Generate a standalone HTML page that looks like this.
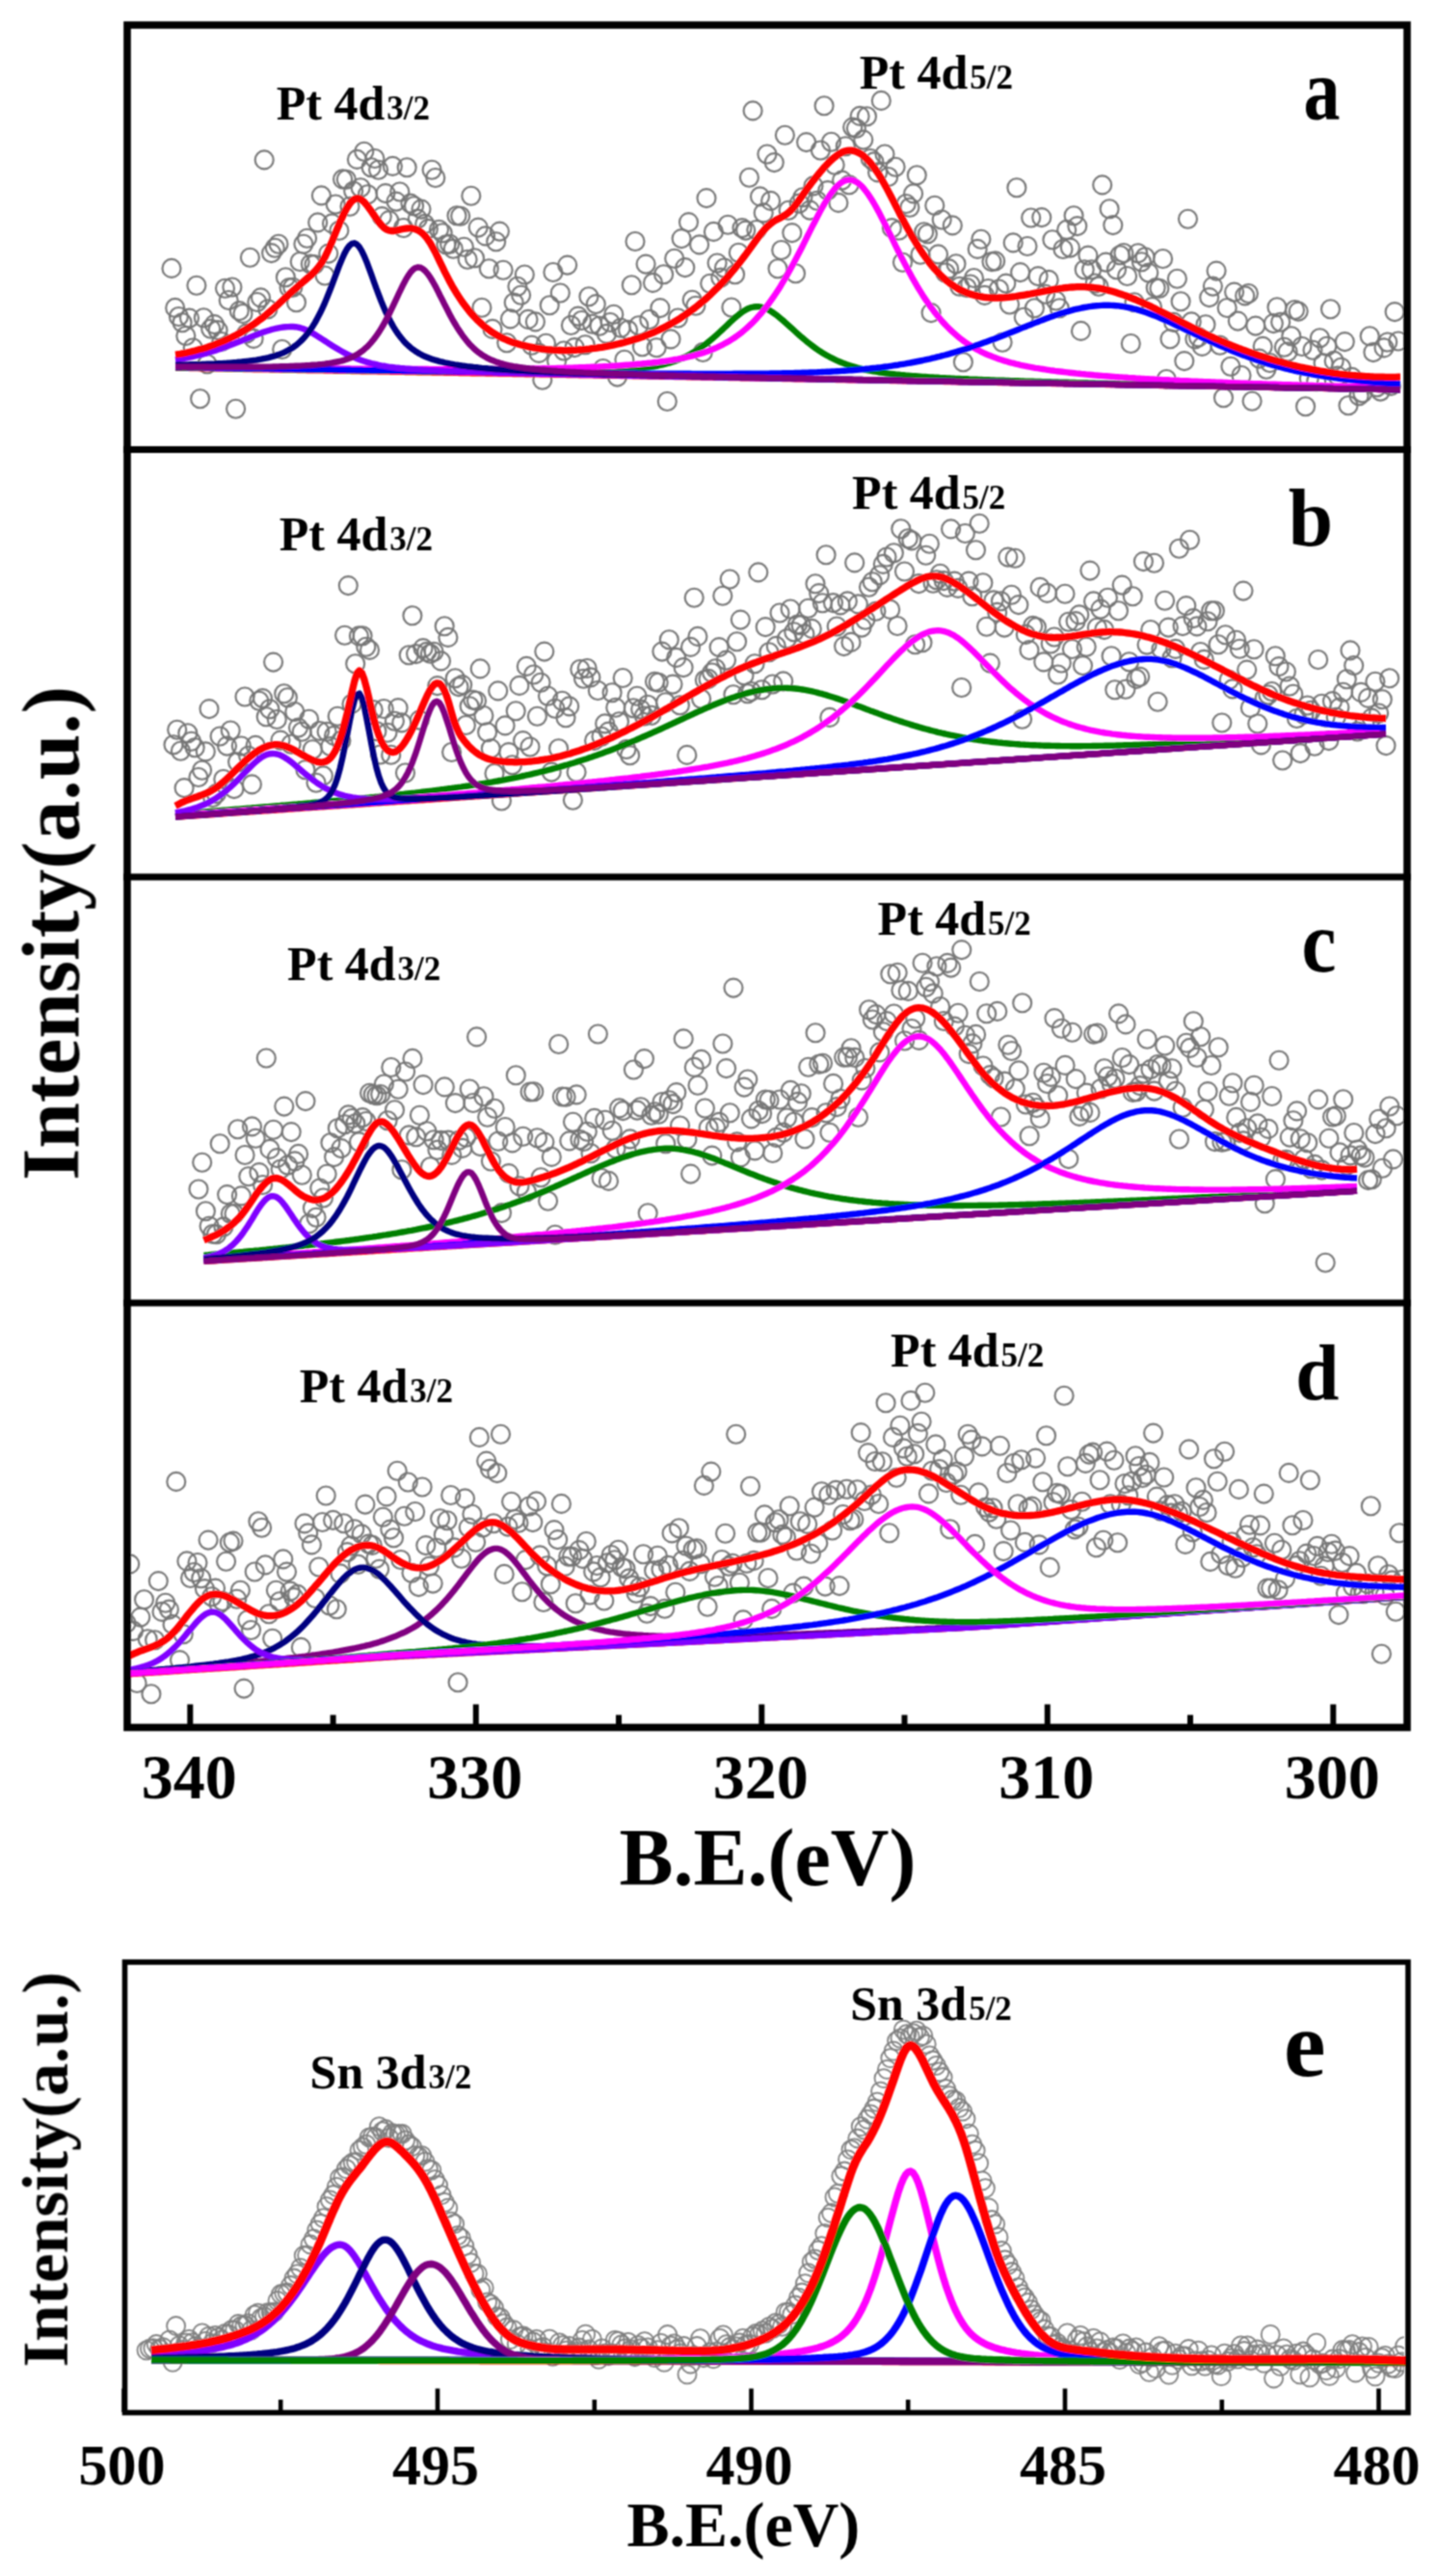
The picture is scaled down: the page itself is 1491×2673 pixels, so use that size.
<!DOCTYPE html>
<html><head><meta charset="utf-8"><style>html,body{margin:0;padding:0;background:#fff;}svg{display:block;}</style></head>
<body><svg width="1491" height="2673" viewBox="0 0 1491 2673">
<defs><filter id="soft" x="0" y="0" width="100%" height="100%" filterUnits="userSpaceOnUse" primitiveUnits="userSpaceOnUse"><feConvolveMatrix order="3" kernelMatrix="1 2 1 2 4 2 1 2 1" divisor="16" edgeMode="duplicate" preserveAlpha="false"/></filter></defs>
<rect width="1491" height="2673" fill="#fff"/>
<g filter="url(#soft)">
<clipPath id="cpa"><rect x="135" y="29" width="1322" height="434"/></clipPath><g fill="none" stroke="#767676" stroke-width="2.1" clip-path="url(#cpa)"><circle cx="178.0" cy="278.4" r="9.5"/><circle cx="181.7" cy="319.4" r="9.5"/><circle cx="185.4" cy="328.5" r="9.5"/><circle cx="189.1" cy="334.8" r="9.5"/><circle cx="192.8" cy="348.5" r="9.5"/><circle cx="196.5" cy="330.1" r="9.5"/><circle cx="200.2" cy="361.0" r="9.5"/><circle cx="203.9" cy="296.2" r="9.5"/><circle cx="207.6" cy="413.7" r="9.5"/><circle cx="211.3" cy="329.7" r="9.5"/><circle cx="215.0" cy="377.8" r="9.5"/><circle cx="218.7" cy="341.2" r="9.5"/><circle cx="222.4" cy="336.6" r="9.5"/><circle cx="226.1" cy="342.6" r="9.5"/><circle cx="229.8" cy="354.5" r="9.5"/><circle cx="233.5" cy="299.3" r="9.5"/><circle cx="237.2" cy="311.5" r="9.5"/><circle cx="240.9" cy="298.0" r="9.5"/><circle cx="244.6" cy="424.3" r="9.5"/><circle cx="248.3" cy="322.6" r="9.5"/><circle cx="252.0" cy="325.5" r="9.5"/><circle cx="255.7" cy="346.1" r="9.5"/><circle cx="259.4" cy="267.3" r="9.5"/><circle cx="263.1" cy="351.4" r="9.5"/><circle cx="266.8" cy="313.5" r="9.5"/><circle cx="270.5" cy="308.9" r="9.5"/><circle cx="274.2" cy="165.9" r="9.5"/><circle cx="277.9" cy="320.8" r="9.5"/><circle cx="281.6" cy="262.6" r="9.5"/><circle cx="285.3" cy="257.2" r="9.5"/><circle cx="289.0" cy="253.3" r="9.5"/><circle cx="292.7" cy="362.5" r="9.5"/><circle cx="296.4" cy="287.7" r="9.5"/><circle cx="300.1" cy="298.6" r="9.5"/><circle cx="303.8" cy="298.3" r="9.5"/><circle cx="307.5" cy="313.7" r="9.5"/><circle cx="311.2" cy="271.5" r="9.5"/><circle cx="314.9" cy="253.2" r="9.5"/><circle cx="318.6" cy="247.2" r="9.5"/><circle cx="322.3" cy="274.0" r="9.5"/><circle cx="326.0" cy="274.6" r="9.5"/><circle cx="329.7" cy="230.9" r="9.5"/><circle cx="333.4" cy="202.9" r="9.5"/><circle cx="337.1" cy="286.0" r="9.5"/><circle cx="340.8" cy="263.1" r="9.5"/><circle cx="344.5" cy="231.9" r="9.5"/><circle cx="348.2" cy="212.0" r="9.5"/><circle cx="351.9" cy="239.3" r="9.5"/><circle cx="355.6" cy="185.9" r="9.5"/><circle cx="359.3" cy="186.3" r="9.5"/><circle cx="363.0" cy="214.2" r="9.5"/><circle cx="366.7" cy="198.3" r="9.5"/><circle cx="370.4" cy="165.4" r="9.5"/><circle cx="374.1" cy="194.7" r="9.5"/><circle cx="377.8" cy="157.3" r="9.5"/><circle cx="381.5" cy="201.7" r="9.5"/><circle cx="385.2" cy="173.8" r="9.5"/><circle cx="388.9" cy="164.5" r="9.5"/><circle cx="392.6" cy="176.2" r="9.5"/><circle cx="396.3" cy="224.6" r="9.5"/><circle cx="400.0" cy="200.6" r="9.5"/><circle cx="403.7" cy="228.6" r="9.5"/><circle cx="407.4" cy="172.4" r="9.5"/><circle cx="411.1" cy="209.1" r="9.5"/><circle cx="414.8" cy="199.0" r="9.5"/><circle cx="418.5" cy="236.5" r="9.5"/><circle cx="422.2" cy="173.7" r="9.5"/><circle cx="425.9" cy="211.1" r="9.5"/><circle cx="429.6" cy="213.8" r="9.5"/><circle cx="433.3" cy="227.1" r="9.5"/><circle cx="437.0" cy="217.1" r="9.5"/><circle cx="440.7" cy="232.4" r="9.5"/><circle cx="444.4" cy="237.4" r="9.5"/><circle cx="448.1" cy="176.3" r="9.5"/><circle cx="451.8" cy="184.5" r="9.5"/><circle cx="455.5" cy="238.2" r="9.5"/><circle cx="459.2" cy="241.8" r="9.5"/><circle cx="462.9" cy="253.7" r="9.5"/><circle cx="466.6" cy="253.2" r="9.5"/><circle cx="470.3" cy="258.3" r="9.5"/><circle cx="474.0" cy="223.7" r="9.5"/><circle cx="477.7" cy="224.2" r="9.5"/><circle cx="481.4" cy="256.2" r="9.5"/><circle cx="485.1" cy="269.2" r="9.5"/><circle cx="488.8" cy="203.3" r="9.5"/><circle cx="492.5" cy="267.8" r="9.5"/><circle cx="496.2" cy="236.1" r="9.5"/><circle cx="499.9" cy="319.2" r="9.5"/><circle cx="503.6" cy="244.9" r="9.5"/><circle cx="507.3" cy="278.7" r="9.5"/><circle cx="511.0" cy="341.4" r="9.5"/><circle cx="514.7" cy="250.7" r="9.5"/><circle cx="518.4" cy="240.1" r="9.5"/><circle cx="522.1" cy="280.2" r="9.5"/><circle cx="525.8" cy="355.7" r="9.5"/><circle cx="529.5" cy="330.9" r="9.5"/><circle cx="533.2" cy="314.0" r="9.5"/><circle cx="536.9" cy="297.3" r="9.5"/><circle cx="540.6" cy="306.3" r="9.5"/><circle cx="544.3" cy="285.0" r="9.5"/><circle cx="548.0" cy="331.4" r="9.5"/><circle cx="551.7" cy="358.2" r="9.5"/><circle cx="555.4" cy="333.9" r="9.5"/><circle cx="559.1" cy="366.4" r="9.5"/><circle cx="562.8" cy="394.3" r="9.5"/><circle cx="566.5" cy="356.2" r="9.5"/><circle cx="570.2" cy="316.7" r="9.5"/><circle cx="573.9" cy="282.5" r="9.5"/><circle cx="577.6" cy="374.4" r="9.5"/><circle cx="581.3" cy="304.0" r="9.5"/><circle cx="585.0" cy="364.0" r="9.5"/><circle cx="588.7" cy="275.1" r="9.5"/><circle cx="592.4" cy="337.5" r="9.5"/><circle cx="596.1" cy="360.6" r="9.5"/><circle cx="599.8" cy="328.1" r="9.5"/><circle cx="603.5" cy="332.5" r="9.5"/><circle cx="607.2" cy="357.7" r="9.5"/><circle cx="610.9" cy="307.7" r="9.5"/><circle cx="614.6" cy="336.3" r="9.5"/><circle cx="618.3" cy="315.6" r="9.5"/><circle cx="622.0" cy="338.2" r="9.5"/><circle cx="625.7" cy="382.5" r="9.5"/><circle cx="629.4" cy="346.4" r="9.5"/><circle cx="633.1" cy="334.5" r="9.5"/><circle cx="636.8" cy="326.2" r="9.5"/><circle cx="640.5" cy="391.1" r="9.5"/><circle cx="644.2" cy="340.2" r="9.5"/><circle cx="647.9" cy="373.3" r="9.5"/><circle cx="651.6" cy="342.4" r="9.5"/><circle cx="655.3" cy="295.7" r="9.5"/><circle cx="659.0" cy="250.5" r="9.5"/><circle cx="662.7" cy="337.7" r="9.5"/><circle cx="666.4" cy="359.7" r="9.5"/><circle cx="670.1" cy="274.1" r="9.5"/><circle cx="673.8" cy="331.5" r="9.5"/><circle cx="677.5" cy="293.4" r="9.5"/><circle cx="681.2" cy="360.7" r="9.5"/><circle cx="684.9" cy="319.6" r="9.5"/><circle cx="688.6" cy="284.7" r="9.5"/><circle cx="692.3" cy="416.5" r="9.5"/><circle cx="696.0" cy="351.9" r="9.5"/><circle cx="699.7" cy="268.3" r="9.5"/><circle cx="703.4" cy="330.0" r="9.5"/><circle cx="707.1" cy="247.6" r="9.5"/><circle cx="710.8" cy="277.6" r="9.5"/><circle cx="714.5" cy="230.6" r="9.5"/><circle cx="718.2" cy="311.2" r="9.5"/><circle cx="721.9" cy="317.3" r="9.5"/><circle cx="725.6" cy="253.9" r="9.5"/><circle cx="729.3" cy="365.5" r="9.5"/><circle cx="733.0" cy="205.6" r="9.5"/><circle cx="736.7" cy="294.2" r="9.5"/><circle cx="740.4" cy="240.4" r="9.5"/><circle cx="744.1" cy="273.0" r="9.5"/><circle cx="747.8" cy="288.1" r="9.5"/><circle cx="751.5" cy="278.0" r="9.5"/><circle cx="755.2" cy="233.3" r="9.5"/><circle cx="758.9" cy="319.0" r="9.5"/><circle cx="762.6" cy="284.7" r="9.5"/><circle cx="766.3" cy="262.2" r="9.5"/><circle cx="770.0" cy="236.6" r="9.5"/><circle cx="773.7" cy="239.1" r="9.5"/><circle cx="777.4" cy="184.2" r="9.5"/><circle cx="781.1" cy="114.9" r="9.5"/><circle cx="784.8" cy="238.5" r="9.5"/><circle cx="788.5" cy="203.9" r="9.5"/><circle cx="792.2" cy="220.9" r="9.5"/><circle cx="795.9" cy="160.0" r="9.5"/><circle cx="799.6" cy="208.4" r="9.5"/><circle cx="803.3" cy="168.6" r="9.5"/><circle cx="807.0" cy="278.7" r="9.5"/><circle cx="810.7" cy="259.5" r="9.5"/><circle cx="814.4" cy="140.2" r="9.5"/><circle cx="818.1" cy="218.2" r="9.5"/><circle cx="821.8" cy="241.6" r="9.5"/><circle cx="825.5" cy="283.8" r="9.5"/><circle cx="829.2" cy="211.1" r="9.5"/><circle cx="832.9" cy="204.7" r="9.5"/><circle cx="836.6" cy="147.6" r="9.5"/><circle cx="840.3" cy="218.1" r="9.5"/><circle cx="844.0" cy="192.9" r="9.5"/><circle cx="847.7" cy="208.2" r="9.5"/><circle cx="851.4" cy="156.0" r="9.5"/><circle cx="855.1" cy="109.7" r="9.5"/><circle cx="858.8" cy="197.6" r="9.5"/><circle cx="862.5" cy="147.2" r="9.5"/><circle cx="866.2" cy="171.3" r="9.5"/><circle cx="869.9" cy="210.4" r="9.5"/><circle cx="873.6" cy="187.1" r="9.5"/><circle cx="877.3" cy="151.7" r="9.5"/><circle cx="881.0" cy="191.8" r="9.5"/><circle cx="884.7" cy="132.1" r="9.5"/><circle cx="888.4" cy="133.2" r="9.5"/><circle cx="892.1" cy="120.4" r="9.5"/><circle cx="895.8" cy="145.1" r="9.5"/><circle cx="899.5" cy="120.8" r="9.5"/><circle cx="903.2" cy="164.5" r="9.5"/><circle cx="906.9" cy="167.9" r="9.5"/><circle cx="910.6" cy="178.9" r="9.5"/><circle cx="914.3" cy="104.4" r="9.5"/><circle cx="918.0" cy="160.0" r="9.5"/><circle cx="921.7" cy="183.5" r="9.5"/><circle cx="925.4" cy="236.6" r="9.5"/><circle cx="929.1" cy="173.3" r="9.5"/><circle cx="932.8" cy="239.0" r="9.5"/><circle cx="936.5" cy="272.2" r="9.5"/><circle cx="940.2" cy="211.5" r="9.5"/><circle cx="943.9" cy="215.3" r="9.5"/><circle cx="947.6" cy="200.9" r="9.5"/><circle cx="951.3" cy="181.8" r="9.5"/><circle cx="955.0" cy="264.2" r="9.5"/><circle cx="958.7" cy="240.7" r="9.5"/><circle cx="962.4" cy="242.7" r="9.5"/><circle cx="966.1" cy="324.6" r="9.5"/><circle cx="969.8" cy="213.3" r="9.5"/><circle cx="973.5" cy="263.9" r="9.5"/><circle cx="977.2" cy="228.0" r="9.5"/><circle cx="980.9" cy="283.0" r="9.5"/><circle cx="984.6" cy="278.9" r="9.5"/><circle cx="988.3" cy="233.9" r="9.5"/><circle cx="992.0" cy="273.8" r="9.5"/><circle cx="995.7" cy="297.3" r="9.5"/><circle cx="999.4" cy="375.7" r="9.5"/><circle cx="1003.1" cy="298.5" r="9.5"/><circle cx="1006.8" cy="295.0" r="9.5"/><circle cx="1010.5" cy="288.5" r="9.5"/><circle cx="1014.2" cy="258.4" r="9.5"/><circle cx="1017.9" cy="248.2" r="9.5"/><circle cx="1021.6" cy="306.4" r="9.5"/><circle cx="1025.3" cy="299.5" r="9.5"/><circle cx="1029.0" cy="271.6" r="9.5"/><circle cx="1032.7" cy="270.9" r="9.5"/><circle cx="1036.4" cy="300.0" r="9.5"/><circle cx="1040.1" cy="355.3" r="9.5"/><circle cx="1043.8" cy="294.1" r="9.5"/><circle cx="1047.5" cy="316.0" r="9.5"/><circle cx="1051.2" cy="251.9" r="9.5"/><circle cx="1054.9" cy="194.7" r="9.5"/><circle cx="1058.6" cy="282.6" r="9.5"/><circle cx="1062.3" cy="329.2" r="9.5"/><circle cx="1066.0" cy="255.5" r="9.5"/><circle cx="1069.7" cy="226.0" r="9.5"/><circle cx="1073.4" cy="319.7" r="9.5"/><circle cx="1077.1" cy="286.6" r="9.5"/><circle cx="1080.8" cy="225.6" r="9.5"/><circle cx="1084.5" cy="305.2" r="9.5"/><circle cx="1088.2" cy="290.4" r="9.5"/><circle cx="1091.9" cy="248.8" r="9.5"/><circle cx="1095.6" cy="312.0" r="9.5"/><circle cx="1099.3" cy="319.7" r="9.5"/><circle cx="1103.0" cy="258.5" r="9.5"/><circle cx="1106.7" cy="238.4" r="9.5"/><circle cx="1110.4" cy="257.1" r="9.5"/><circle cx="1114.1" cy="223.7" r="9.5"/><circle cx="1117.8" cy="234.6" r="9.5"/><circle cx="1121.5" cy="343.4" r="9.5"/><circle cx="1125.2" cy="279.7" r="9.5"/><circle cx="1128.9" cy="265.1" r="9.5"/><circle cx="1132.6" cy="279.7" r="9.5"/><circle cx="1136.3" cy="294.0" r="9.5"/><circle cx="1140.0" cy="297.3" r="9.5"/><circle cx="1143.7" cy="191.9" r="9.5"/><circle cx="1147.4" cy="272.1" r="9.5"/><circle cx="1151.1" cy="216.7" r="9.5"/><circle cx="1154.8" cy="233.6" r="9.5"/><circle cx="1158.5" cy="279.7" r="9.5"/><circle cx="1162.2" cy="264.8" r="9.5"/><circle cx="1165.9" cy="262.5" r="9.5"/><circle cx="1169.6" cy="286.5" r="9.5"/><circle cx="1173.3" cy="356.5" r="9.5"/><circle cx="1177.0" cy="313.8" r="9.5"/><circle cx="1180.7" cy="262.7" r="9.5"/><circle cx="1184.4" cy="271.7" r="9.5"/><circle cx="1188.1" cy="266.8" r="9.5"/><circle cx="1191.8" cy="283.1" r="9.5"/><circle cx="1195.5" cy="318.5" r="9.5"/><circle cx="1199.2" cy="298.6" r="9.5"/><circle cx="1202.9" cy="299.3" r="9.5"/><circle cx="1206.6" cy="268.5" r="9.5"/><circle cx="1210.3" cy="393.5" r="9.5"/><circle cx="1214.0" cy="351.8" r="9.5"/><circle cx="1217.7" cy="334.4" r="9.5"/><circle cx="1221.4" cy="289.3" r="9.5"/><circle cx="1225.1" cy="312.8" r="9.5"/><circle cx="1228.8" cy="374.6" r="9.5"/><circle cx="1232.5" cy="227.3" r="9.5"/><circle cx="1236.2" cy="333.9" r="9.5"/><circle cx="1239.9" cy="351.9" r="9.5"/><circle cx="1243.6" cy="349.9" r="9.5"/><circle cx="1247.3" cy="359.4" r="9.5"/><circle cx="1251.0" cy="336.7" r="9.5"/><circle cx="1254.7" cy="308.6" r="9.5"/><circle cx="1258.4" cy="297.1" r="9.5"/><circle cx="1262.1" cy="281.1" r="9.5"/><circle cx="1265.8" cy="358.3" r="9.5"/><circle cx="1269.5" cy="412.8" r="9.5"/><circle cx="1273.2" cy="319.5" r="9.5"/><circle cx="1276.9" cy="380.3" r="9.5"/><circle cx="1280.6" cy="303.1" r="9.5"/><circle cx="1284.3" cy="333.1" r="9.5"/><circle cx="1288.0" cy="389.5" r="9.5"/><circle cx="1291.7" cy="306.9" r="9.5"/><circle cx="1295.4" cy="304.5" r="9.5"/><circle cx="1299.1" cy="416.3" r="9.5"/><circle cx="1302.8" cy="338.1" r="9.5"/><circle cx="1306.5" cy="372.1" r="9.5"/><circle cx="1310.2" cy="359.4" r="9.5"/><circle cx="1313.9" cy="383.2" r="9.5"/><circle cx="1317.6" cy="376.5" r="9.5"/><circle cx="1321.3" cy="335.6" r="9.5"/><circle cx="1325.0" cy="318.7" r="9.5"/><circle cx="1328.7" cy="334.3" r="9.5"/><circle cx="1332.4" cy="360.2" r="9.5"/><circle cx="1336.1" cy="365.0" r="9.5"/><circle cx="1339.8" cy="348.8" r="9.5"/><circle cx="1343.5" cy="321.5" r="9.5"/><circle cx="1347.2" cy="323.1" r="9.5"/><circle cx="1350.9" cy="359.5" r="9.5"/><circle cx="1354.6" cy="421.7" r="9.5"/><circle cx="1358.3" cy="392.7" r="9.5"/><circle cx="1362.0" cy="363.3" r="9.5"/><circle cx="1365.7" cy="395.8" r="9.5"/><circle cx="1369.4" cy="350.8" r="9.5"/><circle cx="1373.1" cy="376.8" r="9.5"/><circle cx="1376.8" cy="359.3" r="9.5"/><circle cx="1380.5" cy="320.7" r="9.5"/><circle cx="1384.2" cy="374.4" r="9.5"/><circle cx="1387.9" cy="390.1" r="9.5"/><circle cx="1391.6" cy="381.2" r="9.5"/><circle cx="1395.3" cy="354.6" r="9.5"/><circle cx="1399.0" cy="420.7" r="9.5"/><circle cx="1402.7" cy="391.4" r="9.5"/><circle cx="1406.4" cy="396.7" r="9.5"/><circle cx="1410.1" cy="410.8" r="9.5"/><circle cx="1413.8" cy="407.8" r="9.5"/><circle cx="1417.5" cy="479.7" r="9.5"/><circle cx="1421.2" cy="348.7" r="9.5"/><circle cx="1424.9" cy="365.6" r="9.5"/><circle cx="1428.6" cy="401.7" r="9.5"/><circle cx="1432.3" cy="406.1" r="9.5"/><circle cx="1436.0" cy="360.9" r="9.5"/><circle cx="1439.7" cy="355.0" r="9.5"/><circle cx="1443.4" cy="400.4" r="9.5"/><circle cx="1447.1" cy="323.6" r="9.5"/><circle cx="1450.8" cy="354.0" r="9.5"/></g><path d="M182.0,381.7L184.5,381.7L187.1,381.8L189.6,381.8L192.2,381.9L194.7,381.9L197.3,382.0L199.8,382.0L202.3,382.1L204.9,382.1L207.4,382.2L210.0,382.2L212.5,382.2L215.0,382.3L217.6,382.3L220.1,382.4L222.7,382.4L225.2,382.5L227.8,382.5L230.3,382.6L232.8,382.6L235.4,382.7L237.9,382.7L240.5,382.7L243.0,382.8L245.6,382.8L248.1,382.9L250.6,382.9L253.2,383.0L255.7,383.0L258.3,383.1L260.8,383.1L263.3,383.2L265.9,383.2L268.4,383.2L271.0,383.3L273.5,383.3L276.1,383.4L278.6,383.4L281.1,383.5L283.7,383.5L286.2,383.6L288.8,383.6L291.3,383.7L293.8,383.7L296.4,383.7L298.9,383.8L301.5,383.8L304.0,383.9L306.6,383.9L309.1,384.0L311.6,384.0L314.2,384.1L316.7,384.1L319.3,384.2L321.8,384.2L324.4,384.2L326.9,384.3L329.4,384.3L332.0,384.4L334.5,384.4L337.1,384.5L339.6,384.5L342.1,384.6L344.7,384.6L347.2,384.7L349.8,384.7L352.3,384.7L354.9,384.8L357.4,384.8L359.9,384.9L362.5,384.9L365.0,385.0L367.6,385.0L370.1,385.1L372.6,385.1L375.2,385.2L377.7,385.2L380.3,385.2L382.8,385.3L385.4,385.3L387.9,385.4L390.4,385.4L393.0,385.5L395.5,385.5L398.1,385.6L400.6,385.6L403.2,385.6L405.7,385.7L408.2,385.7L410.8,385.8L413.3,385.8L415.9,385.9L418.4,385.9L420.9,386.0L423.5,386.0L426.0,386.1L428.6,386.1L431.1,386.1L433.7,386.2L436.2,386.2L438.7,386.3L441.3,386.3L443.8,386.4L446.4,386.4L448.9,386.5L451.5,386.5L454.0,386.6L456.5,386.6L459.1,386.6L461.6,386.7L464.2,386.7L466.7,386.8L469.2,386.8L471.8,386.9L474.3,386.9L476.9,387.0L479.4,387.0L482.0,387.1L484.5,387.1L487.0,387.1L489.6,387.2L492.1,387.2L494.7,387.3L497.2,387.3L499.8,387.4L502.3,387.4L504.8,387.5L507.4,387.5L509.9,387.6L512.5,387.6L515.0,387.6L517.5,387.7L520.1,387.7L522.6,387.8L525.2,387.8L527.7,387.9L530.3,387.9L532.8,388.0L535.3,388.0L537.9,388.1L540.4,388.1L543.0,388.1L545.5,388.2L548.0,388.2L550.6,388.3L553.1,388.3L555.7,388.4L558.2,388.4L560.8,388.5L563.3,388.5L565.8,388.6L568.4,388.6L570.9,388.6L573.5,388.7L576.0,388.7L578.6,388.8L581.1,388.8L583.6,388.9L586.2,388.9L588.7,389.0L591.3,389.0L593.8,389.1L596.3,389.1L598.9,389.1L601.4,389.2L604.0,389.2L606.5,389.3L609.1,389.3L611.6,389.4L614.1,389.4L616.7,389.5L619.2,389.5L621.8,389.6L624.3,389.6L626.9,389.6L629.4,389.7L631.9,389.7L634.5,389.8L637.0,389.8L639.6,389.9L642.1,389.9L644.6,390.0L647.2,390.0L649.7,390.1L652.3,390.1L654.8,390.1L657.4,390.2L659.9,390.2L662.4,390.3L665.0,390.3L667.5,390.4L670.1,390.4L672.6,390.5L675.1,390.5L677.7,390.6L680.2,390.6L682.8,390.6L685.3,390.7L687.9,390.7L690.4,390.8L692.9,390.8L695.5,390.9L698.0,390.9L700.6,391.0L703.1,391.0L705.7,391.1L708.2,391.1L710.7,391.1L713.3,391.2L715.8,391.2L718.4,391.3L720.9,391.3L723.4,391.4L726.0,391.4L728.5,391.5L731.1,391.5L733.6,391.6L736.2,391.6L738.7,391.6L741.2,391.7L743.8,391.7L746.3,391.8L748.9,391.8L751.4,391.9L754.0,391.9L756.5,392.0L759.0,392.0L761.6,392.1L764.1,392.1L766.7,392.1L769.2,392.2L771.7,392.2L774.3,392.3L776.8,392.3L779.4,392.4L781.9,392.4L784.5,392.5L787.0,392.5L789.5,392.6L792.1,392.6L794.6,392.6L797.2,392.7L799.7,392.7L802.2,392.8L804.8,392.8L807.3,392.9L809.9,392.9L812.4,393.0L815.0,393.0L817.5,393.0L820.0,393.1L822.6,393.1L825.1,393.2L827.7,393.2L830.2,393.3L832.8,393.3L835.3,393.4L837.8,393.4L840.4,393.5L842.9,393.5L845.5,393.5L848.0,393.6L850.5,393.6L853.1,393.7L855.6,393.7L858.2,393.8L860.7,393.8L863.3,393.9L865.8,393.9L868.3,394.0L870.9,394.0L873.4,394.0L876.0,394.1L878.5,394.1L881.0,394.2L883.6,394.2L886.1,394.3L888.7,394.3L891.2,394.4L893.8,394.4L896.3,394.5L898.8,394.5L901.4,394.5L903.9,394.6L906.5,394.6L909.0,394.7L911.6,394.7L914.1,394.8L916.6,394.8L919.2,394.9L921.7,394.9L924.3,395.0L926.8,395.0L929.3,395.0L931.9,395.1L934.4,395.1L937.0,395.2L939.5,395.2L942.1,395.3L944.6,395.3L947.1,395.4L949.7,395.4L952.2,395.5L954.8,395.5L957.3,395.5L959.9,395.6L962.4,395.6L964.9,395.7L967.5,395.7L970.0,395.8L972.6,395.8L975.1,395.9L977.6,395.9L980.2,396.0L982.7,396.0L985.3,396.0L987.8,396.1L990.4,396.1L992.9,396.2L995.4,396.2L998.0,396.3L1000.5,396.3L1003.1,396.4L1005.6,396.4L1008.1,396.5L1010.7,396.5L1013.2,396.5L1015.8,396.6L1018.3,396.6L1020.9,396.7L1023.4,396.7L1025.9,396.8L1028.5,396.8L1031.0,396.9L1033.6,396.9L1036.1,397.0L1038.7,397.0L1041.2,397.0L1043.7,397.1L1046.3,397.1L1048.8,397.2L1051.4,397.2L1053.9,397.3L1056.4,397.3L1059.0,397.4L1061.5,397.4L1064.1,397.5L1066.6,397.5L1069.2,397.5L1071.7,397.6L1074.2,397.6L1076.8,397.7L1079.3,397.7L1081.9,397.8L1084.4,397.8L1087.0,397.9L1089.5,397.9L1092.0,398.0L1094.6,398.0L1097.1,398.0L1099.7,398.1L1102.2,398.1L1104.7,398.2L1107.3,398.2L1109.8,398.3L1112.4,398.3L1114.9,398.4L1117.5,398.4L1120.0,398.5L1122.5,398.5L1125.1,398.5L1127.6,398.6L1130.2,398.6L1132.7,398.7L1135.2,398.7L1137.8,398.8L1140.3,398.8L1142.9,398.9L1145.4,398.9L1148.0,399.0L1150.5,399.0L1153.0,399.0L1155.6,399.1L1158.1,399.1L1160.7,399.2L1163.2,399.2L1165.8,399.3L1168.3,399.3L1170.8,399.4L1173.4,399.4L1175.9,399.5L1178.5,399.5L1181.0,399.5L1183.5,399.6L1186.1,399.6L1188.6,399.7L1191.2,399.7L1193.7,399.8L1196.3,399.8L1198.8,399.9L1201.3,399.9L1203.9,400.0L1206.4,400.0L1209.0,400.0L1211.5,400.1L1214.1,400.1L1216.6,400.2L1219.1,400.2L1221.7,400.3L1224.2,400.3L1226.8,400.4L1229.3,400.4L1231.8,400.5L1234.4,400.5L1236.9,400.5L1239.5,400.6L1242.0,400.6L1244.6,400.7L1247.1,400.7L1249.6,400.8L1252.2,400.8L1254.7,400.9L1257.3,400.9L1259.8,400.9L1262.3,401.0L1264.9,401.0L1267.4,401.1L1270.0,401.1L1272.5,401.2L1275.1,401.2L1277.6,401.3L1280.1,401.3L1282.7,401.4L1285.2,401.4L1287.8,401.4L1290.3,401.5L1292.9,401.5L1295.4,401.6L1297.9,401.6L1300.5,401.7L1303.0,401.7L1305.6,401.8L1308.1,401.8L1310.6,401.9L1313.2,401.9L1315.7,401.9L1318.3,402.0L1320.8,402.0L1323.4,402.1L1325.9,402.1L1328.4,402.2L1331.0,402.2L1333.5,402.3L1336.1,402.3L1338.6,402.4L1341.2,402.4L1343.7,402.4L1346.2,402.5L1348.8,402.5L1351.3,402.6L1353.9,402.6L1356.4,402.7L1358.9,402.7L1361.5,402.8L1364.0,402.8L1366.6,402.9L1369.1,402.9L1371.7,402.9L1374.2,403.0L1376.7,403.0L1379.3,403.1L1381.8,403.1L1384.4,403.2L1386.9,403.2L1389.5,403.3L1392.0,403.3L1394.5,403.4L1397.1,403.4L1399.6,403.4L1402.2,403.5L1404.7,403.5L1407.2,403.6L1409.8,403.6L1412.3,403.7L1414.9,403.7L1417.4,403.8L1420.0,403.8L1422.5,403.9L1425.0,403.9L1427.6,403.9L1430.1,404.0L1432.7,404.0L1435.2,404.1L1437.7,404.1L1440.3,404.2L1442.8,404.2L1445.4,404.3L1447.9,404.3L1450.5,404.4L1453.0,404.4" stroke="#ff0000" stroke-width="6.4" fill="none"/><path d="M182.0,381.3L184.5,381.4L187.1,381.4L189.6,381.5L192.2,381.5L194.7,381.6L197.3,381.6L199.8,381.6L202.3,381.7L204.9,381.7L207.4,381.8L210.0,381.8L212.5,381.9L215.0,381.9L217.6,381.9L220.1,382.0L222.7,382.0L225.2,382.1L227.8,382.1L230.3,382.1L232.8,382.2L235.4,382.2L237.9,382.3L240.5,382.3L243.0,382.4L245.6,382.4L248.1,382.4L250.6,382.5L253.2,382.5L255.7,382.6L258.3,382.6L260.8,382.6L263.3,382.7L265.9,382.7L268.4,382.8L271.0,382.8L273.5,382.8L276.1,382.9L278.6,382.9L281.1,383.0L283.7,383.0L286.2,383.0L288.8,383.1L291.3,383.1L293.8,383.2L296.4,383.2L298.9,383.2L301.5,383.3L304.0,383.3L306.6,383.4L309.1,383.4L311.6,383.4L314.2,383.5L316.7,383.5L319.3,383.6L321.8,383.6L324.4,383.6L326.9,383.7L329.4,383.7L332.0,383.8L334.5,383.8L337.1,383.8L339.6,383.9L342.1,383.9L344.7,383.9L347.2,384.0L349.8,384.0L352.3,384.1L354.9,384.1L357.4,384.1L359.9,384.2L362.5,384.2L365.0,384.2L367.6,384.3L370.1,384.3L372.6,384.4L375.2,384.4L377.7,384.4L380.3,384.5L382.8,384.5L385.4,384.5L387.9,384.6L390.4,384.6L393.0,384.6L395.5,384.7L398.1,384.7L400.6,384.7L403.2,384.8L405.7,384.8L408.2,384.8L410.8,384.9L413.3,384.9L415.9,384.9L418.4,385.0L420.9,385.0L423.5,385.0L426.0,385.1L428.6,385.1L431.1,385.1L433.7,385.2L436.2,385.2L438.7,385.2L441.3,385.3L443.8,385.3L446.4,385.3L448.9,385.3L451.5,385.4L454.0,385.4L456.5,385.4L459.1,385.5L461.6,385.5L464.2,385.5L466.7,385.5L469.2,385.6L471.8,385.6L474.3,385.6L476.9,385.6L479.4,385.7L482.0,385.7L484.5,385.7L487.0,385.7L489.6,385.7L492.1,385.8L494.7,385.8L497.2,385.8L499.8,385.8L502.3,385.8L504.8,385.9L507.4,385.9L509.9,385.9L512.5,385.9L515.0,385.9L517.5,385.9L520.1,386.0L522.6,386.0L525.2,386.0L527.7,386.0L530.3,386.0L532.8,386.0L535.3,386.0L537.9,386.0L540.4,386.0L543.0,386.0L545.5,386.0L548.0,386.0L550.6,386.0L553.1,386.0L555.7,386.0L558.2,386.0L560.8,386.0L563.3,386.0L565.8,386.0L568.4,386.0L570.9,386.0L573.5,386.0L576.0,385.9L578.6,385.9L581.1,385.9L583.6,385.9L586.2,385.8L588.7,385.8L591.3,385.8L593.8,385.7L596.3,385.7L598.9,385.7L601.4,385.6L604.0,385.6L606.5,385.5L609.1,385.5L611.6,385.4L614.1,385.3L616.7,385.3L619.2,385.2L621.8,385.1L624.3,385.0L626.9,384.9L629.4,384.8L631.9,384.7L634.5,384.6L637.0,384.5L639.6,384.3L642.1,384.2L644.6,384.1L647.2,383.9L649.7,383.7L652.3,383.5L654.8,383.3L657.4,383.1L659.9,382.8L662.4,382.6L665.0,382.3L667.5,382.0L670.1,381.6L672.6,381.3L675.1,380.9L677.7,380.5L680.2,380.0L682.8,379.5L685.3,378.9L687.9,378.3L690.4,377.7L692.9,377.0L695.5,376.3L698.0,375.4L700.6,374.6L703.1,373.6L705.7,372.6L708.2,371.5L710.7,370.3L713.3,369.1L715.8,367.8L718.4,366.3L720.9,364.8L723.4,363.2L726.0,361.5L728.5,359.8L731.1,357.9L733.6,355.9L736.2,353.9L738.7,351.8L741.2,349.6L743.8,347.3L746.3,345.0L748.9,342.6L751.4,340.2L754.0,337.8L756.5,335.4L759.0,333.0L761.6,330.7L764.1,328.5L766.7,326.4L769.2,324.5L771.7,322.7L774.3,321.2L776.8,320.0L779.4,319.1L781.9,318.5L784.5,318.2L787.0,318.3L789.5,318.6L792.1,319.3L794.6,320.2L797.2,321.4L799.7,322.8L802.2,324.5L804.8,326.3L807.3,328.3L809.9,330.4L812.4,332.5L815.0,334.8L817.5,337.1L820.0,339.4L822.6,341.7L825.1,344.0L827.7,346.3L830.2,348.6L832.8,350.8L835.3,352.9L837.8,355.0L840.4,357.0L842.9,358.9L845.5,360.8L848.0,362.6L850.5,364.3L853.1,365.9L855.6,367.4L858.2,368.9L860.7,370.3L863.3,371.6L865.8,372.9L868.3,374.1L870.9,375.2L873.4,376.3L876.0,377.2L878.5,378.2L881.0,379.1L883.6,379.9L886.1,380.6L888.7,381.4L891.2,382.0L893.8,382.7L896.3,383.3L898.8,383.8L901.4,384.4L903.9,384.8L906.5,385.3L909.0,385.7L911.6,386.2L914.1,386.5L916.6,386.9L919.2,387.3L921.7,387.6L924.3,387.9L926.8,388.2L929.3,388.5L931.9,388.7L934.4,389.0L937.0,389.2L939.5,389.5L942.1,389.7L944.6,389.9L947.1,390.1L949.7,390.3L952.2,390.5L954.8,390.7L957.3,390.9L959.9,391.0L962.4,391.2L964.9,391.4L967.5,391.5L970.0,391.7L972.6,391.8L975.1,392.0L977.6,392.1L980.2,392.2L982.7,392.4L985.3,392.5L987.8,392.6L990.4,392.8L992.9,392.9L995.4,393.0L998.0,393.1L1000.5,393.2L1003.1,393.3L1005.6,393.5L1008.1,393.6L1010.7,393.7L1013.2,393.8L1015.8,393.9L1018.3,394.0L1020.9,394.1L1023.4,394.2L1025.9,394.3L1028.5,394.4L1031.0,394.5L1033.6,394.6L1036.1,394.6L1038.7,394.7L1041.2,394.8L1043.7,394.9L1046.3,395.0L1048.8,395.1L1051.4,395.2L1053.9,395.2L1056.4,395.3L1059.0,395.4L1061.5,395.5L1064.1,395.6L1066.6,395.6L1069.2,395.7L1071.7,395.8L1074.2,395.9L1076.8,396.0L1079.3,396.0L1081.9,396.1L1084.4,396.2L1087.0,396.2L1089.5,396.3L1092.0,396.4L1094.6,396.5L1097.1,396.5L1099.7,396.6L1102.2,396.7L1104.7,396.7L1107.3,396.8L1109.8,396.9L1112.4,396.9L1114.9,397.0L1117.5,397.1L1120.0,397.1L1122.5,397.2L1125.1,397.3L1127.6,397.3L1130.2,397.4L1132.7,397.5L1135.2,397.5L1137.8,397.6L1140.3,397.6L1142.9,397.7L1145.4,397.8L1148.0,397.8L1150.5,397.9L1153.0,397.9L1155.6,398.0L1158.1,398.1L1160.7,398.1L1163.2,398.2L1165.8,398.2L1168.3,398.3L1170.8,398.4L1173.4,398.4L1175.9,398.5L1178.5,398.5L1181.0,398.6L1183.5,398.6L1186.1,398.7L1188.6,398.8L1191.2,398.8L1193.7,398.9L1196.3,398.9L1198.8,399.0L1201.3,399.0L1203.9,399.1L1206.4,399.2L1209.0,399.2L1211.5,399.3L1214.1,399.3L1216.6,399.4L1219.1,399.4L1221.7,399.5L1224.2,399.5L1226.8,399.6L1229.3,399.6L1231.8,399.7L1234.4,399.8L1236.9,399.8L1239.5,399.9L1242.0,399.9L1244.6,400.0L1247.1,400.0L1249.6,400.1L1252.2,400.1L1254.7,400.2L1257.3,400.2L1259.8,400.3L1262.3,400.3L1264.9,400.4L1267.4,400.4L1270.0,400.5L1272.5,400.5L1275.1,400.6L1277.6,400.6L1280.1,400.7L1282.7,400.8L1285.2,400.8L1287.8,400.9L1290.3,400.9L1292.9,401.0L1295.4,401.0L1297.9,401.1L1300.5,401.1L1303.0,401.2L1305.6,401.2L1308.1,401.3L1310.6,401.3L1313.2,401.4L1315.7,401.4L1318.3,401.5L1320.8,401.5L1323.4,401.6L1325.9,401.6L1328.4,401.7L1331.0,401.7L1333.5,401.8L1336.1,401.8L1338.6,401.9L1341.2,401.9L1343.7,402.0L1346.2,402.0L1348.8,402.1L1351.3,402.1L1353.9,402.2L1356.4,402.2L1358.9,402.3L1361.5,402.3L1364.0,402.4L1366.6,402.4L1369.1,402.5L1371.7,402.5L1374.2,402.6L1376.7,402.6L1379.3,402.7L1381.8,402.7L1384.4,402.8L1386.9,402.8L1389.5,402.9L1392.0,402.9L1394.5,403.0L1397.1,403.0L1399.6,403.0L1402.2,403.1L1404.7,403.1L1407.2,403.2L1409.8,403.2L1412.3,403.3L1414.9,403.3L1417.4,403.4L1420.0,403.4L1422.5,403.5L1425.0,403.5L1427.6,403.6L1430.1,403.6L1432.7,403.7L1435.2,403.7L1437.7,403.8L1440.3,403.8L1442.8,403.9L1445.4,403.9L1447.9,404.0L1450.5,404.0L1453.0,404.1" stroke="#008000" stroke-width="6.4" fill="none" stroke-linejoin="round"/><path d="M182.0,380.4L184.5,380.4L187.1,380.5L189.6,380.5L192.2,380.5L194.7,380.6L197.3,380.6L199.8,380.6L202.3,380.7L204.9,380.7L207.4,380.7L210.0,380.8L212.5,380.8L215.0,380.8L217.6,380.9L220.1,380.9L222.7,380.9L225.2,381.0L227.8,381.0L230.3,381.0L232.8,381.1L235.4,381.1L237.9,381.1L240.5,381.2L243.0,381.2L245.6,381.2L248.1,381.3L250.6,381.3L253.2,381.3L255.7,381.4L258.3,381.4L260.8,381.4L263.3,381.5L265.9,381.5L268.4,381.5L271.0,381.6L273.5,381.6L276.1,381.6L278.6,381.7L281.1,381.7L283.7,381.7L286.2,381.7L288.8,381.8L291.3,381.8L293.8,381.8L296.4,381.9L298.9,381.9L301.5,381.9L304.0,381.9L306.6,382.0L309.1,382.0L311.6,382.0L314.2,382.1L316.7,382.1L319.3,382.1L321.8,382.1L324.4,382.2L326.9,382.2L329.4,382.2L332.0,382.2L334.5,382.3L337.1,382.3L339.6,382.3L342.1,382.4L344.7,382.4L347.2,382.4L349.8,382.4L352.3,382.4L354.9,382.5L357.4,382.5L359.9,382.5L362.5,382.5L365.0,382.6L367.6,382.6L370.1,382.6L372.6,382.6L375.2,382.6L377.7,382.7L380.3,382.7L382.8,382.7L385.4,382.7L387.9,382.7L390.4,382.8L393.0,382.8L395.5,382.8L398.1,382.8L400.6,382.8L403.2,382.9L405.7,382.9L408.2,382.9L410.8,382.9L413.3,382.9L415.9,382.9L418.4,382.9L420.9,383.0L423.5,383.0L426.0,383.0L428.6,383.0L431.1,383.0L433.7,383.0L436.2,383.0L438.7,383.0L441.3,383.0L443.8,383.0L446.4,383.1L448.9,383.1L451.5,383.1L454.0,383.1L456.5,383.1L459.1,383.1L461.6,383.1L464.2,383.1L466.7,383.1L469.2,383.1L471.8,383.1L474.3,383.1L476.9,383.1L479.4,383.1L482.0,383.1L484.5,383.1L487.0,383.1L489.6,383.1L492.1,383.1L494.7,383.1L497.2,383.0L499.8,383.0L502.3,383.0L504.8,383.0L507.4,383.0L509.9,383.0L512.5,383.0L515.0,382.9L517.5,382.9L520.1,382.9L522.6,382.9L525.2,382.9L527.7,382.8L530.3,382.8L532.8,382.8L535.3,382.8L537.9,382.7L540.4,382.7L543.0,382.7L545.5,382.6L548.0,382.6L550.6,382.6L553.1,382.5L555.7,382.5L558.2,382.4L560.8,382.4L563.3,382.3L565.8,382.3L568.4,382.2L570.9,382.2L573.5,382.1L576.0,382.1L578.6,382.0L581.1,381.9L583.6,381.9L586.2,381.8L588.7,381.7L591.3,381.7L593.8,381.6L596.3,381.5L598.9,381.4L601.4,381.3L604.0,381.2L606.5,381.1L609.1,381.0L611.6,380.9L614.1,380.8L616.7,380.7L619.2,380.6L621.8,380.5L624.3,380.4L626.9,380.2L629.4,380.1L631.9,380.0L634.5,379.8L637.0,379.7L639.6,379.5L642.1,379.4L644.6,379.2L647.2,379.0L649.7,378.8L652.3,378.6L654.8,378.4L657.4,378.2L659.9,378.0L662.4,377.8L665.0,377.6L667.5,377.3L670.1,377.1L672.6,376.8L675.1,376.6L677.7,376.3L680.2,376.0L682.8,375.7L685.3,375.3L687.9,375.0L690.4,374.7L692.9,374.3L695.5,373.9L698.0,373.5L700.6,373.0L703.1,372.6L705.7,372.1L708.2,371.6L710.7,371.1L713.3,370.5L715.8,369.9L718.4,369.3L720.9,368.6L723.4,367.9L726.0,367.2L728.5,366.4L731.1,365.6L733.6,364.7L736.2,363.7L738.7,362.8L741.2,361.7L743.8,360.6L746.3,359.4L748.9,358.2L751.4,356.8L754.0,355.4L756.5,354.0L759.0,352.4L761.6,350.7L764.1,349.0L766.7,347.1L769.2,345.2L771.7,343.1L774.3,340.9L776.8,338.6L779.4,336.2L781.9,333.7L784.5,331.0L787.0,328.2L789.5,325.3L792.1,322.2L794.6,319.0L797.2,315.7L799.7,312.2L802.2,308.6L804.8,304.8L807.3,300.9L809.9,296.9L812.4,292.7L815.0,288.4L817.5,284.0L820.0,279.4L822.6,274.7L825.1,270.0L827.7,265.1L830.2,260.2L832.8,255.2L835.3,250.1L837.8,245.0L840.4,239.9L842.9,234.9L845.5,229.9L848.0,225.0L850.5,220.2L853.1,215.5L855.6,211.1L858.2,206.9L860.7,203.0L863.3,199.4L865.8,196.2L868.3,193.4L870.9,191.0L873.4,189.2L876.0,187.8L878.5,186.9L881.0,186.6L883.6,186.8L886.1,187.6L888.7,188.9L891.2,190.7L893.8,192.9L896.3,195.7L898.8,198.9L901.4,202.4L903.9,206.3L906.5,210.5L909.0,214.9L911.6,219.6L914.1,224.4L916.6,229.4L919.2,234.4L921.7,239.6L924.3,244.7L926.8,249.9L929.3,255.1L931.9,260.2L934.4,265.3L937.0,270.2L939.5,275.1L942.1,279.9L944.6,284.6L947.1,289.2L949.7,293.6L952.2,298.0L954.8,302.1L957.3,306.2L959.9,310.1L962.4,313.8L964.9,317.5L967.5,320.9L970.0,324.3L972.6,327.5L975.1,330.5L977.6,333.5L980.2,336.3L982.7,338.9L985.3,341.5L987.8,343.9L990.4,346.2L992.9,348.4L995.4,350.5L998.0,352.5L1000.5,354.4L1003.1,356.1L1005.6,357.8L1008.1,359.4L1010.7,361.0L1013.2,362.4L1015.8,363.8L1018.3,365.1L1020.9,366.3L1023.4,367.5L1025.9,368.6L1028.5,369.6L1031.0,370.6L1033.6,371.5L1036.1,372.4L1038.7,373.3L1041.2,374.1L1043.7,374.8L1046.3,375.6L1048.8,376.3L1051.4,376.9L1053.9,377.6L1056.4,378.2L1059.0,378.8L1061.5,379.3L1064.1,379.8L1066.6,380.4L1069.2,380.8L1071.7,381.3L1074.2,381.8L1076.8,382.2L1079.3,382.6L1081.9,383.0L1084.4,383.4L1087.0,383.8L1089.5,384.2L1092.0,384.5L1094.6,384.9L1097.1,385.2L1099.7,385.5L1102.2,385.8L1104.7,386.1L1107.3,386.4L1109.8,386.7L1112.4,387.0L1114.9,387.3L1117.5,387.6L1120.0,387.8L1122.5,388.1L1125.1,388.3L1127.6,388.6L1130.2,388.8L1132.7,389.0L1135.2,389.3L1137.8,389.5L1140.3,389.7L1142.9,389.9L1145.4,390.1L1148.0,390.3L1150.5,390.5L1153.0,390.7L1155.6,390.9L1158.1,391.1L1160.7,391.3L1163.2,391.4L1165.8,391.6L1168.3,391.8L1170.8,392.0L1173.4,392.1L1175.9,392.3L1178.5,392.5L1181.0,392.6L1183.5,392.8L1186.1,392.9L1188.6,393.1L1191.2,393.2L1193.7,393.4L1196.3,393.5L1198.8,393.7L1201.3,393.8L1203.9,393.9L1206.4,394.1L1209.0,394.2L1211.5,394.3L1214.1,394.5L1216.6,394.6L1219.1,394.7L1221.7,394.8L1224.2,395.0L1226.8,395.1L1229.3,395.2L1231.8,395.3L1234.4,395.4L1236.9,395.6L1239.5,395.7L1242.0,395.8L1244.6,395.9L1247.1,396.0L1249.6,396.1L1252.2,396.2L1254.7,396.3L1257.3,396.4L1259.8,396.5L1262.3,396.6L1264.9,396.7L1267.4,396.8L1270.0,396.9L1272.5,397.0L1275.1,397.1L1277.6,397.2L1280.1,397.3L1282.7,397.4L1285.2,397.5L1287.8,397.6L1290.3,397.7L1292.9,397.8L1295.4,397.9L1297.9,398.0L1300.5,398.1L1303.0,398.1L1305.6,398.2L1308.1,398.3L1310.6,398.4L1313.2,398.5L1315.7,398.6L1318.3,398.7L1320.8,398.7L1323.4,398.8L1325.9,398.9L1328.4,399.0L1331.0,399.1L1333.5,399.1L1336.1,399.2L1338.6,399.3L1341.2,399.4L1343.7,399.5L1346.2,399.5L1348.8,399.6L1351.3,399.7L1353.9,399.8L1356.4,399.8L1358.9,399.9L1361.5,400.0L1364.0,400.1L1366.6,400.1L1369.1,400.2L1371.7,400.3L1374.2,400.4L1376.7,400.4L1379.3,400.5L1381.8,400.6L1384.4,400.6L1386.9,400.7L1389.5,400.8L1392.0,400.8L1394.5,400.9L1397.1,401.0L1399.6,401.1L1402.2,401.1L1404.7,401.2L1407.2,401.3L1409.8,401.3L1412.3,401.4L1414.9,401.5L1417.4,401.5L1420.0,401.6L1422.5,401.7L1425.0,401.7L1427.6,401.8L1430.1,401.9L1432.7,401.9L1435.2,402.0L1437.7,402.0L1440.3,402.1L1442.8,402.2L1445.4,402.2L1447.9,402.3L1450.5,402.4L1453.0,402.4" stroke="#ff00ff" stroke-width="6.4" fill="none" stroke-linejoin="round"/><path d="M182.0,381.0L184.5,381.0L187.1,381.1L189.6,381.1L192.2,381.1L194.7,381.2L197.3,381.2L199.8,381.3L202.3,381.3L204.9,381.3L207.4,381.4L210.0,381.4L212.5,381.5L215.0,381.5L217.6,381.6L220.1,381.6L222.7,381.6L225.2,381.7L227.8,381.7L230.3,381.8L232.8,381.8L235.4,381.8L237.9,381.9L240.5,381.9L243.0,382.0L245.6,382.0L248.1,382.0L250.6,382.1L253.2,382.1L255.7,382.2L258.3,382.2L260.8,382.2L263.3,382.3L265.9,382.3L268.4,382.4L271.0,382.4L273.5,382.5L276.1,382.5L278.6,382.5L281.1,382.6L283.7,382.6L286.2,382.7L288.8,382.7L291.3,382.7L293.8,382.8L296.4,382.8L298.9,382.9L301.5,382.9L304.0,382.9L306.6,383.0L309.1,383.0L311.6,383.1L314.2,383.1L316.7,383.1L319.3,383.2L321.8,383.2L324.4,383.3L326.9,383.3L329.4,383.3L332.0,383.4L334.5,383.4L337.1,383.4L339.6,383.5L342.1,383.5L344.7,383.6L347.2,383.6L349.8,383.6L352.3,383.7L354.9,383.7L357.4,383.8L359.9,383.8L362.5,383.8L365.0,383.9L367.6,383.9L370.1,384.0L372.6,384.0L375.2,384.0L377.7,384.1L380.3,384.1L382.8,384.1L385.4,384.2L387.9,384.2L390.4,384.3L393.0,384.3L395.5,384.3L398.1,384.4L400.6,384.4L403.2,384.4L405.7,384.5L408.2,384.5L410.8,384.6L413.3,384.6L415.9,384.6L418.4,384.7L420.9,384.7L423.5,384.7L426.0,384.8L428.6,384.8L431.1,384.9L433.7,384.9L436.2,384.9L438.7,385.0L441.3,385.0L443.8,385.0L446.4,385.1L448.9,385.1L451.5,385.1L454.0,385.2L456.5,385.2L459.1,385.2L461.6,385.3L464.2,385.3L466.7,385.4L469.2,385.4L471.8,385.4L474.3,385.5L476.9,385.5L479.4,385.5L482.0,385.6L484.5,385.6L487.0,385.6L489.6,385.7L492.1,385.7L494.7,385.7L497.2,385.8L499.8,385.8L502.3,385.8L504.8,385.9L507.4,385.9L509.9,385.9L512.5,386.0L515.0,386.0L517.5,386.0L520.1,386.1L522.6,386.1L525.2,386.1L527.7,386.2L530.3,386.2L532.8,386.2L535.3,386.3L537.9,386.3L540.4,386.3L543.0,386.4L545.5,386.4L548.0,386.4L550.6,386.4L553.1,386.5L555.7,386.5L558.2,386.5L560.8,386.6L563.3,386.6L565.8,386.6L568.4,386.7L570.9,386.7L573.5,386.7L576.0,386.7L578.6,386.8L581.1,386.8L583.6,386.8L586.2,386.9L588.7,386.9L591.3,386.9L593.8,386.9L596.3,387.0L598.9,387.0L601.4,387.0L604.0,387.0L606.5,387.1L609.1,387.1L611.6,387.1L614.1,387.1L616.7,387.2L619.2,387.2L621.8,387.2L624.3,387.2L626.9,387.3L629.4,387.3L631.9,387.3L634.5,387.3L637.0,387.4L639.6,387.4L642.1,387.4L644.6,387.4L647.2,387.4L649.7,387.5L652.3,387.5L654.8,387.5L657.4,387.5L659.9,387.5L662.4,387.6L665.0,387.6L667.5,387.6L670.1,387.6L672.6,387.6L675.1,387.6L677.7,387.7L680.2,387.7L682.8,387.7L685.3,387.7L687.9,387.7L690.4,387.7L692.9,387.8L695.5,387.8L698.0,387.8L700.6,387.8L703.1,387.8L705.7,387.8L708.2,387.8L710.7,387.8L713.3,387.8L715.8,387.8L718.4,387.9L720.9,387.9L723.4,387.9L726.0,387.9L728.5,387.9L731.1,387.9L733.6,387.9L736.2,387.9L738.7,387.9L741.2,387.9L743.8,387.9L746.3,387.9L748.9,387.9L751.4,387.9L754.0,387.9L756.5,387.9L759.0,387.9L761.6,387.8L764.1,387.8L766.7,387.8L769.2,387.8L771.7,387.8L774.3,387.8L776.8,387.8L779.4,387.7L781.9,387.7L784.5,387.7L787.0,387.7L789.5,387.6L792.1,387.6L794.6,387.6L797.2,387.6L799.7,387.5L802.2,387.5L804.8,387.4L807.3,387.4L809.9,387.4L812.4,387.3L815.0,387.3L817.5,387.2L820.0,387.1L822.6,387.1L825.1,387.0L827.7,386.9L830.2,386.9L832.8,386.8L835.3,386.7L837.8,386.6L840.4,386.5L842.9,386.5L845.5,386.4L848.0,386.3L850.5,386.1L853.1,386.0L855.6,385.9L858.2,385.8L860.7,385.7L863.3,385.5L865.8,385.4L868.3,385.2L870.9,385.1L873.4,384.9L876.0,384.7L878.5,384.6L881.0,384.4L883.6,384.2L886.1,384.0L888.7,383.8L891.2,383.6L893.8,383.3L896.3,383.1L898.8,382.8L901.4,382.6L903.9,382.3L906.5,382.0L909.0,381.8L911.6,381.5L914.1,381.2L916.6,380.8L919.2,380.5L921.7,380.2L924.3,379.8L926.8,379.4L929.3,379.0L931.9,378.7L934.4,378.2L937.0,377.8L939.5,377.4L942.1,376.9L944.6,376.5L947.1,376.0L949.7,375.5L952.2,375.0L954.8,374.5L957.3,374.0L959.9,373.4L962.4,372.8L964.9,372.3L967.5,371.7L970.0,371.1L972.6,370.4L975.1,369.8L977.6,369.1L980.2,368.5L982.7,367.8L985.3,367.1L987.8,366.3L990.4,365.6L992.9,364.9L995.4,364.1L998.0,363.3L1000.5,362.5L1003.1,361.7L1005.6,360.9L1008.1,360.0L1010.7,359.2L1013.2,358.3L1015.8,357.4L1018.3,356.5L1020.9,355.6L1023.4,354.7L1025.9,353.8L1028.5,352.8L1031.0,351.9L1033.6,350.9L1036.1,350.0L1038.7,349.0L1041.2,348.0L1043.7,347.0L1046.3,346.0L1048.8,345.0L1051.4,344.0L1053.9,343.0L1056.4,342.0L1059.0,340.9L1061.5,339.9L1064.1,338.9L1066.6,337.9L1069.2,336.9L1071.7,335.9L1074.2,334.9L1076.8,333.9L1079.3,332.9L1081.9,331.9L1084.4,331.0L1087.0,330.1L1089.5,329.1L1092.0,328.2L1094.6,327.3L1097.1,326.5L1099.7,325.6L1102.2,324.8L1104.7,324.1L1107.3,323.3L1109.8,322.6L1112.4,321.9L1114.9,321.2L1117.5,320.6L1120.0,320.1L1122.5,319.5L1125.1,319.0L1127.6,318.6L1130.2,318.2L1132.7,317.8L1135.2,317.5L1137.8,317.3L1140.3,317.1L1142.9,316.9L1145.4,316.8L1148.0,316.8L1150.5,316.8L1153.0,316.9L1155.6,317.0L1158.1,317.2L1160.7,317.4L1163.2,317.8L1165.8,318.1L1168.3,318.6L1170.8,319.1L1173.4,319.6L1175.9,320.3L1178.5,320.9L1181.0,321.6L1183.5,322.4L1186.1,323.2L1188.6,324.1L1191.2,325.0L1193.7,325.9L1196.3,326.9L1198.8,327.9L1201.3,328.9L1203.9,330.0L1206.4,331.1L1209.0,332.2L1211.5,333.3L1214.1,334.4L1216.6,335.6L1219.1,336.8L1221.7,338.0L1224.2,339.2L1226.8,340.4L1229.3,341.6L1231.8,342.8L1234.4,344.0L1236.9,345.2L1239.5,346.4L1242.0,347.7L1244.6,348.9L1247.1,350.1L1249.6,351.3L1252.2,352.4L1254.7,353.6L1257.3,354.8L1259.8,355.9L1262.3,357.1L1264.9,358.2L1267.4,359.3L1270.0,360.4L1272.5,361.5L1275.1,362.6L1277.6,363.7L1280.1,364.7L1282.7,365.7L1285.2,366.7L1287.8,367.7L1290.3,368.7L1292.9,369.6L1295.4,370.6L1297.9,371.5L1300.5,372.4L1303.0,373.3L1305.6,374.1L1308.1,375.0L1310.6,375.8L1313.2,376.6L1315.7,377.4L1318.3,378.1L1320.8,378.9L1323.4,379.6L1325.9,380.3L1328.4,381.0L1331.0,381.7L1333.5,382.3L1336.1,383.0L1338.6,383.6L1341.2,384.2L1343.7,384.8L1346.2,385.3L1348.8,385.9L1351.3,386.4L1353.9,386.9L1356.4,387.4L1358.9,387.9L1361.5,388.4L1364.0,388.9L1366.6,389.3L1369.1,389.7L1371.7,390.2L1374.2,390.6L1376.7,391.0L1379.3,391.3L1381.8,391.7L1384.4,392.1L1386.9,392.4L1389.5,392.8L1392.0,393.1L1394.5,393.4L1397.1,393.7L1399.6,394.0L1402.2,394.3L1404.7,394.6L1407.2,394.8L1409.8,395.1L1412.3,395.3L1414.9,395.6L1417.4,395.8L1420.0,396.1L1422.5,396.3L1425.0,396.5L1427.6,396.7L1430.1,396.9L1432.7,397.1L1435.2,397.3L1437.7,397.5L1440.3,397.7L1442.8,397.9L1445.4,398.0L1447.9,398.2L1450.5,398.4L1453.0,398.5" stroke="#0000ff" stroke-width="6.4" fill="none" stroke-linejoin="round"/><path d="M182.0,373.3L184.5,373.0L187.1,372.5L189.6,372.1L192.2,371.7L194.7,371.2L197.3,370.7L199.8,370.1L202.3,369.5L204.9,368.9L207.4,368.3L210.0,367.7L212.5,367.0L215.0,366.3L217.6,365.5L220.1,364.7L222.7,363.9L225.2,363.1L227.8,362.2L230.3,361.4L232.8,360.4L235.4,359.5L237.9,358.6L240.5,357.6L243.0,356.6L245.6,355.6L248.1,354.6L250.6,353.6L253.2,352.5L255.7,351.5L258.3,350.5L260.8,349.4L263.3,348.4L265.9,347.4L268.4,346.5L271.0,345.5L273.5,344.6L276.1,343.8L278.6,343.0L281.1,342.2L283.7,341.5L286.2,340.9L288.8,340.4L291.3,339.9L293.8,339.5L296.4,339.2L298.9,339.1L301.5,339.0L304.0,339.0L306.6,339.2L309.1,339.6L311.6,340.2L314.2,341.0L316.7,342.0L319.3,343.2L321.8,344.4L324.4,345.8L326.9,347.3L329.4,348.9L332.0,350.5L334.5,352.1L337.1,353.8L339.6,355.4L342.1,357.1L344.7,358.7L347.2,360.2L349.8,361.8L352.3,363.3L354.9,364.7L357.4,366.1L359.9,367.4L362.5,368.6L365.0,369.8L367.6,370.9L370.1,372.0L372.6,373.0L375.2,373.9L377.7,374.8L380.3,375.6L382.8,376.3L385.4,377.0L387.9,377.6L390.4,378.2L393.0,378.8L395.5,379.3L398.1,379.7L400.6,380.2L403.2,380.6L405.7,380.9L408.2,381.2L410.8,381.6L413.3,381.8L415.9,382.1L418.4,382.3L420.9,382.6L423.5,382.8L426.0,383.0L428.6,383.2L431.1,383.3L433.7,383.5L436.2,383.6L438.7,383.8L441.3,383.9L443.8,384.1L446.4,384.2L448.9,384.3L451.5,384.4L454.0,384.5L456.5,384.7L459.1,384.8L461.6,384.9L464.2,385.0L466.7,385.1L469.2,385.2L471.8,385.2L474.3,385.3L476.9,385.4L479.4,385.5L482.0,385.6L484.5,385.7L487.0,385.8L489.6,385.8L492.1,385.9L494.7,386.0L497.2,386.1L499.8,386.2L502.3,386.2L504.8,386.3L507.4,386.4L509.9,386.4L512.5,386.5L515.0,386.6L517.5,386.7L520.1,386.7L522.6,386.8L525.2,386.9L527.7,386.9L530.3,387.0L532.8,387.1L535.3,387.1L537.9,387.2L540.4,387.3L543.0,387.3L545.5,387.4L548.0,387.4L550.6,387.5L553.1,387.6L555.7,387.6L558.2,387.7L560.8,387.7L563.3,387.8L565.8,387.9L568.4,387.9L570.9,388.0L573.5,388.0L576.0,388.1L578.6,388.1L581.1,388.2L583.6,388.3L586.2,388.3L588.7,388.4L591.3,388.4L593.8,388.5L596.3,388.5L598.9,388.6L601.4,388.6L604.0,388.7L606.5,388.8L609.1,388.8L611.6,388.9L614.1,388.9L616.7,389.0L619.2,389.0L621.8,389.1L624.3,389.1L626.9,389.2L629.4,389.2L631.9,389.3L634.5,389.3L637.0,389.4L639.6,389.4L642.1,389.5L644.6,389.5L647.2,389.6L649.7,389.6L652.3,389.7L654.8,389.7L657.4,389.8L659.9,389.9L662.4,389.9L665.0,390.0L667.5,390.0L670.1,390.1L672.6,390.1L675.1,390.2L677.7,390.2L680.2,390.3L682.8,390.3L685.3,390.4L687.9,390.4L690.4,390.5L692.9,390.5L695.5,390.6L698.0,390.6L700.6,390.7L703.1,390.7L705.7,390.7L708.2,390.8L710.7,390.8L713.3,390.9L715.8,390.9L718.4,391.0L720.9,391.0L723.4,391.1L726.0,391.1L728.5,391.2L731.1,391.2L733.6,391.3L736.2,391.3L738.7,391.4L741.2,391.4L743.8,391.5L746.3,391.5L748.9,391.6L751.4,391.6L754.0,391.7L756.5,391.7L759.0,391.8L761.6,391.8L764.1,391.9L766.7,391.9L769.2,392.0L771.7,392.0L774.3,392.1L776.8,392.1L779.4,392.2L781.9,392.2L784.5,392.2L787.0,392.3L789.5,392.3L792.1,392.4L794.6,392.4L797.2,392.5L799.7,392.5L802.2,392.6L804.8,392.6L807.3,392.7L809.9,392.7L812.4,392.8L815.0,392.8L817.5,392.9L820.0,392.9L822.6,393.0L825.1,393.0L827.7,393.1L830.2,393.1L832.8,393.1L835.3,393.2L837.8,393.2L840.4,393.3L842.9,393.3L845.5,393.4L848.0,393.4L850.5,393.5L853.1,393.5L855.6,393.6L858.2,393.6L860.7,393.7L863.3,393.7L865.8,393.8L868.3,393.8L870.9,393.9L873.4,393.9L876.0,393.9L878.5,394.0L881.0,394.0L883.6,394.1L886.1,394.1L888.7,394.2L891.2,394.2L893.8,394.3L896.3,394.3L898.8,394.4L901.4,394.4L903.9,394.5L906.5,394.5L909.0,394.5L911.6,394.6L914.1,394.6L916.6,394.7L919.2,394.7L921.7,394.8L924.3,394.8L926.8,394.9L929.3,394.9L931.9,395.0L934.4,395.0L937.0,395.1L939.5,395.1L942.1,395.2L944.6,395.2L947.1,395.2L949.7,395.3L952.2,395.3L954.8,395.4L957.3,395.4L959.9,395.5L962.4,395.5L964.9,395.6L967.5,395.6L970.0,395.7L972.6,395.7L975.1,395.8L977.6,395.8L980.2,395.8L982.7,395.9L985.3,395.9L987.8,396.0L990.4,396.0L992.9,396.1L995.4,396.1L998.0,396.2L1000.5,396.2L1003.1,396.3L1005.6,396.3L1008.1,396.4L1010.7,396.4L1013.2,396.4L1015.8,396.5L1018.3,396.5L1020.9,396.6L1023.4,396.6L1025.9,396.7L1028.5,396.7L1031.0,396.8L1033.6,396.8L1036.1,396.9L1038.7,396.9L1041.2,397.0L1043.7,397.0L1046.3,397.0L1048.8,397.1L1051.4,397.1L1053.9,397.2L1056.4,397.2L1059.0,397.3L1061.5,397.3L1064.1,397.4L1066.6,397.4L1069.2,397.5L1071.7,397.5L1074.2,397.6L1076.8,397.6L1079.3,397.6L1081.9,397.7L1084.4,397.7L1087.0,397.8L1089.5,397.8L1092.0,397.9L1094.6,397.9L1097.1,398.0L1099.7,398.0L1102.2,398.1L1104.7,398.1L1107.3,398.1L1109.8,398.2L1112.4,398.2L1114.9,398.3L1117.5,398.3L1120.0,398.4L1122.5,398.4L1125.1,398.5L1127.6,398.5L1130.2,398.6L1132.7,398.6L1135.2,398.7L1137.8,398.7L1140.3,398.7L1142.9,398.8L1145.4,398.8L1148.0,398.9L1150.5,398.9L1153.0,399.0L1155.6,399.0L1158.1,399.1L1160.7,399.1L1163.2,399.2L1165.8,399.2L1168.3,399.2L1170.8,399.3L1173.4,399.3L1175.9,399.4L1178.5,399.4L1181.0,399.5L1183.5,399.5L1186.1,399.6L1188.6,399.6L1191.2,399.7L1193.7,399.7L1196.3,399.8L1198.8,399.8L1201.3,399.8L1203.9,399.9L1206.4,399.9L1209.0,400.0L1211.5,400.0L1214.1,400.1L1216.6,400.1L1219.1,400.2L1221.7,400.2L1224.2,400.3L1226.8,400.3L1229.3,400.3L1231.8,400.4L1234.4,400.4L1236.9,400.5L1239.5,400.5L1242.0,400.6L1244.6,400.6L1247.1,400.7L1249.6,400.7L1252.2,400.8L1254.7,400.8L1257.3,400.8L1259.8,400.9L1262.3,400.9L1264.9,401.0L1267.4,401.0L1270.0,401.1L1272.5,401.1L1275.1,401.2L1277.6,401.2L1280.1,401.3L1282.7,401.3L1285.2,401.4L1287.8,401.4L1290.3,401.4L1292.9,401.5L1295.4,401.5L1297.9,401.6L1300.5,401.6L1303.0,401.7L1305.6,401.7L1308.1,401.8L1310.6,401.8L1313.2,401.9L1315.7,401.9L1318.3,401.9L1320.8,402.0L1323.4,402.0L1325.9,402.1L1328.4,402.1L1331.0,402.2L1333.5,402.2L1336.1,402.3L1338.6,402.3L1341.2,402.4L1343.7,402.4L1346.2,402.4L1348.8,402.5L1351.3,402.5L1353.9,402.6L1356.4,402.6L1358.9,402.7L1361.5,402.7L1364.0,402.8L1366.6,402.8L1369.1,402.9L1371.7,402.9L1374.2,402.9L1376.7,403.0L1379.3,403.0L1381.8,403.1L1384.4,403.1L1386.9,403.2L1389.5,403.2L1392.0,403.3L1394.5,403.3L1397.1,403.4L1399.6,403.4L1402.2,403.5L1404.7,403.5L1407.2,403.5L1409.8,403.6L1412.3,403.6L1414.9,403.7L1417.4,403.7L1420.0,403.8L1422.5,403.8L1425.0,403.9L1427.6,403.9L1430.1,404.0L1432.7,404.0L1435.2,404.0L1437.7,404.1L1440.3,404.1L1442.8,404.2L1445.4,404.2L1447.9,404.3L1450.5,404.3L1453.0,404.4" stroke="#8000ff" stroke-width="6.4" fill="none" stroke-linejoin="round"/><path d="M182.0,378.6L184.5,378.6L187.1,378.5L189.6,378.5L192.2,378.5L194.7,378.4L197.3,378.3L199.8,378.3L202.3,378.2L204.9,378.1L207.4,378.1L210.0,378.0L212.5,377.9L215.0,377.8L217.6,377.7L220.1,377.6L222.7,377.5L225.2,377.3L227.8,377.2L230.3,377.1L232.8,376.9L235.4,376.8L237.9,376.6L240.5,376.4L243.0,376.2L245.6,376.0L248.1,375.7L250.6,375.5L253.2,375.2L255.7,374.9L258.3,374.6L260.8,374.3L263.3,373.9L265.9,373.6L268.4,373.1L271.0,372.7L273.5,372.2L276.1,371.7L278.6,371.1L281.1,370.4L283.7,369.7L286.2,368.9L288.8,368.1L291.3,367.1L293.8,366.1L296.4,364.9L298.9,363.6L301.5,362.1L304.0,360.5L306.6,358.7L309.1,356.6L311.6,354.4L314.2,351.9L316.7,349.1L319.3,345.9L321.8,342.5L324.4,338.7L326.9,334.6L329.4,330.0L332.0,325.1L334.5,319.8L337.1,314.1L339.6,308.0L342.1,301.7L344.7,295.0L347.2,288.3L349.8,281.5L352.3,274.9L354.9,268.7L357.4,263.1L359.9,258.5L362.5,255.0L365.0,252.9L367.6,252.3L370.1,253.4L372.6,256.0L375.2,260.1L377.7,265.3L380.3,271.4L382.8,278.1L385.4,285.1L387.9,292.2L390.4,299.2L393.0,306.0L395.5,312.5L398.1,318.7L400.6,324.4L403.2,329.7L405.7,334.6L408.2,339.1L410.8,343.2L413.3,346.9L415.9,350.3L418.4,353.3L420.9,356.1L423.5,358.5L426.0,360.7L428.6,362.7L431.1,364.5L433.7,366.1L436.2,367.5L438.7,368.8L441.3,370.0L443.8,371.0L446.4,372.0L448.9,372.9L451.5,373.7L454.0,374.4L456.5,375.1L459.1,375.7L461.6,376.3L464.2,376.8L466.7,377.4L469.2,377.8L471.8,378.3L474.3,378.7L476.9,379.1L479.4,379.5L482.0,379.8L484.5,380.2L487.0,380.5L489.6,380.8L492.1,381.1L494.7,381.3L497.2,381.6L499.8,381.9L502.3,382.1L504.8,382.3L507.4,382.6L509.9,382.8L512.5,383.0L515.0,383.2L517.5,383.4L520.1,383.5L522.6,383.7L525.2,383.9L527.7,384.1L530.3,384.2L532.8,384.4L535.3,384.5L537.9,384.7L540.4,384.8L543.0,384.9L545.5,385.1L548.0,385.2L550.6,385.3L553.1,385.5L555.7,385.6L558.2,385.7L560.8,385.8L563.3,385.9L565.8,386.0L568.4,386.1L570.9,386.2L573.5,386.3L576.0,386.4L578.6,386.5L581.1,386.6L583.6,386.7L586.2,386.8L588.7,386.9L591.3,387.0L593.8,387.1L596.3,387.2L598.9,387.3L601.4,387.4L604.0,387.4L606.5,387.5L609.1,387.6L611.6,387.7L614.1,387.8L616.7,387.8L619.2,387.9L621.8,388.0L624.3,388.1L626.9,388.2L629.4,388.2L631.9,388.3L634.5,388.4L637.0,388.4L639.6,388.5L642.1,388.6L644.6,388.7L647.2,388.7L649.7,388.8L652.3,388.9L654.8,388.9L657.4,389.0L659.9,389.1L662.4,389.1L665.0,389.2L667.5,389.3L670.1,389.3L672.6,389.4L675.1,389.4L677.7,389.5L680.2,389.6L682.8,389.6L685.3,389.7L687.9,389.8L690.4,389.8L692.9,389.9L695.5,389.9L698.0,390.0L700.6,390.1L703.1,390.1L705.7,390.2L708.2,390.2L710.7,390.3L713.3,390.3L715.8,390.4L718.4,390.5L720.9,390.5L723.4,390.6L726.0,390.6L728.5,390.7L731.1,390.7L733.6,390.8L736.2,390.9L738.7,390.9L741.2,391.0L743.8,391.0L746.3,391.1L748.9,391.1L751.4,391.2L754.0,391.2L756.5,391.3L759.0,391.3L761.6,391.4L764.1,391.5L766.7,391.5L769.2,391.6L771.7,391.6L774.3,391.7L776.8,391.7L779.4,391.8L781.9,391.8L784.5,391.9L787.0,391.9L789.5,392.0L792.1,392.0L794.6,392.1L797.2,392.1L799.7,392.2L802.2,392.2L804.8,392.3L807.3,392.3L809.9,392.4L812.4,392.4L815.0,392.5L817.5,392.5L820.0,392.6L822.6,392.7L825.1,392.7L827.7,392.8L830.2,392.8L832.8,392.9L835.3,392.9L837.8,393.0L840.4,393.0L842.9,393.1L845.5,393.1L848.0,393.2L850.5,393.2L853.1,393.3L855.6,393.3L858.2,393.4L860.7,393.4L863.3,393.5L865.8,393.5L868.3,393.6L870.9,393.6L873.4,393.7L876.0,393.7L878.5,393.8L881.0,393.8L883.6,393.8L886.1,393.9L888.7,393.9L891.2,394.0L893.8,394.0L896.3,394.1L898.8,394.1L901.4,394.2L903.9,394.2L906.5,394.3L909.0,394.3L911.6,394.4L914.1,394.4L916.6,394.5L919.2,394.5L921.7,394.6L924.3,394.6L926.8,394.7L929.3,394.7L931.9,394.8L934.4,394.8L937.0,394.9L939.5,394.9L942.1,395.0L944.6,395.0L947.1,395.1L949.7,395.1L952.2,395.2L954.8,395.2L957.3,395.3L959.9,395.3L962.4,395.4L964.9,395.4L967.5,395.4L970.0,395.5L972.6,395.5L975.1,395.6L977.6,395.6L980.2,395.7L982.7,395.7L985.3,395.8L987.8,395.8L990.4,395.9L992.9,395.9L995.4,396.0L998.0,396.0L1000.5,396.1L1003.1,396.1L1005.6,396.2L1008.1,396.2L1010.7,396.3L1013.2,396.3L1015.8,396.3L1018.3,396.4L1020.9,396.4L1023.4,396.5L1025.9,396.5L1028.5,396.6L1031.0,396.6L1033.6,396.7L1036.1,396.7L1038.7,396.8L1041.2,396.8L1043.7,396.9L1046.3,396.9L1048.8,397.0L1051.4,397.0L1053.9,397.1L1056.4,397.1L1059.0,397.2L1061.5,397.2L1064.1,397.2L1066.6,397.3L1069.2,397.3L1071.7,397.4L1074.2,397.4L1076.8,397.5L1079.3,397.5L1081.9,397.6L1084.4,397.6L1087.0,397.7L1089.5,397.7L1092.0,397.8L1094.6,397.8L1097.1,397.9L1099.7,397.9L1102.2,397.9L1104.7,398.0L1107.3,398.0L1109.8,398.1L1112.4,398.1L1114.9,398.2L1117.5,398.2L1120.0,398.3L1122.5,398.3L1125.1,398.4L1127.6,398.4L1130.2,398.5L1132.7,398.5L1135.2,398.6L1137.8,398.6L1140.3,398.6L1142.9,398.7L1145.4,398.7L1148.0,398.8L1150.5,398.8L1153.0,398.9L1155.6,398.9L1158.1,399.0L1160.7,399.0L1163.2,399.1L1165.8,399.1L1168.3,399.2L1170.8,399.2L1173.4,399.2L1175.9,399.3L1178.5,399.3L1181.0,399.4L1183.5,399.4L1186.1,399.5L1188.6,399.5L1191.2,399.6L1193.7,399.6L1196.3,399.7L1198.8,399.7L1201.3,399.8L1203.9,399.8L1206.4,399.9L1209.0,399.9L1211.5,399.9L1214.1,400.0L1216.6,400.0L1219.1,400.1L1221.7,400.1L1224.2,400.2L1226.8,400.2L1229.3,400.3L1231.8,400.3L1234.4,400.4L1236.9,400.4L1239.5,400.5L1242.0,400.5L1244.6,400.5L1247.1,400.6L1249.6,400.6L1252.2,400.7L1254.7,400.7L1257.3,400.8L1259.8,400.8L1262.3,400.9L1264.9,400.9L1267.4,401.0L1270.0,401.0L1272.5,401.1L1275.1,401.1L1277.6,401.1L1280.1,401.2L1282.7,401.2L1285.2,401.3L1287.8,401.3L1290.3,401.4L1292.9,401.4L1295.4,401.5L1297.9,401.5L1300.5,401.6L1303.0,401.6L1305.6,401.7L1308.1,401.7L1310.6,401.7L1313.2,401.8L1315.7,401.8L1318.3,401.9L1320.8,401.9L1323.4,402.0L1325.9,402.0L1328.4,402.1L1331.0,402.1L1333.5,402.2L1336.1,402.2L1338.6,402.2L1341.2,402.3L1343.7,402.3L1346.2,402.4L1348.8,402.4L1351.3,402.5L1353.9,402.5L1356.4,402.6L1358.9,402.6L1361.5,402.7L1364.0,402.7L1366.6,402.8L1369.1,402.8L1371.7,402.8L1374.2,402.9L1376.7,402.9L1379.3,403.0L1381.8,403.0L1384.4,403.1L1386.9,403.1L1389.5,403.2L1392.0,403.2L1394.5,403.3L1397.1,403.3L1399.6,403.4L1402.2,403.4L1404.7,403.4L1407.2,403.5L1409.8,403.5L1412.3,403.6L1414.9,403.6L1417.4,403.7L1420.0,403.7L1422.5,403.8L1425.0,403.8L1427.6,403.9L1430.1,403.9L1432.7,403.9L1435.2,404.0L1437.7,404.0L1440.3,404.1L1442.8,404.1L1445.4,404.2L1447.9,404.2L1450.5,404.3L1453.0,404.3" stroke="#000080" stroke-width="6.4" fill="none" stroke-linejoin="round"/><path d="M182.0,380.6L184.5,380.6L187.1,380.6L189.6,380.7L192.2,380.7L194.7,380.7L197.3,380.7L199.8,380.7L202.3,380.8L204.9,380.8L207.4,380.8L210.0,380.8L212.5,380.8L215.0,380.8L217.6,380.9L220.1,380.9L222.7,380.9L225.2,380.9L227.8,380.9L230.3,380.9L232.8,380.9L235.4,380.9L237.9,380.9L240.5,380.9L243.0,380.9L245.6,380.9L248.1,380.9L250.6,380.9L253.2,380.9L255.7,380.9L258.3,380.8L260.8,380.8L263.3,380.8L265.9,380.8L268.4,380.7L271.0,380.7L273.5,380.7L276.1,380.6L278.6,380.6L281.1,380.6L283.7,380.5L286.2,380.5L288.8,380.4L291.3,380.3L293.8,380.3L296.4,380.2L298.9,380.1L301.5,380.0L304.0,379.9L306.6,379.8L309.1,379.7L311.6,379.6L314.2,379.4L316.7,379.3L319.3,379.1L321.8,379.0L324.4,378.8L326.9,378.6L329.4,378.4L332.0,378.1L334.5,377.9L337.1,377.6L339.6,377.2L342.1,376.9L344.7,376.5L347.2,376.0L349.8,375.5L352.3,375.0L354.9,374.3L357.4,373.6L359.9,372.7L362.5,371.8L365.0,370.7L367.6,369.5L370.1,368.1L372.6,366.5L375.2,364.7L377.7,362.7L380.3,360.4L382.8,357.9L385.4,355.1L387.9,352.0L390.4,348.6L393.0,344.9L395.5,340.8L398.1,336.5L400.6,331.9L403.2,327.0L405.7,321.9L408.2,316.6L410.8,311.2L413.3,305.7L415.9,300.4L418.4,295.2L420.9,290.4L423.5,286.1L426.0,282.5L428.6,279.7L431.1,278.0L433.7,277.3L436.2,277.7L438.7,279.0L441.3,281.2L443.8,284.2L446.4,287.8L448.9,292.0L451.5,296.6L454.0,301.4L456.5,306.5L459.1,311.5L461.6,316.6L464.2,321.6L466.7,326.4L469.2,331.1L471.8,335.5L474.3,339.7L476.9,343.6L479.4,347.3L482.0,350.8L484.5,353.9L487.0,356.9L489.6,359.5L492.1,362.0L494.7,364.2L497.2,366.2L499.8,368.0L502.3,369.6L504.8,371.1L507.4,372.4L509.9,373.6L512.5,374.6L515.0,375.6L517.5,376.4L520.1,377.2L522.6,377.9L525.2,378.5L527.7,379.1L530.3,379.6L532.8,380.1L535.3,380.5L537.9,380.9L540.4,381.3L543.0,381.6L545.5,382.0L548.0,382.3L550.6,382.6L553.1,382.8L555.7,383.1L558.2,383.3L560.8,383.6L563.3,383.8L565.8,384.0L568.4,384.2L570.9,384.4L573.5,384.6L576.0,384.8L578.6,385.0L581.1,385.1L583.6,385.3L586.2,385.5L588.7,385.6L591.3,385.8L593.8,385.9L596.3,386.0L598.9,386.2L601.4,386.3L604.0,386.4L606.5,386.6L609.1,386.7L611.6,386.8L614.1,386.9L616.7,387.0L619.2,387.1L621.8,387.2L624.3,387.3L626.9,387.4L629.4,387.5L631.9,387.6L634.5,387.7L637.0,387.8L639.6,387.9L642.1,388.0L644.6,388.1L647.2,388.2L649.7,388.3L652.3,388.4L654.8,388.5L657.4,388.5L659.9,388.6L662.4,388.7L665.0,388.8L667.5,388.9L670.1,388.9L672.6,389.0L675.1,389.1L677.7,389.2L680.2,389.2L682.8,389.3L685.3,389.4L687.9,389.4L690.4,389.5L692.9,389.6L695.5,389.7L698.0,389.7L700.6,389.8L703.1,389.9L705.7,389.9L708.2,390.0L710.7,390.1L713.3,390.1L715.8,390.2L718.4,390.2L720.9,390.3L723.4,390.4L726.0,390.4L728.5,390.5L731.1,390.6L733.6,390.6L736.2,390.7L738.7,390.7L741.2,390.8L743.8,390.9L746.3,390.9L748.9,391.0L751.4,391.0L754.0,391.1L756.5,391.2L759.0,391.2L761.6,391.3L764.1,391.3L766.7,391.4L769.2,391.4L771.7,391.5L774.3,391.6L776.8,391.6L779.4,391.7L781.9,391.7L784.5,391.8L787.0,391.8L789.5,391.9L792.1,391.9L794.6,392.0L797.2,392.1L799.7,392.1L802.2,392.2L804.8,392.2L807.3,392.3L809.9,392.3L812.4,392.4L815.0,392.4L817.5,392.5L820.0,392.5L822.6,392.6L825.1,392.6L827.7,392.7L830.2,392.7L832.8,392.8L835.3,392.8L837.8,392.9L840.4,392.9L842.9,393.0L845.5,393.1L848.0,393.1L850.5,393.2L853.1,393.2L855.6,393.3L858.2,393.3L860.7,393.4L863.3,393.4L865.8,393.5L868.3,393.5L870.9,393.6L873.4,393.6L876.0,393.7L878.5,393.7L881.0,393.8L883.6,393.8L886.1,393.9L888.7,393.9L891.2,394.0L893.8,394.0L896.3,394.1L898.8,394.1L901.4,394.2L903.9,394.2L906.5,394.3L909.0,394.3L911.6,394.4L914.1,394.4L916.6,394.5L919.2,394.5L921.7,394.6L924.3,394.6L926.8,394.7L929.3,394.7L931.9,394.8L934.4,394.8L937.0,394.9L939.5,394.9L942.1,394.9L944.6,395.0L947.1,395.0L949.7,395.1L952.2,395.1L954.8,395.2L957.3,395.2L959.9,395.3L962.4,395.3L964.9,395.4L967.5,395.4L970.0,395.5L972.6,395.5L975.1,395.6L977.6,395.6L980.2,395.7L982.7,395.7L985.3,395.8L987.8,395.8L990.4,395.9L992.9,395.9L995.4,396.0L998.0,396.0L1000.5,396.1L1003.1,396.1L1005.6,396.2L1008.1,396.2L1010.7,396.2L1013.2,396.3L1015.8,396.3L1018.3,396.4L1020.9,396.4L1023.4,396.5L1025.9,396.5L1028.5,396.6L1031.0,396.6L1033.6,396.7L1036.1,396.7L1038.7,396.8L1041.2,396.8L1043.7,396.9L1046.3,396.9L1048.8,397.0L1051.4,397.0L1053.9,397.1L1056.4,397.1L1059.0,397.1L1061.5,397.2L1064.1,397.2L1066.6,397.3L1069.2,397.3L1071.7,397.4L1074.2,397.4L1076.8,397.5L1079.3,397.5L1081.9,397.6L1084.4,397.6L1087.0,397.7L1089.5,397.7L1092.0,397.8L1094.6,397.8L1097.1,397.9L1099.7,397.9L1102.2,397.9L1104.7,398.0L1107.3,398.0L1109.8,398.1L1112.4,398.1L1114.9,398.2L1117.5,398.2L1120.0,398.3L1122.5,398.3L1125.1,398.4L1127.6,398.4L1130.2,398.5L1132.7,398.5L1135.2,398.6L1137.8,398.6L1140.3,398.6L1142.9,398.7L1145.4,398.7L1148.0,398.8L1150.5,398.8L1153.0,398.9L1155.6,398.9L1158.1,399.0L1160.7,399.0L1163.2,399.1L1165.8,399.1L1168.3,399.2L1170.8,399.2L1173.4,399.3L1175.9,399.3L1178.5,399.3L1181.0,399.4L1183.5,399.4L1186.1,399.5L1188.6,399.5L1191.2,399.6L1193.7,399.6L1196.3,399.7L1198.8,399.7L1201.3,399.8L1203.9,399.8L1206.4,399.9L1209.0,399.9L1211.5,399.9L1214.1,400.0L1216.6,400.0L1219.1,400.1L1221.7,400.1L1224.2,400.2L1226.8,400.2L1229.3,400.3L1231.8,400.3L1234.4,400.4L1236.9,400.4L1239.5,400.5L1242.0,400.5L1244.6,400.5L1247.1,400.6L1249.6,400.6L1252.2,400.7L1254.7,400.7L1257.3,400.8L1259.8,400.8L1262.3,400.9L1264.9,400.9L1267.4,401.0L1270.0,401.0L1272.5,401.1L1275.1,401.1L1277.6,401.1L1280.1,401.2L1282.7,401.2L1285.2,401.3L1287.8,401.3L1290.3,401.4L1292.9,401.4L1295.4,401.5L1297.9,401.5L1300.5,401.6L1303.0,401.6L1305.6,401.7L1308.1,401.7L1310.6,401.7L1313.2,401.8L1315.7,401.8L1318.3,401.9L1320.8,401.9L1323.4,402.0L1325.9,402.0L1328.4,402.1L1331.0,402.1L1333.5,402.2L1336.1,402.2L1338.6,402.3L1341.2,402.3L1343.7,402.3L1346.2,402.4L1348.8,402.4L1351.3,402.5L1353.9,402.5L1356.4,402.6L1358.9,402.6L1361.5,402.7L1364.0,402.7L1366.6,402.8L1369.1,402.8L1371.7,402.9L1374.2,402.9L1376.7,402.9L1379.3,403.0L1381.8,403.0L1384.4,403.1L1386.9,403.1L1389.5,403.2L1392.0,403.2L1394.5,403.3L1397.1,403.3L1399.6,403.4L1402.2,403.4L1404.7,403.4L1407.2,403.5L1409.8,403.5L1412.3,403.6L1414.9,403.6L1417.4,403.7L1420.0,403.7L1422.5,403.8L1425.0,403.8L1427.6,403.9L1430.1,403.9L1432.7,404.0L1435.2,404.0L1437.7,404.0L1440.3,404.1L1442.8,404.1L1445.4,404.2L1447.9,404.2L1450.5,404.3L1453.0,404.3" stroke="#800080" stroke-width="6.4" fill="none" stroke-linejoin="round"/><path d="M182.0,368.0L184.5,367.7L187.1,367.3L189.6,366.8L192.2,366.3L194.7,365.8L197.3,365.2L199.8,364.6L202.3,364.0L204.9,363.3L207.4,362.6L210.0,361.9L212.5,361.2L215.0,360.4L217.6,359.5L220.1,358.6L222.7,357.7L225.2,356.7L227.8,355.7L230.3,354.7L232.8,353.6L235.4,352.4L237.9,351.2L240.5,350.0L243.0,348.7L245.6,347.4L248.1,346.0L250.6,344.5L253.2,343.0L255.7,341.4L258.3,339.8L260.8,338.1L263.3,336.4L265.9,334.6L268.4,332.7L271.0,330.8L273.5,328.8L276.1,326.8L278.6,324.6L281.1,322.5L283.7,320.3L286.2,318.0L288.8,315.7L291.3,313.4L293.8,311.1L296.4,308.7L298.9,306.4L301.5,304.1L304.0,301.7L306.6,299.4L309.1,297.2L311.6,294.9L314.2,292.7L316.7,290.6L319.3,288.4L321.8,286.2L324.4,283.9L326.9,281.3L329.4,278.4L332.0,275.1L334.5,271.2L337.1,266.8L339.6,261.7L342.1,256.0L344.7,250.1L347.2,243.9L349.8,237.7L352.3,231.6L354.9,225.9L357.4,220.6L359.9,215.9L362.5,211.9L365.0,208.8L367.6,206.8L370.1,205.9L372.6,206.1L375.2,207.4L377.7,209.6L380.3,212.4L382.8,215.8L385.4,219.4L387.9,223.1L390.4,226.8L393.0,230.3L395.5,233.4L398.1,236.0L400.6,237.9L403.2,239.0L405.7,239.5L408.2,239.5L410.8,239.2L413.3,238.6L415.9,238.0L418.4,237.5L420.9,237.1L423.5,236.8L426.0,236.9L428.6,237.2L431.1,237.8L433.7,238.9L436.2,240.5L438.7,242.5L441.3,245.1L443.8,248.4L446.4,252.3L448.9,256.7L451.5,261.5L454.0,266.6L456.5,271.9L459.1,277.2L461.6,282.4L464.2,287.4L466.7,292.2L469.2,296.8L471.8,301.2L474.3,305.3L476.9,309.2L479.4,313.0L482.0,316.5L484.5,319.8L487.0,323.0L489.6,326.0L492.1,328.8L494.7,331.5L497.2,333.9L499.8,336.3L502.3,338.5L504.8,340.5L507.4,342.4L509.9,344.2L512.5,345.9L515.0,347.4L517.5,348.8L520.1,350.2L522.6,351.4L525.2,352.5L527.7,353.6L530.3,354.6L532.8,355.5L535.3,356.3L537.9,357.1L540.4,357.8L543.0,358.4L545.5,359.0L548.0,359.6L550.6,360.1L553.1,360.6L555.7,361.1L558.2,361.5L560.8,361.9L563.3,362.2L565.8,362.5L568.4,362.8L570.9,363.0L573.5,363.2L576.0,363.3L578.6,363.4L581.1,363.5L583.6,363.6L586.2,363.6L588.7,363.6L591.3,363.5L593.8,363.4L596.3,363.3L598.9,363.2L601.4,363.0L604.0,362.8L606.5,362.6L609.1,362.3L611.6,362.1L614.1,361.7L616.7,361.4L619.2,361.1L621.8,360.7L624.3,360.3L626.9,359.8L629.4,359.4L631.9,358.9L634.5,358.4L637.0,357.9L639.6,357.3L642.1,356.7L644.6,356.1L647.2,355.5L649.7,354.8L652.3,354.1L654.8,353.4L657.4,352.6L659.9,351.8L662.4,351.0L665.0,350.1L667.5,349.2L670.1,348.2L672.6,347.2L675.1,346.2L677.7,345.1L680.2,344.0L682.8,342.8L685.3,341.6L687.9,340.4L690.4,339.1L692.9,337.7L695.5,336.3L698.0,334.9L700.6,333.4L703.1,331.9L705.7,330.3L708.2,328.6L710.7,326.9L713.3,325.1L715.8,323.3L718.4,321.4L720.9,319.5L723.4,317.5L726.0,315.4L728.5,313.3L731.1,311.1L733.6,308.9L736.2,306.6L738.7,304.2L741.2,301.7L743.8,299.2L746.3,296.6L748.9,294.0L751.4,291.3L754.0,288.5L756.5,285.6L759.0,282.6L761.6,279.6L764.1,276.5L766.7,273.4L769.2,270.1L771.7,266.8L774.3,263.4L776.8,259.9L779.4,256.3L781.9,252.8L784.5,249.3L787.0,245.9L789.5,242.6L792.1,239.6L794.6,236.7L797.2,234.2L799.7,232.0L802.2,230.1L804.8,228.5L807.3,227.2L809.9,225.9L812.4,224.5L815.0,223.0L817.5,221.1L820.0,218.9L822.6,216.2L825.1,213.1L827.7,209.8L830.2,206.2L832.8,202.6L835.3,199.0L837.8,195.4L840.4,192.0L842.9,188.6L845.5,185.4L848.0,182.2L850.5,179.1L853.1,176.1L855.6,173.2L858.2,170.5L860.7,167.9L863.3,165.5L865.8,163.3L868.3,161.3L870.9,159.6L873.4,158.2L876.0,157.1L878.5,156.4L881.0,156.1L883.6,156.1L886.1,156.6L888.7,157.4L891.2,158.6L893.8,160.2L896.3,162.1L898.8,164.4L901.4,167.0L903.9,169.9L906.5,173.2L909.0,176.8L911.6,180.7L914.1,184.9L916.6,189.3L919.2,193.9L921.7,198.6L924.3,203.5L926.8,208.4L929.3,213.4L931.9,218.4L934.4,223.4L937.0,228.3L939.5,233.1L942.1,237.7L944.6,242.3L947.1,246.7L949.7,250.9L952.2,255.0L954.8,259.0L957.3,262.8L959.9,266.4L962.4,269.9L964.9,273.2L967.5,276.4L970.0,279.3L972.6,282.1L975.1,284.8L977.6,287.2L980.2,289.5L982.7,291.7L985.3,293.7L987.8,295.5L990.4,297.2L992.9,298.8L995.4,300.2L998.0,301.5L1000.5,302.7L1003.1,303.8L1005.6,304.7L1008.1,305.5L1010.7,306.3L1013.2,306.9L1015.8,307.5L1018.3,307.9L1020.9,308.3L1023.4,308.6L1025.9,308.8L1028.5,309.0L1031.0,309.0L1033.6,309.1L1036.1,309.0L1038.7,309.0L1041.2,308.8L1043.7,308.6L1046.3,308.4L1048.8,308.1L1051.4,307.8L1053.9,307.5L1056.4,307.1L1059.0,306.7L1061.5,306.3L1064.1,305.9L1066.6,305.4L1069.2,305.0L1071.7,304.5L1074.2,304.0L1076.8,303.5L1079.3,303.0L1081.9,302.5L1084.4,302.0L1087.0,301.6L1089.5,301.1L1092.0,300.6L1094.6,300.2L1097.1,299.8L1099.7,299.4L1102.2,299.1L1104.7,298.7L1107.3,298.5L1109.8,298.2L1112.4,298.0L1114.9,297.8L1117.5,297.7L1120.0,297.6L1122.5,297.6L1125.1,297.7L1127.6,297.8L1130.2,298.0L1132.7,298.2L1135.2,298.5L1137.8,298.8L1140.3,299.2L1142.9,299.7L1145.4,300.2L1148.0,300.8L1150.5,301.4L1153.0,302.1L1155.6,302.8L1158.1,303.6L1160.7,304.4L1163.2,305.2L1165.8,306.1L1168.3,307.0L1170.8,308.0L1173.4,309.0L1175.9,310.0L1178.5,311.0L1181.0,312.1L1183.5,313.2L1186.1,314.4L1188.6,315.6L1191.2,316.7L1193.7,317.9L1196.3,319.2L1198.8,320.4L1201.3,321.7L1203.9,322.9L1206.4,324.2L1209.0,325.5L1211.5,326.8L1214.1,328.1L1216.6,329.4L1219.1,330.7L1221.7,332.0L1224.2,333.4L1226.8,334.7L1229.3,336.0L1231.8,337.3L1234.4,338.6L1236.9,339.9L1239.5,341.1L1242.0,342.4L1244.6,343.6L1247.1,344.9L1249.6,346.1L1252.2,347.3L1254.7,348.5L1257.3,349.6L1259.8,350.8L1262.3,351.9L1264.9,353.0L1267.4,354.1L1270.0,355.2L1272.5,356.3L1275.1,357.3L1277.6,358.4L1280.1,359.4L1282.7,360.4L1285.2,361.4L1287.8,362.3L1290.3,363.3L1292.9,364.2L1295.4,365.1L1297.9,366.0L1300.5,366.9L1303.0,367.8L1305.6,368.7L1308.1,369.5L1310.6,370.3L1313.2,371.1L1315.7,371.9L1318.3,372.7L1320.8,373.5L1323.4,374.2L1325.9,374.9L1328.4,375.6L1331.0,376.3L1333.5,377.0L1336.1,377.7L1338.6,378.3L1341.2,379.0L1343.7,379.6L1346.2,380.2L1348.8,380.8L1351.3,381.3L1353.9,381.9L1356.4,382.4L1358.9,382.9L1361.5,383.4L1364.0,383.9L1366.6,384.4L1369.1,384.9L1371.7,385.3L1374.2,385.7L1376.7,386.1L1379.3,386.5L1381.8,386.9L1384.4,387.3L1386.9,387.6L1389.5,388.0L1392.0,388.3L1394.5,388.6L1397.1,388.9L1399.6,389.1L1402.2,389.4L1404.7,389.6L1407.2,389.8L1409.8,390.0L1412.3,390.2L1414.9,390.4L1417.4,390.6L1420.0,390.7L1422.5,390.8L1425.0,391.0L1427.6,391.1L1430.1,391.1L1432.7,391.2L1435.2,391.2L1437.7,391.3L1440.3,391.3L1442.8,391.3L1445.4,391.3L1447.9,391.3L1450.5,391.2L1453.0,391.2" stroke="#ff0000" stroke-width="7.3" fill="none" stroke-linejoin="round"/><clipPath id="cpb"><rect x="135" y="470" width="1322" height="436"/></clipPath><g fill="none" stroke="#767676" stroke-width="2.1" clip-path="url(#cpb)"><circle cx="180.0" cy="772.7" r="9.5"/><circle cx="183.7" cy="757.3" r="9.5"/><circle cx="187.4" cy="779.3" r="9.5"/><circle cx="191.1" cy="817.6" r="9.5"/><circle cx="194.8" cy="760.8" r="9.5"/><circle cx="198.5" cy="769.2" r="9.5"/><circle cx="202.2" cy="775.7" r="9.5"/><circle cx="205.9" cy="806.5" r="9.5"/><circle cx="209.6" cy="799.2" r="9.5"/><circle cx="213.3" cy="779.9" r="9.5"/><circle cx="217.0" cy="735.6" r="9.5"/><circle cx="220.7" cy="827.5" r="9.5"/><circle cx="224.4" cy="823.6" r="9.5"/><circle cx="228.1" cy="764.0" r="9.5"/><circle cx="231.8" cy="808.5" r="9.5"/><circle cx="235.5" cy="774.1" r="9.5"/><circle cx="239.2" cy="758.0" r="9.5"/><circle cx="242.9" cy="818.6" r="9.5"/><circle cx="246.6" cy="790.7" r="9.5"/><circle cx="250.3" cy="774.0" r="9.5"/><circle cx="254.0" cy="723.0" r="9.5"/><circle cx="257.7" cy="784.2" r="9.5"/><circle cx="261.4" cy="813.9" r="9.5"/><circle cx="265.1" cy="773.4" r="9.5"/><circle cx="268.8" cy="727.2" r="9.5"/><circle cx="272.5" cy="724.6" r="9.5"/><circle cx="276.2" cy="743.7" r="9.5"/><circle cx="279.9" cy="735.7" r="9.5"/><circle cx="283.6" cy="687.1" r="9.5"/><circle cx="287.3" cy="746.5" r="9.5"/><circle cx="291.0" cy="768.1" r="9.5"/><circle cx="294.7" cy="719.8" r="9.5"/><circle cx="298.4" cy="723.7" r="9.5"/><circle cx="302.1" cy="772.3" r="9.5"/><circle cx="305.8" cy="738.5" r="9.5"/><circle cx="309.5" cy="755.1" r="9.5"/><circle cx="313.2" cy="759.2" r="9.5"/><circle cx="316.9" cy="798.8" r="9.5"/><circle cx="320.6" cy="746.3" r="9.5"/><circle cx="324.3" cy="777.8" r="9.5"/><circle cx="328.0" cy="812.3" r="9.5"/><circle cx="331.7" cy="758.5" r="9.5"/><circle cx="335.4" cy="804.9" r="9.5"/><circle cx="339.1" cy="759.2" r="9.5"/><circle cx="342.8" cy="774.6" r="9.5"/><circle cx="346.5" cy="763.4" r="9.5"/><circle cx="350.2" cy="743.3" r="9.5"/><circle cx="353.9" cy="768.5" r="9.5"/><circle cx="357.6" cy="659.3" r="9.5"/><circle cx="361.3" cy="607.6" r="9.5"/><circle cx="365.0" cy="730.4" r="9.5"/><circle cx="368.7" cy="688.8" r="9.5"/><circle cx="372.4" cy="659.9" r="9.5"/><circle cx="376.1" cy="659.8" r="9.5"/><circle cx="379.8" cy="671.3" r="9.5"/><circle cx="383.5" cy="674.4" r="9.5"/><circle cx="387.2" cy="736.5" r="9.5"/><circle cx="390.9" cy="758.7" r="9.5"/><circle cx="394.6" cy="783.0" r="9.5"/><circle cx="398.3" cy="735.5" r="9.5"/><circle cx="402.0" cy="760.3" r="9.5"/><circle cx="405.7" cy="783.3" r="9.5"/><circle cx="409.4" cy="748.2" r="9.5"/><circle cx="413.1" cy="734.6" r="9.5"/><circle cx="416.8" cy="749.9" r="9.5"/><circle cx="420.5" cy="802.0" r="9.5"/><circle cx="424.2" cy="679.7" r="9.5"/><circle cx="427.9" cy="638.8" r="9.5"/><circle cx="431.6" cy="678.6" r="9.5"/><circle cx="435.3" cy="747.1" r="9.5"/><circle cx="439.0" cy="672.6" r="9.5"/><circle cx="442.7" cy="676.4" r="9.5"/><circle cx="446.4" cy="678.3" r="9.5"/><circle cx="450.1" cy="676.3" r="9.5"/><circle cx="453.8" cy="711.6" r="9.5"/><circle cx="457.5" cy="685.9" r="9.5"/><circle cx="461.2" cy="649.7" r="9.5"/><circle cx="464.9" cy="661.4" r="9.5"/><circle cx="468.6" cy="780.5" r="9.5"/><circle cx="472.3" cy="703.7" r="9.5"/><circle cx="476.0" cy="712.6" r="9.5"/><circle cx="479.7" cy="710.6" r="9.5"/><circle cx="483.4" cy="752.5" r="9.5"/><circle cx="487.1" cy="732.8" r="9.5"/><circle cx="490.8" cy="726.3" r="9.5"/><circle cx="494.5" cy="727.3" r="9.5"/><circle cx="498.2" cy="693.9" r="9.5"/><circle cx="501.9" cy="742.5" r="9.5"/><circle cx="505.6" cy="759.7" r="9.5"/><circle cx="509.3" cy="776.8" r="9.5"/><circle cx="513.0" cy="802.4" r="9.5"/><circle cx="516.7" cy="716.9" r="9.5"/><circle cx="520.4" cy="831.0" r="9.5"/><circle cx="524.1" cy="752.9" r="9.5"/><circle cx="527.8" cy="780.6" r="9.5"/><circle cx="531.5" cy="793.8" r="9.5"/><circle cx="535.2" cy="737.8" r="9.5"/><circle cx="538.9" cy="711.4" r="9.5"/><circle cx="542.6" cy="768.6" r="9.5"/><circle cx="546.3" cy="691.4" r="9.5"/><circle cx="550.0" cy="775.0" r="9.5"/><circle cx="553.7" cy="700.0" r="9.5"/><circle cx="557.4" cy="743.2" r="9.5"/><circle cx="561.1" cy="708.2" r="9.5"/><circle cx="564.8" cy="676.1" r="9.5"/><circle cx="568.5" cy="722.3" r="9.5"/><circle cx="572.2" cy="801.1" r="9.5"/><circle cx="575.9" cy="735.3" r="9.5"/><circle cx="579.6" cy="776.8" r="9.5"/><circle cx="583.3" cy="727.3" r="9.5"/><circle cx="587.0" cy="744.7" r="9.5"/><circle cx="590.7" cy="732.9" r="9.5"/><circle cx="594.4" cy="830.2" r="9.5"/><circle cx="598.1" cy="801.2" r="9.5"/><circle cx="601.8" cy="694.5" r="9.5"/><circle cx="605.5" cy="704.2" r="9.5"/><circle cx="609.2" cy="693.5" r="9.5"/><circle cx="612.9" cy="702.9" r="9.5"/><circle cx="616.6" cy="768.4" r="9.5"/><circle cx="620.3" cy="716.5" r="9.5"/><circle cx="624.0" cy="764.2" r="9.5"/><circle cx="627.7" cy="750.9" r="9.5"/><circle cx="631.4" cy="759.1" r="9.5"/><circle cx="635.1" cy="718.8" r="9.5"/><circle cx="638.8" cy="734.2" r="9.5"/><circle cx="642.5" cy="748.8" r="9.5"/><circle cx="646.2" cy="703.5" r="9.5"/><circle cx="649.9" cy="777.5" r="9.5"/><circle cx="653.6" cy="783.7" r="9.5"/><circle cx="657.3" cy="734.8" r="9.5"/><circle cx="661.0" cy="722.3" r="9.5"/><circle cx="664.7" cy="736.1" r="9.5"/><circle cx="668.4" cy="743.0" r="9.5"/><circle cx="672.1" cy="731.3" r="9.5"/><circle cx="675.8" cy="742.3" r="9.5"/><circle cx="679.5" cy="707.2" r="9.5"/><circle cx="683.2" cy="708.2" r="9.5"/><circle cx="686.9" cy="676.1" r="9.5"/><circle cx="690.6" cy="728.7" r="9.5"/><circle cx="694.3" cy="663.7" r="9.5"/><circle cx="698.0" cy="710.1" r="9.5"/><circle cx="701.7" cy="682.4" r="9.5"/><circle cx="705.4" cy="731.8" r="9.5"/><circle cx="709.1" cy="692.6" r="9.5"/><circle cx="712.8" cy="783.4" r="9.5"/><circle cx="716.5" cy="671.4" r="9.5"/><circle cx="720.2" cy="620.2" r="9.5"/><circle cx="723.9" cy="660.4" r="9.5"/><circle cx="727.6" cy="725.2" r="9.5"/><circle cx="731.3" cy="705.5" r="9.5"/><circle cx="735.0" cy="704.4" r="9.5"/><circle cx="738.7" cy="698.0" r="9.5"/><circle cx="742.4" cy="693.8" r="9.5"/><circle cx="746.1" cy="671.6" r="9.5"/><circle cx="749.8" cy="618.2" r="9.5"/><circle cx="753.5" cy="685.1" r="9.5"/><circle cx="757.2" cy="601.0" r="9.5"/><circle cx="760.9" cy="720.7" r="9.5"/><circle cx="764.6" cy="665.7" r="9.5"/><circle cx="768.3" cy="643.1" r="9.5"/><circle cx="772.0" cy="700.7" r="9.5"/><circle cx="775.7" cy="719.8" r="9.5"/><circle cx="779.4" cy="717.5" r="9.5"/><circle cx="783.1" cy="688.8" r="9.5"/><circle cx="786.8" cy="593.9" r="9.5"/><circle cx="790.5" cy="715.8" r="9.5"/><circle cx="794.2" cy="650.6" r="9.5"/><circle cx="797.9" cy="676.7" r="9.5"/><circle cx="801.6" cy="710.0" r="9.5"/><circle cx="805.3" cy="670.4" r="9.5"/><circle cx="809.0" cy="636.0" r="9.5"/><circle cx="812.7" cy="706.9" r="9.5"/><circle cx="816.4" cy="662.8" r="9.5"/><circle cx="820.1" cy="632.0" r="9.5"/><circle cx="823.8" cy="655.7" r="9.5"/><circle cx="827.5" cy="648.0" r="9.5"/><circle cx="831.2" cy="648.7" r="9.5"/><circle cx="834.9" cy="657.9" r="9.5"/><circle cx="838.6" cy="631.2" r="9.5"/><circle cx="842.3" cy="652.4" r="9.5"/><circle cx="846.0" cy="605.7" r="9.5"/><circle cx="849.7" cy="615.6" r="9.5"/><circle cx="853.4" cy="625.8" r="9.5"/><circle cx="857.1" cy="575.8" r="9.5"/><circle cx="860.8" cy="744.4" r="9.5"/><circle cx="864.5" cy="625.6" r="9.5"/><circle cx="868.2" cy="650.0" r="9.5"/><circle cx="871.9" cy="627.9" r="9.5"/><circle cx="875.6" cy="670.6" r="9.5"/><circle cx="879.3" cy="623.9" r="9.5"/><circle cx="883.0" cy="666.4" r="9.5"/><circle cx="886.7" cy="583.9" r="9.5"/><circle cx="890.4" cy="626.9" r="9.5"/><circle cx="894.1" cy="651.1" r="9.5"/><circle cx="897.8" cy="643.2" r="9.5"/><circle cx="901.5" cy="609.3" r="9.5"/><circle cx="905.2" cy="603.8" r="9.5"/><circle cx="908.9" cy="634.3" r="9.5"/><circle cx="912.6" cy="596.7" r="9.5"/><circle cx="916.3" cy="585.4" r="9.5"/><circle cx="920.0" cy="578.0" r="9.5"/><circle cx="923.7" cy="632.4" r="9.5"/><circle cx="927.4" cy="573.7" r="9.5"/><circle cx="931.1" cy="649.5" r="9.5"/><circle cx="934.8" cy="548.7" r="9.5"/><circle cx="938.5" cy="593.0" r="9.5"/><circle cx="942.2" cy="558.7" r="9.5"/><circle cx="945.9" cy="560.9" r="9.5"/><circle cx="949.6" cy="668.7" r="9.5"/><circle cx="953.3" cy="605.6" r="9.5"/><circle cx="957.0" cy="666.8" r="9.5"/><circle cx="960.7" cy="576.3" r="9.5"/><circle cx="964.4" cy="564.3" r="9.5"/><circle cx="968.1" cy="605.3" r="9.5"/><circle cx="971.8" cy="601.7" r="9.5"/><circle cx="975.5" cy="595.3" r="9.5"/><circle cx="979.2" cy="602.6" r="9.5"/><circle cx="982.9" cy="609.4" r="9.5"/><circle cx="986.6" cy="548.9" r="9.5"/><circle cx="990.3" cy="603.1" r="9.5"/><circle cx="994.0" cy="610.4" r="9.5"/><circle cx="997.7" cy="713.5" r="9.5"/><circle cx="1001.4" cy="553.5" r="9.5"/><circle cx="1005.1" cy="603.1" r="9.5"/><circle cx="1008.8" cy="618.7" r="9.5"/><circle cx="1012.5" cy="570.7" r="9.5"/><circle cx="1016.2" cy="543.3" r="9.5"/><circle cx="1019.9" cy="604.8" r="9.5"/><circle cx="1023.6" cy="650.2" r="9.5"/><circle cx="1027.3" cy="688.1" r="9.5"/><circle cx="1031.0" cy="622.9" r="9.5"/><circle cx="1034.7" cy="635.4" r="9.5"/><circle cx="1038.4" cy="623.8" r="9.5"/><circle cx="1042.1" cy="651.1" r="9.5"/><circle cx="1045.8" cy="578.1" r="9.5"/><circle cx="1049.5" cy="617.3" r="9.5"/><circle cx="1053.2" cy="579.3" r="9.5"/><circle cx="1056.9" cy="627.6" r="9.5"/><circle cx="1060.6" cy="746.3" r="9.5"/><circle cx="1064.3" cy="658.4" r="9.5"/><circle cx="1068.0" cy="674.6" r="9.5"/><circle cx="1071.7" cy="649.4" r="9.5"/><circle cx="1075.4" cy="650.7" r="9.5"/><circle cx="1079.1" cy="609.4" r="9.5"/><circle cx="1082.8" cy="686.9" r="9.5"/><circle cx="1086.5" cy="615.4" r="9.5"/><circle cx="1090.2" cy="668.0" r="9.5"/><circle cx="1093.9" cy="661.0" r="9.5"/><circle cx="1097.6" cy="700.0" r="9.5"/><circle cx="1101.3" cy="688.0" r="9.5"/><circle cx="1105.0" cy="616.3" r="9.5"/><circle cx="1108.7" cy="645.3" r="9.5"/><circle cx="1112.4" cy="673.5" r="9.5"/><circle cx="1116.1" cy="644.6" r="9.5"/><circle cx="1119.8" cy="637.9" r="9.5"/><circle cx="1123.5" cy="690.6" r="9.5"/><circle cx="1127.2" cy="671.3" r="9.5"/><circle cx="1130.9" cy="592.1" r="9.5"/><circle cx="1134.6" cy="623.9" r="9.5"/><circle cx="1138.3" cy="651.2" r="9.5"/><circle cx="1142.0" cy="632.1" r="9.5"/><circle cx="1145.7" cy="653.4" r="9.5"/><circle cx="1149.4" cy="620.2" r="9.5"/><circle cx="1153.1" cy="680.7" r="9.5"/><circle cx="1156.8" cy="715.7" r="9.5"/><circle cx="1160.5" cy="633.8" r="9.5"/><circle cx="1164.2" cy="607.1" r="9.5"/><circle cx="1167.9" cy="715.3" r="9.5"/><circle cx="1171.6" cy="686.8" r="9.5"/><circle cx="1175.3" cy="618.8" r="9.5"/><circle cx="1179.0" cy="704.4" r="9.5"/><circle cx="1182.7" cy="702.2" r="9.5"/><circle cx="1186.4" cy="582.6" r="9.5"/><circle cx="1190.1" cy="669.1" r="9.5"/><circle cx="1193.8" cy="653.5" r="9.5"/><circle cx="1197.5" cy="584.2" r="9.5"/><circle cx="1201.2" cy="728.2" r="9.5"/><circle cx="1204.9" cy="673.6" r="9.5"/><circle cx="1208.6" cy="623.3" r="9.5"/><circle cx="1212.3" cy="651.1" r="9.5"/><circle cx="1216.0" cy="682.8" r="9.5"/><circle cx="1219.7" cy="673.4" r="9.5"/><circle cx="1223.4" cy="569.3" r="9.5"/><circle cx="1227.1" cy="649.6" r="9.5"/><circle cx="1230.8" cy="628.6" r="9.5"/><circle cx="1234.5" cy="560.2" r="9.5"/><circle cx="1238.2" cy="641.6" r="9.5"/><circle cx="1241.9" cy="649.9" r="9.5"/><circle cx="1245.6" cy="676.5" r="9.5"/><circle cx="1249.3" cy="684.4" r="9.5"/><circle cx="1253.0" cy="644.8" r="9.5"/><circle cx="1256.7" cy="633.7" r="9.5"/><circle cx="1260.4" cy="633.7" r="9.5"/><circle cx="1264.1" cy="668.8" r="9.5"/><circle cx="1267.8" cy="750.0" r="9.5"/><circle cx="1271.5" cy="658.7" r="9.5"/><circle cx="1275.2" cy="705.5" r="9.5"/><circle cx="1278.9" cy="714.9" r="9.5"/><circle cx="1282.6" cy="664.2" r="9.5"/><circle cx="1286.3" cy="673.2" r="9.5"/><circle cx="1290.0" cy="613.1" r="9.5"/><circle cx="1293.7" cy="695.1" r="9.5"/><circle cx="1297.4" cy="734.4" r="9.5"/><circle cx="1301.1" cy="673.7" r="9.5"/><circle cx="1304.8" cy="751.0" r="9.5"/><circle cx="1308.5" cy="772.9" r="9.5"/><circle cx="1312.2" cy="724.2" r="9.5"/><circle cx="1315.9" cy="721.0" r="9.5"/><circle cx="1319.6" cy="717.5" r="9.5"/><circle cx="1323.3" cy="680.8" r="9.5"/><circle cx="1327.0" cy="691.6" r="9.5"/><circle cx="1330.7" cy="789.0" r="9.5"/><circle cx="1334.4" cy="697.0" r="9.5"/><circle cx="1338.1" cy="712.0" r="9.5"/><circle cx="1341.8" cy="720.2" r="9.5"/><circle cx="1345.5" cy="745.5" r="9.5"/><circle cx="1349.2" cy="781.6" r="9.5"/><circle cx="1352.9" cy="741.4" r="9.5"/><circle cx="1356.6" cy="732.0" r="9.5"/><circle cx="1360.3" cy="737.2" r="9.5"/><circle cx="1364.0" cy="774.3" r="9.5"/><circle cx="1367.7" cy="684.5" r="9.5"/><circle cx="1371.4" cy="730.3" r="9.5"/><circle cx="1375.1" cy="744.1" r="9.5"/><circle cx="1378.8" cy="768.6" r="9.5"/><circle cx="1382.5" cy="727.6" r="9.5"/><circle cx="1386.2" cy="744.3" r="9.5"/><circle cx="1389.9" cy="734.1" r="9.5"/><circle cx="1393.6" cy="718.3" r="9.5"/><circle cx="1397.3" cy="704.7" r="9.5"/><circle cx="1401.0" cy="674.9" r="9.5"/><circle cx="1404.7" cy="690.6" r="9.5"/><circle cx="1408.4" cy="759.0" r="9.5"/><circle cx="1412.1" cy="718.4" r="9.5"/><circle cx="1415.8" cy="750.7" r="9.5"/><circle cx="1419.5" cy="724.4" r="9.5"/><circle cx="1423.2" cy="745.1" r="9.5"/><circle cx="1426.9" cy="707.2" r="9.5"/><circle cx="1430.6" cy="740.0" r="9.5"/><circle cx="1434.3" cy="725.7" r="9.5"/><circle cx="1438.0" cy="773.6" r="9.5"/><circle cx="1441.7" cy="703.8" r="9.5"/></g><path d="M182.0,847.7L184.5,847.6L187.0,847.4L189.5,847.2L192.0,847.0L194.6,846.9L197.1,846.7L199.6,846.5L202.1,846.4L204.6,846.2L207.1,846.0L209.6,845.8L212.1,845.7L214.7,845.5L217.2,845.3L219.7,845.2L222.2,845.0L224.7,844.8L227.2,844.6L229.7,844.5L232.2,844.3L234.8,844.1L237.3,843.9L239.8,843.8L242.3,843.6L244.8,843.4L247.3,843.3L249.8,843.1L252.3,842.9L254.8,842.7L257.4,842.6L259.9,842.4L262.4,842.2L264.9,842.1L267.4,841.9L269.9,841.7L272.4,841.5L274.9,841.4L277.5,841.2L280.0,841.0L282.5,840.8L285.0,840.7L287.5,840.5L290.0,840.3L292.5,840.2L295.0,840.0L297.6,839.8L300.1,839.6L302.6,839.5L305.1,839.3L307.6,839.1L310.1,839.0L312.6,838.8L315.1,838.6L317.6,838.4L320.2,838.3L322.7,838.1L325.2,837.9L327.7,837.8L330.2,837.6L332.7,837.4L335.2,837.2L337.7,837.1L340.3,836.9L342.8,836.7L345.3,836.5L347.8,836.4L350.3,836.2L352.8,836.0L355.3,835.9L357.8,835.7L360.4,835.5L362.9,835.3L365.4,835.2L367.9,835.0L370.4,834.8L372.9,834.7L375.4,834.5L377.9,834.3L380.4,834.1L383.0,834.0L385.5,833.8L388.0,833.6L390.5,833.4L393.0,833.3L395.5,833.1L398.0,832.9L400.5,832.8L403.1,832.6L405.6,832.4L408.1,832.2L410.6,832.1L413.1,831.9L415.6,831.7L418.1,831.6L420.6,831.4L423.2,831.2L425.7,831.0L428.2,830.9L430.7,830.7L433.2,830.5L435.7,830.3L438.2,830.2L440.7,830.0L443.2,829.8L445.8,829.7L448.3,829.5L450.8,829.3L453.3,829.1L455.8,829.0L458.3,828.8L460.8,828.6L463.3,828.5L465.9,828.3L468.4,828.1L470.9,827.9L473.4,827.8L475.9,827.6L478.4,827.4L480.9,827.2L483.4,827.1L486.0,826.9L488.5,826.7L491.0,826.6L493.5,826.4L496.0,826.2L498.5,826.0L501.0,825.9L503.5,825.7L506.0,825.5L508.6,825.4L511.1,825.2L513.6,825.0L516.1,824.8L518.6,824.7L521.1,824.5L523.6,824.3L526.1,824.2L528.7,824.0L531.2,823.8L533.7,823.6L536.2,823.5L538.7,823.3L541.2,823.1L543.7,822.9L546.2,822.8L548.8,822.6L551.3,822.4L553.8,822.3L556.3,822.1L558.8,821.9L561.3,821.7L563.8,821.6L566.3,821.4L568.8,821.2L571.4,821.1L573.9,820.9L576.4,820.7L578.9,820.5L581.4,820.4L583.9,820.2L586.4,820.0L588.9,819.8L591.5,819.7L594.0,819.5L596.5,819.3L599.0,819.2L601.5,819.0L604.0,818.8L606.5,818.6L609.0,818.5L611.6,818.3L614.1,818.1L616.6,818.0L619.1,817.8L621.6,817.6L624.1,817.4L626.6,817.3L629.1,817.1L631.6,816.9L634.2,816.7L636.7,816.6L639.2,816.4L641.7,816.2L644.2,816.1L646.7,815.9L649.2,815.7L651.7,815.5L654.3,815.4L656.8,815.2L659.3,815.0L661.8,814.9L664.3,814.7L666.8,814.5L669.3,814.3L671.8,814.2L674.4,814.0L676.9,813.8L679.4,813.7L681.9,813.5L684.4,813.3L686.9,813.1L689.4,813.0L691.9,812.8L694.4,812.6L697.0,812.4L699.5,812.3L702.0,812.1L704.5,811.9L707.0,811.8L709.5,811.6L712.0,811.4L714.5,811.2L717.1,811.1L719.6,810.9L722.1,810.7L724.6,810.6L727.1,810.4L729.6,810.2L732.1,810.0L734.6,809.9L737.2,809.7L739.7,809.5L742.2,809.3L744.7,809.2L747.2,809.0L749.7,808.8L752.2,808.7L754.7,808.5L757.2,808.3L759.8,808.1L762.3,808.0L764.8,807.8L767.3,807.6L769.8,807.5L772.3,807.3L774.8,807.1L777.3,806.9L779.9,806.8L782.4,806.6L784.9,806.4L787.4,806.2L789.9,806.1L792.4,805.9L794.9,805.7L797.4,805.6L800.0,805.4L802.5,805.2L805.0,805.0L807.5,804.9L810.0,804.7L812.5,804.5L815.0,804.4L817.5,804.2L820.0,804.0L822.6,803.8L825.1,803.7L827.6,803.5L830.1,803.3L832.6,803.2L835.1,803.0L837.6,802.8L840.1,802.6L842.7,802.5L845.2,802.3L847.7,802.1L850.2,801.9L852.7,801.8L855.2,801.6L857.7,801.4L860.2,801.3L862.8,801.1L865.3,800.9L867.8,800.7L870.3,800.6L872.8,800.4L875.3,800.2L877.8,800.1L880.3,799.9L882.8,799.7L885.4,799.5L887.9,799.4L890.4,799.2L892.9,799.0L895.4,798.8L897.9,798.7L900.4,798.5L902.9,798.3L905.5,798.2L908.0,798.0L910.5,797.8L913.0,797.6L915.5,797.5L918.0,797.3L920.5,797.1L923.0,797.0L925.6,796.8L928.1,796.6L930.6,796.4L933.1,796.3L935.6,796.1L938.1,795.9L940.6,795.7L943.1,795.6L945.6,795.4L948.2,795.2L950.7,795.1L953.2,794.9L955.7,794.7L958.2,794.5L960.7,794.4L963.2,794.2L965.7,794.0L968.3,793.9L970.8,793.7L973.3,793.5L975.8,793.3L978.3,793.2L980.8,793.0L983.3,792.8L985.8,792.7L988.4,792.5L990.9,792.3L993.4,792.1L995.9,792.0L998.4,791.8L1000.9,791.6L1003.4,791.4L1005.9,791.3L1008.4,791.1L1011.0,790.9L1013.5,790.8L1016.0,790.6L1018.5,790.4L1021.0,790.2L1023.5,790.1L1026.0,789.9L1028.5,789.7L1031.1,789.6L1033.6,789.4L1036.1,789.2L1038.6,789.0L1041.1,788.9L1043.6,788.7L1046.1,788.5L1048.6,788.3L1051.2,788.2L1053.7,788.0L1056.2,787.8L1058.7,787.7L1061.2,787.5L1063.7,787.3L1066.2,787.1L1068.7,787.0L1071.2,786.8L1073.8,786.6L1076.3,786.5L1078.8,786.3L1081.3,786.1L1083.8,785.9L1086.3,785.8L1088.8,785.6L1091.3,785.4L1093.9,785.2L1096.4,785.1L1098.9,784.9L1101.4,784.7L1103.9,784.6L1106.4,784.4L1108.9,784.2L1111.4,784.0L1114.0,783.9L1116.5,783.7L1119.0,783.5L1121.5,783.4L1124.0,783.2L1126.5,783.0L1129.0,782.8L1131.5,782.7L1134.0,782.5L1136.6,782.3L1139.1,782.2L1141.6,782.0L1144.1,781.8L1146.6,781.6L1149.1,781.5L1151.6,781.3L1154.1,781.1L1156.7,780.9L1159.2,780.8L1161.7,780.6L1164.2,780.4L1166.7,780.3L1169.2,780.1L1171.7,779.9L1174.2,779.7L1176.8,779.6L1179.3,779.4L1181.8,779.2L1184.3,779.1L1186.8,778.9L1189.3,778.7L1191.8,778.5L1194.3,778.4L1196.8,778.2L1199.4,778.0L1201.9,777.8L1204.4,777.7L1206.9,777.5L1209.4,777.3L1211.9,777.2L1214.4,777.0L1216.9,776.8L1219.5,776.6L1222.0,776.5L1224.5,776.3L1227.0,776.1L1229.5,776.0L1232.0,775.8L1234.5,775.6L1237.0,775.4L1239.6,775.3L1242.1,775.1L1244.6,774.9L1247.1,774.7L1249.6,774.6L1252.1,774.4L1254.6,774.2L1257.1,774.1L1259.6,773.9L1262.2,773.7L1264.7,773.5L1267.2,773.4L1269.7,773.2L1272.2,773.0L1274.7,772.9L1277.2,772.7L1279.7,772.5L1282.3,772.3L1284.8,772.2L1287.3,772.0L1289.8,771.8L1292.3,771.6L1294.8,771.5L1297.3,771.3L1299.8,771.1L1302.4,771.0L1304.9,770.8L1307.4,770.6L1309.9,770.4L1312.4,770.3L1314.9,770.1L1317.4,769.9L1319.9,769.8L1322.4,769.6L1325.0,769.4L1327.5,769.2L1330.0,769.1L1332.5,768.9L1335.0,768.7L1337.5,768.6L1340.0,768.4L1342.5,768.2L1345.1,768.0L1347.6,767.9L1350.1,767.7L1352.6,767.5L1355.1,767.3L1357.6,767.2L1360.1,767.0L1362.6,766.8L1365.2,766.7L1367.7,766.5L1370.2,766.3L1372.7,766.1L1375.2,766.0L1377.7,765.8L1380.2,765.6L1382.7,765.5L1385.2,765.3L1387.8,765.1L1390.3,764.9L1392.8,764.8L1395.3,764.6L1397.8,764.4L1400.3,764.2L1402.8,764.1L1405.3,763.9L1407.9,763.7L1410.4,763.6L1412.9,763.4L1415.4,763.2L1417.9,763.0L1420.4,762.9L1422.9,762.7L1425.4,762.5L1428.0,762.4L1430.5,762.2L1433.0,762.0L1435.5,761.8L1438.0,761.7" stroke="#ff0000" stroke-width="6.4" fill="none"/><path d="M182.0,844.7L184.5,844.6L187.0,844.4L189.5,844.2L192.0,844.0L194.6,843.8L197.1,843.6L199.6,843.4L202.1,843.2L204.6,843.0L207.1,842.8L209.6,842.6L212.1,842.4L214.7,842.2L217.2,842.0L219.7,841.8L222.2,841.6L224.7,841.4L227.2,841.2L229.7,841.0L232.2,840.8L234.8,840.6L237.3,840.4L239.8,840.2L242.3,840.0L244.8,839.8L247.3,839.6L249.8,839.4L252.3,839.2L254.8,839.0L257.4,838.8L259.9,838.6L262.4,838.3L264.9,838.1L267.4,837.9L269.9,837.7L272.4,837.5L274.9,837.3L277.5,837.1L280.0,836.9L282.5,836.7L285.0,836.5L287.5,836.3L290.0,836.1L292.5,835.8L295.0,835.6L297.6,835.4L300.1,835.2L302.6,835.0L305.1,834.8L307.6,834.6L310.1,834.3L312.6,834.1L315.1,833.9L317.6,833.7L320.2,833.5L322.7,833.3L325.2,833.0L327.7,832.8L330.2,832.6L332.7,832.4L335.2,832.1L337.7,831.9L340.3,831.7L342.8,831.5L345.3,831.2L347.8,831.0L350.3,830.8L352.8,830.6L355.3,830.3L357.8,830.1L360.4,829.9L362.9,829.6L365.4,829.4L367.9,829.1L370.4,828.9L372.9,828.7L375.4,828.4L377.9,828.2L380.4,827.9L383.0,827.7L385.5,827.4L388.0,827.2L390.5,826.9L393.0,826.7L395.5,826.4L398.0,826.2L400.5,825.9L403.1,825.7L405.6,825.4L408.1,825.1L410.6,824.9L413.1,824.6L415.6,824.3L418.1,824.1L420.6,823.8L423.2,823.5L425.7,823.2L428.2,822.9L430.7,822.7L433.2,822.4L435.7,822.1L438.2,821.8L440.7,821.5L443.2,821.2L445.8,820.9L448.3,820.6L450.8,820.3L453.3,819.9L455.8,819.6L458.3,819.3L460.8,819.0L463.3,818.6L465.9,818.3L468.4,818.0L470.9,817.6L473.4,817.3L475.9,816.9L478.4,816.6L480.9,816.2L483.4,815.8L486.0,815.5L488.5,815.1L491.0,814.7L493.5,814.3L496.0,813.9L498.5,813.5L501.0,813.1L503.5,812.7L506.0,812.2L508.6,811.8L511.1,811.4L513.6,810.9L516.1,810.5L518.6,810.0L521.1,809.6L523.6,809.1L526.1,808.6L528.7,808.1L531.2,807.6L533.7,807.1L536.2,806.6L538.7,806.1L541.2,805.5L543.7,805.0L546.2,804.4L548.8,803.9L551.3,803.3L553.8,802.7L556.3,802.1L558.8,801.5L561.3,800.9L563.8,800.3L566.3,799.7L568.8,799.0L571.4,798.4L573.9,797.7L576.4,797.0L578.9,796.3L581.4,795.6L583.9,794.9L586.4,794.2L588.9,793.5L591.5,792.7L594.0,792.0L596.5,791.2L599.0,790.4L601.5,789.6L604.0,788.8L606.5,788.0L609.0,787.2L611.6,786.3L614.1,785.5L616.6,784.6L619.1,783.7L621.6,782.8L624.1,781.9L626.6,781.0L629.1,780.1L631.6,779.2L634.2,778.2L636.7,777.2L639.2,776.3L641.7,775.3L644.2,774.3L646.7,773.3L649.2,772.3L651.7,771.2L654.3,770.2L656.8,769.1L659.3,768.1L661.8,767.0L664.3,765.9L666.8,764.8L669.3,763.7L671.8,762.6L674.4,761.5L676.9,760.4L679.4,759.2L681.9,758.1L684.4,757.0L686.9,755.8L689.4,754.6L691.9,753.5L694.4,752.3L697.0,751.2L699.5,750.0L702.0,748.8L704.5,747.7L707.0,746.5L709.5,745.3L712.0,744.1L714.5,743.0L717.1,741.8L719.6,740.7L722.1,739.5L724.6,738.4L727.1,737.3L729.6,736.1L732.1,735.0L734.6,733.9L737.2,732.9L739.7,731.8L742.2,730.7L744.7,729.7L747.2,728.7L749.7,727.7L752.2,726.8L754.7,725.8L757.2,724.9L759.8,724.0L762.3,723.2L764.8,722.3L767.3,721.5L769.8,720.8L772.3,720.0L774.8,719.3L777.3,718.7L779.9,718.1L782.4,717.5L784.9,716.9L787.4,716.4L789.9,716.0L792.4,715.6L794.9,715.2L797.4,714.9L800.0,714.6L802.5,714.3L805.0,714.1L807.5,714.0L810.0,713.9L812.5,713.9L815.0,713.9L817.5,714.0L820.0,714.1L822.6,714.3L825.1,714.5L827.6,714.8L830.1,715.1L832.6,715.5L835.1,715.9L837.6,716.4L840.1,716.9L842.7,717.4L845.2,718.0L847.7,718.6L850.2,719.3L852.7,719.9L855.2,720.7L857.7,721.4L860.2,722.2L862.8,723.0L865.3,723.8L867.8,724.6L870.3,725.4L872.8,726.3L875.3,727.2L877.8,728.1L880.3,729.0L882.8,729.9L885.4,730.8L887.9,731.7L890.4,732.7L892.9,733.6L895.4,734.5L897.9,735.5L900.4,736.4L902.9,737.4L905.5,738.3L908.0,739.2L910.5,740.1L913.0,741.1L915.5,742.0L918.0,742.9L920.5,743.8L923.0,744.6L925.6,745.5L928.1,746.4L930.6,747.2L933.1,748.1L935.6,748.9L938.1,749.7L940.6,750.5L943.1,751.3L945.6,752.1L948.2,752.9L950.7,753.6L953.2,754.4L955.7,755.1L958.2,755.8L960.7,756.5L963.2,757.2L965.7,757.9L968.3,758.5L970.8,759.1L973.3,759.8L975.8,760.4L978.3,761.0L980.8,761.5L983.3,762.1L985.8,762.7L988.4,763.2L990.9,763.7L993.4,764.2L995.9,764.7L998.4,765.2L1000.9,765.6L1003.4,766.1L1005.9,766.5L1008.4,766.9L1011.0,767.3L1013.5,767.7L1016.0,768.1L1018.5,768.4L1021.0,768.8L1023.5,769.1L1026.0,769.4L1028.5,769.7L1031.1,770.0L1033.6,770.3L1036.1,770.6L1038.6,770.8L1041.1,771.1L1043.6,771.3L1046.1,771.5L1048.6,771.7L1051.2,771.9L1053.7,772.1L1056.2,772.3L1058.7,772.5L1061.2,772.6L1063.7,772.8L1066.2,772.9L1068.7,773.1L1071.2,773.2L1073.8,773.3L1076.3,773.4L1078.8,773.5L1081.3,773.6L1083.8,773.7L1086.3,773.8L1088.8,773.8L1091.3,773.9L1093.9,773.9L1096.4,774.0L1098.9,774.0L1101.4,774.1L1103.9,774.1L1106.4,774.1L1108.9,774.1L1111.4,774.2L1114.0,774.2L1116.5,774.2L1119.0,774.2L1121.5,774.2L1124.0,774.1L1126.5,774.1L1129.0,774.1L1131.5,774.1L1134.0,774.0L1136.6,774.0L1139.1,774.0L1141.6,773.9L1144.1,773.9L1146.6,773.8L1149.1,773.8L1151.6,773.7L1154.1,773.7L1156.7,773.6L1159.2,773.5L1161.7,773.5L1164.2,773.4L1166.7,773.3L1169.2,773.3L1171.7,773.2L1174.2,773.1L1176.8,773.0L1179.3,772.9L1181.8,772.9L1184.3,772.8L1186.8,772.7L1189.3,772.6L1191.8,772.5L1194.3,772.4L1196.8,772.3L1199.4,772.2L1201.9,772.1L1204.4,772.0L1206.9,771.9L1209.4,771.8L1211.9,771.7L1214.4,771.6L1216.9,771.5L1219.5,771.4L1222.0,771.2L1224.5,771.1L1227.0,771.0L1229.5,770.9L1232.0,770.8L1234.5,770.7L1237.0,770.6L1239.6,770.4L1242.1,770.3L1244.6,770.2L1247.1,770.1L1249.6,770.0L1252.1,769.8L1254.6,769.7L1257.1,769.6L1259.6,769.5L1262.2,769.3L1264.7,769.2L1267.2,769.1L1269.7,768.9L1272.2,768.8L1274.7,768.7L1277.2,768.6L1279.7,768.4L1282.3,768.3L1284.8,768.2L1287.3,768.0L1289.8,767.9L1292.3,767.8L1294.8,767.6L1297.3,767.5L1299.8,767.4L1302.4,767.2L1304.9,767.1L1307.4,766.9L1309.9,766.8L1312.4,766.7L1314.9,766.5L1317.4,766.4L1319.9,766.2L1322.4,766.1L1325.0,766.0L1327.5,765.8L1330.0,765.7L1332.5,765.5L1335.0,765.4L1337.5,765.3L1340.0,765.1L1342.5,765.0L1345.1,764.8L1347.6,764.7L1350.1,764.5L1352.6,764.4L1355.1,764.2L1357.6,764.1L1360.1,764.0L1362.6,763.8L1365.2,763.7L1367.7,763.5L1370.2,763.4L1372.7,763.2L1375.2,763.1L1377.7,762.9L1380.2,762.8L1382.7,762.6L1385.2,762.5L1387.8,762.3L1390.3,762.2L1392.8,762.0L1395.3,761.9L1397.8,761.7L1400.3,761.6L1402.8,761.4L1405.3,761.3L1407.9,761.1L1410.4,761.0L1412.9,760.8L1415.4,760.7L1417.9,760.5L1420.4,760.4L1422.9,760.2L1425.4,760.1L1428.0,759.9L1430.5,759.8L1433.0,759.6L1435.5,759.4L1438.0,759.3" stroke="#008000" stroke-width="6.4" fill="none" stroke-linejoin="round"/><path d="M182.0,846.3L184.5,846.1L187.0,845.9L189.5,845.8L192.0,845.6L194.6,845.4L197.1,845.2L199.6,845.0L202.1,844.9L204.6,844.7L207.1,844.5L209.6,844.3L212.1,844.1L214.7,843.9L217.2,843.8L219.7,843.6L222.2,843.4L224.7,843.2L227.2,843.0L229.7,842.8L232.2,842.7L234.8,842.5L237.3,842.3L239.8,842.1L242.3,841.9L244.8,841.7L247.3,841.6L249.8,841.4L252.3,841.2L254.8,841.0L257.4,840.8L259.9,840.6L262.4,840.5L264.9,840.3L267.4,840.1L269.9,839.9L272.4,839.7L274.9,839.5L277.5,839.3L280.0,839.2L282.5,839.0L285.0,838.8L287.5,838.6L290.0,838.4L292.5,838.2L295.0,838.0L297.6,837.9L300.1,837.7L302.6,837.5L305.1,837.3L307.6,837.1L310.1,836.9L312.6,836.7L315.1,836.6L317.6,836.4L320.2,836.2L322.7,836.0L325.2,835.8L327.7,835.6L330.2,835.4L332.7,835.2L335.2,835.0L337.7,834.9L340.3,834.7L342.8,834.5L345.3,834.3L347.8,834.1L350.3,833.9L352.8,833.7L355.3,833.5L357.8,833.3L360.4,833.1L362.9,833.0L365.4,832.8L367.9,832.6L370.4,832.4L372.9,832.2L375.4,832.0L377.9,831.8L380.4,831.6L383.0,831.4L385.5,831.2L388.0,831.0L390.5,830.8L393.0,830.6L395.5,830.4L398.0,830.2L400.5,830.1L403.1,829.9L405.6,829.7L408.1,829.5L410.6,829.3L413.1,829.1L415.6,828.9L418.1,828.7L420.6,828.5L423.2,828.3L425.7,828.1L428.2,827.9L430.7,827.7L433.2,827.5L435.7,827.3L438.2,827.1L440.7,826.9L443.2,826.7L445.8,826.5L448.3,826.3L450.8,826.1L453.3,825.9L455.8,825.7L458.3,825.5L460.8,825.3L463.3,825.1L465.9,824.9L468.4,824.7L470.9,824.4L473.4,824.2L475.9,824.0L478.4,823.8L480.9,823.6L483.4,823.4L486.0,823.2L488.5,823.0L491.0,822.8L493.5,822.6L496.0,822.4L498.5,822.1L501.0,821.9L503.5,821.7L506.0,821.5L508.6,821.3L511.1,821.1L513.6,820.9L516.1,820.6L518.6,820.4L521.1,820.2L523.6,820.0L526.1,819.8L528.7,819.6L531.2,819.3L533.7,819.1L536.2,818.9L538.7,818.7L541.2,818.4L543.7,818.2L546.2,818.0L548.8,817.8L551.3,817.5L553.8,817.3L556.3,817.1L558.8,816.8L561.3,816.6L563.8,816.4L566.3,816.2L568.8,815.9L571.4,815.7L573.9,815.4L576.4,815.2L578.9,815.0L581.4,814.7L583.9,814.5L586.4,814.2L588.9,814.0L591.5,813.8L594.0,813.5L596.5,813.3L599.0,813.0L601.5,812.8L604.0,812.5L606.5,812.2L609.0,812.0L611.6,811.7L614.1,811.5L616.6,811.2L619.1,811.0L621.6,810.7L624.1,810.4L626.6,810.2L629.1,809.9L631.6,809.6L634.2,809.3L636.7,809.1L639.2,808.8L641.7,808.5L644.2,808.2L646.7,807.9L649.2,807.6L651.7,807.4L654.3,807.1L656.8,806.8L659.3,806.5L661.8,806.2L664.3,805.9L666.8,805.5L669.3,805.2L671.8,804.9L674.4,804.6L676.9,804.3L679.4,804.0L681.9,803.6L684.4,803.3L686.9,803.0L689.4,802.6L691.9,802.3L694.4,801.9L697.0,801.6L699.5,801.2L702.0,800.9L704.5,800.5L707.0,800.1L709.5,799.7L712.0,799.3L714.5,798.9L717.1,798.5L719.6,798.1L722.1,797.7L724.6,797.3L727.1,796.9L729.6,796.4L732.1,796.0L734.6,795.6L737.2,795.1L739.7,794.6L742.2,794.1L744.7,793.6L747.2,793.1L749.7,792.6L752.2,792.1L754.7,791.6L757.2,791.0L759.8,790.5L762.3,789.9L764.8,789.3L767.3,788.7L769.8,788.1L772.3,787.4L774.8,786.8L777.3,786.1L779.9,785.4L782.4,784.7L784.9,783.9L787.4,783.2L789.9,782.4L792.4,781.6L794.9,780.8L797.4,779.9L800.0,779.0L802.5,778.1L805.0,777.2L807.5,776.2L810.0,775.2L812.5,774.2L815.0,773.2L817.5,772.1L820.0,770.9L822.6,769.8L825.1,768.6L827.6,767.3L830.1,766.1L832.6,764.8L835.1,763.4L837.6,762.0L840.1,760.6L842.7,759.1L845.2,757.6L847.7,756.0L850.2,754.4L852.7,752.7L855.2,751.0L857.7,749.2L860.2,747.4L862.8,745.5L865.3,743.6L867.8,741.6L870.3,739.6L872.8,737.5L875.3,735.4L877.8,733.3L880.3,731.0L882.8,728.8L885.4,726.4L887.9,724.1L890.4,721.7L892.9,719.2L895.4,716.7L897.9,714.2L900.4,711.6L902.9,709.0L905.5,706.3L908.0,703.7L910.5,701.0L913.0,698.3L915.5,695.6L918.0,692.9L920.5,690.2L923.0,687.6L925.6,684.9L928.1,682.3L930.6,679.8L933.1,677.3L935.6,674.8L938.1,672.5L940.6,670.2L943.1,668.0L945.6,666.0L948.2,664.1L950.7,662.3L953.2,660.7L955.7,659.2L958.2,658.0L960.7,656.9L963.2,655.9L965.7,655.2L968.3,654.7L970.8,654.4L973.3,654.3L975.8,654.4L978.3,654.8L980.8,655.4L983.3,656.3L985.8,657.3L988.4,658.6L990.9,660.1L993.4,661.7L995.9,663.5L998.4,665.5L1000.9,667.6L1003.4,669.8L1005.9,672.1L1008.4,674.5L1011.0,676.9L1013.5,679.4L1016.0,682.0L1018.5,684.6L1021.0,687.2L1023.5,689.7L1026.0,692.3L1028.5,694.9L1031.1,697.5L1033.6,700.0L1036.1,702.5L1038.6,705.0L1041.1,707.4L1043.6,709.8L1046.1,712.1L1048.6,714.3L1051.2,716.5L1053.7,718.7L1056.2,720.8L1058.7,722.8L1061.2,724.8L1063.7,726.7L1066.2,728.5L1068.7,730.3L1071.2,732.0L1073.8,733.7L1076.3,735.3L1078.8,736.8L1081.3,738.3L1083.8,739.7L1086.3,741.1L1088.8,742.4L1091.3,743.7L1093.9,744.9L1096.4,746.0L1098.9,747.1L1101.4,748.2L1103.9,749.2L1106.4,750.1L1108.9,751.1L1111.4,751.9L1114.0,752.8L1116.5,753.6L1119.0,754.3L1121.5,755.0L1124.0,755.7L1126.5,756.4L1129.0,757.0L1131.5,757.6L1134.0,758.1L1136.6,758.6L1139.1,759.1L1141.6,759.6L1144.1,760.0L1146.6,760.5L1149.1,760.8L1151.6,761.2L1154.1,761.6L1156.7,761.9L1159.2,762.2L1161.7,762.5L1164.2,762.8L1166.7,763.0L1169.2,763.3L1171.7,763.5L1174.2,763.7L1176.8,763.9L1179.3,764.1L1181.8,764.2L1184.3,764.4L1186.8,764.6L1189.3,764.7L1191.8,764.8L1194.3,764.9L1196.8,765.0L1199.4,765.1L1201.9,765.2L1204.4,765.3L1206.9,765.4L1209.4,765.4L1211.9,765.5L1214.4,765.5L1216.9,765.6L1219.5,765.6L1222.0,765.7L1224.5,765.7L1227.0,765.7L1229.5,765.7L1232.0,765.7L1234.5,765.7L1237.0,765.7L1239.6,765.7L1242.1,765.7L1244.6,765.7L1247.1,765.7L1249.6,765.7L1252.1,765.6L1254.6,765.6L1257.1,765.6L1259.6,765.5L1262.2,765.5L1264.7,765.5L1267.2,765.4L1269.7,765.4L1272.2,765.3L1274.7,765.3L1277.2,765.2L1279.7,765.2L1282.3,765.1L1284.8,765.0L1287.3,765.0L1289.8,764.9L1292.3,764.8L1294.8,764.7L1297.3,764.7L1299.8,764.6L1302.4,764.5L1304.9,764.4L1307.4,764.4L1309.9,764.3L1312.4,764.2L1314.9,764.1L1317.4,764.0L1319.9,763.9L1322.4,763.8L1325.0,763.7L1327.5,763.6L1330.0,763.5L1332.5,763.4L1335.0,763.3L1337.5,763.2L1340.0,763.1L1342.5,763.0L1345.1,762.9L1347.6,762.8L1350.1,762.7L1352.6,762.6L1355.1,762.5L1357.6,762.4L1360.1,762.3L1362.6,762.1L1365.2,762.0L1367.7,761.9L1370.2,761.8L1372.7,761.7L1375.2,761.6L1377.7,761.4L1380.2,761.3L1382.7,761.2L1385.2,761.1L1387.8,760.9L1390.3,760.8L1392.8,760.7L1395.3,760.6L1397.8,760.4L1400.3,760.3L1402.8,760.2L1405.3,760.1L1407.9,759.9L1410.4,759.8L1412.9,759.7L1415.4,759.5L1417.9,759.4L1420.4,759.3L1422.9,759.1L1425.4,759.0L1428.0,758.9L1430.5,758.7L1433.0,758.6L1435.5,758.5L1438.0,758.3" stroke="#ff00ff" stroke-width="6.4" fill="none" stroke-linejoin="round"/><path d="M182.0,847.2L184.5,847.0L187.0,846.8L189.5,846.6L192.0,846.5L194.6,846.3L197.1,846.1L199.6,845.9L202.1,845.8L204.6,845.6L207.1,845.4L209.6,845.2L212.1,845.1L214.7,844.9L217.2,844.7L219.7,844.5L222.2,844.4L224.7,844.2L227.2,844.0L229.7,843.8L232.2,843.7L234.8,843.5L237.3,843.3L239.8,843.1L242.3,842.9L244.8,842.8L247.3,842.6L249.8,842.4L252.3,842.2L254.8,842.1L257.4,841.9L259.9,841.7L262.4,841.5L264.9,841.4L267.4,841.2L269.9,841.0L272.4,840.8L274.9,840.7L277.5,840.5L280.0,840.3L282.5,840.1L285.0,840.0L287.5,839.8L290.0,839.6L292.5,839.4L295.0,839.3L297.6,839.1L300.1,838.9L302.6,838.7L305.1,838.6L307.6,838.4L310.1,838.2L312.6,838.0L315.1,837.8L317.6,837.7L320.2,837.5L322.7,837.3L325.2,837.1L327.7,837.0L330.2,836.8L332.7,836.6L335.2,836.4L337.7,836.3L340.3,836.1L342.8,835.9L345.3,835.7L347.8,835.5L350.3,835.4L352.8,835.2L355.3,835.0L357.8,834.8L360.4,834.7L362.9,834.5L365.4,834.3L367.9,834.1L370.4,834.0L372.9,833.8L375.4,833.6L377.9,833.4L380.4,833.2L383.0,833.1L385.5,832.9L388.0,832.7L390.5,832.5L393.0,832.4L395.5,832.2L398.0,832.0L400.5,831.8L403.1,831.6L405.6,831.5L408.1,831.3L410.6,831.1L413.1,830.9L415.6,830.8L418.1,830.6L420.6,830.4L423.2,830.2L425.7,830.0L428.2,829.9L430.7,829.7L433.2,829.5L435.7,829.3L438.2,829.1L440.7,829.0L443.2,828.8L445.8,828.6L448.3,828.4L450.8,828.2L453.3,828.1L455.8,827.9L458.3,827.7L460.8,827.5L463.3,827.4L465.9,827.2L468.4,827.0L470.9,826.8L473.4,826.6L475.9,826.5L478.4,826.3L480.9,826.1L483.4,825.9L486.0,825.7L488.5,825.6L491.0,825.4L493.5,825.2L496.0,825.0L498.5,824.8L501.0,824.7L503.5,824.5L506.0,824.3L508.6,824.1L511.1,823.9L513.6,823.7L516.1,823.6L518.6,823.4L521.1,823.2L523.6,823.0L526.1,822.8L528.7,822.7L531.2,822.5L533.7,822.3L536.2,822.1L538.7,821.9L541.2,821.7L543.7,821.6L546.2,821.4L548.8,821.2L551.3,821.0L553.8,820.8L556.3,820.6L558.8,820.5L561.3,820.3L563.8,820.1L566.3,819.9L568.8,819.7L571.4,819.5L573.9,819.4L576.4,819.2L578.9,819.0L581.4,818.8L583.9,818.6L586.4,818.4L588.9,818.3L591.5,818.1L594.0,817.9L596.5,817.7L599.0,817.5L601.5,817.3L604.0,817.1L606.5,817.0L609.0,816.8L611.6,816.6L614.1,816.4L616.6,816.2L619.1,816.0L621.6,815.8L624.1,815.6L626.6,815.5L629.1,815.3L631.6,815.1L634.2,814.9L636.7,814.7L639.2,814.5L641.7,814.3L644.2,814.1L646.7,814.0L649.2,813.8L651.7,813.6L654.3,813.4L656.8,813.2L659.3,813.0L661.8,812.8L664.3,812.6L666.8,812.4L669.3,812.2L671.8,812.1L674.4,811.9L676.9,811.7L679.4,811.5L681.9,811.3L684.4,811.1L686.9,810.9L689.4,810.7L691.9,810.5L694.4,810.3L697.0,810.1L699.5,809.9L702.0,809.7L704.5,809.5L707.0,809.3L709.5,809.1L712.0,808.9L714.5,808.7L717.1,808.5L719.6,808.4L722.1,808.2L724.6,808.0L727.1,807.8L729.6,807.6L732.1,807.4L734.6,807.2L737.2,807.0L739.7,806.8L742.2,806.6L744.7,806.3L747.2,806.1L749.7,805.9L752.2,805.7L754.7,805.5L757.2,805.3L759.8,805.1L762.3,804.9L764.8,804.7L767.3,804.5L769.8,804.3L772.3,804.1L774.8,803.9L777.3,803.7L779.9,803.4L782.4,803.2L784.9,803.0L787.4,802.8L789.9,802.6L792.4,802.4L794.9,802.2L797.4,801.9L800.0,801.7L802.5,801.5L805.0,801.3L807.5,801.0L810.0,800.8L812.5,800.6L815.0,800.4L817.5,800.1L820.0,799.9L822.6,799.7L825.1,799.4L827.6,799.2L830.1,799.0L832.6,798.7L835.1,798.5L837.6,798.2L840.1,798.0L842.7,797.7L845.2,797.5L847.7,797.2L850.2,797.0L852.7,796.7L855.2,796.4L857.7,796.2L860.2,795.9L862.8,795.6L865.3,795.3L867.8,795.0L870.3,794.7L872.8,794.5L875.3,794.2L877.8,793.9L880.3,793.6L882.8,793.2L885.4,792.9L887.9,792.6L890.4,792.3L892.9,791.9L895.4,791.6L897.9,791.2L900.4,790.9L902.9,790.5L905.5,790.2L908.0,789.8L910.5,789.4L913.0,789.0L915.5,788.6L918.0,788.2L920.5,787.8L923.0,787.3L925.6,786.9L928.1,786.4L930.6,786.0L933.1,785.5L935.6,785.0L938.1,784.5L940.6,784.0L943.1,783.5L945.6,783.0L948.2,782.4L950.7,781.9L953.2,781.3L955.7,780.7L958.2,780.1L960.7,779.5L963.2,778.8L965.7,778.2L968.3,777.5L970.8,776.9L973.3,776.2L975.8,775.4L978.3,774.7L980.8,774.0L983.3,773.2L985.8,772.4L988.4,771.6L990.9,770.8L993.4,770.0L995.9,769.1L998.4,768.2L1000.9,767.3L1003.4,766.4L1005.9,765.5L1008.4,764.5L1011.0,763.5L1013.5,762.6L1016.0,761.5L1018.5,760.5L1021.0,759.4L1023.5,758.4L1026.0,757.3L1028.5,756.2L1031.1,755.0L1033.6,753.9L1036.1,752.7L1038.6,751.5L1041.1,750.3L1043.6,749.1L1046.1,747.8L1048.6,746.6L1051.2,745.3L1053.7,744.0L1056.2,742.7L1058.7,741.4L1061.2,740.0L1063.7,738.7L1066.2,737.3L1068.7,735.9L1071.2,734.5L1073.8,733.1L1076.3,731.7L1078.8,730.3L1081.3,728.9L1083.8,727.5L1086.3,726.0L1088.8,724.6L1091.3,723.1L1093.9,721.7L1096.4,720.2L1098.9,718.8L1101.4,717.4L1103.9,715.9L1106.4,714.5L1108.9,713.1L1111.4,711.6L1114.0,710.2L1116.5,708.9L1119.0,707.5L1121.5,706.1L1124.0,704.8L1126.5,703.5L1129.0,702.2L1131.5,700.9L1134.0,699.7L1136.6,698.5L1139.1,697.3L1141.6,696.2L1144.1,695.1L1146.6,694.0L1149.1,693.0L1151.6,692.0L1154.1,691.1L1156.7,690.2L1159.2,689.4L1161.7,688.6L1164.2,687.9L1166.7,687.2L1169.2,686.6L1171.7,686.0L1174.2,685.5L1176.8,685.1L1179.3,684.7L1181.8,684.4L1184.3,684.2L1186.8,684.0L1189.3,683.9L1191.8,683.9L1194.3,683.9L1196.8,684.1L1199.4,684.3L1201.9,684.6L1204.4,685.1L1206.9,685.5L1209.4,686.1L1211.9,686.7L1214.4,687.4L1216.9,688.2L1219.5,689.0L1222.0,689.9L1224.5,690.9L1227.0,691.9L1229.5,692.9L1232.0,694.0L1234.5,695.1L1237.0,696.3L1239.6,697.5L1242.1,698.7L1244.6,700.0L1247.1,701.2L1249.6,702.5L1252.1,703.8L1254.6,705.2L1257.1,706.5L1259.6,707.8L1262.2,709.2L1264.7,710.5L1267.2,711.9L1269.7,713.2L1272.2,714.5L1274.7,715.9L1277.2,717.2L1279.7,718.5L1282.3,719.8L1284.8,721.1L1287.3,722.3L1289.8,723.6L1292.3,724.8L1294.8,726.0L1297.3,727.2L1299.8,728.4L1302.4,729.5L1304.9,730.6L1307.4,731.7L1309.9,732.8L1312.4,733.8L1314.9,734.8L1317.4,735.8L1319.9,736.8L1322.4,737.7L1325.0,738.6L1327.5,739.5L1330.0,740.3L1332.5,741.2L1335.0,742.0L1337.5,742.7L1340.0,743.5L1342.5,744.2L1345.1,744.8L1347.6,745.5L1350.1,746.1L1352.6,746.7L1355.1,747.3L1357.6,747.8L1360.1,748.4L1362.6,748.9L1365.2,749.3L1367.7,749.8L1370.2,750.2L1372.7,750.6L1375.2,751.0L1377.7,751.3L1380.2,751.7L1382.7,752.0L1385.2,752.3L1387.8,752.6L1390.3,752.8L1392.8,753.1L1395.3,753.3L1397.8,753.5L1400.3,753.7L1402.8,753.9L1405.3,754.0L1407.9,754.2L1410.4,754.3L1412.9,754.4L1415.4,754.5L1417.9,754.6L1420.4,754.7L1422.9,754.8L1425.4,754.8L1428.0,754.9L1430.5,754.9L1433.0,755.0L1435.5,755.0L1438.0,755.0" stroke="#0000ff" stroke-width="6.4" fill="none" stroke-linejoin="round"/><path d="M182.0,843.3L184.5,842.8L187.0,842.3L189.5,841.8L192.0,841.3L194.6,840.7L197.1,840.0L199.6,839.3L202.1,838.5L204.6,837.7L207.1,836.8L209.6,835.8L212.1,834.7L214.7,833.6L217.2,832.3L219.7,830.9L222.2,829.5L224.7,827.9L227.2,826.2L229.7,824.4L232.2,822.4L234.8,820.4L237.3,818.2L239.8,816.0L242.3,813.6L244.8,811.2L247.3,808.7L249.8,806.1L252.3,803.5L254.8,800.9L257.4,798.3L259.9,795.7L262.4,793.3L264.9,791.0L267.4,788.8L269.9,786.9L272.4,785.2L274.9,783.9L277.5,782.8L280.0,782.2L282.5,782.0L285.0,782.1L287.5,782.5L290.0,783.3L292.5,784.4L295.0,785.8L297.6,787.4L300.1,789.1L302.6,791.0L305.1,793.1L307.6,795.2L310.1,797.3L312.6,799.5L315.1,801.6L317.6,803.7L320.2,805.8L322.7,807.8L325.2,809.7L327.7,811.5L330.2,813.3L332.7,814.9L335.2,816.5L337.7,817.9L340.3,819.2L342.8,820.5L345.3,821.6L347.8,822.6L350.3,823.5L352.8,824.4L355.3,825.1L357.8,825.8L360.4,826.4L362.9,826.9L365.4,827.4L367.9,827.8L370.4,828.1L372.9,828.4L375.4,828.6L377.9,828.8L380.4,829.0L383.0,829.1L385.5,829.2L388.0,829.3L390.5,829.3L393.0,829.4L395.5,829.4L398.0,829.4L400.5,829.4L403.1,829.3L405.6,829.3L408.1,829.3L410.6,829.2L413.1,829.1L415.6,829.1L418.1,829.0L420.6,828.9L423.2,828.8L425.7,828.7L428.2,828.6L430.7,828.5L433.2,828.4L435.7,828.3L438.2,828.2L440.7,828.1L443.2,828.0L445.8,827.8L448.3,827.7L450.8,827.6L453.3,827.5L455.8,827.4L458.3,827.2L460.8,827.1L463.3,827.0L465.9,826.8L468.4,826.7L470.9,826.6L473.4,826.4L475.9,826.3L478.4,826.1L480.9,826.0L483.4,825.9L486.0,825.7L488.5,825.6L491.0,825.4L493.5,825.3L496.0,825.1L498.5,825.0L501.0,824.8L503.5,824.7L506.0,824.5L508.6,824.4L511.1,824.2L513.6,824.1L516.1,823.9L518.6,823.8L521.1,823.6L523.6,823.5L526.1,823.3L528.7,823.2L531.2,823.0L533.7,822.8L536.2,822.7L538.7,822.5L541.2,822.4L543.7,822.2L546.2,822.1L548.8,821.9L551.3,821.7L553.8,821.6L556.3,821.4L558.8,821.3L561.3,821.1L563.8,820.9L566.3,820.8L568.8,820.6L571.4,820.4L573.9,820.3L576.4,820.1L578.9,820.0L581.4,819.8L583.9,819.6L586.4,819.5L588.9,819.3L591.5,819.1L594.0,819.0L596.5,818.8L599.0,818.7L601.5,818.5L604.0,818.3L606.5,818.2L609.0,818.0L611.6,817.8L614.1,817.7L616.6,817.5L619.1,817.3L621.6,817.2L624.1,817.0L626.6,816.8L629.1,816.7L631.6,816.5L634.2,816.3L636.7,816.2L639.2,816.0L641.7,815.8L644.2,815.7L646.7,815.5L649.2,815.3L651.7,815.2L654.3,815.0L656.8,814.8L659.3,814.7L661.8,814.5L664.3,814.3L666.8,814.2L669.3,814.0L671.8,813.8L674.4,813.7L676.9,813.5L679.4,813.3L681.9,813.2L684.4,813.0L686.9,812.8L689.4,812.7L691.9,812.5L694.4,812.3L697.0,812.1L699.5,812.0L702.0,811.8L704.5,811.6L707.0,811.5L709.5,811.3L712.0,811.1L714.5,811.0L717.1,810.8L719.6,810.6L722.1,810.5L724.6,810.3L727.1,810.1L729.6,810.0L732.1,809.8L734.6,809.6L737.2,809.4L739.7,809.3L742.2,809.1L744.7,808.9L747.2,808.8L749.7,808.6L752.2,808.4L754.7,808.3L757.2,808.1L759.8,807.9L762.3,807.7L764.8,807.6L767.3,807.4L769.8,807.2L772.3,807.1L774.8,806.9L777.3,806.7L779.9,806.6L782.4,806.4L784.9,806.2L787.4,806.0L789.9,805.9L792.4,805.7L794.9,805.5L797.4,805.4L800.0,805.2L802.5,805.0L805.0,804.9L807.5,804.7L810.0,804.5L812.5,804.3L815.0,804.2L817.5,804.0L820.0,803.8L822.6,803.7L825.1,803.5L827.6,803.3L830.1,803.2L832.6,803.0L835.1,802.8L837.6,802.6L840.1,802.5L842.7,802.3L845.2,802.1L847.7,802.0L850.2,801.8L852.7,801.6L855.2,801.4L857.7,801.3L860.2,801.1L862.8,800.9L865.3,800.8L867.8,800.6L870.3,800.4L872.8,800.2L875.3,800.1L877.8,799.9L880.3,799.7L882.8,799.6L885.4,799.4L887.9,799.2L890.4,799.1L892.9,798.9L895.4,798.7L897.9,798.5L900.4,798.4L902.9,798.2L905.5,798.0L908.0,797.9L910.5,797.7L913.0,797.5L915.5,797.3L918.0,797.2L920.5,797.0L923.0,796.8L925.6,796.7L928.1,796.5L930.6,796.3L933.1,796.1L935.6,796.0L938.1,795.8L940.6,795.6L943.1,795.5L945.6,795.3L948.2,795.1L950.7,794.9L953.2,794.8L955.7,794.6L958.2,794.4L960.7,794.3L963.2,794.1L965.7,793.9L968.3,793.7L970.8,793.6L973.3,793.4L975.8,793.2L978.3,793.1L980.8,792.9L983.3,792.7L985.8,792.5L988.4,792.4L990.9,792.2L993.4,792.0L995.9,791.9L998.4,791.7L1000.9,791.5L1003.4,791.3L1005.9,791.2L1008.4,791.0L1011.0,790.8L1013.5,790.7L1016.0,790.5L1018.5,790.3L1021.0,790.1L1023.5,790.0L1026.0,789.8L1028.5,789.6L1031.1,789.5L1033.6,789.3L1036.1,789.1L1038.6,788.9L1041.1,788.8L1043.6,788.6L1046.1,788.4L1048.6,788.3L1051.2,788.1L1053.7,787.9L1056.2,787.7L1058.7,787.6L1061.2,787.4L1063.7,787.2L1066.2,787.1L1068.7,786.9L1071.2,786.7L1073.8,786.5L1076.3,786.4L1078.8,786.2L1081.3,786.0L1083.8,785.9L1086.3,785.7L1088.8,785.5L1091.3,785.3L1093.9,785.2L1096.4,785.0L1098.9,784.8L1101.4,784.7L1103.9,784.5L1106.4,784.3L1108.9,784.1L1111.4,784.0L1114.0,783.8L1116.5,783.6L1119.0,783.5L1121.5,783.3L1124.0,783.1L1126.5,782.9L1129.0,782.8L1131.5,782.6L1134.0,782.4L1136.6,782.3L1139.1,782.1L1141.6,781.9L1144.1,781.7L1146.6,781.6L1149.1,781.4L1151.6,781.2L1154.1,781.0L1156.7,780.9L1159.2,780.7L1161.7,780.5L1164.2,780.4L1166.7,780.2L1169.2,780.0L1171.7,779.8L1174.2,779.7L1176.8,779.5L1179.3,779.3L1181.8,779.2L1184.3,779.0L1186.8,778.8L1189.3,778.6L1191.8,778.5L1194.3,778.3L1196.8,778.1L1199.4,778.0L1201.9,777.8L1204.4,777.6L1206.9,777.4L1209.4,777.3L1211.9,777.1L1214.4,776.9L1216.9,776.8L1219.5,776.6L1222.0,776.4L1224.5,776.2L1227.0,776.1L1229.5,775.9L1232.0,775.7L1234.5,775.6L1237.0,775.4L1239.6,775.2L1242.1,775.0L1244.6,774.9L1247.1,774.7L1249.6,774.5L1252.1,774.3L1254.6,774.2L1257.1,774.0L1259.6,773.8L1262.2,773.7L1264.7,773.5L1267.2,773.3L1269.7,773.1L1272.2,773.0L1274.7,772.8L1277.2,772.6L1279.7,772.5L1282.3,772.3L1284.8,772.1L1287.3,771.9L1289.8,771.8L1292.3,771.6L1294.8,771.4L1297.3,771.3L1299.8,771.1L1302.4,770.9L1304.9,770.7L1307.4,770.6L1309.9,770.4L1312.4,770.2L1314.9,770.1L1317.4,769.9L1319.9,769.7L1322.4,769.5L1325.0,769.4L1327.5,769.2L1330.0,769.0L1332.5,768.8L1335.0,768.7L1337.5,768.5L1340.0,768.3L1342.5,768.2L1345.1,768.0L1347.6,767.8L1350.1,767.6L1352.6,767.5L1355.1,767.3L1357.6,767.1L1360.1,767.0L1362.6,766.8L1365.2,766.6L1367.7,766.4L1370.2,766.3L1372.7,766.1L1375.2,765.9L1377.7,765.8L1380.2,765.6L1382.7,765.4L1385.2,765.2L1387.8,765.1L1390.3,764.9L1392.8,764.7L1395.3,764.6L1397.8,764.4L1400.3,764.2L1402.8,764.0L1405.3,763.9L1407.9,763.7L1410.4,763.5L1412.9,763.3L1415.4,763.2L1417.9,763.0L1420.4,762.8L1422.9,762.7L1425.4,762.5L1428.0,762.3L1430.5,762.1L1433.0,762.0L1435.5,761.8L1438.0,761.6" stroke="#8000ff" stroke-width="6.4" fill="none" stroke-linejoin="round"/><path d="M182.0,847.5L184.5,847.3L187.0,847.2L189.5,847.0L192.0,846.8L194.6,846.6L197.1,846.4L199.6,846.3L202.1,846.1L204.6,845.9L207.1,845.7L209.6,845.5L212.1,845.4L214.7,845.2L217.2,845.0L219.7,844.8L222.2,844.6L224.7,844.5L227.2,844.3L229.7,844.1L232.2,843.9L234.8,843.7L237.3,843.5L239.8,843.3L242.3,843.1L244.8,843.0L247.3,842.8L249.8,842.6L252.3,842.4L254.8,842.2L257.4,842.0L259.9,841.8L262.4,841.6L264.9,841.4L267.4,841.2L269.9,841.0L272.4,840.8L274.9,840.6L277.5,840.3L280.0,840.1L282.5,839.9L285.0,839.7L287.5,839.4L290.0,839.2L292.5,839.0L295.0,838.7L297.6,838.5L300.1,838.2L302.6,837.9L305.1,837.6L307.6,837.4L310.1,837.0L312.6,836.7L315.1,836.4L317.6,836.0L320.2,835.6L322.7,835.1L325.2,834.6L327.7,834.0L330.2,833.3L332.7,832.3L335.2,831.1L337.7,829.4L340.3,827.0L342.8,823.8L345.3,819.5L347.8,813.7L350.3,806.4L352.8,797.3L355.3,786.5L357.8,774.3L360.4,761.3L362.9,748.1L365.4,736.1L367.9,726.4L370.4,720.6L372.9,719.6L375.4,724.0L377.9,733.2L380.4,745.5L383.0,759.1L385.5,772.8L388.0,785.4L390.5,796.3L393.0,805.3L395.5,812.4L398.0,817.6L400.5,821.4L403.1,824.0L405.6,825.7L408.1,826.9L410.6,827.6L413.1,828.1L415.6,828.4L418.1,828.6L420.6,828.7L423.2,828.8L425.7,828.8L428.2,828.8L430.7,828.8L433.2,828.8L435.7,828.7L438.2,828.7L440.7,828.6L443.2,828.5L445.8,828.5L448.3,828.4L450.8,828.3L453.3,828.1L455.8,828.0L458.3,827.9L460.8,827.8L463.3,827.7L465.9,827.5L468.4,827.4L470.9,827.3L473.4,827.1L475.9,827.0L478.4,826.8L480.9,826.7L483.4,826.5L486.0,826.4L488.5,826.2L491.0,826.1L493.5,825.9L496.0,825.8L498.5,825.6L501.0,825.5L503.5,825.3L506.0,825.2L508.6,825.0L511.1,824.8L513.6,824.7L516.1,824.5L518.6,824.4L521.1,824.2L523.6,824.0L526.1,823.9L528.7,823.7L531.2,823.5L533.7,823.4L536.2,823.2L538.7,823.0L541.2,822.9L543.7,822.7L546.2,822.6L548.8,822.4L551.3,822.2L553.8,822.1L556.3,821.9L558.8,821.7L561.3,821.6L563.8,821.4L566.3,821.2L568.8,821.1L571.4,820.9L573.9,820.7L576.4,820.5L578.9,820.4L581.4,820.2L583.9,820.0L586.4,819.9L588.9,819.7L591.5,819.5L594.0,819.4L596.5,819.2L599.0,819.0L601.5,818.9L604.0,818.7L606.5,818.5L609.0,818.4L611.6,818.2L614.1,818.0L616.6,817.8L619.1,817.7L621.6,817.5L624.1,817.3L626.6,817.2L629.1,817.0L631.6,816.8L634.2,816.7L636.7,816.5L639.2,816.3L641.7,816.1L644.2,816.0L646.7,815.8L649.2,815.6L651.7,815.5L654.3,815.3L656.8,815.1L659.3,814.9L661.8,814.8L664.3,814.6L666.8,814.4L669.3,814.3L671.8,814.1L674.4,813.9L676.9,813.8L679.4,813.6L681.9,813.4L684.4,813.2L686.9,813.1L689.4,812.9L691.9,812.7L694.4,812.6L697.0,812.4L699.5,812.2L702.0,812.0L704.5,811.9L707.0,811.7L709.5,811.5L712.0,811.4L714.5,811.2L717.1,811.0L719.6,810.8L722.1,810.7L724.6,810.5L727.1,810.3L729.6,810.2L732.1,810.0L734.6,809.8L737.2,809.6L739.7,809.5L742.2,809.3L744.7,809.1L747.2,809.0L749.7,808.8L752.2,808.6L754.7,808.4L757.2,808.3L759.8,808.1L762.3,807.9L764.8,807.8L767.3,807.6L769.8,807.4L772.3,807.2L774.8,807.1L777.3,806.9L779.9,806.7L782.4,806.6L784.9,806.4L787.4,806.2L789.9,806.0L792.4,805.9L794.9,805.7L797.4,805.5L800.0,805.4L802.5,805.2L805.0,805.0L807.5,804.8L810.0,804.7L812.5,804.5L815.0,804.3L817.5,804.1L820.0,804.0L822.6,803.8L825.1,803.6L827.6,803.5L830.1,803.3L832.6,803.1L835.1,802.9L837.6,802.8L840.1,802.6L842.7,802.4L845.2,802.3L847.7,802.1L850.2,801.9L852.7,801.7L855.2,801.6L857.7,801.4L860.2,801.2L862.8,801.1L865.3,800.9L867.8,800.7L870.3,800.5L872.8,800.4L875.3,800.2L877.8,800.0L880.3,799.9L882.8,799.7L885.4,799.5L887.9,799.3L890.4,799.2L892.9,799.0L895.4,798.8L897.9,798.7L900.4,798.5L902.9,798.3L905.5,798.1L908.0,798.0L910.5,797.8L913.0,797.6L915.5,797.4L918.0,797.3L920.5,797.1L923.0,796.9L925.6,796.8L928.1,796.6L930.6,796.4L933.1,796.2L935.6,796.1L938.1,795.9L940.6,795.7L943.1,795.6L945.6,795.4L948.2,795.2L950.7,795.0L953.2,794.9L955.7,794.7L958.2,794.5L960.7,794.4L963.2,794.2L965.7,794.0L968.3,793.8L970.8,793.7L973.3,793.5L975.8,793.3L978.3,793.1L980.8,793.0L983.3,792.8L985.8,792.6L988.4,792.5L990.9,792.3L993.4,792.1L995.9,791.9L998.4,791.8L1000.9,791.6L1003.4,791.4L1005.9,791.3L1008.4,791.1L1011.0,790.9L1013.5,790.7L1016.0,790.6L1018.5,790.4L1021.0,790.2L1023.5,790.1L1026.0,789.9L1028.5,789.7L1031.1,789.5L1033.6,789.4L1036.1,789.2L1038.6,789.0L1041.1,788.8L1043.6,788.7L1046.1,788.5L1048.6,788.3L1051.2,788.2L1053.7,788.0L1056.2,787.8L1058.7,787.6L1061.2,787.5L1063.7,787.3L1066.2,787.1L1068.7,787.0L1071.2,786.8L1073.8,786.6L1076.3,786.4L1078.8,786.3L1081.3,786.1L1083.8,785.9L1086.3,785.8L1088.8,785.6L1091.3,785.4L1093.9,785.2L1096.4,785.1L1098.9,784.9L1101.4,784.7L1103.9,784.5L1106.4,784.4L1108.9,784.2L1111.4,784.0L1114.0,783.9L1116.5,783.7L1119.0,783.5L1121.5,783.3L1124.0,783.2L1126.5,783.0L1129.0,782.8L1131.5,782.7L1134.0,782.5L1136.6,782.3L1139.1,782.1L1141.6,782.0L1144.1,781.8L1146.6,781.6L1149.1,781.5L1151.6,781.3L1154.1,781.1L1156.7,780.9L1159.2,780.8L1161.7,780.6L1164.2,780.4L1166.7,780.2L1169.2,780.1L1171.7,779.9L1174.2,779.7L1176.8,779.6L1179.3,779.4L1181.8,779.2L1184.3,779.0L1186.8,778.9L1189.3,778.7L1191.8,778.5L1194.3,778.4L1196.8,778.2L1199.4,778.0L1201.9,777.8L1204.4,777.7L1206.9,777.5L1209.4,777.3L1211.9,777.1L1214.4,777.0L1216.9,776.8L1219.5,776.6L1222.0,776.5L1224.5,776.3L1227.0,776.1L1229.5,775.9L1232.0,775.8L1234.5,775.6L1237.0,775.4L1239.6,775.3L1242.1,775.1L1244.6,774.9L1247.1,774.7L1249.6,774.6L1252.1,774.4L1254.6,774.2L1257.1,774.1L1259.6,773.9L1262.2,773.7L1264.7,773.5L1267.2,773.4L1269.7,773.2L1272.2,773.0L1274.7,772.8L1277.2,772.7L1279.7,772.5L1282.3,772.3L1284.8,772.2L1287.3,772.0L1289.8,771.8L1292.3,771.6L1294.8,771.5L1297.3,771.3L1299.8,771.1L1302.4,771.0L1304.9,770.8L1307.4,770.6L1309.9,770.4L1312.4,770.3L1314.9,770.1L1317.4,769.9L1319.9,769.7L1322.4,769.6L1325.0,769.4L1327.5,769.2L1330.0,769.1L1332.5,768.9L1335.0,768.7L1337.5,768.5L1340.0,768.4L1342.5,768.2L1345.1,768.0L1347.6,767.9L1350.1,767.7L1352.6,767.5L1355.1,767.3L1357.6,767.2L1360.1,767.0L1362.6,766.8L1365.2,766.7L1367.7,766.5L1370.2,766.3L1372.7,766.1L1375.2,766.0L1377.7,765.8L1380.2,765.6L1382.7,765.4L1385.2,765.3L1387.8,765.1L1390.3,764.9L1392.8,764.8L1395.3,764.6L1397.8,764.4L1400.3,764.2L1402.8,764.1L1405.3,763.9L1407.9,763.7L1410.4,763.6L1412.9,763.4L1415.4,763.2L1417.9,763.0L1420.4,762.9L1422.9,762.7L1425.4,762.5L1428.0,762.3L1430.5,762.2L1433.0,762.0L1435.5,761.8L1438.0,761.7" stroke="#000080" stroke-width="6.4" fill="none" stroke-linejoin="round"/><path d="M182.0,847.4L184.5,847.3L187.0,847.1L189.5,846.9L192.0,846.7L194.6,846.5L197.1,846.4L199.6,846.2L202.1,846.0L204.6,845.8L207.1,845.6L209.6,845.5L212.1,845.3L214.7,845.1L217.2,844.9L219.7,844.7L222.2,844.6L224.7,844.4L227.2,844.2L229.7,844.0L232.2,843.8L234.8,843.7L237.3,843.5L239.8,843.3L242.3,843.1L244.8,842.9L247.3,842.7L249.8,842.5L252.3,842.4L254.8,842.2L257.4,842.0L259.9,841.8L262.4,841.6L264.9,841.4L267.4,841.2L269.9,841.0L272.4,840.9L274.9,840.7L277.5,840.5L280.0,840.3L282.5,840.1L285.0,839.9L287.5,839.7L290.0,839.5L292.5,839.3L295.0,839.1L297.6,838.9L300.1,838.7L302.6,838.5L305.1,838.3L307.6,838.1L310.1,837.9L312.6,837.7L315.1,837.5L317.6,837.2L320.2,837.0L322.7,836.8L325.2,836.6L327.7,836.4L330.2,836.1L332.7,835.9L335.2,835.7L337.7,835.4L340.3,835.2L342.8,834.9L345.3,834.7L347.8,834.4L350.3,834.2L352.8,833.9L355.3,833.6L357.8,833.3L360.4,833.0L362.9,832.7L365.4,832.4L367.9,832.1L370.4,831.7L372.9,831.4L375.4,831.0L377.9,830.6L380.4,830.2L383.0,829.7L385.5,829.3L388.0,828.7L390.5,828.2L393.0,827.5L395.5,826.8L398.0,826.0L400.5,825.0L403.1,823.9L405.6,822.6L408.1,820.9L410.6,819.0L413.1,816.6L415.6,813.8L418.1,810.4L420.6,806.4L423.2,801.7L425.7,796.3L428.2,790.2L430.7,783.4L433.2,776.0L435.7,768.1L438.2,759.9L440.7,751.8L443.2,744.1L445.8,737.3L448.3,732.0L450.8,728.7L453.3,727.7L455.8,729.3L458.3,733.3L460.8,739.3L463.3,746.6L465.9,754.6L468.4,762.8L470.9,770.9L473.4,778.5L475.9,785.5L478.4,791.7L480.9,797.1L483.4,801.8L486.0,805.7L488.5,808.9L491.0,811.5L493.5,813.6L496.0,815.2L498.5,816.5L501.0,817.5L503.5,818.3L506.0,818.9L508.6,819.3L511.1,819.7L513.6,820.0L516.1,820.2L518.6,820.3L521.1,820.5L523.6,820.6L526.1,820.6L528.7,820.7L531.2,820.7L533.7,820.7L536.2,820.7L538.7,820.7L541.2,820.6L543.7,820.6L546.2,820.5L548.8,820.5L551.3,820.4L553.8,820.3L556.3,820.3L558.8,820.2L561.3,820.1L563.8,820.0L566.3,819.9L568.8,819.8L571.4,819.6L573.9,819.5L576.4,819.4L578.9,819.3L581.4,819.2L583.9,819.0L586.4,818.9L588.9,818.8L591.5,818.6L594.0,818.5L596.5,818.4L599.0,818.2L601.5,818.1L604.0,817.9L606.5,817.8L609.0,817.7L611.6,817.5L614.1,817.4L616.6,817.2L619.1,817.1L621.6,816.9L624.1,816.8L626.6,816.6L629.1,816.4L631.6,816.3L634.2,816.1L636.7,816.0L639.2,815.8L641.7,815.7L644.2,815.5L646.7,815.4L649.2,815.2L651.7,815.0L654.3,814.9L656.8,814.7L659.3,814.6L661.8,814.4L664.3,814.2L666.8,814.1L669.3,813.9L671.8,813.7L674.4,813.6L676.9,813.4L679.4,813.3L681.9,813.1L684.4,812.9L686.9,812.8L689.4,812.6L691.9,812.4L694.4,812.3L697.0,812.1L699.5,811.9L702.0,811.8L704.5,811.6L707.0,811.4L709.5,811.3L712.0,811.1L714.5,810.9L717.1,810.8L719.6,810.6L722.1,810.4L724.6,810.3L727.1,810.1L729.6,809.9L732.1,809.8L734.6,809.6L737.2,809.4L739.7,809.3L742.2,809.1L744.7,808.9L747.2,808.8L749.7,808.6L752.2,808.4L754.7,808.3L757.2,808.1L759.8,807.9L762.3,807.8L764.8,807.6L767.3,807.4L769.8,807.3L772.3,807.1L774.8,806.9L777.3,806.7L779.9,806.6L782.4,806.4L784.9,806.2L787.4,806.1L789.9,805.9L792.4,805.7L794.9,805.6L797.4,805.4L800.0,805.2L802.5,805.1L805.0,804.9L807.5,804.7L810.0,804.5L812.5,804.4L815.0,804.2L817.5,804.0L820.0,803.9L822.6,803.7L825.1,803.5L827.6,803.4L830.1,803.2L832.6,803.0L835.1,802.8L837.6,802.7L840.1,802.5L842.7,802.3L845.2,802.2L847.7,802.0L850.2,801.8L852.7,801.6L855.2,801.5L857.7,801.3L860.2,801.1L862.8,801.0L865.3,800.8L867.8,800.6L870.3,800.5L872.8,800.3L875.3,800.1L877.8,799.9L880.3,799.8L882.8,799.6L885.4,799.4L887.9,799.3L890.4,799.1L892.9,798.9L895.4,798.7L897.9,798.6L900.4,798.4L902.9,798.2L905.5,798.1L908.0,797.9L910.5,797.7L913.0,797.5L915.5,797.4L918.0,797.2L920.5,797.0L923.0,796.9L925.6,796.7L928.1,796.5L930.6,796.3L933.1,796.2L935.6,796.0L938.1,795.8L940.6,795.7L943.1,795.5L945.6,795.3L948.2,795.1L950.7,795.0L953.2,794.8L955.7,794.6L958.2,794.5L960.7,794.3L963.2,794.1L965.7,794.0L968.3,793.8L970.8,793.6L973.3,793.4L975.8,793.3L978.3,793.1L980.8,792.9L983.3,792.8L985.8,792.6L988.4,792.4L990.9,792.2L993.4,792.1L995.9,791.9L998.4,791.7L1000.9,791.6L1003.4,791.4L1005.9,791.2L1008.4,791.0L1011.0,790.9L1013.5,790.7L1016.0,790.5L1018.5,790.3L1021.0,790.2L1023.5,790.0L1026.0,789.8L1028.5,789.7L1031.1,789.5L1033.6,789.3L1036.1,789.1L1038.6,789.0L1041.1,788.8L1043.6,788.6L1046.1,788.5L1048.6,788.3L1051.2,788.1L1053.7,787.9L1056.2,787.8L1058.7,787.6L1061.2,787.4L1063.7,787.3L1066.2,787.1L1068.7,786.9L1071.2,786.7L1073.8,786.6L1076.3,786.4L1078.8,786.2L1081.3,786.1L1083.8,785.9L1086.3,785.7L1088.8,785.5L1091.3,785.4L1093.9,785.2L1096.4,785.0L1098.9,784.9L1101.4,784.7L1103.9,784.5L1106.4,784.3L1108.9,784.2L1111.4,784.0L1114.0,783.8L1116.5,783.7L1119.0,783.5L1121.5,783.3L1124.0,783.1L1126.5,783.0L1129.0,782.8L1131.5,782.6L1134.0,782.5L1136.6,782.3L1139.1,782.1L1141.6,781.9L1144.1,781.8L1146.6,781.6L1149.1,781.4L1151.6,781.2L1154.1,781.1L1156.7,780.9L1159.2,780.7L1161.7,780.6L1164.2,780.4L1166.7,780.2L1169.2,780.0L1171.7,779.9L1174.2,779.7L1176.8,779.5L1179.3,779.4L1181.8,779.2L1184.3,779.0L1186.8,778.8L1189.3,778.7L1191.8,778.5L1194.3,778.3L1196.8,778.2L1199.4,778.0L1201.9,777.8L1204.4,777.6L1206.9,777.5L1209.4,777.3L1211.9,777.1L1214.4,777.0L1216.9,776.8L1219.5,776.6L1222.0,776.4L1224.5,776.3L1227.0,776.1L1229.5,775.9L1232.0,775.7L1234.5,775.6L1237.0,775.4L1239.6,775.2L1242.1,775.1L1244.6,774.9L1247.1,774.7L1249.6,774.5L1252.1,774.4L1254.6,774.2L1257.1,774.0L1259.6,773.9L1262.2,773.7L1264.7,773.5L1267.2,773.3L1269.7,773.2L1272.2,773.0L1274.7,772.8L1277.2,772.7L1279.7,772.5L1282.3,772.3L1284.8,772.1L1287.3,772.0L1289.8,771.8L1292.3,771.6L1294.8,771.4L1297.3,771.3L1299.8,771.1L1302.4,770.9L1304.9,770.8L1307.4,770.6L1309.9,770.4L1312.4,770.2L1314.9,770.1L1317.4,769.9L1319.9,769.7L1322.4,769.6L1325.0,769.4L1327.5,769.2L1330.0,769.0L1332.5,768.9L1335.0,768.7L1337.5,768.5L1340.0,768.4L1342.5,768.2L1345.1,768.0L1347.6,767.8L1350.1,767.7L1352.6,767.5L1355.1,767.3L1357.6,767.1L1360.1,767.0L1362.6,766.8L1365.2,766.6L1367.7,766.5L1370.2,766.3L1372.7,766.1L1375.2,765.9L1377.7,765.8L1380.2,765.6L1382.7,765.4L1385.2,765.3L1387.8,765.1L1390.3,764.9L1392.8,764.7L1395.3,764.6L1397.8,764.4L1400.3,764.2L1402.8,764.1L1405.3,763.9L1407.9,763.7L1410.4,763.5L1412.9,763.4L1415.4,763.2L1417.9,763.0L1420.4,762.8L1422.9,762.7L1425.4,762.5L1428.0,762.3L1430.5,762.2L1433.0,762.0L1435.5,761.8L1438.0,761.6" stroke="#800080" stroke-width="6.4" fill="none" stroke-linejoin="round"/><path d="M182.0,836.2L184.5,835.0L187.0,833.6L189.5,832.3L192.0,831.2L194.6,830.2L197.1,829.3L199.6,828.4L202.1,827.5L204.6,826.7L207.1,825.8L209.6,824.9L212.1,823.9L214.7,822.8L217.2,821.6L219.7,820.3L222.2,818.7L224.7,817.0L227.2,815.2L229.7,813.1L232.2,811.0L234.8,808.7L237.3,806.3L239.8,803.9L242.3,801.4L244.8,798.9L247.3,796.5L249.8,794.0L252.3,791.6L254.8,789.2L257.4,787.0L259.9,784.8L262.4,782.8L264.9,780.9L267.4,779.2L269.9,777.7L272.4,776.4L274.9,775.2L277.5,774.3L280.0,773.5L282.5,773.0L285.0,772.7L287.5,772.7L290.0,772.9L292.5,773.3L295.0,774.0L297.6,774.8L300.1,775.9L302.6,777.0L305.1,778.3L307.6,779.7L310.1,781.1L312.6,782.6L315.1,784.0L317.6,785.4L320.2,786.7L322.7,788.0L325.2,789.1L327.7,790.0L330.2,790.7L332.7,791.1L335.2,790.9L337.7,790.3L340.3,788.9L342.8,786.6L345.3,783.5L347.8,779.3L350.3,773.9L352.8,767.2L355.3,759.1L357.8,749.7L360.4,739.4L362.9,728.4L365.4,717.0L367.9,706.5L370.4,698.8L372.9,696.0L375.4,698.4L377.9,704.9L380.4,714.1L383.0,725.0L385.5,736.2L388.0,746.7L390.5,755.6L393.0,762.9L395.5,768.9L398.0,773.6L400.5,777.0L403.1,779.2L405.6,780.4L408.1,780.6L410.6,779.9L413.1,778.3L415.6,776.0L418.1,773.0L420.6,769.4L423.2,765.2L425.7,760.6L428.2,755.6L430.7,750.3L433.2,744.7L435.7,738.9L438.2,733.0L440.7,727.2L443.2,721.7L445.8,716.8L448.3,712.9L450.8,710.1L453.3,708.9L455.8,709.3L458.3,711.6L460.8,715.8L463.3,721.9L465.9,729.9L468.4,739.0L470.9,747.5L473.4,754.4L475.9,759.8L478.4,764.1L480.9,767.7L483.4,770.8L486.0,773.7L488.5,776.3L491.0,778.5L493.5,780.5L496.0,782.3L498.5,783.8L501.0,785.1L503.5,786.3L506.0,787.2L508.6,788.0L511.1,788.6L513.6,789.2L516.1,789.6L518.6,789.9L521.1,790.2L523.6,790.4L526.1,790.5L528.7,790.7L531.2,790.7L533.7,790.8L536.2,790.8L538.7,790.7L541.2,790.7L543.7,790.6L546.2,790.4L548.8,790.2L551.3,790.0L553.8,789.7L556.3,789.4L558.8,789.1L561.3,788.7L563.8,788.3L566.3,787.9L568.8,787.5L571.4,787.0L573.9,786.4L576.4,785.9L578.9,785.3L581.4,784.7L583.9,784.0L586.4,783.3L588.9,782.6L591.5,781.9L594.0,781.1L596.5,780.3L599.0,779.5L601.5,778.7L604.0,777.8L606.5,776.9L609.0,776.0L611.6,775.1L614.1,774.1L616.6,773.1L619.1,772.1L621.6,771.1L624.1,770.0L626.6,768.9L629.1,767.8L631.6,766.7L634.2,765.6L636.7,764.4L639.2,763.2L641.7,762.1L644.2,760.8L646.7,759.6L649.2,758.4L651.7,757.1L654.3,755.8L656.8,754.6L659.3,753.3L661.8,751.9L664.3,750.6L666.8,749.3L669.3,747.9L671.8,746.6L674.4,745.2L676.9,743.8L679.4,742.4L681.9,741.0L684.4,739.6L686.9,738.1L689.4,736.7L691.9,735.3L694.4,733.8L697.0,732.4L699.5,730.9L702.0,729.4L704.5,728.0L707.0,726.5L709.5,725.0L712.0,723.6L714.5,722.1L717.1,720.7L719.6,719.2L722.1,717.8L724.6,716.3L727.1,714.9L729.6,713.5L732.1,712.1L734.6,710.7L737.2,709.3L739.7,708.0L742.2,706.6L744.7,705.3L747.2,703.9L749.7,702.7L752.2,701.4L754.7,700.1L757.2,698.9L759.8,697.7L762.3,696.5L764.8,695.3L767.3,694.2L769.8,693.1L772.3,692.0L774.8,691.0L777.3,690.0L779.9,689.0L782.4,688.0L784.9,687.1L787.4,686.1L789.9,685.2L792.4,684.3L794.9,683.4L797.4,682.6L800.0,681.7L802.5,680.9L805.0,680.0L807.5,679.1L810.0,678.3L812.5,677.4L815.0,676.6L817.5,675.7L820.0,674.9L822.6,674.0L825.1,673.1L827.6,672.2L830.1,671.3L832.6,670.3L835.1,669.4L837.6,668.4L840.1,667.4L842.7,666.3L845.2,665.3L847.7,664.2L850.2,663.1L852.7,661.9L855.2,660.7L857.7,659.5L860.2,658.2L862.8,656.9L865.3,655.6L867.8,654.2L870.3,652.8L872.8,651.4L875.3,649.9L877.8,648.5L880.3,647.0L882.8,645.5L885.4,643.9L887.9,642.4L890.4,640.8L892.9,639.2L895.4,637.6L897.9,636.0L900.4,634.4L902.9,632.8L905.5,631.1L908.0,629.5L910.5,627.9L913.0,626.2L915.5,624.6L918.0,622.9L920.5,621.3L923.0,619.7L925.6,618.0L928.1,616.4L930.6,614.8L933.1,613.2L935.6,611.6L938.1,610.1L940.6,608.5L943.1,607.0L945.6,605.5L948.2,604.2L950.7,602.9L953.2,601.7L955.7,600.6L958.2,599.7L960.7,598.9L963.2,598.3L965.7,597.9L968.3,597.8L970.8,597.8L973.3,598.1L975.8,598.6L978.3,599.3L980.8,600.2L983.3,601.3L985.8,602.5L988.4,603.8L990.9,605.3L993.4,606.8L995.9,608.5L998.4,610.2L1000.9,612.0L1003.4,613.8L1005.9,615.7L1008.4,617.6L1011.0,619.6L1013.5,621.5L1016.0,623.5L1018.5,625.4L1021.0,627.4L1023.5,629.4L1026.0,631.3L1028.5,633.3L1031.1,635.2L1033.6,637.0L1036.1,638.9L1038.6,640.7L1041.1,642.4L1043.6,644.1L1046.1,645.7L1048.6,647.2L1051.2,648.7L1053.7,650.1L1056.2,651.5L1058.7,652.7L1061.2,653.9L1063.7,655.0L1066.2,656.1L1068.7,657.0L1071.2,657.9L1073.8,658.6L1076.3,659.3L1078.8,659.9L1081.3,660.4L1083.8,660.8L1086.3,661.1L1088.8,661.4L1091.3,661.5L1093.9,661.6L1096.4,661.5L1098.9,661.5L1101.4,661.3L1103.9,661.1L1106.4,660.9L1108.9,660.6L1111.4,660.3L1114.0,659.9L1116.5,659.6L1119.0,659.2L1121.5,658.8L1124.0,658.4L1126.5,658.0L1129.0,657.6L1131.5,657.3L1134.0,656.9L1136.6,656.6L1139.1,656.3L1141.6,656.1L1144.1,655.9L1146.6,655.8L1149.1,655.7L1151.6,655.7L1154.1,655.7L1156.7,655.8L1159.2,655.9L1161.7,656.0L1164.2,656.2L1166.7,656.5L1169.2,656.8L1171.7,657.1L1174.2,657.5L1176.8,657.9L1179.3,658.4L1181.8,658.9L1184.3,659.4L1186.8,660.0L1189.3,660.7L1191.8,661.3L1194.3,662.0L1196.8,662.8L1199.4,663.6L1201.9,664.4L1204.4,665.2L1206.9,666.1L1209.4,667.0L1211.9,668.0L1214.4,669.0L1216.9,670.0L1219.5,671.0L1222.0,672.1L1224.5,673.2L1227.0,674.3L1229.5,675.4L1232.0,676.6L1234.5,677.8L1237.0,679.0L1239.6,680.2L1242.1,681.4L1244.6,682.7L1247.1,683.9L1249.6,685.2L1252.1,686.5L1254.6,687.8L1257.1,689.1L1259.6,690.4L1262.2,691.7L1264.7,693.0L1267.2,694.3L1269.7,695.7L1272.2,697.0L1274.7,698.3L1277.2,699.6L1279.7,700.9L1282.3,702.3L1284.8,703.6L1287.3,704.8L1289.8,706.1L1292.3,707.4L1294.8,708.7L1297.3,709.9L1299.8,711.2L1302.4,712.4L1304.9,713.6L1307.4,714.8L1309.9,715.9L1312.4,717.1L1314.9,718.2L1317.4,719.3L1319.9,720.4L1322.4,721.4L1325.0,722.5L1327.5,723.5L1330.0,724.4L1332.5,725.4L1335.0,726.3L1337.5,727.2L1340.0,728.1L1342.5,729.0L1345.1,729.8L1347.6,730.6L1350.1,731.4L1352.6,732.1L1355.1,732.9L1357.6,733.6L1360.1,734.3L1362.6,735.0L1365.2,735.6L1367.7,736.2L1370.2,736.9L1372.7,737.4L1375.2,738.0L1377.7,738.5L1380.2,739.1L1382.7,739.6L1385.2,740.0L1387.8,740.5L1390.3,740.9L1392.8,741.3L1395.3,741.7L1397.8,742.1L1400.3,742.5L1402.8,742.8L1405.3,743.1L1407.9,743.4L1410.4,743.7L1412.9,743.9L1415.4,744.2L1417.9,744.4L1420.4,744.6L1422.9,744.8L1425.4,744.9L1428.0,745.1L1430.5,745.2L1433.0,745.3L1435.5,745.4L1438.0,745.5" stroke="#ff0000" stroke-width="7.3" fill="none" stroke-linejoin="round"/><clipPath id="cpc"><rect x="135" y="913" width="1322" height="436"/></clipPath><g fill="none" stroke="#767676" stroke-width="2.1" clip-path="url(#cpc)"><circle cx="206.0" cy="1234.0" r="9.5"/><circle cx="209.7" cy="1206.2" r="9.5"/><circle cx="213.4" cy="1256.7" r="9.5"/><circle cx="217.1" cy="1272.3" r="9.5"/><circle cx="220.8" cy="1280.5" r="9.5"/><circle cx="224.5" cy="1280.8" r="9.5"/><circle cx="228.2" cy="1186.7" r="9.5"/><circle cx="231.9" cy="1273.1" r="9.5"/><circle cx="235.6" cy="1239.6" r="9.5"/><circle cx="239.3" cy="1259.5" r="9.5"/><circle cx="243.0" cy="1259.5" r="9.5"/><circle cx="246.7" cy="1171.8" r="9.5"/><circle cx="250.4" cy="1240.9" r="9.5"/><circle cx="254.1" cy="1198.5" r="9.5"/><circle cx="257.8" cy="1220.7" r="9.5"/><circle cx="261.5" cy="1168.9" r="9.5"/><circle cx="265.2" cy="1181.2" r="9.5"/><circle cx="268.9" cy="1216.6" r="9.5"/><circle cx="272.6" cy="1229.5" r="9.5"/><circle cx="276.3" cy="1098.0" r="9.5"/><circle cx="280.0" cy="1192.4" r="9.5"/><circle cx="283.7" cy="1172.3" r="9.5"/><circle cx="287.4" cy="1201.6" r="9.5"/><circle cx="291.1" cy="1213.3" r="9.5"/><circle cx="294.8" cy="1148.1" r="9.5"/><circle cx="298.5" cy="1209.1" r="9.5"/><circle cx="302.2" cy="1174.6" r="9.5"/><circle cx="305.9" cy="1204.9" r="9.5"/><circle cx="309.6" cy="1197.4" r="9.5"/><circle cx="313.3" cy="1219.3" r="9.5"/><circle cx="317.0" cy="1142.6" r="9.5"/><circle cx="320.7" cy="1269.8" r="9.5"/><circle cx="324.4" cy="1253.6" r="9.5"/><circle cx="328.1" cy="1263.3" r="9.5"/><circle cx="331.8" cy="1233.0" r="9.5"/><circle cx="335.5" cy="1243.0" r="9.5"/><circle cx="339.2" cy="1218.3" r="9.5"/><circle cx="342.9" cy="1185.7" r="9.5"/><circle cx="346.6" cy="1200.6" r="9.5"/><circle cx="350.3" cy="1170.8" r="9.5"/><circle cx="354.0" cy="1191.6" r="9.5"/><circle cx="357.7" cy="1166.7" r="9.5"/><circle cx="361.4" cy="1156.9" r="9.5"/><circle cx="365.1" cy="1160.5" r="9.5"/><circle cx="368.8" cy="1165.8" r="9.5"/><circle cx="372.5" cy="1184.9" r="9.5"/><circle cx="376.2" cy="1159.6" r="9.5"/><circle cx="379.9" cy="1163.5" r="9.5"/><circle cx="383.6" cy="1134.3" r="9.5"/><circle cx="387.3" cy="1135.7" r="9.5"/><circle cx="391.0" cy="1136.8" r="9.5"/><circle cx="394.7" cy="1135.5" r="9.5"/><circle cx="398.4" cy="1125.0" r="9.5"/><circle cx="402.1" cy="1162.7" r="9.5"/><circle cx="405.8" cy="1107.5" r="9.5"/><circle cx="409.5" cy="1151.7" r="9.5"/><circle cx="413.2" cy="1130.3" r="9.5"/><circle cx="416.9" cy="1213.7" r="9.5"/><circle cx="420.6" cy="1112.0" r="9.5"/><circle cx="424.3" cy="1177.9" r="9.5"/><circle cx="428.0" cy="1098.4" r="9.5"/><circle cx="431.7" cy="1179.8" r="9.5"/><circle cx="435.4" cy="1157.3" r="9.5"/><circle cx="439.1" cy="1125.6" r="9.5"/><circle cx="442.8" cy="1173.7" r="9.5"/><circle cx="446.5" cy="1210.7" r="9.5"/><circle cx="450.2" cy="1182.8" r="9.5"/><circle cx="453.9" cy="1193.3" r="9.5"/><circle cx="457.6" cy="1183.4" r="9.5"/><circle cx="461.3" cy="1127.9" r="9.5"/><circle cx="465.0" cy="1183.1" r="9.5"/><circle cx="468.7" cy="1198.4" r="9.5"/><circle cx="472.4" cy="1144.6" r="9.5"/><circle cx="476.1" cy="1183.3" r="9.5"/><circle cx="479.8" cy="1191.4" r="9.5"/><circle cx="483.5" cy="1180.2" r="9.5"/><circle cx="487.2" cy="1130.0" r="9.5"/><circle cx="490.9" cy="1144.5" r="9.5"/><circle cx="494.6" cy="1075.9" r="9.5"/><circle cx="498.3" cy="1189.6" r="9.5"/><circle cx="502.0" cy="1137.7" r="9.5"/><circle cx="505.7" cy="1159.2" r="9.5"/><circle cx="509.4" cy="1205.0" r="9.5"/><circle cx="513.1" cy="1150.2" r="9.5"/><circle cx="516.8" cy="1184.3" r="9.5"/><circle cx="520.5" cy="1258.6" r="9.5"/><circle cx="524.2" cy="1169.5" r="9.5"/><circle cx="527.9" cy="1217.6" r="9.5"/><circle cx="531.6" cy="1185.9" r="9.5"/><circle cx="535.3" cy="1115.8" r="9.5"/><circle cx="539.0" cy="1230.7" r="9.5"/><circle cx="542.7" cy="1179.3" r="9.5"/><circle cx="546.4" cy="1236.8" r="9.5"/><circle cx="550.1" cy="1133.0" r="9.5"/><circle cx="553.8" cy="1132.7" r="9.5"/><circle cx="557.5" cy="1180.7" r="9.5"/><circle cx="561.2" cy="1221.8" r="9.5"/><circle cx="564.9" cy="1185.1" r="9.5"/><circle cx="568.6" cy="1246.3" r="9.5"/><circle cx="572.3" cy="1200.4" r="9.5"/><circle cx="576.0" cy="1281.3" r="9.5"/><circle cx="579.7" cy="1083.5" r="9.5"/><circle cx="583.4" cy="1138.0" r="9.5"/><circle cx="587.1" cy="1138.2" r="9.5"/><circle cx="590.8" cy="1183.9" r="9.5"/><circle cx="594.5" cy="1164.2" r="9.5"/><circle cx="598.2" cy="1135.9" r="9.5"/><circle cx="601.9" cy="1182.6" r="9.5"/><circle cx="605.6" cy="1184.5" r="9.5"/><circle cx="609.3" cy="1174.3" r="9.5"/><circle cx="613.0" cy="1196.7" r="9.5"/><circle cx="616.7" cy="1160.4" r="9.5"/><circle cx="620.4" cy="1073.0" r="9.5"/><circle cx="624.1" cy="1222.5" r="9.5"/><circle cx="627.8" cy="1162.3" r="9.5"/><circle cx="631.5" cy="1225.4" r="9.5"/><circle cx="635.2" cy="1173.3" r="9.5"/><circle cx="638.9" cy="1191.7" r="9.5"/><circle cx="642.6" cy="1149.9" r="9.5"/><circle cx="646.3" cy="1152.6" r="9.5"/><circle cx="650.0" cy="1192.4" r="9.5"/><circle cx="653.7" cy="1181.9" r="9.5"/><circle cx="657.4" cy="1110.0" r="9.5"/><circle cx="661.1" cy="1152.1" r="9.5"/><circle cx="664.8" cy="1148.7" r="9.5"/><circle cx="668.5" cy="1098.6" r="9.5"/><circle cx="672.2" cy="1258.8" r="9.5"/><circle cx="675.9" cy="1157.3" r="9.5"/><circle cx="679.6" cy="1153.7" r="9.5"/><circle cx="683.3" cy="1156.3" r="9.5"/><circle cx="687.0" cy="1143.5" r="9.5"/><circle cx="690.7" cy="1186.8" r="9.5"/><circle cx="694.4" cy="1141.7" r="9.5"/><circle cx="698.1" cy="1145.6" r="9.5"/><circle cx="701.8" cy="1133.6" r="9.5"/><circle cx="705.5" cy="1168.0" r="9.5"/><circle cx="709.2" cy="1077.9" r="9.5"/><circle cx="712.9" cy="1182.2" r="9.5"/><circle cx="716.6" cy="1218.1" r="9.5"/><circle cx="720.3" cy="1107.4" r="9.5"/><circle cx="724.0" cy="1126.2" r="9.5"/><circle cx="727.7" cy="1099.4" r="9.5"/><circle cx="731.4" cy="1150.0" r="9.5"/><circle cx="735.1" cy="1170.2" r="9.5"/><circle cx="738.8" cy="1199.1" r="9.5"/><circle cx="742.5" cy="1170.1" r="9.5"/><circle cx="746.2" cy="1164.4" r="9.5"/><circle cx="749.9" cy="1083.0" r="9.5"/><circle cx="753.6" cy="1108.6" r="9.5"/><circle cx="757.3" cy="1154.8" r="9.5"/><circle cx="761.0" cy="1025.1" r="9.5"/><circle cx="764.7" cy="1184.9" r="9.5"/><circle cx="768.4" cy="1200.9" r="9.5"/><circle cx="772.1" cy="1128.1" r="9.5"/><circle cx="775.8" cy="1120.0" r="9.5"/><circle cx="779.5" cy="1160.9" r="9.5"/><circle cx="783.2" cy="1193.9" r="9.5"/><circle cx="786.9" cy="1152.5" r="9.5"/><circle cx="790.6" cy="1155.6" r="9.5"/><circle cx="794.3" cy="1141.0" r="9.5"/><circle cx="798.0" cy="1141.5" r="9.5"/><circle cx="801.7" cy="1196.5" r="9.5"/><circle cx="805.4" cy="1180.4" r="9.5"/><circle cx="809.1" cy="1141.0" r="9.5"/><circle cx="812.8" cy="1175.1" r="9.5"/><circle cx="816.5" cy="1160.0" r="9.5"/><circle cx="820.2" cy="1131.4" r="9.5"/><circle cx="823.9" cy="1164.2" r="9.5"/><circle cx="827.6" cy="1143.4" r="9.5"/><circle cx="831.3" cy="1134.8" r="9.5"/><circle cx="835.0" cy="1181.8" r="9.5"/><circle cx="838.7" cy="1107.3" r="9.5"/><circle cx="842.4" cy="1159.6" r="9.5"/><circle cx="846.1" cy="1071.8" r="9.5"/><circle cx="849.8" cy="1104.2" r="9.5"/><circle cx="853.5" cy="1103.2" r="9.5"/><circle cx="857.2" cy="1154.7" r="9.5"/><circle cx="860.9" cy="1175.3" r="9.5"/><circle cx="864.6" cy="1124.4" r="9.5"/><circle cx="868.3" cy="1148.6" r="9.5"/><circle cx="872.0" cy="1140.2" r="9.5"/><circle cx="875.7" cy="1097.1" r="9.5"/><circle cx="879.4" cy="1096.9" r="9.5"/><circle cx="883.1" cy="1087.7" r="9.5"/><circle cx="886.8" cy="1097.4" r="9.5"/><circle cx="890.5" cy="1159.2" r="9.5"/><circle cx="894.2" cy="1120.9" r="9.5"/><circle cx="897.9" cy="1108.5" r="9.5"/><circle cx="901.6" cy="1047.8" r="9.5"/><circle cx="905.3" cy="1058.0" r="9.5"/><circle cx="909.0" cy="1052.6" r="9.5"/><circle cx="912.7" cy="1091.9" r="9.5"/><circle cx="916.4" cy="1070.7" r="9.5"/><circle cx="920.1" cy="1059.6" r="9.5"/><circle cx="923.8" cy="1010.8" r="9.5"/><circle cx="927.5" cy="1052.0" r="9.5"/><circle cx="931.2" cy="1009.3" r="9.5"/><circle cx="934.9" cy="1027.5" r="9.5"/><circle cx="938.6" cy="1080.0" r="9.5"/><circle cx="942.3" cy="1028.4" r="9.5"/><circle cx="946.0" cy="1067.5" r="9.5"/><circle cx="949.7" cy="1057.0" r="9.5"/><circle cx="953.4" cy="1079.4" r="9.5"/><circle cx="957.1" cy="999.2" r="9.5"/><circle cx="960.8" cy="1024.3" r="9.5"/><circle cx="964.5" cy="1018.6" r="9.5"/><circle cx="968.2" cy="1030.9" r="9.5"/><circle cx="971.9" cy="1002.7" r="9.5"/><circle cx="975.6" cy="1044.5" r="9.5"/><circle cx="979.3" cy="1059.5" r="9.5"/><circle cx="983.0" cy="999.4" r="9.5"/><circle cx="986.7" cy="1004.1" r="9.5"/><circle cx="990.4" cy="1065.1" r="9.5"/><circle cx="994.1" cy="1051.3" r="9.5"/><circle cx="997.8" cy="985.6" r="9.5"/><circle cx="1001.5" cy="1074.2" r="9.5"/><circle cx="1005.2" cy="1093.6" r="9.5"/><circle cx="1008.9" cy="1082.9" r="9.5"/><circle cx="1012.6" cy="1073.4" r="9.5"/><circle cx="1016.3" cy="1018.5" r="9.5"/><circle cx="1020.0" cy="1106.0" r="9.5"/><circle cx="1023.7" cy="1051.7" r="9.5"/><circle cx="1027.4" cy="1115.6" r="9.5"/><circle cx="1031.1" cy="1118.8" r="9.5"/><circle cx="1034.8" cy="1049.4" r="9.5"/><circle cx="1038.5" cy="1159.0" r="9.5"/><circle cx="1042.2" cy="1122.1" r="9.5"/><circle cx="1045.9" cy="1084.3" r="9.5"/><circle cx="1049.6" cy="1090.5" r="9.5"/><circle cx="1053.3" cy="1129.7" r="9.5"/><circle cx="1057.0" cy="1110.9" r="9.5"/><circle cx="1060.7" cy="1040.7" r="9.5"/><circle cx="1064.4" cy="1146.0" r="9.5"/><circle cx="1068.1" cy="1178.7" r="9.5"/><circle cx="1071.8" cy="1144.3" r="9.5"/><circle cx="1075.5" cy="1149.5" r="9.5"/><circle cx="1079.2" cy="1160.5" r="9.5"/><circle cx="1082.9" cy="1113.2" r="9.5"/><circle cx="1086.6" cy="1124.5" r="9.5"/><circle cx="1090.3" cy="1117.4" r="9.5"/><circle cx="1094.0" cy="1056.6" r="9.5"/><circle cx="1097.7" cy="1136.7" r="9.5"/><circle cx="1101.4" cy="1067.3" r="9.5"/><circle cx="1105.1" cy="1105.4" r="9.5"/><circle cx="1108.8" cy="1202.6" r="9.5"/><circle cx="1112.5" cy="1071.2" r="9.5"/><circle cx="1116.2" cy="1119.6" r="9.5"/><circle cx="1119.9" cy="1158.4" r="9.5"/><circle cx="1123.6" cy="1153.2" r="9.5"/><circle cx="1127.3" cy="1134.1" r="9.5"/><circle cx="1131.0" cy="1154.4" r="9.5"/><circle cx="1134.7" cy="1073.1" r="9.5"/><circle cx="1138.4" cy="1072.0" r="9.5"/><circle cx="1142.1" cy="1129.8" r="9.5"/><circle cx="1145.8" cy="1108.8" r="9.5"/><circle cx="1149.5" cy="1117.0" r="9.5"/><circle cx="1153.2" cy="1124.5" r="9.5"/><circle cx="1156.9" cy="1119.2" r="9.5"/><circle cx="1160.6" cy="1051.9" r="9.5"/><circle cx="1164.3" cy="1097.5" r="9.5"/><circle cx="1168.0" cy="1062.9" r="9.5"/><circle cx="1171.7" cy="1104.6" r="9.5"/><circle cx="1175.4" cy="1133.4" r="9.5"/><circle cx="1179.1" cy="1132.7" r="9.5"/><circle cx="1182.8" cy="1126.6" r="9.5"/><circle cx="1186.5" cy="1114.1" r="9.5"/><circle cx="1190.2" cy="1078.3" r="9.5"/><circle cx="1193.9" cy="1109.6" r="9.5"/><circle cx="1197.6" cy="1132.1" r="9.5"/><circle cx="1201.3" cy="1104.5" r="9.5"/><circle cx="1205.0" cy="1105.9" r="9.5"/><circle cx="1208.7" cy="1085.0" r="9.5"/><circle cx="1212.4" cy="1121.7" r="9.5"/><circle cx="1216.1" cy="1108.8" r="9.5"/><circle cx="1219.8" cy="1132.3" r="9.5"/><circle cx="1223.5" cy="1182.0" r="9.5"/><circle cx="1227.2" cy="1149.3" r="9.5"/><circle cx="1230.9" cy="1082.2" r="9.5"/><circle cx="1234.6" cy="1087.4" r="9.5"/><circle cx="1238.3" cy="1059.8" r="9.5"/><circle cx="1242.0" cy="1097.2" r="9.5"/><circle cx="1245.7" cy="1075.8" r="9.5"/><circle cx="1249.4" cy="1151.2" r="9.5"/><circle cx="1253.1" cy="1132.6" r="9.5"/><circle cx="1256.8" cy="1105.5" r="9.5"/><circle cx="1260.5" cy="1184.6" r="9.5"/><circle cx="1264.2" cy="1086.7" r="9.5"/><circle cx="1267.9" cy="1185.2" r="9.5"/><circle cx="1271.6" cy="1184.2" r="9.5"/><circle cx="1275.3" cy="1137.2" r="9.5"/><circle cx="1279.0" cy="1123.7" r="9.5"/><circle cx="1282.7" cy="1159.4" r="9.5"/><circle cx="1286.4" cy="1175.4" r="9.5"/><circle cx="1290.1" cy="1183.9" r="9.5"/><circle cx="1293.8" cy="1170.8" r="9.5"/><circle cx="1297.5" cy="1143.4" r="9.5"/><circle cx="1301.2" cy="1126.3" r="9.5"/><circle cx="1304.9" cy="1165.9" r="9.5"/><circle cx="1308.6" cy="1180.2" r="9.5"/><circle cx="1312.3" cy="1248.8" r="9.5"/><circle cx="1316.0" cy="1171.4" r="9.5"/><circle cx="1319.7" cy="1137.5" r="9.5"/><circle cx="1323.4" cy="1223.6" r="9.5"/><circle cx="1327.1" cy="1100.2" r="9.5"/><circle cx="1330.8" cy="1204.2" r="9.5"/><circle cx="1334.5" cy="1203.3" r="9.5"/><circle cx="1338.2" cy="1180.1" r="9.5"/><circle cx="1341.9" cy="1162.8" r="9.5"/><circle cx="1345.6" cy="1152.9" r="9.5"/><circle cx="1349.3" cy="1181.7" r="9.5"/><circle cx="1353.0" cy="1202.8" r="9.5"/><circle cx="1356.7" cy="1185.8" r="9.5"/><circle cx="1360.4" cy="1212.8" r="9.5"/><circle cx="1364.1" cy="1208.4" r="9.5"/><circle cx="1367.8" cy="1140.9" r="9.5"/><circle cx="1371.5" cy="1214.1" r="9.5"/><circle cx="1375.2" cy="1310.2" r="9.5"/><circle cx="1378.9" cy="1181.3" r="9.5"/><circle cx="1382.6" cy="1159.0" r="9.5"/><circle cx="1386.3" cy="1157.9" r="9.5"/><circle cx="1390.0" cy="1195.9" r="9.5"/><circle cx="1393.7" cy="1140.8" r="9.5"/><circle cx="1397.4" cy="1209.3" r="9.5"/><circle cx="1401.1" cy="1198.9" r="9.5"/><circle cx="1404.8" cy="1175.5" r="9.5"/><circle cx="1408.5" cy="1193.0" r="9.5"/><circle cx="1412.2" cy="1198.9" r="9.5"/><circle cx="1415.9" cy="1201.1" r="9.5"/><circle cx="1419.6" cy="1224.6" r="9.5"/><circle cx="1423.3" cy="1223.7" r="9.5"/><circle cx="1427.0" cy="1176.6" r="9.5"/><circle cx="1430.7" cy="1161.2" r="9.5"/><circle cx="1434.4" cy="1212.2" r="9.5"/><circle cx="1438.1" cy="1170.7" r="9.5"/><circle cx="1441.8" cy="1148.0" r="9.5"/><circle cx="1445.5" cy="1202.9" r="9.5"/><circle cx="1449.2" cy="1157.7" r="9.5"/></g><path d="M211.5,1308.9L213.9,1308.8L216.3,1308.6L218.7,1308.5L221.1,1308.3L223.5,1308.2L225.9,1308.0L228.3,1307.9L230.6,1307.7L233.0,1307.6L235.4,1307.4L237.8,1307.3L240.2,1307.1L242.6,1307.0L245.0,1306.9L247.4,1306.7L249.8,1306.6L252.2,1306.4L254.6,1306.3L257.0,1306.1L259.4,1306.0L261.8,1305.8L264.1,1305.7L266.5,1305.5L268.9,1305.4L271.3,1305.2L273.7,1305.1L276.1,1305.0L278.5,1304.8L280.9,1304.7L283.3,1304.5L285.7,1304.4L288.1,1304.2L290.5,1304.1L292.9,1303.9L295.3,1303.8L297.6,1303.6L300.0,1303.5L302.4,1303.3L304.8,1303.2L307.2,1303.1L309.6,1302.9L312.0,1302.8L314.4,1302.6L316.8,1302.5L319.2,1302.3L321.6,1302.2L324.0,1302.0L326.4,1301.9L328.8,1301.7L331.1,1301.6L333.5,1301.4L335.9,1301.3L338.3,1301.2L340.7,1301.0L343.1,1300.9L345.5,1300.7L347.9,1300.6L350.3,1300.4L352.7,1300.3L355.1,1300.1L357.5,1300.0L359.9,1299.8L362.3,1299.7L364.7,1299.5L367.0,1299.4L369.4,1299.2L371.8,1299.1L374.2,1299.0L376.6,1298.8L379.0,1298.7L381.4,1298.5L383.8,1298.4L386.2,1298.2L388.6,1298.1L391.0,1297.9L393.4,1297.8L395.8,1297.6L398.2,1297.5L400.5,1297.3L402.9,1297.2L405.3,1297.1L407.7,1296.9L410.1,1296.8L412.5,1296.6L414.9,1296.5L417.3,1296.3L419.7,1296.2L422.1,1296.0L424.5,1295.9L426.9,1295.7L429.3,1295.6L431.7,1295.4L434.0,1295.3L436.4,1295.2L438.8,1295.0L441.2,1294.9L443.6,1294.7L446.0,1294.6L448.4,1294.4L450.8,1294.3L453.2,1294.1L455.6,1294.0L458.0,1293.8L460.4,1293.7L462.8,1293.5L465.2,1293.4L467.6,1293.3L469.9,1293.1L472.3,1293.0L474.7,1292.8L477.1,1292.7L479.5,1292.5L481.9,1292.4L484.3,1292.2L486.7,1292.1L489.1,1291.9L491.5,1291.8L493.9,1291.6L496.3,1291.5L498.7,1291.4L501.1,1291.2L503.4,1291.1L505.8,1290.9L508.2,1290.8L510.6,1290.6L513.0,1290.5L515.4,1290.3L517.8,1290.2L520.2,1290.0L522.6,1289.9L525.0,1289.7L527.4,1289.6L529.8,1289.5L532.2,1289.3L534.6,1289.2L536.9,1289.0L539.3,1288.9L541.7,1288.7L544.1,1288.6L546.5,1288.4L548.9,1288.3L551.3,1288.1L553.7,1288.0L556.1,1287.8L558.5,1287.7L560.9,1287.6L563.3,1287.4L565.7,1287.3L568.1,1287.1L570.5,1287.0L572.8,1286.8L575.2,1286.7L577.6,1286.5L580.0,1286.4L582.4,1286.2L584.8,1286.1L587.2,1285.9L589.6,1285.8L592.0,1285.7L594.4,1285.5L596.8,1285.4L599.2,1285.2L601.6,1285.1L604.0,1284.9L606.3,1284.8L608.7,1284.6L611.1,1284.5L613.5,1284.3L615.9,1284.2L618.3,1284.0L620.7,1283.9L623.1,1283.7L625.5,1283.6L627.9,1283.5L630.3,1283.3L632.7,1283.2L635.1,1283.0L637.5,1282.9L639.8,1282.7L642.2,1282.6L644.6,1282.4L647.0,1282.3L649.4,1282.1L651.8,1282.0L654.2,1281.8L656.6,1281.7L659.0,1281.6L661.4,1281.4L663.8,1281.3L666.2,1281.1L668.6,1281.0L671.0,1280.8L673.3,1280.7L675.7,1280.5L678.1,1280.4L680.5,1280.2L682.9,1280.1L685.3,1279.9L687.7,1279.8L690.1,1279.7L692.5,1279.5L694.9,1279.4L697.3,1279.2L699.7,1279.1L702.1,1278.9L704.5,1278.8L706.9,1278.6L709.2,1278.5L711.6,1278.3L714.0,1278.2L716.4,1278.0L718.8,1277.9L721.2,1277.8L723.6,1277.6L726.0,1277.5L728.4,1277.3L730.8,1277.2L733.2,1277.0L735.6,1276.9L738.0,1276.7L740.4,1276.6L742.7,1276.4L745.1,1276.3L747.5,1276.1L749.9,1276.0L752.3,1275.9L754.7,1275.7L757.1,1275.6L759.5,1275.4L761.9,1275.3L764.3,1275.1L766.7,1275.0L769.1,1274.8L771.5,1274.7L773.9,1274.5L776.2,1274.4L778.6,1274.2L781.0,1274.1L783.4,1274.0L785.8,1273.8L788.2,1273.7L790.6,1273.5L793.0,1273.4L795.4,1273.2L797.8,1273.1L800.2,1272.9L802.6,1272.8L805.0,1272.6L807.4,1272.5L809.8,1272.3L812.1,1272.2L814.5,1272.1L816.9,1271.9L819.3,1271.8L821.7,1271.6L824.1,1271.5L826.5,1271.3L828.9,1271.2L831.3,1271.0L833.7,1270.9L836.1,1270.7L838.5,1270.6L840.9,1270.4L843.3,1270.3L845.6,1270.2L848.0,1270.0L850.4,1269.9L852.8,1269.7L855.2,1269.6L857.6,1269.4L860.0,1269.3L862.4,1269.1L864.8,1269.0L867.2,1268.8L869.6,1268.7L872.0,1268.5L874.4,1268.4L876.8,1268.2L879.1,1268.1L881.5,1268.0L883.9,1267.8L886.3,1267.7L888.7,1267.5L891.1,1267.4L893.5,1267.2L895.9,1267.1L898.3,1266.9L900.7,1266.8L903.1,1266.6L905.5,1266.5L907.9,1266.3L910.3,1266.2L912.6,1266.1L915.0,1265.9L917.4,1265.8L919.8,1265.6L922.2,1265.5L924.6,1265.3L927.0,1265.2L929.4,1265.0L931.8,1264.9L934.2,1264.7L936.6,1264.6L939.0,1264.4L941.4,1264.3L943.8,1264.2L946.2,1264.0L948.5,1263.9L950.9,1263.7L953.3,1263.6L955.7,1263.4L958.1,1263.3L960.5,1263.1L962.9,1263.0L965.3,1262.8L967.7,1262.7L970.1,1262.5L972.5,1262.4L974.9,1262.3L977.3,1262.1L979.7,1262.0L982.0,1261.8L984.4,1261.7L986.8,1261.5L989.2,1261.4L991.6,1261.2L994.0,1261.1L996.4,1260.9L998.8,1260.8L1001.2,1260.6L1003.6,1260.5L1006.0,1260.4L1008.4,1260.2L1010.8,1260.1L1013.2,1259.9L1015.5,1259.8L1017.9,1259.6L1020.3,1259.5L1022.7,1259.3L1025.1,1259.2L1027.5,1259.0L1029.9,1258.9L1032.3,1258.7L1034.7,1258.6L1037.1,1258.5L1039.5,1258.3L1041.9,1258.2L1044.3,1258.0L1046.7,1257.9L1049.0,1257.7L1051.4,1257.6L1053.8,1257.4L1056.2,1257.3L1058.6,1257.1L1061.0,1257.0L1063.4,1256.8L1065.8,1256.7L1068.2,1256.6L1070.6,1256.4L1073.0,1256.3L1075.4,1256.1L1077.8,1256.0L1080.2,1255.8L1082.6,1255.7L1084.9,1255.5L1087.3,1255.4L1089.7,1255.2L1092.1,1255.1L1094.5,1254.9L1096.9,1254.8L1099.3,1254.7L1101.7,1254.5L1104.1,1254.4L1106.5,1254.2L1108.9,1254.1L1111.3,1253.9L1113.7,1253.8L1116.1,1253.6L1118.4,1253.5L1120.8,1253.3L1123.2,1253.2L1125.6,1253.0L1128.0,1252.9L1130.4,1252.7L1132.8,1252.6L1135.2,1252.5L1137.6,1252.3L1140.0,1252.2L1142.4,1252.0L1144.8,1251.9L1147.2,1251.7L1149.6,1251.6L1151.9,1251.4L1154.3,1251.3L1156.7,1251.1L1159.1,1251.0L1161.5,1250.8L1163.9,1250.7L1166.3,1250.6L1168.7,1250.4L1171.1,1250.3L1173.5,1250.1L1175.9,1250.0L1178.3,1249.8L1180.7,1249.7L1183.1,1249.5L1185.5,1249.4L1187.8,1249.2L1190.2,1249.1L1192.6,1248.9L1195.0,1248.8L1197.4,1248.7L1199.8,1248.5L1202.2,1248.4L1204.6,1248.2L1207.0,1248.1L1209.4,1247.9L1211.8,1247.8L1214.2,1247.6L1216.6,1247.5L1219.0,1247.3L1221.3,1247.2L1223.7,1247.0L1226.1,1246.9L1228.5,1246.8L1230.9,1246.6L1233.3,1246.5L1235.7,1246.3L1238.1,1246.2L1240.5,1246.0L1242.9,1245.9L1245.3,1245.7L1247.7,1245.6L1250.1,1245.4L1252.5,1245.3L1254.8,1245.1L1257.2,1245.0L1259.6,1244.9L1262.0,1244.7L1264.4,1244.6L1266.8,1244.4L1269.2,1244.3L1271.6,1244.1L1274.0,1244.0L1276.4,1243.8L1278.8,1243.7L1281.2,1243.5L1283.6,1243.4L1286.0,1243.2L1288.3,1243.1L1290.7,1243.0L1293.1,1242.8L1295.5,1242.7L1297.9,1242.5L1300.3,1242.4L1302.7,1242.2L1305.1,1242.1L1307.5,1241.9L1309.9,1241.8L1312.3,1241.6L1314.7,1241.5L1317.1,1241.3L1319.5,1241.2L1321.9,1241.1L1324.2,1240.9L1326.6,1240.8L1329.0,1240.6L1331.4,1240.5L1333.8,1240.3L1336.2,1240.2L1338.6,1240.0L1341.0,1239.9L1343.4,1239.7L1345.8,1239.6L1348.2,1239.4L1350.6,1239.3L1353.0,1239.2L1355.4,1239.0L1357.7,1238.9L1360.1,1238.7L1362.5,1238.6L1364.9,1238.4L1367.3,1238.3L1369.7,1238.1L1372.1,1238.0L1374.5,1237.8L1376.9,1237.7L1379.3,1237.5L1381.7,1237.4L1384.1,1237.3L1386.5,1237.1L1388.9,1237.0L1391.2,1236.8L1393.6,1236.7L1396.0,1236.5L1398.4,1236.4L1400.8,1236.2L1403.2,1236.1L1405.6,1235.9L1408.0,1235.8" stroke="#ff0000" stroke-width="6.4" fill="none"/><path d="M211.5,1302.6L213.9,1302.4L216.3,1302.2L218.7,1301.9L221.1,1301.7L223.5,1301.5L225.9,1301.3L228.3,1301.1L230.6,1300.9L233.0,1300.7L235.4,1300.5L237.8,1300.3L240.2,1300.0L242.6,1299.8L245.0,1299.6L247.4,1299.4L249.8,1299.2L252.2,1299.0L254.6,1298.7L257.0,1298.5L259.4,1298.3L261.8,1298.1L264.1,1297.8L266.5,1297.6L268.9,1297.4L271.3,1297.1L273.7,1296.9L276.1,1296.7L278.5,1296.4L280.9,1296.2L283.3,1296.0L285.7,1295.7L288.1,1295.5L290.5,1295.2L292.9,1295.0L295.3,1294.8L297.6,1294.5L300.0,1294.3L302.4,1294.0L304.8,1293.7L307.2,1293.5L309.6,1293.2L312.0,1293.0L314.4,1292.7L316.8,1292.4L319.2,1292.2L321.6,1291.9L324.0,1291.6L326.4,1291.4L328.8,1291.1L331.1,1290.8L333.5,1290.5L335.9,1290.3L338.3,1290.0L340.7,1289.7L343.1,1289.4L345.5,1289.1L347.9,1288.8L350.3,1288.5L352.7,1288.2L355.1,1287.9L357.5,1287.6L359.9,1287.3L362.3,1287.0L364.7,1286.6L367.0,1286.3L369.4,1286.0L371.8,1285.7L374.2,1285.3L376.6,1285.0L379.0,1284.6L381.4,1284.3L383.8,1283.9L386.2,1283.6L388.6,1283.2L391.0,1282.9L393.4,1282.5L395.8,1282.1L398.2,1281.7L400.5,1281.4L402.9,1281.0L405.3,1280.6L407.7,1280.2L410.1,1279.8L412.5,1279.4L414.9,1278.9L417.3,1278.5L419.7,1278.1L422.1,1277.7L424.5,1277.2L426.9,1276.8L429.3,1276.3L431.7,1275.9L434.0,1275.4L436.4,1274.9L438.8,1274.4L441.2,1274.0L443.6,1273.5L446.0,1273.0L448.4,1272.5L450.8,1271.9L453.2,1271.4L455.6,1270.9L458.0,1270.3L460.4,1269.8L462.8,1269.2L465.2,1268.7L467.6,1268.1L469.9,1267.5L472.3,1266.9L474.7,1266.3L477.1,1265.7L479.5,1265.1L481.9,1264.4L484.3,1263.8L486.7,1263.2L489.1,1262.5L491.5,1261.8L493.9,1261.2L496.3,1260.5L498.7,1259.8L501.1,1259.0L503.4,1258.3L505.8,1257.6L508.2,1256.9L510.6,1256.1L513.0,1255.3L515.4,1254.6L517.8,1253.8L520.2,1253.0L522.6,1252.2L525.0,1251.3L527.4,1250.5L529.8,1249.7L532.2,1248.8L534.6,1247.9L536.9,1247.1L539.3,1246.2L541.7,1245.3L544.1,1244.4L546.5,1243.4L548.9,1242.5L551.3,1241.6L553.7,1240.6L556.1,1239.6L558.5,1238.7L560.9,1237.7L563.3,1236.7L565.7,1235.7L568.1,1234.7L570.5,1233.6L572.8,1232.6L575.2,1231.6L577.6,1230.5L580.0,1229.5L582.4,1228.4L584.8,1227.3L587.2,1226.3L589.6,1225.2L592.0,1224.1L594.4,1223.0L596.8,1221.9L599.2,1220.8L601.6,1219.8L604.0,1218.7L606.3,1217.6L608.7,1216.5L611.1,1215.4L613.5,1214.3L615.9,1213.3L618.3,1212.2L620.7,1211.2L623.1,1210.1L625.5,1209.1L627.9,1208.1L630.3,1207.1L632.7,1206.1L635.1,1205.2L637.5,1204.2L639.8,1203.3L642.2,1202.4L644.6,1201.5L647.0,1200.7L649.4,1199.9L651.8,1199.1L654.2,1198.4L656.6,1197.6L659.0,1197.0L661.4,1196.3L663.8,1195.7L666.2,1195.1L668.6,1194.6L671.0,1194.1L673.3,1193.7L675.7,1193.3L678.1,1192.9L680.5,1192.6L682.9,1192.3L685.3,1192.1L687.7,1191.9L690.1,1191.8L692.5,1191.7L694.9,1191.7L697.3,1191.8L699.7,1191.9L702.1,1192.1L704.5,1192.4L706.9,1192.7L709.2,1193.1L711.6,1193.5L714.0,1194.0L716.4,1194.5L718.8,1195.1L721.2,1195.8L723.6,1196.4L726.0,1197.1L728.4,1197.9L730.8,1198.7L733.2,1199.5L735.6,1200.4L738.0,1201.2L740.4,1202.1L742.7,1203.0L745.1,1204.0L747.5,1204.9L749.9,1205.9L752.3,1206.9L754.7,1207.8L757.1,1208.8L759.5,1209.8L761.9,1210.8L764.3,1211.8L766.7,1212.8L769.1,1213.8L771.5,1214.8L773.9,1215.7L776.2,1216.7L778.6,1217.7L781.0,1218.6L783.4,1219.5L785.8,1220.5L788.2,1221.4L790.6,1222.3L793.0,1223.2L795.4,1224.0L797.8,1224.9L800.2,1225.7L802.6,1226.6L805.0,1227.4L807.4,1228.2L809.8,1229.0L812.1,1229.7L814.5,1230.5L816.9,1231.2L819.3,1231.9L821.7,1232.6L824.1,1233.3L826.5,1233.9L828.9,1234.6L831.3,1235.2L833.7,1235.8L836.1,1236.4L838.5,1237.0L840.9,1237.6L843.3,1238.1L845.6,1238.7L848.0,1239.2L850.4,1239.7L852.8,1240.2L855.2,1240.7L857.6,1241.1L860.0,1241.6L862.4,1242.0L864.8,1242.4L867.2,1242.8L869.6,1243.2L872.0,1243.6L874.4,1244.0L876.8,1244.3L879.1,1244.6L881.5,1245.0L883.9,1245.3L886.3,1245.6L888.7,1245.9L891.1,1246.2L893.5,1246.4L895.9,1246.7L898.3,1247.0L900.7,1247.2L903.1,1247.4L905.5,1247.7L907.9,1247.9L910.3,1248.1L912.6,1248.3L915.0,1248.5L917.4,1248.6L919.8,1248.8L922.2,1249.0L924.6,1249.1L927.0,1249.3L929.4,1249.4L931.8,1249.5L934.2,1249.7L936.6,1249.8L939.0,1249.9L941.4,1250.0L943.8,1250.1L946.2,1250.2L948.5,1250.3L950.9,1250.3L953.3,1250.4L955.7,1250.5L958.1,1250.5L960.5,1250.6L962.9,1250.7L965.3,1250.7L967.7,1250.7L970.1,1250.8L972.5,1250.8L974.9,1250.9L977.3,1250.9L979.7,1250.9L982.0,1250.9L984.4,1250.9L986.8,1250.9L989.2,1251.0L991.6,1251.0L994.0,1251.0L996.4,1251.0L998.8,1251.0L1001.2,1250.9L1003.6,1250.9L1006.0,1250.9L1008.4,1250.9L1010.8,1250.9L1013.2,1250.9L1015.5,1250.8L1017.9,1250.8L1020.3,1250.8L1022.7,1250.7L1025.1,1250.7L1027.5,1250.7L1029.9,1250.6L1032.3,1250.6L1034.7,1250.6L1037.1,1250.5L1039.5,1250.5L1041.9,1250.4L1044.3,1250.4L1046.7,1250.3L1049.0,1250.3L1051.4,1250.2L1053.8,1250.1L1056.2,1250.1L1058.6,1250.0L1061.0,1250.0L1063.4,1249.9L1065.8,1249.8L1068.2,1249.8L1070.6,1249.7L1073.0,1249.6L1075.4,1249.6L1077.8,1249.5L1080.2,1249.4L1082.6,1249.3L1084.9,1249.3L1087.3,1249.2L1089.7,1249.1L1092.1,1249.0L1094.5,1248.9L1096.9,1248.9L1099.3,1248.8L1101.7,1248.7L1104.1,1248.6L1106.5,1248.5L1108.9,1248.4L1111.3,1248.4L1113.7,1248.3L1116.1,1248.2L1118.4,1248.1L1120.8,1248.0L1123.2,1247.9L1125.6,1247.8L1128.0,1247.7L1130.4,1247.6L1132.8,1247.5L1135.2,1247.4L1137.6,1247.3L1140.0,1247.2L1142.4,1247.1L1144.8,1247.0L1147.2,1246.9L1149.6,1246.8L1151.9,1246.7L1154.3,1246.6L1156.7,1246.5L1159.1,1246.4L1161.5,1246.3L1163.9,1246.2L1166.3,1246.1L1168.7,1246.0L1171.1,1245.9L1173.5,1245.8L1175.9,1245.7L1178.3,1245.6L1180.7,1245.5L1183.1,1245.4L1185.5,1245.3L1187.8,1245.2L1190.2,1245.1L1192.6,1244.9L1195.0,1244.8L1197.4,1244.7L1199.8,1244.6L1202.2,1244.5L1204.6,1244.4L1207.0,1244.3L1209.4,1244.2L1211.8,1244.0L1214.2,1243.9L1216.6,1243.8L1219.0,1243.7L1221.3,1243.6L1223.7,1243.5L1226.1,1243.4L1228.5,1243.2L1230.9,1243.1L1233.3,1243.0L1235.7,1242.9L1238.1,1242.8L1240.5,1242.7L1242.9,1242.5L1245.3,1242.4L1247.7,1242.3L1250.1,1242.2L1252.5,1242.1L1254.8,1241.9L1257.2,1241.8L1259.6,1241.7L1262.0,1241.6L1264.4,1241.5L1266.8,1241.3L1269.2,1241.2L1271.6,1241.1L1274.0,1241.0L1276.4,1240.8L1278.8,1240.7L1281.2,1240.6L1283.6,1240.5L1286.0,1240.3L1288.3,1240.2L1290.7,1240.1L1293.1,1240.0L1295.5,1239.9L1297.9,1239.7L1300.3,1239.6L1302.7,1239.5L1305.1,1239.4L1307.5,1239.2L1309.9,1239.1L1312.3,1239.0L1314.7,1238.8L1317.1,1238.7L1319.5,1238.6L1321.9,1238.5L1324.2,1238.3L1326.6,1238.2L1329.0,1238.1L1331.4,1238.0L1333.8,1237.8L1336.2,1237.7L1338.6,1237.6L1341.0,1237.4L1343.4,1237.3L1345.8,1237.2L1348.2,1237.1L1350.6,1236.9L1353.0,1236.8L1355.4,1236.7L1357.7,1236.5L1360.1,1236.4L1362.5,1236.3L1364.9,1236.1L1367.3,1236.0L1369.7,1235.9L1372.1,1235.7L1374.5,1235.6L1376.9,1235.5L1379.3,1235.4L1381.7,1235.2L1384.1,1235.1L1386.5,1235.0L1388.9,1234.8L1391.2,1234.7L1393.6,1234.6L1396.0,1234.4L1398.4,1234.3L1400.8,1234.2L1403.2,1234.0L1405.6,1233.9L1408.0,1233.8" stroke="#008000" stroke-width="6.4" fill="none" stroke-linejoin="round"/><path d="M211.5,1307.0L213.9,1306.9L216.3,1306.7L218.7,1306.6L221.1,1306.4L223.5,1306.2L225.9,1306.1L228.3,1305.9L230.6,1305.8L233.0,1305.6L235.4,1305.5L237.8,1305.3L240.2,1305.1L242.6,1305.0L245.0,1304.8L247.4,1304.7L249.8,1304.5L252.2,1304.3L254.6,1304.2L257.0,1304.0L259.4,1303.9L261.8,1303.7L264.1,1303.5L266.5,1303.4L268.9,1303.2L271.3,1303.0L273.7,1302.9L276.1,1302.7L278.5,1302.6L280.9,1302.4L283.3,1302.2L285.7,1302.1L288.1,1301.9L290.5,1301.8L292.9,1301.6L295.3,1301.4L297.6,1301.3L300.0,1301.1L302.4,1300.9L304.8,1300.8L307.2,1300.6L309.6,1300.4L312.0,1300.3L314.4,1300.1L316.8,1300.0L319.2,1299.8L321.6,1299.6L324.0,1299.5L326.4,1299.3L328.8,1299.1L331.1,1299.0L333.5,1298.8L335.9,1298.6L338.3,1298.5L340.7,1298.3L343.1,1298.1L345.5,1298.0L347.9,1297.8L350.3,1297.6L352.7,1297.5L355.1,1297.3L357.5,1297.1L359.9,1296.9L362.3,1296.8L364.7,1296.6L367.0,1296.4L369.4,1296.3L371.8,1296.1L374.2,1295.9L376.6,1295.8L379.0,1295.6L381.4,1295.4L383.8,1295.2L386.2,1295.1L388.6,1294.9L391.0,1294.7L393.4,1294.5L395.8,1294.4L398.2,1294.2L400.5,1294.0L402.9,1293.9L405.3,1293.7L407.7,1293.5L410.1,1293.3L412.5,1293.1L414.9,1293.0L417.3,1292.8L419.7,1292.6L422.1,1292.4L424.5,1292.3L426.9,1292.1L429.3,1291.9L431.7,1291.7L434.0,1291.5L436.4,1291.4L438.8,1291.2L441.2,1291.0L443.6,1290.8L446.0,1290.6L448.4,1290.5L450.8,1290.3L453.2,1290.1L455.6,1289.9L458.0,1289.7L460.4,1289.5L462.8,1289.3L465.2,1289.2L467.6,1289.0L469.9,1288.8L472.3,1288.6L474.7,1288.4L477.1,1288.2L479.5,1288.0L481.9,1287.8L484.3,1287.6L486.7,1287.5L489.1,1287.3L491.5,1287.1L493.9,1286.9L496.3,1286.7L498.7,1286.5L501.1,1286.3L503.4,1286.1L505.8,1285.9L508.2,1285.7L510.6,1285.5L513.0,1285.3L515.4,1285.1L517.8,1284.9L520.2,1284.7L522.6,1284.5L525.0,1284.3L527.4,1284.1L529.8,1283.9L532.2,1283.7L534.6,1283.4L536.9,1283.2L539.3,1283.0L541.7,1282.8L544.1,1282.6L546.5,1282.4L548.9,1282.2L551.3,1282.0L553.7,1281.7L556.1,1281.5L558.5,1281.3L560.9,1281.1L563.3,1280.9L565.7,1280.6L568.1,1280.4L570.5,1280.2L572.8,1279.9L575.2,1279.7L577.6,1279.5L580.0,1279.3L582.4,1279.0L584.8,1278.8L587.2,1278.5L589.6,1278.3L592.0,1278.1L594.4,1277.8L596.8,1277.6L599.2,1277.3L601.6,1277.1L604.0,1276.8L606.3,1276.6L608.7,1276.3L611.1,1276.1L613.5,1275.8L615.9,1275.5L618.3,1275.3L620.7,1275.0L623.1,1274.7L625.5,1274.5L627.9,1274.2L630.3,1273.9L632.7,1273.6L635.1,1273.4L637.5,1273.1L639.8,1272.8L642.2,1272.5L644.6,1272.2L647.0,1271.9L649.4,1271.6L651.8,1271.3L654.2,1271.0L656.6,1270.7L659.0,1270.4L661.4,1270.0L663.8,1269.7L666.2,1269.4L668.6,1269.1L671.0,1268.7L673.3,1268.4L675.7,1268.0L678.1,1267.7L680.5,1267.3L682.9,1267.0L685.3,1266.6L687.7,1266.2L690.1,1265.9L692.5,1265.5L694.9,1265.1L697.3,1264.7L699.7,1264.3L702.1,1263.9L704.5,1263.5L706.9,1263.1L709.2,1262.6L711.6,1262.2L714.0,1261.7L716.4,1261.3L718.8,1260.8L721.2,1260.4L723.6,1259.9L726.0,1259.4L728.4,1258.9L730.8,1258.4L733.2,1257.9L735.6,1257.3L738.0,1256.8L740.4,1256.2L742.7,1255.7L745.1,1255.1L747.5,1254.5L749.9,1253.9L752.3,1253.3L754.7,1252.6L757.1,1252.0L759.5,1251.3L761.9,1250.6L764.3,1249.9L766.7,1249.1L769.1,1248.4L771.5,1247.6L773.9,1246.8L776.2,1246.0L778.6,1245.2L781.0,1244.3L783.4,1243.4L785.8,1242.5L788.2,1241.5L790.6,1240.5L793.0,1239.5L795.4,1238.5L797.8,1237.4L800.2,1236.3L802.6,1235.1L805.0,1233.9L807.4,1232.7L809.8,1231.4L812.1,1230.1L814.5,1228.7L816.9,1227.3L819.3,1225.8L821.7,1224.3L824.1,1222.7L826.5,1221.1L828.9,1219.4L831.3,1217.7L833.7,1215.9L836.1,1214.0L838.5,1212.1L840.9,1210.1L843.3,1208.0L845.6,1205.9L848.0,1203.6L850.4,1201.4L852.8,1199.0L855.2,1196.6L857.6,1194.0L860.0,1191.4L862.4,1188.7L864.8,1186.0L867.2,1183.1L869.6,1180.2L872.0,1177.2L874.4,1174.0L876.8,1170.8L879.1,1167.6L881.5,1164.2L883.9,1160.8L886.3,1157.3L888.7,1153.7L891.1,1150.0L893.5,1146.3L895.9,1142.5L898.3,1138.7L900.7,1134.9L903.1,1131.0L905.5,1127.1L907.9,1123.2L910.3,1119.3L912.6,1115.5L915.0,1111.7L917.4,1108.0L919.8,1104.3L922.2,1100.8L924.6,1097.4L927.0,1094.2L929.4,1091.2L931.8,1088.3L934.2,1085.7L936.6,1083.3L939.0,1081.3L941.4,1079.5L943.8,1078.0L946.2,1076.8L948.5,1076.0L950.9,1075.5L953.3,1075.3L955.7,1075.5L958.1,1076.0L960.5,1076.9L962.9,1078.1L965.3,1079.5L967.7,1081.3L970.1,1083.4L972.5,1085.7L974.9,1088.2L977.3,1091.0L979.7,1093.9L982.0,1097.0L984.4,1100.2L986.8,1103.5L989.2,1107.0L991.6,1110.5L994.0,1114.0L996.4,1117.6L998.8,1121.2L1001.2,1124.8L1003.6,1128.4L1006.0,1131.9L1008.4,1135.5L1010.8,1138.9L1013.2,1142.4L1015.5,1145.7L1017.9,1149.0L1020.3,1152.3L1022.7,1155.4L1025.1,1158.5L1027.5,1161.5L1029.9,1164.4L1032.3,1167.2L1034.7,1169.9L1037.1,1172.6L1039.5,1175.1L1041.9,1177.6L1044.3,1180.0L1046.7,1182.3L1049.0,1184.6L1051.4,1186.7L1053.8,1188.8L1056.2,1190.8L1058.6,1192.7L1061.0,1194.6L1063.4,1196.4L1065.8,1198.1L1068.2,1199.7L1070.6,1201.3L1073.0,1202.8L1075.4,1204.3L1077.8,1205.7L1080.2,1207.0L1082.6,1208.3L1084.9,1209.5L1087.3,1210.7L1089.7,1211.8L1092.1,1212.9L1094.5,1213.9L1096.9,1214.9L1099.3,1215.9L1101.7,1216.8L1104.1,1217.6L1106.5,1218.5L1108.9,1219.3L1111.3,1220.0L1113.7,1220.7L1116.1,1221.4L1118.4,1222.1L1120.8,1222.7L1123.2,1223.3L1125.6,1223.9L1128.0,1224.5L1130.4,1225.0L1132.8,1225.5L1135.2,1226.0L1137.6,1226.4L1140.0,1226.9L1142.4,1227.3L1144.8,1227.7L1147.2,1228.1L1149.6,1228.5L1151.9,1228.8L1154.3,1229.1L1156.7,1229.5L1159.1,1229.8L1161.5,1230.1L1163.9,1230.3L1166.3,1230.6L1168.7,1230.8L1171.1,1231.1L1173.5,1231.3L1175.9,1231.5L1178.3,1231.7L1180.7,1231.9L1183.1,1232.1L1185.5,1232.3L1187.8,1232.5L1190.2,1232.6L1192.6,1232.8L1195.0,1232.9L1197.4,1233.1L1199.8,1233.2L1202.2,1233.3L1204.6,1233.4L1207.0,1233.5L1209.4,1233.6L1211.8,1233.7L1214.2,1233.8L1216.6,1233.9L1219.0,1234.0L1221.3,1234.1L1223.7,1234.1L1226.1,1234.2L1228.5,1234.2L1230.9,1234.3L1233.3,1234.3L1235.7,1234.4L1238.1,1234.4L1240.5,1234.5L1242.9,1234.5L1245.3,1234.5L1247.7,1234.5L1250.1,1234.6L1252.5,1234.6L1254.8,1234.6L1257.2,1234.6L1259.6,1234.6L1262.0,1234.6L1264.4,1234.6L1266.8,1234.6L1269.2,1234.6L1271.6,1234.6L1274.0,1234.6L1276.4,1234.6L1278.8,1234.5L1281.2,1234.5L1283.6,1234.5L1286.0,1234.5L1288.3,1234.4L1290.7,1234.4L1293.1,1234.4L1295.5,1234.3L1297.9,1234.3L1300.3,1234.3L1302.7,1234.2L1305.1,1234.2L1307.5,1234.1L1309.9,1234.1L1312.3,1234.0L1314.7,1234.0L1317.1,1233.9L1319.5,1233.9L1321.9,1233.8L1324.2,1233.8L1326.6,1233.7L1329.0,1233.7L1331.4,1233.6L1333.8,1233.5L1336.2,1233.5L1338.6,1233.4L1341.0,1233.3L1343.4,1233.3L1345.8,1233.2L1348.2,1233.1L1350.6,1233.0L1353.0,1233.0L1355.4,1232.9L1357.7,1232.8L1360.1,1232.7L1362.5,1232.7L1364.9,1232.6L1367.3,1232.5L1369.7,1232.4L1372.1,1232.3L1374.5,1232.2L1376.9,1232.2L1379.3,1232.1L1381.7,1232.0L1384.1,1231.9L1386.5,1231.8L1388.9,1231.7L1391.2,1231.6L1393.6,1231.5L1396.0,1231.4L1398.4,1231.3L1400.8,1231.3L1403.2,1231.2L1405.6,1231.1L1408.0,1231.0" stroke="#ff00ff" stroke-width="6.4" fill="none" stroke-linejoin="round"/><path d="M211.5,1308.1L213.9,1307.9L216.3,1307.8L218.7,1307.6L221.1,1307.5L223.5,1307.3L225.9,1307.2L228.3,1307.0L230.6,1306.9L233.0,1306.7L235.4,1306.6L237.8,1306.4L240.2,1306.3L242.6,1306.1L245.0,1306.0L247.4,1305.8L249.8,1305.7L252.2,1305.5L254.6,1305.4L257.0,1305.2L259.4,1305.1L261.8,1304.9L264.1,1304.8L266.5,1304.6L268.9,1304.5L271.3,1304.3L273.7,1304.2L276.1,1304.0L278.5,1303.8L280.9,1303.7L283.3,1303.5L285.7,1303.4L288.1,1303.2L290.5,1303.1L292.9,1302.9L295.3,1302.8L297.6,1302.6L300.0,1302.5L302.4,1302.3L304.8,1302.2L307.2,1302.0L309.6,1301.9L312.0,1301.7L314.4,1301.6L316.8,1301.4L319.2,1301.3L321.6,1301.1L324.0,1301.0L326.4,1300.8L328.8,1300.7L331.1,1300.5L333.5,1300.4L335.9,1300.2L338.3,1300.1L340.7,1299.9L343.1,1299.8L345.5,1299.6L347.9,1299.4L350.3,1299.3L352.7,1299.1L355.1,1299.0L357.5,1298.8L359.9,1298.7L362.3,1298.5L364.7,1298.4L367.0,1298.2L369.4,1298.1L371.8,1297.9L374.2,1297.8L376.6,1297.6L379.0,1297.5L381.4,1297.3L383.8,1297.2L386.2,1297.0L388.6,1296.8L391.0,1296.7L393.4,1296.5L395.8,1296.4L398.2,1296.2L400.5,1296.1L402.9,1295.9L405.3,1295.8L407.7,1295.6L410.1,1295.5L412.5,1295.3L414.9,1295.2L417.3,1295.0L419.7,1294.8L422.1,1294.7L424.5,1294.5L426.9,1294.4L429.3,1294.2L431.7,1294.1L434.0,1293.9L436.4,1293.8L438.8,1293.6L441.2,1293.5L443.6,1293.3L446.0,1293.1L448.4,1293.0L450.8,1292.8L453.2,1292.7L455.6,1292.5L458.0,1292.4L460.4,1292.2L462.8,1292.1L465.2,1291.9L467.6,1291.7L469.9,1291.6L472.3,1291.4L474.7,1291.3L477.1,1291.1L479.5,1291.0L481.9,1290.8L484.3,1290.6L486.7,1290.5L489.1,1290.3L491.5,1290.2L493.9,1290.0L496.3,1289.9L498.7,1289.7L501.1,1289.5L503.4,1289.4L505.8,1289.2L508.2,1289.1L510.6,1288.9L513.0,1288.8L515.4,1288.6L517.8,1288.4L520.2,1288.3L522.6,1288.1L525.0,1288.0L527.4,1287.8L529.8,1287.6L532.2,1287.5L534.6,1287.3L536.9,1287.2L539.3,1287.0L541.7,1286.9L544.1,1286.7L546.5,1286.5L548.9,1286.4L551.3,1286.2L553.7,1286.1L556.1,1285.9L558.5,1285.7L560.9,1285.6L563.3,1285.4L565.7,1285.2L568.1,1285.1L570.5,1284.9L572.8,1284.8L575.2,1284.6L577.6,1284.4L580.0,1284.3L582.4,1284.1L584.8,1284.0L587.2,1283.8L589.6,1283.6L592.0,1283.5L594.4,1283.3L596.8,1283.1L599.2,1283.0L601.6,1282.8L604.0,1282.6L606.3,1282.5L608.7,1282.3L611.1,1282.1L613.5,1282.0L615.9,1281.8L618.3,1281.7L620.7,1281.5L623.1,1281.3L625.5,1281.2L627.9,1281.0L630.3,1280.8L632.7,1280.7L635.1,1280.5L637.5,1280.3L639.8,1280.2L642.2,1280.0L644.6,1279.8L647.0,1279.6L649.4,1279.5L651.8,1279.3L654.2,1279.1L656.6,1279.0L659.0,1278.8L661.4,1278.6L663.8,1278.5L666.2,1278.3L668.6,1278.1L671.0,1277.9L673.3,1277.8L675.7,1277.6L678.1,1277.4L680.5,1277.3L682.9,1277.1L685.3,1276.9L687.7,1276.7L690.1,1276.6L692.5,1276.4L694.9,1276.2L697.3,1276.0L699.7,1275.9L702.1,1275.7L704.5,1275.5L706.9,1275.3L709.2,1275.2L711.6,1275.0L714.0,1274.8L716.4,1274.6L718.8,1274.4L721.2,1274.3L723.6,1274.1L726.0,1273.9L728.4,1273.7L730.8,1273.5L733.2,1273.3L735.6,1273.2L738.0,1273.0L740.4,1272.8L742.7,1272.6L745.1,1272.4L747.5,1272.2L749.9,1272.1L752.3,1271.9L754.7,1271.7L757.1,1271.5L759.5,1271.3L761.9,1271.1L764.3,1270.9L766.7,1270.7L769.1,1270.5L771.5,1270.3L773.9,1270.1L776.2,1270.0L778.6,1269.8L781.0,1269.6L783.4,1269.4L785.8,1269.2L788.2,1269.0L790.6,1268.8L793.0,1268.6L795.4,1268.4L797.8,1268.2L800.2,1268.0L802.6,1267.8L805.0,1267.6L807.4,1267.3L809.8,1267.1L812.1,1266.9L814.5,1266.7L816.9,1266.5L819.3,1266.3L821.7,1266.1L824.1,1265.9L826.5,1265.7L828.9,1265.4L831.3,1265.2L833.7,1265.0L836.1,1264.8L838.5,1264.6L840.9,1264.3L843.3,1264.1L845.6,1263.9L848.0,1263.7L850.4,1263.4L852.8,1263.2L855.2,1263.0L857.6,1262.7L860.0,1262.5L862.4,1262.3L864.8,1262.0L867.2,1261.8L869.6,1261.5L872.0,1261.3L874.4,1261.0L876.8,1260.8L879.1,1260.5L881.5,1260.3L883.9,1260.0L886.3,1259.7L888.7,1259.5L891.1,1259.2L893.5,1258.9L895.9,1258.7L898.3,1258.4L900.7,1258.1L903.1,1257.8L905.5,1257.5L907.9,1257.2L910.3,1256.9L912.6,1256.6L915.0,1256.3L917.4,1256.0L919.8,1255.7L922.2,1255.4L924.6,1255.0L927.0,1254.7L929.4,1254.4L931.8,1254.0L934.2,1253.7L936.6,1253.3L939.0,1253.0L941.4,1252.6L943.8,1252.2L946.2,1251.9L948.5,1251.5L950.9,1251.1L953.3,1250.7L955.7,1250.3L958.1,1249.9L960.5,1249.4L962.9,1249.0L965.3,1248.6L967.7,1248.1L970.1,1247.6L972.5,1247.2L974.9,1246.7L977.3,1246.2L979.7,1245.7L982.0,1245.1L984.4,1244.6L986.8,1244.1L989.2,1243.5L991.6,1242.9L994.0,1242.3L996.4,1241.7L998.8,1241.1L1001.2,1240.5L1003.6,1239.9L1006.0,1239.2L1008.4,1238.5L1010.8,1237.8L1013.2,1237.1L1015.5,1236.4L1017.9,1235.6L1020.3,1234.9L1022.7,1234.1L1025.1,1233.3L1027.5,1232.5L1029.9,1231.6L1032.3,1230.7L1034.7,1229.9L1037.1,1229.0L1039.5,1228.0L1041.9,1227.1L1044.3,1226.1L1046.7,1225.1L1049.0,1224.1L1051.4,1223.1L1053.8,1222.0L1056.2,1220.9L1058.6,1219.8L1061.0,1218.7L1063.4,1217.5L1065.8,1216.4L1068.2,1215.2L1070.6,1213.9L1073.0,1212.7L1075.4,1211.4L1077.8,1210.1L1080.2,1208.8L1082.6,1207.5L1084.9,1206.1L1087.3,1204.7L1089.7,1203.3L1092.1,1201.9L1094.5,1200.4L1096.9,1199.0L1099.3,1197.5L1101.7,1196.0L1104.1,1194.4L1106.5,1192.9L1108.9,1191.4L1111.3,1189.8L1113.7,1188.2L1116.1,1186.7L1118.4,1185.1L1120.8,1183.5L1123.2,1181.9L1125.6,1180.4L1128.0,1178.8L1130.4,1177.2L1132.8,1175.7L1135.2,1174.1L1137.6,1172.6L1140.0,1171.1L1142.4,1169.6L1144.8,1168.2L1147.2,1166.8L1149.6,1165.4L1151.9,1164.1L1154.3,1162.8L1156.7,1161.6L1159.1,1160.4L1161.5,1159.3L1163.9,1158.3L1166.3,1157.3L1168.7,1156.4L1171.1,1155.6L1173.5,1154.9L1175.9,1154.3L1178.3,1153.7L1180.7,1153.2L1183.1,1152.8L1185.5,1152.5L1187.8,1152.3L1190.2,1152.2L1192.6,1152.2L1195.0,1152.3L1197.4,1152.5L1199.8,1152.8L1202.2,1153.2L1204.6,1153.7L1207.0,1154.3L1209.4,1155.0L1211.8,1155.7L1214.2,1156.5L1216.6,1157.4L1219.0,1158.4L1221.3,1159.4L1223.7,1160.4L1226.1,1161.5L1228.5,1162.7L1230.9,1163.9L1233.3,1165.2L1235.7,1166.4L1238.1,1167.7L1240.5,1169.0L1242.9,1170.4L1245.3,1171.7L1247.7,1173.1L1250.1,1174.4L1252.5,1175.8L1254.8,1177.1L1257.2,1178.5L1259.6,1179.9L1262.0,1181.2L1264.4,1182.5L1266.8,1183.8L1269.2,1185.1L1271.6,1186.4L1274.0,1187.7L1276.4,1188.9L1278.8,1190.2L1281.2,1191.4L1283.6,1192.5L1286.0,1193.7L1288.3,1194.8L1290.7,1195.9L1293.1,1197.0L1295.5,1198.1L1297.9,1199.1L1300.3,1200.1L1302.7,1201.1L1305.1,1202.1L1307.5,1203.0L1309.9,1203.9L1312.3,1204.8L1314.7,1205.6L1317.1,1206.4L1319.5,1207.2L1321.9,1208.0L1324.2,1208.8L1326.6,1209.5L1329.0,1210.2L1331.4,1210.9L1333.8,1211.5L1336.2,1212.2L1338.6,1212.8L1341.0,1213.3L1343.4,1213.9L1345.8,1214.4L1348.2,1215.0L1350.6,1215.5L1353.0,1215.9L1355.4,1216.4L1357.7,1216.8L1360.1,1217.3L1362.5,1217.7L1364.9,1218.1L1367.3,1218.4L1369.7,1218.8L1372.1,1219.1L1374.5,1219.4L1376.9,1219.7L1379.3,1220.0L1381.7,1220.3L1384.1,1220.6L1386.5,1220.8L1388.9,1221.0L1391.2,1221.3L1393.6,1221.5L1396.0,1221.7L1398.4,1221.9L1400.8,1222.0L1403.2,1222.2L1405.6,1222.4L1408.0,1222.5" stroke="#0000ff" stroke-width="6.4" fill="none" stroke-linejoin="round"/><path d="M211.5,1305.4L213.9,1304.9L216.3,1304.4L218.7,1303.8L221.1,1303.1L223.5,1302.4L225.9,1301.5L228.3,1300.5L230.6,1299.4L233.0,1298.0L235.4,1296.5L237.8,1294.8L240.2,1292.8L242.6,1290.6L245.0,1288.2L247.4,1285.5L249.8,1282.5L252.2,1279.3L254.6,1275.8L257.0,1272.2L259.4,1268.4L261.8,1264.6L264.1,1260.7L266.5,1256.8L268.9,1253.1L271.3,1249.7L273.7,1246.7L276.1,1244.2L278.5,1242.4L280.9,1241.3L283.3,1241.1L285.7,1241.6L288.1,1242.9L290.5,1244.8L292.9,1247.4L295.3,1250.4L297.6,1253.7L300.0,1257.2L302.4,1260.8L304.8,1264.4L307.2,1267.9L309.6,1271.3L312.0,1274.5L314.4,1277.5L316.8,1280.3L319.2,1282.8L321.6,1285.0L324.0,1287.0L326.4,1288.8L328.8,1290.3L331.1,1291.6L333.5,1292.7L335.9,1293.6L338.3,1294.4L340.7,1295.0L343.1,1295.5L345.5,1295.9L347.9,1296.2L350.3,1296.5L352.7,1296.6L355.1,1296.8L357.5,1296.9L359.9,1296.9L362.3,1297.0L364.7,1297.0L367.0,1297.0L369.4,1297.0L371.8,1297.0L374.2,1296.9L376.6,1296.9L379.0,1296.8L381.4,1296.8L383.8,1296.7L386.2,1296.6L388.6,1296.5L391.0,1296.5L393.4,1296.4L395.8,1296.3L398.2,1296.2L400.5,1296.1L402.9,1296.0L405.3,1295.9L407.7,1295.8L410.1,1295.7L412.5,1295.6L414.9,1295.5L417.3,1295.3L419.7,1295.2L422.1,1295.1L424.5,1295.0L426.9,1294.9L429.3,1294.8L431.7,1294.6L434.0,1294.5L436.4,1294.4L438.8,1294.3L441.2,1294.1L443.6,1294.0L446.0,1293.9L448.4,1293.8L450.8,1293.6L453.2,1293.5L455.6,1293.4L458.0,1293.3L460.4,1293.1L462.8,1293.0L465.2,1292.9L467.6,1292.7L469.9,1292.6L472.3,1292.5L474.7,1292.3L477.1,1292.2L479.5,1292.1L481.9,1291.9L484.3,1291.8L486.7,1291.6L489.1,1291.5L491.5,1291.4L493.9,1291.2L496.3,1291.1L498.7,1291.0L501.1,1290.8L503.4,1290.7L505.8,1290.5L508.2,1290.4L510.6,1290.3L513.0,1290.1L515.4,1290.0L517.8,1289.9L520.2,1289.7L522.6,1289.6L525.0,1289.4L527.4,1289.3L529.8,1289.2L532.2,1289.0L534.6,1288.9L536.9,1288.7L539.3,1288.6L541.7,1288.4L544.1,1288.3L546.5,1288.2L548.9,1288.0L551.3,1287.9L553.7,1287.7L556.1,1287.6L558.5,1287.5L560.9,1287.3L563.3,1287.2L565.7,1287.0L568.1,1286.9L570.5,1286.7L572.8,1286.6L575.2,1286.5L577.6,1286.3L580.0,1286.2L582.4,1286.0L584.8,1285.9L587.2,1285.7L589.6,1285.6L592.0,1285.5L594.4,1285.3L596.8,1285.2L599.2,1285.0L601.6,1284.9L604.0,1284.7L606.3,1284.6L608.7,1284.5L611.1,1284.3L613.5,1284.2L615.9,1284.0L618.3,1283.9L620.7,1283.7L623.1,1283.6L625.5,1283.4L627.9,1283.3L630.3,1283.2L632.7,1283.0L635.1,1282.9L637.5,1282.7L639.8,1282.6L642.2,1282.4L644.6,1282.3L647.0,1282.1L649.4,1282.0L651.8,1281.9L654.2,1281.7L656.6,1281.6L659.0,1281.4L661.4,1281.3L663.8,1281.1L666.2,1281.0L668.6,1280.8L671.0,1280.7L673.3,1280.6L675.7,1280.4L678.1,1280.3L680.5,1280.1L682.9,1280.0L685.3,1279.8L687.7,1279.7L690.1,1279.5L692.5,1279.4L694.9,1279.3L697.3,1279.1L699.7,1279.0L702.1,1278.8L704.5,1278.7L706.9,1278.5L709.2,1278.4L711.6,1278.2L714.0,1278.1L716.4,1277.9L718.8,1277.8L721.2,1277.7L723.6,1277.5L726.0,1277.4L728.4,1277.2L730.8,1277.1L733.2,1276.9L735.6,1276.8L738.0,1276.6L740.4,1276.5L742.7,1276.4L745.1,1276.2L747.5,1276.1L749.9,1275.9L752.3,1275.8L754.7,1275.6L757.1,1275.5L759.5,1275.3L761.9,1275.2L764.3,1275.0L766.7,1274.9L769.1,1274.8L771.5,1274.6L773.9,1274.5L776.2,1274.3L778.6,1274.2L781.0,1274.0L783.4,1273.9L785.8,1273.7L788.2,1273.6L790.6,1273.4L793.0,1273.3L795.4,1273.2L797.8,1273.0L800.2,1272.9L802.6,1272.7L805.0,1272.6L807.4,1272.4L809.8,1272.3L812.1,1272.1L814.5,1272.0L816.9,1271.8L819.3,1271.7L821.7,1271.5L824.1,1271.4L826.5,1271.3L828.9,1271.1L831.3,1271.0L833.7,1270.8L836.1,1270.7L838.5,1270.5L840.9,1270.4L843.3,1270.2L845.6,1270.1L848.0,1269.9L850.4,1269.8L852.8,1269.7L855.2,1269.5L857.6,1269.4L860.0,1269.2L862.4,1269.1L864.8,1268.9L867.2,1268.8L869.6,1268.6L872.0,1268.5L874.4,1268.3L876.8,1268.2L879.1,1268.1L881.5,1267.9L883.9,1267.8L886.3,1267.6L888.7,1267.5L891.1,1267.3L893.5,1267.2L895.9,1267.0L898.3,1266.9L900.7,1266.7L903.1,1266.6L905.5,1266.4L907.9,1266.3L910.3,1266.2L912.6,1266.0L915.0,1265.9L917.4,1265.7L919.8,1265.6L922.2,1265.4L924.6,1265.3L927.0,1265.1L929.4,1265.0L931.8,1264.8L934.2,1264.7L936.6,1264.6L939.0,1264.4L941.4,1264.3L943.8,1264.1L946.2,1264.0L948.5,1263.8L950.9,1263.7L953.3,1263.5L955.7,1263.4L958.1,1263.2L960.5,1263.1L962.9,1262.9L965.3,1262.8L967.7,1262.7L970.1,1262.5L972.5,1262.4L974.9,1262.2L977.3,1262.1L979.7,1261.9L982.0,1261.8L984.4,1261.6L986.8,1261.5L989.2,1261.3L991.6,1261.2L994.0,1261.0L996.4,1260.9L998.8,1260.8L1001.2,1260.6L1003.6,1260.5L1006.0,1260.3L1008.4,1260.2L1010.8,1260.0L1013.2,1259.9L1015.5,1259.7L1017.9,1259.6L1020.3,1259.4L1022.7,1259.3L1025.1,1259.2L1027.5,1259.0L1029.9,1258.9L1032.3,1258.7L1034.7,1258.6L1037.1,1258.4L1039.5,1258.3L1041.9,1258.1L1044.3,1258.0L1046.7,1257.8L1049.0,1257.7L1051.4,1257.5L1053.8,1257.4L1056.2,1257.3L1058.6,1257.1L1061.0,1257.0L1063.4,1256.8L1065.8,1256.7L1068.2,1256.5L1070.6,1256.4L1073.0,1256.2L1075.4,1256.1L1077.8,1255.9L1080.2,1255.8L1082.6,1255.6L1084.9,1255.5L1087.3,1255.4L1089.7,1255.2L1092.1,1255.1L1094.5,1254.9L1096.9,1254.8L1099.3,1254.6L1101.7,1254.5L1104.1,1254.3L1106.5,1254.2L1108.9,1254.0L1111.3,1253.9L1113.7,1253.7L1116.1,1253.6L1118.4,1253.5L1120.8,1253.3L1123.2,1253.2L1125.6,1253.0L1128.0,1252.9L1130.4,1252.7L1132.8,1252.6L1135.2,1252.4L1137.6,1252.3L1140.0,1252.1L1142.4,1252.0L1144.8,1251.8L1147.2,1251.7L1149.6,1251.6L1151.9,1251.4L1154.3,1251.3L1156.7,1251.1L1159.1,1251.0L1161.5,1250.8L1163.9,1250.7L1166.3,1250.5L1168.7,1250.4L1171.1,1250.2L1173.5,1250.1L1175.9,1249.9L1178.3,1249.8L1180.7,1249.7L1183.1,1249.5L1185.5,1249.4L1187.8,1249.2L1190.2,1249.1L1192.6,1248.9L1195.0,1248.8L1197.4,1248.6L1199.8,1248.5L1202.2,1248.3L1204.6,1248.2L1207.0,1248.0L1209.4,1247.9L1211.8,1247.8L1214.2,1247.6L1216.6,1247.5L1219.0,1247.3L1221.3,1247.2L1223.7,1247.0L1226.1,1246.9L1228.5,1246.7L1230.9,1246.6L1233.3,1246.4L1235.7,1246.3L1238.1,1246.1L1240.5,1246.0L1242.9,1245.9L1245.3,1245.7L1247.7,1245.6L1250.1,1245.4L1252.5,1245.3L1254.8,1245.1L1257.2,1245.0L1259.6,1244.8L1262.0,1244.7L1264.4,1244.5L1266.8,1244.4L1269.2,1244.2L1271.6,1244.1L1274.0,1244.0L1276.4,1243.8L1278.8,1243.7L1281.2,1243.5L1283.6,1243.4L1286.0,1243.2L1288.3,1243.1L1290.7,1242.9L1293.1,1242.8L1295.5,1242.6L1297.9,1242.5L1300.3,1242.4L1302.7,1242.2L1305.1,1242.1L1307.5,1241.9L1309.9,1241.8L1312.3,1241.6L1314.7,1241.5L1317.1,1241.3L1319.5,1241.2L1321.9,1241.0L1324.2,1240.9L1326.6,1240.7L1329.0,1240.6L1331.4,1240.5L1333.8,1240.3L1336.2,1240.2L1338.6,1240.0L1341.0,1239.9L1343.4,1239.7L1345.8,1239.6L1348.2,1239.4L1350.6,1239.3L1353.0,1239.1L1355.4,1239.0L1357.7,1238.8L1360.1,1238.7L1362.5,1238.6L1364.9,1238.4L1367.3,1238.3L1369.7,1238.1L1372.1,1238.0L1374.5,1237.8L1376.9,1237.7L1379.3,1237.5L1381.7,1237.4L1384.1,1237.2L1386.5,1237.1L1388.9,1236.9L1391.2,1236.8L1393.6,1236.7L1396.0,1236.5L1398.4,1236.4L1400.8,1236.2L1403.2,1236.1L1405.6,1235.9L1408.0,1235.8" stroke="#8000ff" stroke-width="6.4" fill="none" stroke-linejoin="round"/><path d="M211.5,1306.6L213.9,1306.4L216.3,1306.1L218.7,1305.9L221.1,1305.7L223.5,1305.5L225.9,1305.3L228.3,1305.1L230.6,1304.8L233.0,1304.6L235.4,1304.4L237.8,1304.1L240.2,1303.9L242.6,1303.6L245.0,1303.4L247.4,1303.1L249.8,1302.9L252.2,1302.6L254.6,1302.3L257.0,1302.1L259.4,1301.8L261.8,1301.5L264.1,1301.2L266.5,1300.9L268.9,1300.6L271.3,1300.2L273.7,1299.9L276.1,1299.6L278.5,1299.2L280.9,1298.8L283.3,1298.4L285.7,1298.0L288.1,1297.6L290.5,1297.2L292.9,1296.7L295.3,1296.2L297.6,1295.6L300.0,1295.1L302.4,1294.5L304.8,1293.8L307.2,1293.1L309.6,1292.3L312.0,1291.4L314.4,1290.5L316.8,1289.5L319.2,1288.4L321.6,1287.1L324.0,1285.8L326.4,1284.3L328.8,1282.6L331.1,1280.8L333.5,1278.8L335.9,1276.6L338.3,1274.2L340.7,1271.6L343.1,1268.8L345.5,1265.7L347.9,1262.4L350.3,1258.8L352.7,1255.0L355.1,1250.9L357.5,1246.6L359.9,1242.2L362.3,1237.5L364.7,1232.6L367.0,1227.7L369.4,1222.7L371.8,1217.7L374.2,1212.7L376.6,1208.0L379.0,1203.5L381.4,1199.4L383.8,1195.9L386.2,1192.9L388.6,1190.8L391.0,1189.4L393.4,1188.9L395.8,1189.3L398.2,1190.4L400.5,1192.4L402.9,1195.0L405.3,1198.3L407.7,1202.0L410.1,1206.1L412.5,1210.4L414.9,1214.9L417.3,1219.5L419.7,1224.1L422.1,1228.6L424.5,1233.0L426.9,1237.3L429.3,1241.4L431.7,1245.3L434.0,1249.0L436.4,1252.5L438.8,1255.8L441.2,1258.8L443.6,1261.6L446.0,1264.2L448.4,1266.5L450.8,1268.6L453.2,1270.6L455.6,1272.3L458.0,1273.9L460.4,1275.3L462.8,1276.5L465.2,1277.6L467.6,1278.6L469.9,1279.5L472.3,1280.3L474.7,1280.9L477.1,1281.5L479.5,1282.1L481.9,1282.5L484.3,1282.9L486.7,1283.3L489.1,1283.6L491.5,1283.8L493.9,1284.1L496.3,1284.3L498.7,1284.4L501.1,1284.6L503.4,1284.7L505.8,1284.8L508.2,1284.9L510.6,1285.0L513.0,1285.1L515.4,1285.1L517.8,1285.1L520.2,1285.2L522.6,1285.2L525.0,1285.2L527.4,1285.2L529.8,1285.2L532.2,1285.2L534.6,1285.2L536.9,1285.2L539.3,1285.1L541.7,1285.1L544.1,1285.1L546.5,1285.0L548.9,1285.0L551.3,1284.9L553.7,1284.9L556.1,1284.8L558.5,1284.7L560.9,1284.7L563.3,1284.6L565.7,1284.5L568.1,1284.5L570.5,1284.4L572.8,1284.3L575.2,1284.2L577.6,1284.1L580.0,1284.0L582.4,1284.0L584.8,1283.9L587.2,1283.8L589.6,1283.7L592.0,1283.6L594.4,1283.5L596.8,1283.4L599.2,1283.3L601.6,1283.2L604.0,1283.1L606.3,1283.0L608.7,1282.9L611.1,1282.7L613.5,1282.6L615.9,1282.5L618.3,1282.4L620.7,1282.3L623.1,1282.2L625.5,1282.1L627.9,1282.0L630.3,1281.8L632.7,1281.7L635.1,1281.6L637.5,1281.5L639.8,1281.4L642.2,1281.2L644.6,1281.1L647.0,1281.0L649.4,1280.9L651.8,1280.8L654.2,1280.6L656.6,1280.5L659.0,1280.4L661.4,1280.3L663.8,1280.1L666.2,1280.0L668.6,1279.9L671.0,1279.7L673.3,1279.6L675.7,1279.5L678.1,1279.4L680.5,1279.2L682.9,1279.1L685.3,1279.0L687.7,1278.8L690.1,1278.7L692.5,1278.6L694.9,1278.4L697.3,1278.3L699.7,1278.2L702.1,1278.0L704.5,1277.9L706.9,1277.8L709.2,1277.6L711.6,1277.5L714.0,1277.4L716.4,1277.2L718.8,1277.1L721.2,1277.0L723.6,1276.8L726.0,1276.7L728.4,1276.6L730.8,1276.4L733.2,1276.3L735.6,1276.2L738.0,1276.0L740.4,1275.9L742.7,1275.8L745.1,1275.6L747.5,1275.5L749.9,1275.3L752.3,1275.2L754.7,1275.1L757.1,1274.9L759.5,1274.8L761.9,1274.7L764.3,1274.5L766.7,1274.4L769.1,1274.2L771.5,1274.1L773.9,1274.0L776.2,1273.8L778.6,1273.7L781.0,1273.5L783.4,1273.4L785.8,1273.3L788.2,1273.1L790.6,1273.0L793.0,1272.8L795.4,1272.7L797.8,1272.6L800.2,1272.4L802.6,1272.3L805.0,1272.1L807.4,1272.0L809.8,1271.9L812.1,1271.7L814.5,1271.6L816.9,1271.4L819.3,1271.3L821.7,1271.2L824.1,1271.0L826.5,1270.9L828.9,1270.7L831.3,1270.6L833.7,1270.4L836.1,1270.3L838.5,1270.2L840.9,1270.0L843.3,1269.9L845.6,1269.7L848.0,1269.6L850.4,1269.5L852.8,1269.3L855.2,1269.2L857.6,1269.0L860.0,1268.9L862.4,1268.7L864.8,1268.6L867.2,1268.5L869.6,1268.3L872.0,1268.2L874.4,1268.0L876.8,1267.9L879.1,1267.7L881.5,1267.6L883.9,1267.5L886.3,1267.3L888.7,1267.2L891.1,1267.0L893.5,1266.9L895.9,1266.7L898.3,1266.6L900.7,1266.5L903.1,1266.3L905.5,1266.2L907.9,1266.0L910.3,1265.9L912.6,1265.7L915.0,1265.6L917.4,1265.5L919.8,1265.3L922.2,1265.2L924.6,1265.0L927.0,1264.9L929.4,1264.7L931.8,1264.6L934.2,1264.5L936.6,1264.3L939.0,1264.2L941.4,1264.0L943.8,1263.9L946.2,1263.7L948.5,1263.6L950.9,1263.4L953.3,1263.3L955.7,1263.2L958.1,1263.0L960.5,1262.9L962.9,1262.7L965.3,1262.6L967.7,1262.4L970.1,1262.3L972.5,1262.1L974.9,1262.0L977.3,1261.9L979.7,1261.7L982.0,1261.6L984.4,1261.4L986.8,1261.3L989.2,1261.1L991.6,1261.0L994.0,1260.9L996.4,1260.7L998.8,1260.6L1001.2,1260.4L1003.6,1260.3L1006.0,1260.1L1008.4,1260.0L1010.8,1259.8L1013.2,1259.7L1015.5,1259.6L1017.9,1259.4L1020.3,1259.3L1022.7,1259.1L1025.1,1259.0L1027.5,1258.8L1029.9,1258.7L1032.3,1258.5L1034.7,1258.4L1037.1,1258.2L1039.5,1258.1L1041.9,1258.0L1044.3,1257.8L1046.7,1257.7L1049.0,1257.5L1051.4,1257.4L1053.8,1257.2L1056.2,1257.1L1058.6,1256.9L1061.0,1256.8L1063.4,1256.7L1065.8,1256.5L1068.2,1256.4L1070.6,1256.2L1073.0,1256.1L1075.4,1255.9L1077.8,1255.8L1080.2,1255.6L1082.6,1255.5L1084.9,1255.4L1087.3,1255.2L1089.7,1255.1L1092.1,1254.9L1094.5,1254.8L1096.9,1254.6L1099.3,1254.5L1101.7,1254.3L1104.1,1254.2L1106.5,1254.0L1108.9,1253.9L1111.3,1253.8L1113.7,1253.6L1116.1,1253.5L1118.4,1253.3L1120.8,1253.2L1123.2,1253.0L1125.6,1252.9L1128.0,1252.7L1130.4,1252.6L1132.8,1252.4L1135.2,1252.3L1137.6,1252.2L1140.0,1252.0L1142.4,1251.9L1144.8,1251.7L1147.2,1251.6L1149.6,1251.4L1151.9,1251.3L1154.3,1251.1L1156.7,1251.0L1159.1,1250.9L1161.5,1250.7L1163.9,1250.6L1166.3,1250.4L1168.7,1250.3L1171.1,1250.1L1173.5,1250.0L1175.9,1249.8L1178.3,1249.7L1180.7,1249.5L1183.1,1249.4L1185.5,1249.3L1187.8,1249.1L1190.2,1249.0L1192.6,1248.8L1195.0,1248.7L1197.4,1248.5L1199.8,1248.4L1202.2,1248.2L1204.6,1248.1L1207.0,1247.9L1209.4,1247.8L1211.8,1247.7L1214.2,1247.5L1216.6,1247.4L1219.0,1247.2L1221.3,1247.1L1223.7,1246.9L1226.1,1246.8L1228.5,1246.6L1230.9,1246.5L1233.3,1246.3L1235.7,1246.2L1238.1,1246.1L1240.5,1245.9L1242.9,1245.8L1245.3,1245.6L1247.7,1245.5L1250.1,1245.3L1252.5,1245.2L1254.8,1245.0L1257.2,1244.9L1259.6,1244.7L1262.0,1244.6L1264.4,1244.4L1266.8,1244.3L1269.2,1244.2L1271.6,1244.0L1274.0,1243.9L1276.4,1243.7L1278.8,1243.6L1281.2,1243.4L1283.6,1243.3L1286.0,1243.1L1288.3,1243.0L1290.7,1242.8L1293.1,1242.7L1295.5,1242.6L1297.9,1242.4L1300.3,1242.3L1302.7,1242.1L1305.1,1242.0L1307.5,1241.8L1309.9,1241.7L1312.3,1241.5L1314.7,1241.4L1317.1,1241.2L1319.5,1241.1L1321.9,1241.0L1324.2,1240.8L1326.6,1240.7L1329.0,1240.5L1331.4,1240.4L1333.8,1240.2L1336.2,1240.1L1338.6,1239.9L1341.0,1239.8L1343.4,1239.6L1345.8,1239.5L1348.2,1239.4L1350.6,1239.2L1353.0,1239.1L1355.4,1238.9L1357.7,1238.8L1360.1,1238.6L1362.5,1238.5L1364.9,1238.3L1367.3,1238.2L1369.7,1238.0L1372.1,1237.9L1374.5,1237.7L1376.9,1237.6L1379.3,1237.5L1381.7,1237.3L1384.1,1237.2L1386.5,1237.0L1388.9,1236.9L1391.2,1236.7L1393.6,1236.6L1396.0,1236.4L1398.4,1236.3L1400.8,1236.1L1403.2,1236.0L1405.6,1235.9L1408.0,1235.7" stroke="#000080" stroke-width="6.4" fill="none" stroke-linejoin="round"/><path d="M211.5,1308.8L213.9,1308.6L216.3,1308.5L218.7,1308.3L221.1,1308.2L223.5,1308.0L225.9,1307.9L228.3,1307.7L230.6,1307.6L233.0,1307.4L235.4,1307.3L237.8,1307.1L240.2,1307.0L242.6,1306.8L245.0,1306.7L247.4,1306.5L249.8,1306.4L252.2,1306.2L254.6,1306.1L257.0,1305.9L259.4,1305.8L261.8,1305.6L264.1,1305.5L266.5,1305.3L268.9,1305.2L271.3,1305.0L273.7,1304.9L276.1,1304.7L278.5,1304.6L280.9,1304.4L283.3,1304.2L285.7,1304.1L288.1,1303.9L290.5,1303.8L292.9,1303.6L295.3,1303.5L297.6,1303.3L300.0,1303.2L302.4,1303.0L304.8,1302.9L307.2,1302.7L309.6,1302.6L312.0,1302.4L314.4,1302.2L316.8,1302.1L319.2,1301.9L321.6,1301.8L324.0,1301.6L326.4,1301.5L328.8,1301.3L331.1,1301.1L333.5,1301.0L335.9,1300.8L338.3,1300.7L340.7,1300.5L343.1,1300.3L345.5,1300.2L347.9,1300.0L350.3,1299.8L352.7,1299.7L355.1,1299.5L357.5,1299.3L359.9,1299.2L362.3,1299.0L364.7,1298.8L367.0,1298.6L369.4,1298.5L371.8,1298.3L374.2,1298.1L376.6,1297.9L379.0,1297.7L381.4,1297.6L383.8,1297.4L386.2,1297.2L388.6,1297.0L391.0,1296.8L393.4,1296.6L395.8,1296.4L398.2,1296.1L400.5,1295.9L402.9,1295.7L405.3,1295.5L407.7,1295.2L410.1,1295.0L412.5,1294.7L414.9,1294.4L417.3,1294.1L419.7,1293.8L422.1,1293.5L424.5,1293.1L426.9,1292.6L429.3,1292.1L431.7,1291.5L434.0,1290.7L436.4,1289.8L438.8,1288.7L441.2,1287.4L443.6,1285.8L446.0,1283.9L448.4,1281.6L450.8,1278.8L453.2,1275.6L455.6,1272.0L458.0,1267.8L460.4,1263.2L462.8,1258.2L465.2,1252.8L467.6,1247.1L469.9,1241.4L472.3,1235.7L474.7,1230.3L477.1,1225.5L479.5,1221.4L481.9,1218.3L484.3,1216.5L486.7,1216.1L489.1,1217.2L491.5,1220.0L493.9,1224.0L496.3,1229.1L498.7,1234.7L501.1,1240.7L503.4,1246.7L505.8,1252.5L508.2,1257.9L510.6,1262.9L513.0,1267.4L515.4,1271.2L517.8,1274.5L520.2,1277.2L522.6,1279.4L525.0,1281.2L527.4,1282.5L529.8,1283.6L532.2,1284.4L534.6,1285.0L536.9,1285.4L539.3,1285.7L541.7,1285.9L544.1,1286.0L546.5,1286.1L548.9,1286.1L551.3,1286.1L553.7,1286.1L556.1,1286.1L558.5,1286.1L560.9,1286.0L563.3,1286.0L565.7,1285.9L568.1,1285.8L570.5,1285.8L572.8,1285.7L575.2,1285.6L577.6,1285.5L580.0,1285.4L582.4,1285.3L584.8,1285.2L587.2,1285.1L589.6,1285.0L592.0,1284.9L594.4,1284.8L596.8,1284.6L599.2,1284.5L601.6,1284.4L604.0,1284.3L606.3,1284.2L608.7,1284.0L611.1,1283.9L613.5,1283.8L615.9,1283.7L618.3,1283.5L620.7,1283.4L623.1,1283.3L625.5,1283.1L627.9,1283.0L630.3,1282.9L632.7,1282.7L635.1,1282.6L637.5,1282.5L639.8,1282.3L642.2,1282.2L644.6,1282.1L647.0,1281.9L649.4,1281.8L651.8,1281.7L654.2,1281.5L656.6,1281.4L659.0,1281.3L661.4,1281.1L663.8,1281.0L666.2,1280.8L668.6,1280.7L671.0,1280.6L673.3,1280.4L675.7,1280.3L678.1,1280.1L680.5,1280.0L682.9,1279.9L685.3,1279.7L687.7,1279.6L690.1,1279.4L692.5,1279.3L694.9,1279.2L697.3,1279.0L699.7,1278.9L702.1,1278.7L704.5,1278.6L706.9,1278.4L709.2,1278.3L711.6,1278.2L714.0,1278.0L716.4,1277.9L718.8,1277.7L721.2,1277.6L723.6,1277.4L726.0,1277.3L728.4,1277.2L730.8,1277.0L733.2,1276.9L735.6,1276.7L738.0,1276.6L740.4,1276.4L742.7,1276.3L745.1,1276.2L747.5,1276.0L749.9,1275.9L752.3,1275.7L754.7,1275.6L757.1,1275.4L759.5,1275.3L761.9,1275.1L764.3,1275.0L766.7,1274.9L769.1,1274.7L771.5,1274.6L773.9,1274.4L776.2,1274.3L778.6,1274.1L781.0,1274.0L783.4,1273.8L785.8,1273.7L788.2,1273.6L790.6,1273.4L793.0,1273.3L795.4,1273.1L797.8,1273.0L800.2,1272.8L802.6,1272.7L805.0,1272.5L807.4,1272.4L809.8,1272.3L812.1,1272.1L814.5,1272.0L816.9,1271.8L819.3,1271.7L821.7,1271.5L824.1,1271.4L826.5,1271.2L828.9,1271.1L831.3,1271.0L833.7,1270.8L836.1,1270.7L838.5,1270.5L840.9,1270.4L843.3,1270.2L845.6,1270.1L848.0,1269.9L850.4,1269.8L852.8,1269.6L855.2,1269.5L857.6,1269.4L860.0,1269.2L862.4,1269.1L864.8,1268.9L867.2,1268.8L869.6,1268.6L872.0,1268.5L874.4,1268.3L876.8,1268.2L879.1,1268.0L881.5,1267.9L883.9,1267.8L886.3,1267.6L888.7,1267.5L891.1,1267.3L893.5,1267.2L895.9,1267.0L898.3,1266.9L900.7,1266.7L903.1,1266.6L905.5,1266.4L907.9,1266.3L910.3,1266.2L912.6,1266.0L915.0,1265.9L917.4,1265.7L919.8,1265.6L922.2,1265.4L924.6,1265.3L927.0,1265.1L929.4,1265.0L931.8,1264.8L934.2,1264.7L936.6,1264.5L939.0,1264.4L941.4,1264.3L943.8,1264.1L946.2,1264.0L948.5,1263.8L950.9,1263.7L953.3,1263.5L955.7,1263.4L958.1,1263.2L960.5,1263.1L962.9,1262.9L965.3,1262.8L967.7,1262.7L970.1,1262.5L972.5,1262.4L974.9,1262.2L977.3,1262.1L979.7,1261.9L982.0,1261.8L984.4,1261.6L986.8,1261.5L989.2,1261.3L991.6,1261.2L994.0,1261.0L996.4,1260.9L998.8,1260.8L1001.2,1260.6L1003.6,1260.5L1006.0,1260.3L1008.4,1260.2L1010.8,1260.0L1013.2,1259.9L1015.5,1259.7L1017.9,1259.6L1020.3,1259.4L1022.7,1259.3L1025.1,1259.2L1027.5,1259.0L1029.9,1258.9L1032.3,1258.7L1034.7,1258.6L1037.1,1258.4L1039.5,1258.3L1041.9,1258.1L1044.3,1258.0L1046.7,1257.8L1049.0,1257.7L1051.4,1257.5L1053.8,1257.4L1056.2,1257.3L1058.6,1257.1L1061.0,1257.0L1063.4,1256.8L1065.8,1256.7L1068.2,1256.5L1070.6,1256.4L1073.0,1256.2L1075.4,1256.1L1077.8,1255.9L1080.2,1255.8L1082.6,1255.6L1084.9,1255.5L1087.3,1255.4L1089.7,1255.2L1092.1,1255.1L1094.5,1254.9L1096.9,1254.8L1099.3,1254.6L1101.7,1254.5L1104.1,1254.3L1106.5,1254.2L1108.9,1254.0L1111.3,1253.9L1113.7,1253.8L1116.1,1253.6L1118.4,1253.5L1120.8,1253.3L1123.2,1253.2L1125.6,1253.0L1128.0,1252.9L1130.4,1252.7L1132.8,1252.6L1135.2,1252.4L1137.6,1252.3L1140.0,1252.1L1142.4,1252.0L1144.8,1251.9L1147.2,1251.7L1149.6,1251.6L1151.9,1251.4L1154.3,1251.3L1156.7,1251.1L1159.1,1251.0L1161.5,1250.8L1163.9,1250.7L1166.3,1250.5L1168.7,1250.4L1171.1,1250.2L1173.5,1250.1L1175.9,1250.0L1178.3,1249.8L1180.7,1249.7L1183.1,1249.5L1185.5,1249.4L1187.8,1249.2L1190.2,1249.1L1192.6,1248.9L1195.0,1248.8L1197.4,1248.6L1199.8,1248.5L1202.2,1248.3L1204.6,1248.2L1207.0,1248.1L1209.4,1247.9L1211.8,1247.8L1214.2,1247.6L1216.6,1247.5L1219.0,1247.3L1221.3,1247.2L1223.7,1247.0L1226.1,1246.9L1228.5,1246.7L1230.9,1246.6L1233.3,1246.4L1235.7,1246.3L1238.1,1246.2L1240.5,1246.0L1242.9,1245.9L1245.3,1245.7L1247.7,1245.6L1250.1,1245.4L1252.5,1245.3L1254.8,1245.1L1257.2,1245.0L1259.6,1244.8L1262.0,1244.7L1264.4,1244.5L1266.8,1244.4L1269.2,1244.3L1271.6,1244.1L1274.0,1244.0L1276.4,1243.8L1278.8,1243.7L1281.2,1243.5L1283.6,1243.4L1286.0,1243.2L1288.3,1243.1L1290.7,1242.9L1293.1,1242.8L1295.5,1242.6L1297.9,1242.5L1300.3,1242.4L1302.7,1242.2L1305.1,1242.1L1307.5,1241.9L1309.9,1241.8L1312.3,1241.6L1314.7,1241.5L1317.1,1241.3L1319.5,1241.2L1321.9,1241.0L1324.2,1240.9L1326.6,1240.7L1329.0,1240.6L1331.4,1240.5L1333.8,1240.3L1336.2,1240.2L1338.6,1240.0L1341.0,1239.9L1343.4,1239.7L1345.8,1239.6L1348.2,1239.4L1350.6,1239.3L1353.0,1239.1L1355.4,1239.0L1357.7,1238.8L1360.1,1238.7L1362.5,1238.6L1364.9,1238.4L1367.3,1238.3L1369.7,1238.1L1372.1,1238.0L1374.5,1237.8L1376.9,1237.7L1379.3,1237.5L1381.7,1237.4L1384.1,1237.2L1386.5,1237.1L1388.9,1236.9L1391.2,1236.8L1393.6,1236.7L1396.0,1236.5L1398.4,1236.4L1400.8,1236.2L1403.2,1236.1L1405.6,1235.9L1408.0,1235.8" stroke="#800080" stroke-width="6.4" fill="none" stroke-linejoin="round"/><path d="M211.5,1287.0L213.9,1286.0L216.3,1285.0L218.7,1283.9L221.1,1282.8L223.5,1281.7L225.9,1280.5L228.3,1279.2L230.6,1277.8L233.0,1276.4L235.4,1274.7L237.8,1273.0L240.2,1271.1L242.6,1269.0L245.0,1266.7L247.4,1264.3L249.8,1261.6L252.2,1258.6L254.6,1255.5L257.0,1252.2L259.4,1248.7L261.8,1245.2L264.1,1241.7L266.5,1238.4L268.9,1235.1L271.3,1232.1L273.7,1229.4L276.1,1227.0L278.5,1225.1L280.9,1223.6L283.3,1222.7L285.7,1222.4L288.1,1222.7L290.5,1223.4L292.9,1224.6L295.3,1226.0L297.6,1227.8L300.0,1229.7L302.4,1231.8L304.8,1233.8L307.2,1235.9L309.6,1237.8L312.0,1239.6L314.4,1241.1L316.8,1242.4L319.2,1243.5L321.6,1244.3L324.0,1244.8L326.4,1245.1L328.8,1245.1L331.1,1244.8L333.5,1244.3L335.9,1243.4L338.3,1242.2L340.7,1240.7L343.1,1238.9L345.5,1236.7L347.9,1234.3L350.3,1231.5L352.7,1228.5L355.1,1225.3L357.5,1221.8L359.9,1218.0L362.3,1214.1L364.7,1210.1L367.0,1205.8L369.4,1201.4L371.8,1196.9L374.2,1192.3L376.6,1187.6L379.0,1183.0L381.4,1178.4L383.8,1174.3L386.2,1170.6L388.6,1167.5L391.0,1165.3L393.4,1164.1L395.8,1163.8L398.2,1164.4L400.5,1165.8L402.9,1167.9L405.3,1170.5L407.7,1173.5L410.1,1176.9L412.5,1180.6L414.9,1184.4L417.3,1188.4L419.7,1192.4L422.1,1196.4L424.5,1200.3L426.9,1204.0L429.3,1207.6L431.7,1210.8L434.0,1213.7L436.4,1216.2L438.8,1218.2L441.2,1219.6L443.6,1220.4L446.0,1220.5L448.4,1219.9L450.8,1218.5L453.2,1216.5L455.6,1213.9L458.0,1210.7L460.4,1207.0L462.8,1202.9L465.2,1198.4L467.6,1193.6L469.9,1188.8L472.3,1184.1L474.7,1179.6L477.1,1175.6L479.5,1172.1L481.9,1169.4L484.3,1167.7L486.7,1167.0L489.1,1167.5L491.5,1169.2L493.9,1171.9L496.3,1175.3L498.7,1179.3L501.1,1183.8L503.4,1188.6L505.8,1193.4L508.2,1198.2L510.6,1202.9L513.0,1207.2L515.4,1211.2L517.8,1214.6L520.2,1217.5L522.6,1220.0L525.0,1222.0L527.4,1223.6L529.8,1224.9L532.2,1225.8L534.6,1226.4L536.9,1226.8L539.3,1226.9L541.7,1226.8L544.1,1226.5L546.5,1226.1L548.9,1225.6L551.3,1225.0L553.7,1224.4L556.1,1223.7L558.5,1223.0L560.9,1222.3L563.3,1221.6L565.7,1220.8L568.1,1220.0L570.5,1219.2L572.8,1218.3L575.2,1217.5L577.6,1216.6L580.0,1215.6L582.4,1214.7L584.8,1213.7L587.2,1212.7L589.6,1211.7L592.0,1210.6L594.4,1209.5L596.8,1208.4L599.2,1207.3L601.6,1206.1L604.0,1205.0L606.3,1203.8L608.7,1202.6L611.1,1201.4L613.5,1200.2L615.9,1199.0L618.3,1197.7L620.7,1196.5L623.1,1195.3L625.5,1194.1L627.9,1192.9L630.3,1191.7L632.7,1190.5L635.1,1189.4L637.5,1188.2L639.8,1187.1L642.2,1186.0L644.6,1184.9L647.0,1183.9L649.4,1182.9L651.8,1181.9L654.2,1181.0L656.6,1180.1L659.0,1179.3L661.4,1178.5L663.8,1177.7L666.2,1177.0L668.6,1176.4L671.0,1175.8L673.3,1175.2L675.7,1174.8L678.1,1174.4L680.5,1174.0L682.9,1173.7L685.3,1173.5L687.7,1173.4L690.1,1173.3L692.5,1173.2L694.9,1173.2L697.3,1173.2L699.7,1173.3L702.1,1173.4L704.5,1173.6L706.9,1173.8L709.2,1174.0L711.6,1174.3L714.0,1174.5L716.4,1174.8L718.8,1175.1L721.2,1175.5L723.6,1175.8L726.0,1176.2L728.4,1176.5L730.8,1176.9L733.2,1177.2L735.6,1177.6L738.0,1178.0L740.4,1178.3L742.7,1178.6L745.1,1178.9L747.5,1179.3L749.9,1179.5L752.3,1179.8L754.7,1180.1L757.1,1180.3L759.5,1180.5L761.9,1180.7L764.3,1180.9L766.7,1181.0L769.1,1181.1L771.5,1181.2L773.9,1181.3L776.2,1181.3L778.6,1181.3L781.0,1181.3L783.4,1181.2L785.8,1181.1L788.2,1180.9L790.6,1180.7L793.0,1180.5L795.4,1180.2L797.8,1179.9L800.2,1179.6L802.6,1179.2L805.0,1178.7L807.4,1178.2L809.8,1177.7L812.1,1177.1L814.5,1176.4L816.9,1175.7L819.3,1175.0L821.7,1174.2L824.1,1173.3L826.5,1172.4L828.9,1171.4L831.3,1170.3L833.7,1169.2L836.1,1168.0L838.5,1166.8L840.9,1165.5L843.3,1164.1L845.6,1162.6L848.0,1161.1L850.4,1159.5L852.8,1157.8L855.2,1156.1L857.6,1154.2L860.0,1152.3L862.4,1150.3L864.8,1148.3L867.2,1146.1L869.6,1143.9L872.0,1141.6L874.4,1139.2L876.8,1136.7L879.1,1134.1L881.5,1131.4L883.9,1128.7L886.3,1125.8L888.7,1122.9L891.1,1119.8L893.5,1116.7L895.9,1113.5L898.3,1110.1L900.7,1106.7L903.1,1103.1L905.5,1099.5L907.9,1095.7L910.3,1091.9L912.6,1088.0L915.0,1084.2L917.4,1080.3L919.8,1076.5L922.2,1072.8L924.6,1069.2L927.0,1065.8L929.4,1062.5L931.8,1059.5L934.2,1056.7L936.6,1054.1L939.0,1051.9L941.4,1050.0L943.8,1048.5L946.2,1047.3L948.5,1046.4L950.9,1045.9L953.3,1045.7L955.7,1045.8L958.1,1046.2L960.5,1046.9L962.9,1047.8L965.3,1049.1L967.7,1050.5L970.1,1052.3L972.5,1054.2L974.9,1056.4L977.3,1058.7L979.7,1061.2L982.0,1063.9L984.4,1066.7L986.8,1069.7L989.2,1072.7L991.6,1075.9L994.0,1079.1L996.4,1082.3L998.8,1085.6L1001.2,1089.0L1003.6,1092.3L1006.0,1095.6L1008.4,1098.8L1010.8,1102.1L1013.2,1105.2L1015.5,1108.3L1017.9,1111.2L1020.3,1114.1L1022.7,1116.8L1025.1,1119.3L1027.5,1121.8L1029.9,1124.1L1032.3,1126.2L1034.7,1128.3L1037.1,1130.2L1039.5,1132.1L1041.9,1133.8L1044.3,1135.3L1046.7,1136.8L1049.0,1138.2L1051.4,1139.4L1053.8,1140.6L1056.2,1141.7L1058.6,1142.6L1061.0,1143.5L1063.4,1144.3L1065.8,1145.0L1068.2,1145.5L1070.6,1146.1L1073.0,1146.5L1075.4,1146.8L1077.8,1147.1L1080.2,1147.3L1082.6,1147.4L1084.9,1147.5L1087.3,1147.5L1089.7,1147.4L1092.1,1147.3L1094.5,1147.1L1096.9,1146.8L1099.3,1146.5L1101.7,1146.2L1104.1,1145.8L1106.5,1145.3L1108.9,1144.8L1111.3,1144.3L1113.7,1143.8L1116.1,1143.2L1118.4,1142.6L1120.8,1141.9L1123.2,1141.3L1125.6,1140.6L1128.0,1139.9L1130.4,1139.2L1132.8,1138.5L1135.2,1137.9L1137.6,1137.2L1140.0,1136.5L1142.4,1135.8L1144.8,1135.1L1147.2,1134.5L1149.6,1133.8L1151.9,1133.2L1154.3,1132.6L1156.7,1132.1L1159.1,1131.6L1161.5,1131.1L1163.9,1130.6L1166.3,1130.2L1168.7,1129.9L1171.1,1129.5L1173.5,1129.3L1175.9,1129.1L1178.3,1129.0L1180.7,1128.9L1183.1,1128.9L1185.5,1129.0L1187.8,1129.1L1190.2,1129.3L1192.6,1129.6L1195.0,1130.0L1197.4,1130.5L1199.8,1131.0L1202.2,1131.7L1204.6,1132.4L1207.0,1133.3L1209.4,1134.3L1211.8,1135.3L1214.2,1136.5L1216.6,1137.7L1219.0,1139.0L1221.3,1140.3L1223.7,1141.8L1226.1,1143.2L1228.5,1144.8L1230.9,1146.3L1233.3,1147.9L1235.7,1149.6L1238.1,1151.2L1240.5,1152.9L1242.9,1154.5L1245.3,1156.2L1247.7,1157.9L1250.1,1159.5L1252.5,1161.2L1254.8,1162.8L1257.2,1164.3L1259.6,1165.9L1262.0,1167.4L1264.4,1168.8L1266.8,1170.2L1269.2,1171.6L1271.6,1172.9L1274.0,1174.2L1276.4,1175.4L1278.8,1176.7L1281.2,1177.8L1283.6,1179.0L1286.0,1180.1L1288.3,1181.2L1290.7,1182.3L1293.1,1183.4L1295.5,1184.4L1297.9,1185.4L1300.3,1186.4L1302.7,1187.4L1305.1,1188.4L1307.5,1189.3L1309.9,1190.3L1312.3,1191.2L1314.7,1192.2L1317.1,1193.1L1319.5,1194.0L1321.9,1194.9L1324.2,1195.9L1326.6,1196.8L1329.0,1197.7L1331.4,1198.5L1333.8,1199.4L1336.2,1200.3L1338.6,1201.1L1341.0,1201.9L1343.4,1202.7L1345.8,1203.5L1348.2,1204.3L1350.6,1205.0L1353.0,1205.8L1355.4,1206.5L1357.7,1207.1L1360.1,1207.8L1362.5,1208.4L1364.9,1209.0L1367.3,1209.6L1369.7,1210.1L1372.1,1210.6L1374.5,1211.0L1376.9,1211.5L1379.3,1211.8L1381.7,1212.2L1384.1,1212.5L1386.5,1212.8L1388.9,1213.0L1391.2,1213.2L1393.6,1213.3L1396.0,1213.4L1398.4,1213.5L1400.8,1213.5L1403.2,1213.5L1405.6,1213.4L1408.0,1213.2" stroke="#ff0000" stroke-width="7.3" fill="none" stroke-linejoin="round"/><clipPath id="cpd"><rect x="135" y="1355" width="1322" height="434"/></clipPath><g fill="none" stroke="#767676" stroke-width="2.1" clip-path="url(#cpd)"><circle cx="131.0" cy="1684.3" r="9.5"/><circle cx="134.7" cy="1622.9" r="9.5"/><circle cx="138.4" cy="1692.4" r="9.5"/><circle cx="142.1" cy="1746.5" r="9.5"/><circle cx="145.8" cy="1678.1" r="9.5"/><circle cx="149.5" cy="1659.8" r="9.5"/><circle cx="153.2" cy="1700.8" r="9.5"/><circle cx="156.9" cy="1757.7" r="9.5"/><circle cx="160.6" cy="1701.8" r="9.5"/><circle cx="164.3" cy="1640.6" r="9.5"/><circle cx="168.0" cy="1672.4" r="9.5"/><circle cx="171.7" cy="1663.2" r="9.5"/><circle cx="175.4" cy="1670.1" r="9.5"/><circle cx="179.1" cy="1685.6" r="9.5"/><circle cx="182.8" cy="1537.4" r="9.5"/><circle cx="186.5" cy="1722.6" r="9.5"/><circle cx="190.2" cy="1695.8" r="9.5"/><circle cx="193.9" cy="1619.9" r="9.5"/><circle cx="197.6" cy="1637.5" r="9.5"/><circle cx="201.3" cy="1631.5" r="9.5"/><circle cx="205.0" cy="1621.5" r="9.5"/><circle cx="208.7" cy="1637.8" r="9.5"/><circle cx="212.4" cy="1648.6" r="9.5"/><circle cx="216.1" cy="1598.1" r="9.5"/><circle cx="219.8" cy="1656.8" r="9.5"/><circle cx="223.5" cy="1648.1" r="9.5"/><circle cx="227.2" cy="1664.6" r="9.5"/><circle cx="230.9" cy="1661.5" r="9.5"/><circle cx="234.6" cy="1620.3" r="9.5"/><circle cx="238.3" cy="1600.6" r="9.5"/><circle cx="242.0" cy="1599.1" r="9.5"/><circle cx="245.7" cy="1659.3" r="9.5"/><circle cx="249.4" cy="1650.2" r="9.5"/><circle cx="253.1" cy="1752.1" r="9.5"/><circle cx="256.8" cy="1681.0" r="9.5"/><circle cx="260.5" cy="1691.5" r="9.5"/><circle cx="264.2" cy="1631.0" r="9.5"/><circle cx="267.9" cy="1578.7" r="9.5"/><circle cx="271.6" cy="1585.3" r="9.5"/><circle cx="275.3" cy="1623.9" r="9.5"/><circle cx="279.0" cy="1674.8" r="9.5"/><circle cx="282.7" cy="1700.3" r="9.5"/><circle cx="286.4" cy="1650.2" r="9.5"/><circle cx="290.1" cy="1661.8" r="9.5"/><circle cx="293.8" cy="1617.9" r="9.5"/><circle cx="297.5" cy="1631.1" r="9.5"/><circle cx="301.2" cy="1651.1" r="9.5"/><circle cx="304.9" cy="1657.6" r="9.5"/><circle cx="308.6" cy="1654.4" r="9.5"/><circle cx="312.3" cy="1709.4" r="9.5"/><circle cx="316.0" cy="1580.9" r="9.5"/><circle cx="319.7" cy="1590.9" r="9.5"/><circle cx="323.4" cy="1602.9" r="9.5"/><circle cx="327.1" cy="1658.5" r="9.5"/><circle cx="330.8" cy="1626.0" r="9.5"/><circle cx="334.5" cy="1579.5" r="9.5"/><circle cx="338.2" cy="1552.0" r="9.5"/><circle cx="341.9" cy="1666.0" r="9.5"/><circle cx="345.6" cy="1577.4" r="9.5"/><circle cx="349.3" cy="1669.8" r="9.5"/><circle cx="353.0" cy="1632.9" r="9.5"/><circle cx="356.7" cy="1580.7" r="9.5"/><circle cx="360.4" cy="1610.6" r="9.5"/><circle cx="364.1" cy="1604.0" r="9.5"/><circle cx="367.8" cy="1586.8" r="9.5"/><circle cx="371.5" cy="1623.2" r="9.5"/><circle cx="375.2" cy="1591.9" r="9.5"/><circle cx="378.9" cy="1561.1" r="9.5"/><circle cx="382.6" cy="1602.1" r="9.5"/><circle cx="386.3" cy="1603.4" r="9.5"/><circle cx="390.0" cy="1617.2" r="9.5"/><circle cx="393.7" cy="1628.3" r="9.5"/><circle cx="397.4" cy="1574.3" r="9.5"/><circle cx="401.1" cy="1552.9" r="9.5"/><circle cx="404.8" cy="1587.1" r="9.5"/><circle cx="408.5" cy="1595.7" r="9.5"/><circle cx="412.2" cy="1526.3" r="9.5"/><circle cx="415.9" cy="1618.5" r="9.5"/><circle cx="419.6" cy="1573.3" r="9.5"/><circle cx="423.3" cy="1538.0" r="9.5"/><circle cx="427.0" cy="1632.3" r="9.5"/><circle cx="430.7" cy="1568.5" r="9.5"/><circle cx="434.4" cy="1646.6" r="9.5"/><circle cx="438.1" cy="1543.0" r="9.5"/><circle cx="441.8" cy="1603.6" r="9.5"/><circle cx="445.5" cy="1625.3" r="9.5"/><circle cx="449.2" cy="1643.1" r="9.5"/><circle cx="452.9" cy="1606.3" r="9.5"/><circle cx="456.6" cy="1575.7" r="9.5"/><circle cx="460.3" cy="1592.7" r="9.5"/><circle cx="464.0" cy="1577.7" r="9.5"/><circle cx="467.7" cy="1551.5" r="9.5"/><circle cx="471.4" cy="1605.9" r="9.5"/><circle cx="475.1" cy="1745.7" r="9.5"/><circle cx="478.8" cy="1617.3" r="9.5"/><circle cx="482.5" cy="1554.9" r="9.5"/><circle cx="486.2" cy="1585.1" r="9.5"/><circle cx="489.9" cy="1571.3" r="9.5"/><circle cx="493.6" cy="1600.2" r="9.5"/><circle cx="497.3" cy="1491.4" r="9.5"/><circle cx="501.0" cy="1585.0" r="9.5"/><circle cx="504.7" cy="1516.1" r="9.5"/><circle cx="508.4" cy="1524.3" r="9.5"/><circle cx="512.1" cy="1580.7" r="9.5"/><circle cx="515.8" cy="1528.6" r="9.5"/><circle cx="519.5" cy="1488.3" r="9.5"/><circle cx="523.2" cy="1633.4" r="9.5"/><circle cx="526.9" cy="1584.1" r="9.5"/><circle cx="530.6" cy="1558.3" r="9.5"/><circle cx="534.3" cy="1576.5" r="9.5"/><circle cx="538.0" cy="1580.2" r="9.5"/><circle cx="541.7" cy="1651.7" r="9.5"/><circle cx="545.4" cy="1618.6" r="9.5"/><circle cx="549.1" cy="1563.0" r="9.5"/><circle cx="552.8" cy="1579.6" r="9.5"/><circle cx="556.5" cy="1557.9" r="9.5"/><circle cx="560.2" cy="1613.9" r="9.5"/><circle cx="563.9" cy="1662.5" r="9.5"/><circle cx="567.6" cy="1624.7" r="9.5"/><circle cx="571.3" cy="1643.8" r="9.5"/><circle cx="575.0" cy="1587.6" r="9.5"/><circle cx="578.7" cy="1597.6" r="9.5"/><circle cx="582.4" cy="1560.4" r="9.5"/><circle cx="586.1" cy="1625.4" r="9.5"/><circle cx="589.8" cy="1615.1" r="9.5"/><circle cx="593.5" cy="1615.2" r="9.5"/><circle cx="597.2" cy="1663.8" r="9.5"/><circle cx="600.9" cy="1608.6" r="9.5"/><circle cx="604.6" cy="1617.4" r="9.5"/><circle cx="608.3" cy="1599.5" r="9.5"/><circle cx="612.0" cy="1655.0" r="9.5"/><circle cx="615.7" cy="1630.9" r="9.5"/><circle cx="619.4" cy="1624.5" r="9.5"/><circle cx="623.1" cy="1636.7" r="9.5"/><circle cx="626.8" cy="1661.0" r="9.5"/><circle cx="630.5" cy="1621.7" r="9.5"/><circle cx="634.2" cy="1613.5" r="9.5"/><circle cx="637.9" cy="1618.7" r="9.5"/><circle cx="641.6" cy="1608.3" r="9.5"/><circle cx="645.3" cy="1626.2" r="9.5"/><circle cx="649.0" cy="1627.8" r="9.5"/><circle cx="652.7" cy="1637.9" r="9.5"/><circle cx="656.4" cy="1645.1" r="9.5"/><circle cx="660.1" cy="1653.2" r="9.5"/><circle cx="663.8" cy="1646.7" r="9.5"/><circle cx="667.5" cy="1612.7" r="9.5"/><circle cx="671.2" cy="1674.2" r="9.5"/><circle cx="674.9" cy="1666.6" r="9.5"/><circle cx="678.6" cy="1629.7" r="9.5"/><circle cx="682.3" cy="1614.3" r="9.5"/><circle cx="686.0" cy="1628.6" r="9.5"/><circle cx="689.7" cy="1669.2" r="9.5"/><circle cx="693.4" cy="1624.4" r="9.5"/><circle cx="697.1" cy="1590.9" r="9.5"/><circle cx="700.8" cy="1652.2" r="9.5"/><circle cx="704.5" cy="1585.7" r="9.5"/><circle cx="708.2" cy="1619.3" r="9.5"/><circle cx="711.9" cy="1604.3" r="9.5"/><circle cx="715.6" cy="1630.4" r="9.5"/><circle cx="719.3" cy="1607.7" r="9.5"/><circle cx="723.0" cy="1606.7" r="9.5"/><circle cx="726.7" cy="1622.8" r="9.5"/><circle cx="730.4" cy="1541.4" r="9.5"/><circle cx="734.1" cy="1667.2" r="9.5"/><circle cx="737.8" cy="1527.1" r="9.5"/><circle cx="741.5" cy="1636.2" r="9.5"/><circle cx="745.2" cy="1645.5" r="9.5"/><circle cx="748.9" cy="1618.5" r="9.5"/><circle cx="752.6" cy="1591.2" r="9.5"/><circle cx="756.3" cy="1625.2" r="9.5"/><circle cx="760.0" cy="1622.2" r="9.5"/><circle cx="763.7" cy="1488.2" r="9.5"/><circle cx="767.4" cy="1642.2" r="9.5"/><circle cx="771.1" cy="1680.9" r="9.5"/><circle cx="774.8" cy="1622.3" r="9.5"/><circle cx="778.5" cy="1542.2" r="9.5"/><circle cx="782.2" cy="1619.4" r="9.5"/><circle cx="785.9" cy="1590.3" r="9.5"/><circle cx="789.6" cy="1590.1" r="9.5"/><circle cx="793.3" cy="1571.9" r="9.5"/><circle cx="797.0" cy="1637.5" r="9.5"/><circle cx="800.7" cy="1669.4" r="9.5"/><circle cx="804.4" cy="1579.7" r="9.5"/><circle cx="808.1" cy="1576.7" r="9.5"/><circle cx="811.8" cy="1592.4" r="9.5"/><circle cx="815.5" cy="1595.2" r="9.5"/><circle cx="819.2" cy="1562.8" r="9.5"/><circle cx="822.9" cy="1653.1" r="9.5"/><circle cx="826.6" cy="1609.0" r="9.5"/><circle cx="830.3" cy="1578.8" r="9.5"/><circle cx="834.0" cy="1646.1" r="9.5"/><circle cx="837.7" cy="1581.4" r="9.5"/><circle cx="841.4" cy="1612.3" r="9.5"/><circle cx="845.1" cy="1564.1" r="9.5"/><circle cx="848.8" cy="1601.3" r="9.5"/><circle cx="852.5" cy="1547.7" r="9.5"/><circle cx="856.2" cy="1646.1" r="9.5"/><circle cx="859.9" cy="1551.2" r="9.5"/><circle cx="863.6" cy="1588.0" r="9.5"/><circle cx="867.3" cy="1546.4" r="9.5"/><circle cx="871.0" cy="1645.6" r="9.5"/><circle cx="874.7" cy="1571.5" r="9.5"/><circle cx="878.4" cy="1545.3" r="9.5"/><circle cx="882.1" cy="1577.8" r="9.5"/><circle cx="885.8" cy="1576.5" r="9.5"/><circle cx="889.5" cy="1545.8" r="9.5"/><circle cx="893.2" cy="1486.6" r="9.5"/><circle cx="896.9" cy="1557.5" r="9.5"/><circle cx="900.6" cy="1507.6" r="9.5"/><circle cx="904.3" cy="1551.1" r="9.5"/><circle cx="908.0" cy="1516.5" r="9.5"/><circle cx="911.7" cy="1560.5" r="9.5"/><circle cx="915.4" cy="1516.7" r="9.5"/><circle cx="919.1" cy="1455.8" r="9.5"/><circle cx="922.8" cy="1590.8" r="9.5"/><circle cx="926.5" cy="1491.4" r="9.5"/><circle cx="930.2" cy="1533.3" r="9.5"/><circle cx="933.9" cy="1479.3" r="9.5"/><circle cx="937.6" cy="1502.9" r="9.5"/><circle cx="941.3" cy="1511.3" r="9.5"/><circle cx="945.0" cy="1453.4" r="9.5"/><circle cx="948.7" cy="1508.7" r="9.5"/><circle cx="952.4" cy="1487.4" r="9.5"/><circle cx="956.1" cy="1475.2" r="9.5"/><circle cx="959.8" cy="1445.2" r="9.5"/><circle cx="963.5" cy="1549.9" r="9.5"/><circle cx="967.2" cy="1526.2" r="9.5"/><circle cx="970.9" cy="1498.9" r="9.5"/><circle cx="974.6" cy="1524.5" r="9.5"/><circle cx="978.3" cy="1514.1" r="9.5"/><circle cx="982.0" cy="1538.5" r="9.5"/><circle cx="985.7" cy="1586.8" r="9.5"/><circle cx="989.4" cy="1529.9" r="9.5"/><circle cx="993.1" cy="1527.0" r="9.5"/><circle cx="996.8" cy="1551.2" r="9.5"/><circle cx="1000.5" cy="1511.3" r="9.5"/><circle cx="1004.2" cy="1488.2" r="9.5"/><circle cx="1007.9" cy="1494.1" r="9.5"/><circle cx="1011.6" cy="1602.4" r="9.5"/><circle cx="1015.3" cy="1548.9" r="9.5"/><circle cx="1019.0" cy="1500.9" r="9.5"/><circle cx="1022.7" cy="1564.0" r="9.5"/><circle cx="1026.4" cy="1569.1" r="9.5"/><circle cx="1030.1" cy="1564.8" r="9.5"/><circle cx="1033.8" cy="1576.2" r="9.5"/><circle cx="1037.5" cy="1500.3" r="9.5"/><circle cx="1041.2" cy="1609.6" r="9.5"/><circle cx="1044.9" cy="1528.5" r="9.5"/><circle cx="1048.6" cy="1588.0" r="9.5"/><circle cx="1052.3" cy="1518.2" r="9.5"/><circle cx="1056.0" cy="1560.8" r="9.5"/><circle cx="1059.7" cy="1514.8" r="9.5"/><circle cx="1063.4" cy="1600.4" r="9.5"/><circle cx="1067.1" cy="1565.2" r="9.5"/><circle cx="1070.8" cy="1563.1" r="9.5"/><circle cx="1074.5" cy="1513.1" r="9.5"/><circle cx="1078.2" cy="1602.9" r="9.5"/><circle cx="1081.9" cy="1537.8" r="9.5"/><circle cx="1085.6" cy="1489.7" r="9.5"/><circle cx="1089.3" cy="1626.4" r="9.5"/><circle cx="1093.0" cy="1558.7" r="9.5"/><circle cx="1096.7" cy="1549.3" r="9.5"/><circle cx="1100.4" cy="1550.4" r="9.5"/><circle cx="1104.1" cy="1448.2" r="9.5"/><circle cx="1107.8" cy="1521.7" r="9.5"/><circle cx="1111.5" cy="1566.5" r="9.5"/><circle cx="1115.2" cy="1586.9" r="9.5"/><circle cx="1118.9" cy="1584.2" r="9.5"/><circle cx="1122.6" cy="1558.3" r="9.5"/><circle cx="1126.3" cy="1518.4" r="9.5"/><circle cx="1130.0" cy="1509.1" r="9.5"/><circle cx="1133.7" cy="1507.1" r="9.5"/><circle cx="1137.4" cy="1605.8" r="9.5"/><circle cx="1141.1" cy="1535.8" r="9.5"/><circle cx="1144.8" cy="1598.3" r="9.5"/><circle cx="1148.5" cy="1506.1" r="9.5"/><circle cx="1152.2" cy="1560.8" r="9.5"/><circle cx="1155.9" cy="1515.2" r="9.5"/><circle cx="1159.6" cy="1600.7" r="9.5"/><circle cx="1163.3" cy="1560.9" r="9.5"/><circle cx="1167.0" cy="1539.5" r="9.5"/><circle cx="1170.7" cy="1551.8" r="9.5"/><circle cx="1174.4" cy="1537.3" r="9.5"/><circle cx="1178.1" cy="1510.7" r="9.5"/><circle cx="1181.8" cy="1521.5" r="9.5"/><circle cx="1185.5" cy="1533.5" r="9.5"/><circle cx="1189.2" cy="1530.2" r="9.5"/><circle cx="1192.9" cy="1517.4" r="9.5"/><circle cx="1196.6" cy="1487.1" r="9.5"/><circle cx="1200.3" cy="1553.1" r="9.5"/><circle cx="1204.0" cy="1567.9" r="9.5"/><circle cx="1207.7" cy="1533.0" r="9.5"/><circle cx="1211.4" cy="1561.6" r="9.5"/><circle cx="1215.1" cy="1570.1" r="9.5"/><circle cx="1218.8" cy="1560.8" r="9.5"/><circle cx="1222.5" cy="1570.5" r="9.5"/><circle cx="1226.2" cy="1568.3" r="9.5"/><circle cx="1229.9" cy="1602.4" r="9.5"/><circle cx="1233.6" cy="1503.9" r="9.5"/><circle cx="1237.3" cy="1589.7" r="9.5"/><circle cx="1241.0" cy="1543.8" r="9.5"/><circle cx="1244.7" cy="1563.5" r="9.5"/><circle cx="1248.4" cy="1556.4" r="9.5"/><circle cx="1252.1" cy="1569.5" r="9.5"/><circle cx="1255.8" cy="1620.4" r="9.5"/><circle cx="1259.5" cy="1513.7" r="9.5"/><circle cx="1263.2" cy="1537.3" r="9.5"/><circle cx="1266.9" cy="1612.6" r="9.5"/><circle cx="1270.6" cy="1506.2" r="9.5"/><circle cx="1274.3" cy="1624.6" r="9.5"/><circle cx="1278.0" cy="1600.0" r="9.5"/><circle cx="1281.7" cy="1627.3" r="9.5"/><circle cx="1285.4" cy="1545.4" r="9.5"/><circle cx="1289.1" cy="1616.1" r="9.5"/><circle cx="1292.8" cy="1593.0" r="9.5"/><circle cx="1296.5" cy="1582.2" r="9.5"/><circle cx="1300.2" cy="1605.8" r="9.5"/><circle cx="1303.9" cy="1612.8" r="9.5"/><circle cx="1307.6" cy="1582.9" r="9.5"/><circle cx="1311.3" cy="1550.1" r="9.5"/><circle cx="1315.0" cy="1648.1" r="9.5"/><circle cx="1318.7" cy="1648.0" r="9.5"/><circle cx="1322.4" cy="1601.3" r="9.5"/><circle cx="1326.1" cy="1649.7" r="9.5"/><circle cx="1329.8" cy="1608.2" r="9.5"/><circle cx="1333.5" cy="1638.1" r="9.5"/><circle cx="1337.2" cy="1528.4" r="9.5"/><circle cx="1340.9" cy="1582.8" r="9.5"/><circle cx="1344.6" cy="1624.6" r="9.5"/><circle cx="1348.3" cy="1619.8" r="9.5"/><circle cx="1352.0" cy="1577.5" r="9.5"/><circle cx="1355.7" cy="1612.1" r="9.5"/><circle cx="1359.4" cy="1535.8" r="9.5"/><circle cx="1363.1" cy="1614.5" r="9.5"/><circle cx="1366.8" cy="1604.4" r="9.5"/><circle cx="1370.5" cy="1635.2" r="9.5"/><circle cx="1374.2" cy="1625.1" r="9.5"/><circle cx="1377.9" cy="1610.5" r="9.5"/><circle cx="1381.6" cy="1602.2" r="9.5"/><circle cx="1385.3" cy="1609.1" r="9.5"/><circle cx="1389.0" cy="1675.6" r="9.5"/><circle cx="1392.7" cy="1621.5" r="9.5"/><circle cx="1396.4" cy="1653.2" r="9.5"/><circle cx="1400.1" cy="1614.6" r="9.5"/><circle cx="1403.8" cy="1646.2" r="9.5"/><circle cx="1407.5" cy="1632.4" r="9.5"/><circle cx="1411.2" cy="1652.9" r="9.5"/><circle cx="1414.9" cy="1653.7" r="9.5"/><circle cx="1418.6" cy="1643.4" r="9.5"/><circle cx="1422.3" cy="1562.8" r="9.5"/><circle cx="1426.0" cy="1652.3" r="9.5"/><circle cx="1429.7" cy="1624.8" r="9.5"/><circle cx="1433.4" cy="1716.3" r="9.5"/><circle cx="1437.1" cy="1655.4" r="9.5"/><circle cx="1440.8" cy="1633.8" r="9.5"/><circle cx="1444.5" cy="1639.9" r="9.5"/><circle cx="1448.2" cy="1672.3" r="9.5"/><circle cx="1451.9" cy="1590.7" r="9.5"/><circle cx="1455.6" cy="1639.0" r="9.5"/></g><path d="M131.0,1737.4L133.7,1737.3L136.3,1737.1L139.0,1736.9L141.6,1736.7L144.3,1736.6L146.9,1736.4L149.6,1736.2L152.2,1736.0L154.9,1735.9L157.6,1735.7L160.2,1735.5L162.9,1735.4L165.5,1735.2L168.2,1735.0L170.8,1734.8L173.5,1734.7L176.2,1734.5L178.8,1734.3L181.5,1734.1L184.1,1734.0L186.8,1733.8L189.4,1733.6L192.1,1733.4L194.7,1733.3L197.4,1733.1L200.1,1732.9L202.7,1732.8L205.4,1732.6L208.0,1732.4L210.7,1732.2L213.3,1732.1L216.0,1731.9L218.6,1731.7L221.3,1731.5L224.0,1731.4L226.6,1731.2L229.3,1731.0L231.9,1730.8L234.6,1730.7L237.2,1730.5L239.9,1730.3L242.6,1730.2L245.2,1730.0L247.9,1729.8L250.5,1729.6L253.2,1729.5L255.8,1729.3L258.5,1729.1L261.1,1728.9L263.8,1728.8L266.5,1728.6L269.1,1728.4L271.8,1728.2L274.4,1728.1L277.1,1727.9L279.7,1727.7L282.4,1727.6L285.0,1727.4L287.7,1727.2L290.4,1727.0L293.0,1726.9L295.7,1726.7L298.3,1726.5L301.0,1726.3L303.6,1726.2L306.3,1726.0L309.0,1725.8L311.6,1725.6L314.3,1725.5L316.9,1725.3L319.6,1725.1L322.2,1725.0L324.9,1724.8L327.5,1724.6L330.2,1724.4L332.9,1724.3L335.5,1724.1L338.2,1723.9L340.8,1723.7L343.5,1723.6L346.1,1723.4L348.8,1723.2L351.4,1723.0L354.1,1722.9L356.8,1722.7L359.4,1722.5L362.1,1722.4L364.7,1722.2L367.4,1722.0L370.0,1721.8L372.7,1721.7L375.4,1721.5L378.0,1721.3L380.7,1721.1L383.3,1721.0L386.0,1720.8L388.6,1720.6L391.3,1720.4L393.9,1720.3L396.6,1720.1L399.3,1719.9L401.9,1719.8L404.6,1719.6L407.2,1719.4L409.9,1719.2L412.5,1719.1L415.2,1718.9L417.8,1718.8L420.5,1718.6L423.2,1718.5L425.8,1718.4L428.5,1718.2L431.1,1718.1L433.8,1718.0L436.4,1717.8L439.1,1717.7L441.8,1717.6L444.4,1717.4L447.1,1717.3L449.7,1717.2L452.4,1717.0L455.0,1716.9L457.7,1716.8L460.3,1716.6L463.0,1716.5L465.7,1716.4L468.3,1716.2L471.0,1716.1L473.6,1716.0L476.3,1715.8L478.9,1715.7L481.6,1715.6L484.2,1715.4L486.9,1715.3L489.6,1715.2L492.2,1715.0L494.9,1714.9L497.5,1714.8L500.2,1714.6L502.8,1714.5L505.5,1714.4L508.2,1714.2L510.8,1714.1L513.5,1714.0L516.1,1713.8L518.8,1713.7L521.4,1713.6L524.1,1713.4L526.7,1713.3L529.4,1713.2L532.1,1713.0L534.7,1712.9L537.4,1712.8L540.0,1712.6L542.7,1712.5L545.3,1712.4L548.0,1712.3L550.6,1712.1L553.3,1712.0L556.0,1711.9L558.6,1711.7L561.3,1711.6L563.9,1711.5L566.6,1711.3L569.2,1711.2L571.9,1711.1L574.6,1710.9L577.2,1710.8L579.9,1710.7L582.5,1710.5L585.2,1710.4L587.8,1710.3L590.5,1710.1L593.1,1710.0L595.8,1709.9L598.5,1709.7L601.1,1709.6L603.8,1709.5L606.4,1709.3L609.1,1709.2L611.7,1709.1L614.4,1708.9L617.0,1708.8L619.7,1708.7L622.4,1708.5L625.0,1708.4L627.7,1708.3L630.3,1708.1L633.0,1708.0L635.6,1707.9L638.3,1707.7L641.0,1707.6L643.6,1707.5L646.3,1707.3L648.9,1707.2L651.6,1707.1L654.2,1706.9L656.9,1706.8L659.5,1706.7L662.2,1706.5L664.9,1706.4L667.5,1706.3L670.2,1706.1L672.8,1706.0L675.5,1705.9L678.1,1705.7L680.8,1705.6L683.4,1705.5L686.1,1705.3L688.8,1705.2L691.4,1705.1L694.1,1704.9L696.7,1704.8L699.4,1704.7L702.0,1704.5L704.7,1704.4L707.4,1704.3L710.0,1704.1L712.7,1704.0L715.3,1703.9L718.0,1703.7L720.6,1703.6L723.3,1703.4L725.9,1703.3L728.6,1703.2L731.3,1703.0L733.9,1702.9L736.6,1702.8L739.2,1702.6L741.9,1702.5L744.5,1702.3L747.2,1702.2L749.8,1702.1L752.5,1701.9L755.2,1701.8L757.8,1701.7L760.5,1701.5L763.1,1701.4L765.8,1701.2L768.4,1701.1L771.1,1701.0L773.8,1700.8L776.4,1700.7L779.1,1700.5L781.7,1700.4L784.4,1700.3L787.0,1700.1L789.7,1700.0L792.3,1699.9L795.0,1699.7L797.7,1699.6L800.3,1699.4L803.0,1699.3L805.6,1699.2L808.3,1699.0L810.9,1698.9L813.6,1698.8L816.2,1698.6L818.9,1698.5L821.6,1698.3L824.2,1698.2L826.9,1698.1L829.5,1697.9L832.2,1697.8L834.8,1697.6L837.5,1697.5L840.2,1697.4L842.8,1697.2L845.5,1697.1L848.1,1697.0L850.8,1696.8L853.4,1696.7L856.1,1696.5L858.7,1696.4L861.4,1696.3L864.1,1696.1L866.7,1696.0L869.4,1695.9L872.0,1695.7L874.7,1695.6L877.3,1695.4L880.0,1695.3L882.6,1695.2L885.3,1695.0L888.0,1694.9L890.6,1694.7L893.3,1694.6L895.9,1694.5L898.6,1694.3L901.2,1694.2L903.9,1694.1L906.6,1693.9L909.2,1693.8L911.9,1693.6L914.5,1693.5L917.2,1693.4L919.8,1693.2L922.5,1693.1L925.1,1693.0L927.8,1692.8L930.5,1692.7L933.1,1692.5L935.8,1692.4L938.4,1692.3L941.1,1692.1L943.7,1692.0L946.4,1691.8L949.0,1691.7L951.7,1691.6L954.4,1691.4L957.0,1691.3L959.7,1691.2L962.3,1691.0L965.0,1690.9L967.6,1690.7L970.3,1690.6L973.0,1690.5L975.6,1690.3L978.3,1690.2L980.9,1690.1L983.6,1689.9L986.2,1689.8L988.9,1689.6L991.5,1689.5L994.2,1689.4L996.9,1689.2L999.5,1689.1L1002.2,1688.9L1004.8,1688.8L1007.5,1688.6L1010.1,1688.4L1012.8,1688.3L1015.4,1688.1L1018.1,1687.9L1020.8,1687.7L1023.4,1687.5L1026.1,1687.3L1028.7,1687.1L1031.4,1686.9L1034.0,1686.8L1036.7,1686.6L1039.4,1686.4L1042.0,1686.2L1044.7,1686.0L1047.3,1685.8L1050.0,1685.6L1052.6,1685.5L1055.3,1685.3L1057.9,1685.1L1060.6,1684.9L1063.3,1684.7L1065.9,1684.5L1068.6,1684.3L1071.2,1684.2L1073.9,1684.0L1076.5,1683.8L1079.2,1683.6L1081.8,1683.4L1084.5,1683.2L1087.2,1683.0L1089.8,1682.8L1092.5,1682.7L1095.1,1682.5L1097.8,1682.3L1100.4,1682.1L1103.1,1681.9L1105.8,1681.7L1108.4,1681.5L1111.1,1681.4L1113.7,1681.2L1116.4,1681.0L1119.0,1680.8L1121.7,1680.6L1124.3,1680.4L1127.0,1680.2L1129.7,1680.0L1132.3,1679.9L1135.0,1679.7L1137.6,1679.5L1140.3,1679.3L1142.9,1679.1L1145.6,1678.9L1148.2,1678.7L1150.9,1678.6L1153.6,1678.4L1156.2,1678.2L1158.9,1678.0L1161.5,1677.8L1164.2,1677.6L1166.8,1677.4L1169.5,1677.3L1172.2,1677.1L1174.8,1676.9L1177.5,1676.7L1180.1,1676.5L1182.8,1676.3L1185.4,1676.1L1188.1,1675.9L1190.7,1675.8L1193.4,1675.6L1196.1,1675.4L1198.7,1675.2L1201.4,1675.0L1204.0,1674.8L1206.7,1674.6L1209.3,1674.5L1212.0,1674.3L1214.6,1674.1L1217.3,1673.9L1220.0,1673.7L1222.6,1673.5L1225.3,1673.3L1227.9,1673.2L1230.6,1673.0L1233.2,1672.8L1235.9,1672.6L1238.6,1672.4L1241.2,1672.2L1243.9,1672.0L1246.5,1671.8L1249.2,1671.7L1251.8,1671.5L1254.5,1671.3L1257.1,1671.1L1259.8,1670.9L1262.5,1670.7L1265.1,1670.5L1267.8,1670.4L1270.4,1670.2L1273.1,1670.0L1275.7,1669.8L1278.4,1669.6L1281.0,1669.4L1283.7,1669.2L1286.4,1669.0L1289.0,1668.9L1291.7,1668.7L1294.3,1668.5L1297.0,1668.3L1299.6,1668.1L1302.3,1667.9L1305.0,1667.7L1307.6,1667.6L1310.3,1667.4L1312.9,1667.2L1315.6,1667.0L1318.2,1666.8L1320.9,1666.6L1323.5,1666.4L1326.2,1666.3L1328.9,1666.1L1331.5,1665.9L1334.2,1665.7L1336.8,1665.5L1339.5,1665.3L1342.1,1665.1L1344.8,1664.9L1347.4,1664.8L1350.1,1664.6L1352.8,1664.4L1355.4,1664.2L1358.1,1664.0L1360.7,1663.8L1363.4,1663.6L1366.0,1663.5L1368.7,1663.3L1371.4,1663.1L1374.0,1662.9L1376.7,1662.7L1379.3,1662.5L1382.0,1662.3L1384.6,1662.2L1387.3,1662.0L1389.9,1661.8L1392.6,1661.6L1395.3,1661.4L1397.9,1661.2L1400.6,1661.0L1403.2,1660.8L1405.9,1660.7L1408.5,1660.5L1411.2,1660.3L1413.8,1660.1L1416.5,1659.9L1419.2,1659.7L1421.8,1659.5L1424.5,1659.4L1427.1,1659.2L1429.8,1659.0L1432.4,1658.8L1435.1,1658.6L1437.8,1658.4L1440.4,1658.2L1443.1,1658.0L1445.7,1657.9L1448.4,1657.7L1451.0,1657.5L1453.7,1657.3L1456.3,1657.1L1459.0,1656.9" stroke="#ff0000" stroke-width="6.4" fill="none"/><path d="M131.0,1735.6L133.7,1735.4L136.3,1735.2L139.0,1735.0L141.6,1734.8L144.3,1734.6L146.9,1734.4L149.6,1734.2L152.2,1733.9L154.9,1733.7L157.6,1733.5L160.2,1733.3L162.9,1733.1L165.5,1732.9L168.2,1732.7L170.8,1732.5L173.5,1732.3L176.2,1732.1L178.8,1731.9L181.5,1731.7L184.1,1731.5L186.8,1731.2L189.4,1731.0L192.1,1730.8L194.7,1730.6L197.4,1730.4L200.1,1730.2L202.7,1729.9L205.4,1729.7L208.0,1729.5L210.7,1729.3L213.3,1729.1L216.0,1728.8L218.6,1728.6L221.3,1728.4L224.0,1728.1L226.6,1727.9L229.3,1727.7L231.9,1727.4L234.6,1727.2L237.2,1727.0L239.9,1726.7L242.6,1726.5L245.2,1726.2L247.9,1726.0L250.5,1725.8L253.2,1725.5L255.8,1725.3L258.5,1725.0L261.1,1724.7L263.8,1724.5L266.5,1724.2L269.1,1724.0L271.8,1723.7L274.4,1723.4L277.1,1723.1L279.7,1722.9L282.4,1722.6L285.0,1722.3L287.7,1722.0L290.4,1721.7L293.0,1721.4L295.7,1721.1L298.3,1720.8L301.0,1720.5L303.6,1720.2L306.3,1719.9L309.0,1719.6L311.6,1719.3L314.3,1718.9L316.9,1718.6L319.6,1718.2L322.2,1717.9L324.9,1717.5L327.5,1717.2L330.2,1716.8L332.9,1716.4L335.5,1716.0L338.2,1715.6L340.8,1715.2L343.5,1714.8L346.1,1714.4L348.8,1713.9L351.4,1713.5L354.1,1713.0L356.8,1712.5L359.4,1712.0L362.1,1711.5L364.7,1711.0L367.4,1710.5L370.0,1709.9L372.7,1709.3L375.4,1708.7L378.0,1708.1L380.7,1707.4L383.3,1706.8L386.0,1706.1L388.6,1705.3L391.3,1704.6L393.9,1703.8L396.6,1702.9L399.3,1702.0L401.9,1701.1L404.6,1700.1L407.2,1699.1L409.9,1698.1L412.5,1696.9L415.2,1695.7L417.8,1694.5L420.5,1693.3L423.2,1691.9L425.8,1690.5L428.5,1689.0L431.1,1687.4L433.8,1685.7L436.4,1683.9L439.1,1682.0L441.8,1680.1L444.4,1678.0L447.1,1675.8L449.7,1673.4L452.4,1671.0L455.0,1668.4L457.7,1665.7L460.3,1662.9L463.0,1660.0L465.7,1656.9L468.3,1653.8L471.0,1650.5L473.6,1647.1L476.3,1643.7L478.9,1640.2L481.6,1636.6L484.2,1633.1L486.9,1629.6L489.6,1626.1L492.2,1622.8L494.9,1619.7L497.5,1616.7L500.2,1614.1L502.8,1611.8L505.5,1609.9L508.2,1608.4L510.8,1607.4L513.5,1606.9L516.1,1606.9L518.8,1607.5L521.4,1608.6L524.1,1610.3L526.7,1612.4L529.4,1614.9L532.1,1617.8L534.7,1620.9L537.4,1624.2L540.0,1627.7L542.7,1631.2L545.3,1634.7L548.0,1638.3L550.6,1641.8L553.3,1645.2L556.0,1648.5L558.6,1651.6L561.3,1654.7L563.9,1657.6L566.6,1660.4L569.2,1663.0L571.9,1665.5L574.6,1667.8L577.2,1670.0L579.9,1672.0L582.5,1674.0L585.2,1675.8L587.8,1677.5L590.5,1679.0L593.1,1680.5L595.8,1681.9L598.5,1683.1L601.1,1684.3L603.8,1685.4L606.4,1686.4L609.1,1687.4L611.7,1688.2L614.4,1689.0L617.0,1689.8L619.7,1690.5L622.4,1691.1L625.0,1691.7L627.7,1692.3L630.3,1692.8L633.0,1693.3L635.6,1693.7L638.3,1694.1L641.0,1694.5L643.6,1694.8L646.3,1695.2L648.9,1695.5L651.6,1695.7L654.2,1696.0L656.9,1696.2L659.5,1696.4L662.2,1696.6L664.9,1696.8L667.5,1697.0L670.2,1697.1L672.8,1697.3L675.5,1697.4L678.1,1697.5L680.8,1697.6L683.4,1697.7L686.1,1697.8L688.8,1697.9L691.4,1698.0L694.1,1698.0L696.7,1698.1L699.4,1698.1L702.0,1698.2L704.7,1698.2L707.4,1698.2L710.0,1698.2L712.7,1698.2L715.3,1698.3L718.0,1698.3L720.6,1698.2L723.3,1698.2L725.9,1698.2L728.6,1698.2L731.3,1698.2L733.9,1698.2L736.6,1698.1L739.2,1698.1L741.9,1698.0L744.5,1698.0L747.2,1698.0L749.8,1697.9L752.5,1697.9L755.2,1697.8L757.8,1697.8L760.5,1697.7L763.1,1697.6L765.8,1697.6L768.4,1697.5L771.1,1697.4L773.8,1697.4L776.4,1697.3L779.1,1697.2L781.7,1697.2L784.4,1697.1L787.0,1697.0L789.7,1696.9L792.3,1696.8L795.0,1696.8L797.7,1696.7L800.3,1696.6L803.0,1696.5L805.6,1696.4L808.3,1696.3L810.9,1696.2L813.6,1696.1L816.2,1696.0L818.9,1695.9L821.6,1695.9L824.2,1695.8L826.9,1695.7L829.5,1695.6L832.2,1695.5L834.8,1695.4L837.5,1695.3L840.2,1695.2L842.8,1695.1L845.5,1694.9L848.1,1694.8L850.8,1694.7L853.4,1694.6L856.1,1694.5L858.7,1694.4L861.4,1694.3L864.1,1694.2L866.7,1694.1L869.4,1694.0L872.0,1693.9L874.7,1693.8L877.3,1693.6L880.0,1693.5L882.6,1693.4L885.3,1693.3L888.0,1693.2L890.6,1693.1L893.3,1693.0L895.9,1692.8L898.6,1692.7L901.2,1692.6L903.9,1692.5L906.6,1692.4L909.2,1692.3L911.9,1692.1L914.5,1692.0L917.2,1691.9L919.8,1691.8L922.5,1691.7L925.1,1691.5L927.8,1691.4L930.5,1691.3L933.1,1691.2L935.8,1691.1L938.4,1690.9L941.1,1690.8L943.7,1690.7L946.4,1690.6L949.0,1690.5L951.7,1690.3L954.4,1690.2L957.0,1690.1L959.7,1690.0L962.3,1689.8L965.0,1689.7L967.6,1689.6L970.3,1689.5L973.0,1689.3L975.6,1689.2L978.3,1689.1L980.9,1689.0L983.6,1688.8L986.2,1688.7L988.9,1688.6L991.5,1688.5L994.2,1688.3L996.9,1688.2L999.5,1688.1L1002.2,1687.9L1004.8,1687.8L1007.5,1687.6L1010.1,1687.5L1012.8,1687.3L1015.4,1687.1L1018.1,1686.9L1020.8,1686.8L1023.4,1686.6L1026.1,1686.4L1028.7,1686.2L1031.4,1686.1L1034.0,1685.9L1036.7,1685.7L1039.4,1685.5L1042.0,1685.3L1044.7,1685.2L1047.3,1685.0L1050.0,1684.8L1052.6,1684.6L1055.3,1684.5L1057.9,1684.3L1060.6,1684.1L1063.3,1683.9L1065.9,1683.7L1068.6,1683.6L1071.2,1683.4L1073.9,1683.2L1076.5,1683.0L1079.2,1682.8L1081.8,1682.7L1084.5,1682.5L1087.2,1682.3L1089.8,1682.1L1092.5,1681.9L1095.1,1681.8L1097.8,1681.6L1100.4,1681.4L1103.1,1681.2L1105.8,1681.0L1108.4,1680.9L1111.1,1680.7L1113.7,1680.5L1116.4,1680.3L1119.0,1680.1L1121.7,1680.0L1124.3,1679.8L1127.0,1679.6L1129.7,1679.4L1132.3,1679.2L1135.0,1679.1L1137.6,1678.9L1140.3,1678.7L1142.9,1678.5L1145.6,1678.3L1148.2,1678.1L1150.9,1678.0L1153.6,1677.8L1156.2,1677.6L1158.9,1677.4L1161.5,1677.2L1164.2,1677.1L1166.8,1676.9L1169.5,1676.7L1172.2,1676.5L1174.8,1676.3L1177.5,1676.1L1180.1,1676.0L1182.8,1675.8L1185.4,1675.6L1188.1,1675.4L1190.7,1675.2L1193.4,1675.1L1196.1,1674.9L1198.7,1674.7L1201.4,1674.5L1204.0,1674.3L1206.7,1674.1L1209.3,1674.0L1212.0,1673.8L1214.6,1673.6L1217.3,1673.4L1220.0,1673.2L1222.6,1673.0L1225.3,1672.9L1227.9,1672.7L1230.6,1672.5L1233.2,1672.3L1235.9,1672.1L1238.6,1671.9L1241.2,1671.8L1243.9,1671.6L1246.5,1671.4L1249.2,1671.2L1251.8,1671.0L1254.5,1670.8L1257.1,1670.7L1259.8,1670.5L1262.5,1670.3L1265.1,1670.1L1267.8,1669.9L1270.4,1669.7L1273.1,1669.6L1275.7,1669.4L1278.4,1669.2L1281.0,1669.0L1283.7,1668.8L1286.4,1668.6L1289.0,1668.5L1291.7,1668.3L1294.3,1668.1L1297.0,1667.9L1299.6,1667.7L1302.3,1667.5L1305.0,1667.4L1307.6,1667.2L1310.3,1667.0L1312.9,1666.8L1315.6,1666.6L1318.2,1666.4L1320.9,1666.3L1323.5,1666.1L1326.2,1665.9L1328.9,1665.7L1331.5,1665.5L1334.2,1665.3L1336.8,1665.2L1339.5,1665.0L1342.1,1664.8L1344.8,1664.6L1347.4,1664.4L1350.1,1664.2L1352.8,1664.0L1355.4,1663.9L1358.1,1663.7L1360.7,1663.5L1363.4,1663.3L1366.0,1663.1L1368.7,1662.9L1371.4,1662.8L1374.0,1662.6L1376.7,1662.4L1379.3,1662.2L1382.0,1662.0L1384.6,1661.8L1387.3,1661.6L1389.9,1661.5L1392.6,1661.3L1395.3,1661.1L1397.9,1660.9L1400.6,1660.7L1403.2,1660.5L1405.9,1660.4L1408.5,1660.2L1411.2,1660.0L1413.8,1659.8L1416.5,1659.6L1419.2,1659.4L1421.8,1659.2L1424.5,1659.1L1427.1,1658.9L1429.8,1658.7L1432.4,1658.5L1435.1,1658.3L1437.8,1658.1L1440.4,1658.0L1443.1,1657.8L1445.7,1657.6L1448.4,1657.4L1451.0,1657.2L1453.7,1657.0L1456.3,1656.8L1459.0,1656.7" stroke="#800080" stroke-width="6.4" fill="none" stroke-linejoin="round"/><path d="M131.0,1735.4L133.7,1735.2L136.3,1734.9L139.0,1734.7L141.6,1734.5L144.3,1734.3L146.9,1734.1L149.6,1733.8L152.2,1733.6L154.9,1733.4L157.6,1733.1L160.2,1732.9L162.9,1732.7L165.5,1732.4L168.2,1732.2L170.8,1732.0L173.5,1731.7L176.2,1731.5L178.8,1731.2L181.5,1731.0L184.1,1730.7L186.8,1730.4L189.4,1730.2L192.1,1729.9L194.7,1729.6L197.4,1729.4L200.1,1729.1L202.7,1728.8L205.4,1728.5L208.0,1728.2L210.7,1727.9L213.3,1727.6L216.0,1727.3L218.6,1726.9L221.3,1726.6L224.0,1726.2L226.6,1725.9L229.3,1725.5L231.9,1725.1L234.6,1724.7L237.2,1724.3L239.9,1723.8L242.6,1723.3L245.2,1722.9L247.9,1722.3L250.5,1721.8L253.2,1721.2L255.8,1720.5L258.5,1719.9L261.1,1719.1L263.8,1718.4L266.5,1717.6L269.1,1716.7L271.8,1715.7L274.4,1714.7L277.1,1713.6L279.7,1712.4L282.4,1711.1L285.0,1709.8L287.7,1708.3L290.4,1706.7L293.0,1705.1L295.7,1703.3L298.3,1701.4L301.0,1699.4L303.6,1697.2L306.3,1695.0L309.0,1692.6L311.6,1690.1L314.3,1687.4L316.9,1684.7L319.6,1681.8L322.2,1678.9L324.9,1675.8L327.5,1672.7L330.2,1669.4L332.9,1666.1L335.5,1662.8L338.2,1659.4L340.8,1656.0L343.5,1652.7L346.1,1649.4L348.8,1646.2L351.4,1643.0L354.1,1640.1L356.8,1637.3L359.4,1634.8L362.1,1632.6L364.7,1630.6L367.4,1629.0L370.0,1627.8L372.7,1627.0L375.4,1626.6L378.0,1626.6L380.7,1627.0L383.3,1627.9L386.0,1629.1L388.6,1630.6L391.3,1632.5L393.9,1634.6L396.6,1637.0L399.3,1639.6L401.9,1642.4L404.6,1645.2L407.2,1648.2L409.9,1651.2L412.5,1654.2L415.2,1657.2L417.8,1660.3L420.5,1663.3L423.2,1666.2L425.8,1669.1L428.5,1671.8L431.1,1674.5L433.8,1677.1L436.4,1679.5L439.1,1681.9L441.8,1684.1L444.4,1686.2L447.1,1688.1L449.7,1690.0L452.4,1691.7L455.0,1693.3L457.7,1694.8L460.3,1696.2L463.0,1697.4L465.7,1698.6L468.3,1699.7L471.0,1700.7L473.6,1701.5L476.3,1702.3L478.9,1703.1L481.6,1703.7L484.2,1704.3L486.9,1704.8L489.6,1705.3L492.2,1705.7L494.9,1706.1L497.5,1706.4L500.2,1706.7L502.8,1707.0L505.5,1707.2L508.2,1707.4L510.8,1707.6L513.5,1707.7L516.1,1707.8L518.8,1707.9L521.4,1708.0L524.1,1708.1L526.7,1708.2L529.4,1708.2L532.1,1708.2L534.7,1708.3L537.4,1708.3L540.0,1708.3L542.7,1708.3L545.3,1708.3L548.0,1708.3L550.6,1708.3L553.3,1708.2L556.0,1708.2L558.6,1708.2L561.3,1708.1L563.9,1708.1L566.6,1708.0L569.2,1708.0L571.9,1707.9L574.6,1707.9L577.2,1707.8L579.9,1707.8L582.5,1707.7L585.2,1707.6L587.8,1707.6L590.5,1707.5L593.1,1707.4L595.8,1707.4L598.5,1707.3L601.1,1707.2L603.8,1707.1L606.4,1707.0L609.1,1707.0L611.7,1706.9L614.4,1706.8L617.0,1706.7L619.7,1706.6L622.4,1706.5L625.0,1706.4L627.7,1706.3L630.3,1706.2L633.0,1706.1L635.6,1706.0L638.3,1705.9L641.0,1705.8L643.6,1705.7L646.3,1705.6L648.9,1705.5L651.6,1705.4L654.2,1705.3L656.9,1705.2L659.5,1705.1L662.2,1705.0L664.9,1704.9L667.5,1704.8L670.2,1704.7L672.8,1704.6L675.5,1704.5L678.1,1704.4L680.8,1704.3L683.4,1704.2L686.1,1704.1L688.8,1703.9L691.4,1703.8L694.1,1703.7L696.7,1703.6L699.4,1703.5L702.0,1703.4L704.7,1703.3L707.4,1703.1L710.0,1703.0L712.7,1702.9L715.3,1702.8L718.0,1702.7L720.6,1702.5L723.3,1702.4L725.9,1702.3L728.6,1702.2L731.3,1702.0L733.9,1701.9L736.6,1701.8L739.2,1701.7L741.9,1701.5L744.5,1701.4L747.2,1701.3L749.8,1701.2L752.5,1701.0L755.2,1700.9L757.8,1700.8L760.5,1700.7L763.1,1700.5L765.8,1700.4L768.4,1700.3L771.1,1700.2L773.8,1700.0L776.4,1699.9L779.1,1699.8L781.7,1699.6L784.4,1699.5L787.0,1699.4L789.7,1699.3L792.3,1699.1L795.0,1699.0L797.7,1698.9L800.3,1698.7L803.0,1698.6L805.6,1698.5L808.3,1698.4L810.9,1698.2L813.6,1698.1L816.2,1698.0L818.9,1697.8L821.6,1697.7L824.2,1697.6L826.9,1697.4L829.5,1697.3L832.2,1697.2L834.8,1697.0L837.5,1696.9L840.2,1696.8L842.8,1696.7L845.5,1696.5L848.1,1696.4L850.8,1696.3L853.4,1696.1L856.1,1696.0L858.7,1695.9L861.4,1695.7L864.1,1695.6L866.7,1695.5L869.4,1695.3L872.0,1695.2L874.7,1695.1L877.3,1694.9L880.0,1694.8L882.6,1694.7L885.3,1694.5L888.0,1694.4L890.6,1694.3L893.3,1694.1L895.9,1694.0L898.6,1693.9L901.2,1693.7L903.9,1693.6L906.6,1693.5L909.2,1693.3L911.9,1693.2L914.5,1693.1L917.2,1692.9L919.8,1692.8L922.5,1692.7L925.1,1692.5L927.8,1692.4L930.5,1692.3L933.1,1692.1L935.8,1692.0L938.4,1691.9L941.1,1691.7L943.7,1691.6L946.4,1691.5L949.0,1691.3L951.7,1691.2L954.4,1691.1L957.0,1690.9L959.7,1690.8L962.3,1690.6L965.0,1690.5L967.6,1690.4L970.3,1690.2L973.0,1690.1L975.6,1690.0L978.3,1689.8L980.9,1689.7L983.6,1689.6L986.2,1689.4L988.9,1689.3L991.5,1689.2L994.2,1689.0L996.9,1688.9L999.5,1688.8L1002.2,1688.6L1004.8,1688.5L1007.5,1688.3L1010.1,1688.1L1012.8,1687.9L1015.4,1687.8L1018.1,1687.6L1020.8,1687.4L1023.4,1687.2L1026.1,1687.0L1028.7,1686.8L1031.4,1686.7L1034.0,1686.5L1036.7,1686.3L1039.4,1686.1L1042.0,1685.9L1044.7,1685.7L1047.3,1685.5L1050.0,1685.4L1052.6,1685.2L1055.3,1685.0L1057.9,1684.8L1060.6,1684.6L1063.3,1684.4L1065.9,1684.3L1068.6,1684.1L1071.2,1683.9L1073.9,1683.7L1076.5,1683.5L1079.2,1683.3L1081.8,1683.1L1084.5,1683.0L1087.2,1682.8L1089.8,1682.6L1092.5,1682.4L1095.1,1682.2L1097.8,1682.0L1100.4,1681.9L1103.1,1681.7L1105.8,1681.5L1108.4,1681.3L1111.1,1681.1L1113.7,1680.9L1116.4,1680.7L1119.0,1680.6L1121.7,1680.4L1124.3,1680.2L1127.0,1680.0L1129.7,1679.8L1132.3,1679.6L1135.0,1679.5L1137.6,1679.3L1140.3,1679.1L1142.9,1678.9L1145.6,1678.7L1148.2,1678.5L1150.9,1678.3L1153.6,1678.2L1156.2,1678.0L1158.9,1677.8L1161.5,1677.6L1164.2,1677.4L1166.8,1677.2L1169.5,1677.0L1172.2,1676.9L1174.8,1676.7L1177.5,1676.5L1180.1,1676.3L1182.8,1676.1L1185.4,1675.9L1188.1,1675.8L1190.7,1675.6L1193.4,1675.4L1196.1,1675.2L1198.7,1675.0L1201.4,1674.8L1204.0,1674.6L1206.7,1674.5L1209.3,1674.3L1212.0,1674.1L1214.6,1673.9L1217.3,1673.7L1220.0,1673.5L1222.6,1673.3L1225.3,1673.2L1227.9,1673.0L1230.6,1672.8L1233.2,1672.6L1235.9,1672.4L1238.6,1672.2L1241.2,1672.0L1243.9,1671.9L1246.5,1671.7L1249.2,1671.5L1251.8,1671.3L1254.5,1671.1L1257.1,1670.9L1259.8,1670.7L1262.5,1670.6L1265.1,1670.4L1267.8,1670.2L1270.4,1670.0L1273.1,1669.8L1275.7,1669.6L1278.4,1669.5L1281.0,1669.3L1283.7,1669.1L1286.4,1668.9L1289.0,1668.7L1291.7,1668.5L1294.3,1668.3L1297.0,1668.2L1299.6,1668.0L1302.3,1667.8L1305.0,1667.6L1307.6,1667.4L1310.3,1667.2L1312.9,1667.0L1315.6,1666.9L1318.2,1666.7L1320.9,1666.5L1323.5,1666.3L1326.2,1666.1L1328.9,1665.9L1331.5,1665.7L1334.2,1665.6L1336.8,1665.4L1339.5,1665.2L1342.1,1665.0L1344.8,1664.8L1347.4,1664.6L1350.1,1664.4L1352.8,1664.3L1355.4,1664.1L1358.1,1663.9L1360.7,1663.7L1363.4,1663.5L1366.0,1663.3L1368.7,1663.1L1371.4,1663.0L1374.0,1662.8L1376.7,1662.6L1379.3,1662.4L1382.0,1662.2L1384.6,1662.0L1387.3,1661.8L1389.9,1661.7L1392.6,1661.5L1395.3,1661.3L1397.9,1661.1L1400.6,1660.9L1403.2,1660.7L1405.9,1660.5L1408.5,1660.4L1411.2,1660.2L1413.8,1660.0L1416.5,1659.8L1419.2,1659.6L1421.8,1659.4L1424.5,1659.2L1427.1,1659.1L1429.8,1658.9L1432.4,1658.7L1435.1,1658.5L1437.8,1658.3L1440.4,1658.1L1443.1,1657.9L1445.7,1657.8L1448.4,1657.6L1451.0,1657.4L1453.7,1657.2L1456.3,1657.0L1459.0,1656.8" stroke="#000080" stroke-width="6.4" fill="none" stroke-linejoin="round"/><path d="M131.0,1733.4L133.7,1733.0L136.3,1732.5L139.0,1731.9L141.6,1731.3L144.3,1730.7L146.9,1729.9L149.6,1729.1L152.2,1728.2L154.9,1727.2L157.6,1726.1L160.2,1724.9L162.9,1723.5L165.5,1721.9L168.2,1720.2L170.8,1718.4L173.5,1716.3L176.2,1714.1L178.8,1711.7L181.5,1709.1L184.1,1706.4L186.8,1703.5L189.4,1700.5L192.1,1697.3L194.7,1694.1L197.4,1690.9L200.1,1687.7L202.7,1684.7L205.4,1681.7L208.0,1679.1L210.7,1676.8L213.3,1674.9L216.0,1673.6L218.6,1672.8L221.3,1672.6L224.0,1673.1L226.6,1674.3L229.3,1676.0L231.9,1678.2L234.6,1680.7L237.2,1683.5L239.9,1686.5L242.6,1689.5L245.2,1692.6L247.9,1695.6L250.5,1698.5L253.2,1701.2L255.8,1703.8L258.5,1706.2L261.1,1708.4L263.8,1710.5L266.5,1712.3L269.1,1713.9L271.8,1715.3L274.4,1716.5L277.1,1717.6L279.7,1718.5L282.4,1719.3L285.0,1720.0L287.7,1720.5L290.4,1720.9L293.0,1721.3L295.7,1721.6L298.3,1721.8L301.0,1722.0L303.6,1722.1L306.3,1722.2L309.0,1722.3L311.6,1722.3L314.3,1722.4L316.9,1722.4L319.6,1722.3L322.2,1722.3L324.9,1722.3L327.5,1722.2L330.2,1722.1L332.9,1722.1L335.5,1722.0L338.2,1721.9L340.8,1721.8L343.5,1721.7L346.1,1721.6L348.8,1721.5L351.4,1721.4L354.1,1721.3L356.8,1721.2L359.4,1721.1L362.1,1720.9L364.7,1720.8L367.4,1720.7L370.0,1720.6L372.7,1720.4L375.4,1720.3L378.0,1720.2L380.7,1720.0L383.3,1719.9L386.0,1719.7L388.6,1719.6L391.3,1719.5L393.9,1719.3L396.6,1719.2L399.3,1719.0L401.9,1718.9L404.6,1718.7L407.2,1718.6L409.9,1718.4L412.5,1718.3L415.2,1718.1L417.8,1718.0L420.5,1717.9L423.2,1717.8L425.8,1717.7L428.5,1717.5L431.1,1717.4L433.8,1717.3L436.4,1717.2L439.1,1717.1L441.8,1717.0L444.4,1716.8L447.1,1716.7L449.7,1716.6L452.4,1716.5L455.0,1716.4L457.7,1716.2L460.3,1716.1L463.0,1716.0L465.7,1715.9L468.3,1715.8L471.0,1715.6L473.6,1715.5L476.3,1715.4L478.9,1715.3L481.6,1715.1L484.2,1715.0L486.9,1714.9L489.6,1714.8L492.2,1714.6L494.9,1714.5L497.5,1714.4L500.2,1714.3L502.8,1714.1L505.5,1714.0L508.2,1713.9L510.8,1713.8L513.5,1713.6L516.1,1713.5L518.8,1713.4L521.4,1713.2L524.1,1713.1L526.7,1713.0L529.4,1712.9L532.1,1712.7L534.7,1712.6L537.4,1712.5L540.0,1712.4L542.7,1712.2L545.3,1712.1L548.0,1712.0L550.6,1711.8L553.3,1711.7L556.0,1711.6L558.6,1711.5L561.3,1711.3L563.9,1711.2L566.6,1711.1L569.2,1710.9L571.9,1710.8L574.6,1710.7L577.2,1710.6L579.9,1710.4L582.5,1710.3L585.2,1710.2L587.8,1710.0L590.5,1709.9L593.1,1709.8L595.8,1709.6L598.5,1709.5L601.1,1709.4L603.8,1709.3L606.4,1709.1L609.1,1709.0L611.7,1708.9L614.4,1708.7L617.0,1708.6L619.7,1708.5L622.4,1708.3L625.0,1708.2L627.7,1708.1L630.3,1708.0L633.0,1707.8L635.6,1707.7L638.3,1707.6L641.0,1707.4L643.6,1707.3L646.3,1707.2L648.9,1707.0L651.6,1706.9L654.2,1706.8L656.9,1706.6L659.5,1706.5L662.2,1706.4L664.9,1706.3L667.5,1706.1L670.2,1706.0L672.8,1705.9L675.5,1705.7L678.1,1705.6L680.8,1705.5L683.4,1705.3L686.1,1705.2L688.8,1705.1L691.4,1704.9L694.1,1704.8L696.7,1704.7L699.4,1704.5L702.0,1704.4L704.7,1704.3L707.4,1704.2L710.0,1704.0L712.7,1703.9L715.3,1703.7L718.0,1703.6L720.6,1703.5L723.3,1703.3L725.9,1703.2L728.6,1703.1L731.3,1702.9L733.9,1702.8L736.6,1702.6L739.2,1702.5L741.9,1702.4L744.5,1702.2L747.2,1702.1L749.8,1702.0L752.5,1701.8L755.2,1701.7L757.8,1701.5L760.5,1701.4L763.1,1701.3L765.8,1701.1L768.4,1701.0L771.1,1700.9L773.8,1700.7L776.4,1700.6L779.1,1700.5L781.7,1700.3L784.4,1700.2L787.0,1700.0L789.7,1699.9L792.3,1699.8L795.0,1699.6L797.7,1699.5L800.3,1699.4L803.0,1699.2L805.6,1699.1L808.3,1698.9L810.9,1698.8L813.6,1698.7L816.2,1698.5L818.9,1698.4L821.6,1698.3L824.2,1698.1L826.9,1698.0L829.5,1697.8L832.2,1697.7L834.8,1697.6L837.5,1697.4L840.2,1697.3L842.8,1697.2L845.5,1697.0L848.1,1696.9L850.8,1696.7L853.4,1696.6L856.1,1696.5L858.7,1696.3L861.4,1696.2L864.1,1696.1L866.7,1695.9L869.4,1695.8L872.0,1695.6L874.7,1695.5L877.3,1695.4L880.0,1695.2L882.6,1695.1L885.3,1695.0L888.0,1694.8L890.6,1694.7L893.3,1694.5L895.9,1694.4L898.6,1694.3L901.2,1694.1L903.9,1694.0L906.6,1693.9L909.2,1693.7L911.9,1693.6L914.5,1693.4L917.2,1693.3L919.8,1693.2L922.5,1693.0L925.1,1692.9L927.8,1692.8L930.5,1692.6L933.1,1692.5L935.8,1692.3L938.4,1692.2L941.1,1692.1L943.7,1691.9L946.4,1691.8L949.0,1691.7L951.7,1691.5L954.4,1691.4L957.0,1691.2L959.7,1691.1L962.3,1691.0L965.0,1690.8L967.6,1690.7L970.3,1690.6L973.0,1690.4L975.6,1690.3L978.3,1690.1L980.9,1690.0L983.6,1689.9L986.2,1689.7L988.9,1689.6L991.5,1689.4L994.2,1689.3L996.9,1689.2L999.5,1689.0L1002.2,1688.9L1004.8,1688.8L1007.5,1688.6L1010.1,1688.4L1012.8,1688.2L1015.4,1688.0L1018.1,1687.8L1020.8,1687.6L1023.4,1687.5L1026.1,1687.3L1028.7,1687.1L1031.4,1686.9L1034.0,1686.7L1036.7,1686.5L1039.4,1686.3L1042.0,1686.2L1044.7,1686.0L1047.3,1685.8L1050.0,1685.6L1052.6,1685.4L1055.3,1685.2L1057.9,1685.0L1060.6,1684.9L1063.3,1684.7L1065.9,1684.5L1068.6,1684.3L1071.2,1684.1L1073.9,1683.9L1076.5,1683.7L1079.2,1683.6L1081.8,1683.4L1084.5,1683.2L1087.2,1683.0L1089.8,1682.8L1092.5,1682.6L1095.1,1682.4L1097.8,1682.2L1100.4,1682.1L1103.1,1681.9L1105.8,1681.7L1108.4,1681.5L1111.1,1681.3L1113.7,1681.1L1116.4,1680.9L1119.0,1680.8L1121.7,1680.6L1124.3,1680.4L1127.0,1680.2L1129.7,1680.0L1132.3,1679.8L1135.0,1679.6L1137.6,1679.5L1140.3,1679.3L1142.9,1679.1L1145.6,1678.9L1148.2,1678.7L1150.9,1678.5L1153.6,1678.3L1156.2,1678.2L1158.9,1678.0L1161.5,1677.8L1164.2,1677.6L1166.8,1677.4L1169.5,1677.2L1172.2,1677.0L1174.8,1676.8L1177.5,1676.7L1180.1,1676.5L1182.8,1676.3L1185.4,1676.1L1188.1,1675.9L1190.7,1675.7L1193.4,1675.5L1196.1,1675.4L1198.7,1675.2L1201.4,1675.0L1204.0,1674.8L1206.7,1674.6L1209.3,1674.4L1212.0,1674.2L1214.6,1674.1L1217.3,1673.9L1220.0,1673.7L1222.6,1673.5L1225.3,1673.3L1227.9,1673.1L1230.6,1672.9L1233.2,1672.7L1235.9,1672.6L1238.6,1672.4L1241.2,1672.2L1243.9,1672.0L1246.5,1671.8L1249.2,1671.6L1251.8,1671.4L1254.5,1671.3L1257.1,1671.1L1259.8,1670.9L1262.5,1670.7L1265.1,1670.5L1267.8,1670.3L1270.4,1670.1L1273.1,1670.0L1275.7,1669.8L1278.4,1669.6L1281.0,1669.4L1283.7,1669.2L1286.4,1669.0L1289.0,1668.8L1291.7,1668.6L1294.3,1668.5L1297.0,1668.3L1299.6,1668.1L1302.3,1667.9L1305.0,1667.7L1307.6,1667.5L1310.3,1667.3L1312.9,1667.2L1315.6,1667.0L1318.2,1666.8L1320.9,1666.6L1323.5,1666.4L1326.2,1666.2L1328.9,1666.0L1331.5,1665.9L1334.2,1665.7L1336.8,1665.5L1339.5,1665.3L1342.1,1665.1L1344.8,1664.9L1347.4,1664.7L1350.1,1664.6L1352.8,1664.4L1355.4,1664.2L1358.1,1664.0L1360.7,1663.8L1363.4,1663.6L1366.0,1663.4L1368.7,1663.2L1371.4,1663.1L1374.0,1662.9L1376.7,1662.7L1379.3,1662.5L1382.0,1662.3L1384.6,1662.1L1387.3,1661.9L1389.9,1661.8L1392.6,1661.6L1395.3,1661.4L1397.9,1661.2L1400.6,1661.0L1403.2,1660.8L1405.9,1660.6L1408.5,1660.5L1411.2,1660.3L1413.8,1660.1L1416.5,1659.9L1419.2,1659.7L1421.8,1659.5L1424.5,1659.3L1427.1,1659.1L1429.8,1659.0L1432.4,1658.8L1435.1,1658.6L1437.8,1658.4L1440.4,1658.2L1443.1,1658.0L1445.7,1657.8L1448.4,1657.7L1451.0,1657.5L1453.7,1657.3L1456.3,1657.1L1459.0,1656.9" stroke="#8000ff" stroke-width="6.4" fill="none" stroke-linejoin="round"/><path d="M131.0,1736.3L133.7,1736.1L136.3,1735.9L139.0,1735.7L141.6,1735.5L144.3,1735.3L146.9,1735.2L149.6,1735.0L152.2,1734.8L154.9,1734.6L157.6,1734.4L160.2,1734.2L162.9,1734.1L165.5,1733.9L168.2,1733.7L170.8,1733.5L173.5,1733.3L176.2,1733.1L178.8,1732.9L181.5,1732.8L184.1,1732.6L186.8,1732.4L189.4,1732.2L192.1,1732.0L194.7,1731.8L197.4,1731.6L200.1,1731.5L202.7,1731.3L205.4,1731.1L208.0,1730.9L210.7,1730.7L213.3,1730.5L216.0,1730.3L218.6,1730.2L221.3,1730.0L224.0,1729.8L226.6,1729.6L229.3,1729.4L231.9,1729.2L234.6,1729.0L237.2,1728.8L239.9,1728.6L242.6,1728.5L245.2,1728.3L247.9,1728.1L250.5,1727.9L253.2,1727.7L255.8,1727.5L258.5,1727.3L261.1,1727.1L263.8,1726.9L266.5,1726.7L269.1,1726.5L271.8,1726.4L274.4,1726.2L277.1,1726.0L279.7,1725.8L282.4,1725.6L285.0,1725.4L287.7,1725.2L290.4,1725.0L293.0,1724.8L295.7,1724.6L298.3,1724.4L301.0,1724.2L303.6,1724.0L306.3,1723.8L309.0,1723.6L311.6,1723.4L314.3,1723.2L316.9,1723.0L319.6,1722.8L322.2,1722.6L324.9,1722.4L327.5,1722.2L330.2,1722.0L332.9,1721.8L335.5,1721.6L338.2,1721.4L340.8,1721.2L343.5,1721.0L346.1,1720.8L348.8,1720.6L351.4,1720.4L354.1,1720.2L356.8,1720.0L359.4,1719.8L362.1,1719.6L364.7,1719.3L367.4,1719.1L370.0,1718.9L372.7,1718.7L375.4,1718.5L378.0,1718.3L380.7,1718.1L383.3,1717.8L386.0,1717.6L388.6,1717.4L391.3,1717.2L393.9,1716.9L396.6,1716.7L399.3,1716.5L401.9,1716.3L404.6,1716.0L407.2,1715.8L409.9,1715.6L412.5,1715.3L415.2,1715.1L417.8,1714.9L420.5,1714.7L423.2,1714.5L425.8,1714.3L428.5,1714.1L431.1,1713.9L433.8,1713.6L436.4,1713.4L439.1,1713.2L441.8,1713.0L444.4,1712.8L447.1,1712.5L449.7,1712.3L452.4,1712.1L455.0,1711.8L457.7,1711.6L460.3,1711.3L463.0,1711.1L465.7,1710.8L468.3,1710.6L471.0,1710.3L473.6,1710.0L476.3,1709.8L478.9,1709.5L481.6,1709.2L484.2,1708.9L486.9,1708.6L489.6,1708.3L492.2,1708.0L494.9,1707.7L497.5,1707.4L500.2,1707.1L502.8,1706.8L505.5,1706.5L508.2,1706.1L510.8,1705.8L513.5,1705.4L516.1,1705.1L518.8,1704.7L521.4,1704.3L524.1,1704.0L526.7,1703.6L529.4,1703.2L532.1,1702.8L534.7,1702.4L537.4,1702.0L540.0,1701.5L542.7,1701.1L545.3,1700.7L548.0,1700.2L550.6,1699.8L553.3,1699.3L556.0,1698.8L558.6,1698.4L561.3,1697.9L563.9,1697.4L566.6,1696.9L569.2,1696.3L571.9,1695.8L574.6,1695.3L577.2,1694.7L579.9,1694.2L582.5,1693.6L585.2,1693.0L587.8,1692.5L590.5,1691.9L593.1,1691.3L595.8,1690.7L598.5,1690.1L601.1,1689.4L603.8,1688.8L606.4,1688.1L609.1,1687.5L611.7,1686.8L614.4,1686.2L617.0,1685.5L619.7,1684.8L622.4,1684.1L625.0,1683.4L627.7,1682.7L630.3,1682.0L633.0,1681.3L635.6,1680.5L638.3,1679.8L641.0,1679.1L643.6,1678.3L646.3,1677.6L648.9,1676.8L651.6,1676.1L654.2,1675.3L656.9,1674.5L659.5,1673.8L662.2,1673.0L664.9,1672.2L667.5,1671.4L670.2,1670.7L672.8,1669.9L675.5,1669.1L678.1,1668.4L680.8,1667.6L683.4,1666.8L686.1,1666.1L688.8,1665.3L691.4,1664.6L694.1,1663.8L696.7,1663.1L699.4,1662.4L702.0,1661.6L704.7,1660.9L707.4,1660.2L710.0,1659.6L712.7,1658.9L715.3,1658.2L718.0,1657.6L720.6,1657.0L723.3,1656.4L725.9,1655.8L728.6,1655.3L731.3,1654.7L733.9,1654.2L736.6,1653.7L739.2,1653.2L741.9,1652.8L744.5,1652.4L747.2,1652.0L749.8,1651.7L752.5,1651.3L755.2,1651.0L757.8,1650.8L760.5,1650.5L763.1,1650.3L765.8,1650.1L768.4,1650.0L771.1,1649.9L773.8,1649.9L776.4,1649.9L779.1,1649.9L781.7,1650.0L784.4,1650.2L787.0,1650.4L789.7,1650.6L792.3,1650.9L795.0,1651.2L797.7,1651.5L800.3,1651.9L803.0,1652.4L805.6,1652.8L808.3,1653.3L810.9,1653.8L813.6,1654.4L816.2,1654.9L818.9,1655.5L821.6,1656.1L824.2,1656.7L826.9,1657.4L829.5,1658.0L832.2,1658.7L834.8,1659.3L837.5,1660.0L840.2,1660.7L842.8,1661.3L845.5,1662.0L848.1,1662.7L850.8,1663.4L853.4,1664.0L856.1,1664.7L858.7,1665.4L861.4,1666.0L864.1,1666.7L866.7,1667.3L869.4,1668.0L872.0,1668.6L874.7,1669.2L877.3,1669.8L880.0,1670.4L882.6,1671.0L885.3,1671.6L888.0,1672.1L890.6,1672.7L893.3,1673.2L895.9,1673.7L898.6,1674.2L901.2,1674.7L903.9,1675.2L906.6,1675.6L909.2,1676.1L911.9,1676.5L914.5,1676.9L917.2,1677.3L919.8,1677.7L922.5,1678.1L925.1,1678.4L927.8,1678.8L930.5,1679.1L933.1,1679.4L935.8,1679.7L938.4,1680.0L941.1,1680.2L943.7,1680.5L946.4,1680.7L949.0,1681.0L951.7,1681.2L954.4,1681.4L957.0,1681.6L959.7,1681.8L962.3,1681.9L965.0,1682.1L967.6,1682.2L970.3,1682.4L973.0,1682.5L975.6,1682.6L978.3,1682.7L980.9,1682.8L983.6,1682.9L986.2,1683.0L988.9,1683.0L991.5,1683.1L994.2,1683.1L996.9,1683.2L999.5,1683.2L1002.2,1683.2L1004.8,1683.3L1007.5,1683.2L1010.1,1683.2L1012.8,1683.2L1015.4,1683.1L1018.1,1683.0L1020.8,1683.0L1023.4,1682.9L1026.1,1682.8L1028.7,1682.8L1031.4,1682.7L1034.0,1682.6L1036.7,1682.5L1039.4,1682.4L1042.0,1682.3L1044.7,1682.2L1047.3,1682.1L1050.0,1682.0L1052.6,1681.9L1055.3,1681.8L1057.9,1681.7L1060.6,1681.6L1063.3,1681.4L1065.9,1681.3L1068.6,1681.2L1071.2,1681.1L1073.9,1680.9L1076.5,1680.8L1079.2,1680.7L1081.8,1680.5L1084.5,1680.4L1087.2,1680.3L1089.8,1680.1L1092.5,1680.0L1095.1,1679.8L1097.8,1679.7L1100.4,1679.5L1103.1,1679.4L1105.8,1679.2L1108.4,1679.1L1111.1,1678.9L1113.7,1678.8L1116.4,1678.6L1119.0,1678.5L1121.7,1678.3L1124.3,1678.2L1127.0,1678.0L1129.7,1677.9L1132.3,1677.7L1135.0,1677.6L1137.6,1677.4L1140.3,1677.2L1142.9,1677.1L1145.6,1676.9L1148.2,1676.8L1150.9,1676.6L1153.6,1676.4L1156.2,1676.3L1158.9,1676.1L1161.5,1676.0L1164.2,1675.8L1166.8,1675.6L1169.5,1675.5L1172.2,1675.3L1174.8,1675.1L1177.5,1675.0L1180.1,1674.8L1182.8,1674.6L1185.4,1674.5L1188.1,1674.3L1190.7,1674.1L1193.4,1674.0L1196.1,1673.8L1198.7,1673.6L1201.4,1673.5L1204.0,1673.3L1206.7,1673.1L1209.3,1673.0L1212.0,1672.8L1214.6,1672.6L1217.3,1672.5L1220.0,1672.3L1222.6,1672.1L1225.3,1671.9L1227.9,1671.8L1230.6,1671.6L1233.2,1671.4L1235.9,1671.3L1238.6,1671.1L1241.2,1670.9L1243.9,1670.7L1246.5,1670.6L1249.2,1670.4L1251.8,1670.2L1254.5,1670.0L1257.1,1669.9L1259.8,1669.7L1262.5,1669.5L1265.1,1669.3L1267.8,1669.2L1270.4,1669.0L1273.1,1668.8L1275.7,1668.7L1278.4,1668.5L1281.0,1668.3L1283.7,1668.1L1286.4,1667.9L1289.0,1667.8L1291.7,1667.6L1294.3,1667.4L1297.0,1667.2L1299.6,1667.1L1302.3,1666.9L1305.0,1666.7L1307.6,1666.5L1310.3,1666.4L1312.9,1666.2L1315.6,1666.0L1318.2,1665.8L1320.9,1665.7L1323.5,1665.5L1326.2,1665.3L1328.9,1665.1L1331.5,1664.9L1334.2,1664.8L1336.8,1664.6L1339.5,1664.4L1342.1,1664.2L1344.8,1664.1L1347.4,1663.9L1350.1,1663.7L1352.8,1663.5L1355.4,1663.3L1358.1,1663.2L1360.7,1663.0L1363.4,1662.8L1366.0,1662.6L1368.7,1662.4L1371.4,1662.3L1374.0,1662.1L1376.7,1661.9L1379.3,1661.7L1382.0,1661.5L1384.6,1661.4L1387.3,1661.2L1389.9,1661.0L1392.6,1660.8L1395.3,1660.6L1397.9,1660.5L1400.6,1660.3L1403.2,1660.1L1405.9,1659.9L1408.5,1659.7L1411.2,1659.6L1413.8,1659.4L1416.5,1659.2L1419.2,1659.0L1421.8,1658.8L1424.5,1658.7L1427.1,1658.5L1429.8,1658.3L1432.4,1658.1L1435.1,1657.9L1437.8,1657.8L1440.4,1657.6L1443.1,1657.4L1445.7,1657.2L1448.4,1657.0L1451.0,1656.8L1453.7,1656.7L1456.3,1656.5L1459.0,1656.3" stroke="#008000" stroke-width="6.4" fill="none" stroke-linejoin="round"/><path d="M131.0,1736.3L133.7,1736.1L136.3,1735.9L139.0,1735.7L141.6,1735.6L144.3,1735.4L146.9,1735.2L149.6,1735.0L152.2,1734.8L154.9,1734.7L157.6,1734.5L160.2,1734.3L162.9,1734.1L165.5,1733.9L168.2,1733.8L170.8,1733.6L173.5,1733.4L176.2,1733.2L178.8,1733.0L181.5,1732.9L184.1,1732.7L186.8,1732.5L189.4,1732.3L192.1,1732.1L194.7,1732.0L197.4,1731.8L200.1,1731.6L202.7,1731.4L205.4,1731.2L208.0,1731.1L210.7,1730.9L213.3,1730.7L216.0,1730.5L218.6,1730.3L221.3,1730.1L224.0,1730.0L226.6,1729.8L229.3,1729.6L231.9,1729.4L234.6,1729.2L237.2,1729.1L239.9,1728.9L242.6,1728.7L245.2,1728.5L247.9,1728.3L250.5,1728.2L253.2,1728.0L255.8,1727.8L258.5,1727.6L261.1,1727.4L263.8,1727.2L266.5,1727.1L269.1,1726.9L271.8,1726.7L274.4,1726.5L277.1,1726.3L279.7,1726.2L282.4,1726.0L285.0,1725.8L287.7,1725.6L290.4,1725.4L293.0,1725.2L295.7,1725.1L298.3,1724.9L301.0,1724.7L303.6,1724.5L306.3,1724.3L309.0,1724.1L311.6,1724.0L314.3,1723.8L316.9,1723.6L319.6,1723.4L322.2,1723.2L324.9,1723.0L327.5,1722.9L330.2,1722.7L332.9,1722.5L335.5,1722.3L338.2,1722.1L340.8,1721.9L343.5,1721.7L346.1,1721.6L348.8,1721.4L351.4,1721.2L354.1,1721.0L356.8,1720.8L359.4,1720.6L362.1,1720.4L364.7,1720.3L367.4,1720.1L370.0,1719.9L372.7,1719.7L375.4,1719.5L378.0,1719.3L380.7,1719.1L383.3,1719.0L386.0,1718.8L388.6,1718.6L391.3,1718.4L393.9,1718.2L396.6,1718.0L399.3,1717.8L401.9,1717.7L404.6,1717.5L407.2,1717.3L409.9,1717.1L412.5,1716.9L415.2,1716.7L417.8,1716.6L420.5,1716.4L423.2,1716.3L425.8,1716.1L428.5,1716.0L431.1,1715.8L433.8,1715.7L436.4,1715.5L439.1,1715.4L441.8,1715.2L444.4,1715.1L447.1,1714.9L449.7,1714.8L452.4,1714.6L455.0,1714.5L457.7,1714.3L460.3,1714.2L463.0,1714.0L465.7,1713.9L468.3,1713.7L471.0,1713.6L473.6,1713.4L476.3,1713.3L478.9,1713.1L481.6,1713.0L484.2,1712.8L486.9,1712.7L489.6,1712.5L492.2,1712.4L494.9,1712.2L497.5,1712.1L500.2,1711.9L502.8,1711.7L505.5,1711.6L508.2,1711.4L510.8,1711.3L513.5,1711.1L516.1,1711.0L518.8,1710.8L521.4,1710.7L524.1,1710.5L526.7,1710.4L529.4,1710.2L532.1,1710.0L534.7,1709.9L537.4,1709.7L540.0,1709.6L542.7,1709.4L545.3,1709.3L548.0,1709.1L550.6,1708.9L553.3,1708.8L556.0,1708.6L558.6,1708.5L561.3,1708.3L563.9,1708.1L566.6,1708.0L569.2,1707.8L571.9,1707.7L574.6,1707.5L577.2,1707.3L579.9,1707.2L582.5,1707.0L585.2,1706.8L587.8,1706.7L590.5,1706.5L593.1,1706.4L595.8,1706.2L598.5,1706.0L601.1,1705.9L603.8,1705.7L606.4,1705.5L609.1,1705.4L611.7,1705.2L614.4,1705.0L617.0,1704.9L619.7,1704.7L622.4,1704.5L625.0,1704.3L627.7,1704.2L630.3,1704.0L633.0,1703.8L635.6,1703.7L638.3,1703.5L641.0,1703.3L643.6,1703.1L646.3,1703.0L648.9,1702.8L651.6,1702.6L654.2,1702.4L656.9,1702.3L659.5,1702.1L662.2,1701.9L664.9,1701.7L667.5,1701.6L670.2,1701.4L672.8,1701.2L675.5,1701.0L678.1,1700.8L680.8,1700.6L683.4,1700.5L686.1,1700.3L688.8,1700.1L691.4,1699.9L694.1,1699.7L696.7,1699.5L699.4,1699.3L702.0,1699.1L704.7,1699.0L707.4,1698.8L710.0,1698.6L712.7,1698.4L715.3,1698.2L718.0,1698.0L720.6,1697.8L723.3,1697.5L725.9,1697.3L728.6,1697.1L731.3,1696.9L733.9,1696.7L736.6,1696.5L739.2,1696.3L741.9,1696.1L744.5,1695.9L747.2,1695.6L749.8,1695.4L752.5,1695.2L755.2,1695.0L757.8,1694.8L760.5,1694.5L763.1,1694.3L765.8,1694.1L768.4,1693.8L771.1,1693.6L773.8,1693.4L776.4,1693.1L779.1,1692.9L781.7,1692.6L784.4,1692.4L787.0,1692.1L789.7,1691.9L792.3,1691.6L795.0,1691.4L797.7,1691.1L800.3,1690.9L803.0,1690.6L805.6,1690.3L808.3,1690.0L810.9,1689.8L813.6,1689.5L816.2,1689.2L818.9,1688.9L821.6,1688.6L824.2,1688.3L826.9,1688.0L829.5,1687.7L832.2,1687.4L834.8,1687.0L837.5,1686.7L840.2,1686.4L842.8,1686.1L845.5,1685.7L848.1,1685.4L850.8,1685.0L853.4,1684.6L856.1,1684.3L858.7,1683.9L861.4,1683.5L864.1,1683.1L866.7,1682.7L869.4,1682.3L872.0,1681.9L874.7,1681.5L877.3,1681.0L880.0,1680.6L882.6,1680.1L885.3,1679.7L888.0,1679.2L890.6,1678.7L893.3,1678.2L895.9,1677.7L898.6,1677.2L901.2,1676.7L903.9,1676.2L906.6,1675.6L909.2,1675.0L911.9,1674.5L914.5,1673.9L917.2,1673.3L919.8,1672.7L922.5,1672.0L925.1,1671.4L927.8,1670.7L930.5,1670.1L933.1,1669.4L935.8,1668.7L938.4,1668.0L941.1,1667.2L943.7,1666.5L946.4,1665.7L949.0,1665.0L951.7,1664.2L954.4,1663.3L957.0,1662.5L959.7,1661.7L962.3,1660.8L965.0,1659.9L967.6,1659.0L970.3,1658.1L973.0,1657.2L975.6,1656.2L978.3,1655.2L980.9,1654.2L983.6,1653.2L986.2,1652.2L988.9,1651.1L991.5,1650.1L994.2,1649.0L996.9,1647.9L999.5,1646.7L1002.2,1645.6L1004.8,1644.4L1007.5,1643.2L1010.1,1642.0L1012.8,1640.7L1015.4,1639.4L1018.1,1638.1L1020.8,1636.8L1023.4,1635.5L1026.1,1634.1L1028.7,1632.7L1031.4,1631.4L1034.0,1630.0L1036.7,1628.5L1039.4,1627.1L1042.0,1625.7L1044.7,1624.2L1047.3,1622.7L1050.0,1621.3L1052.6,1619.8L1055.3,1618.3L1057.9,1616.8L1060.6,1615.3L1063.3,1613.7L1065.9,1612.2L1068.6,1610.7L1071.2,1609.1L1073.9,1607.6L1076.5,1606.1L1079.2,1604.5L1081.8,1603.0L1084.5,1601.5L1087.2,1600.0L1089.8,1598.5L1092.5,1597.0L1095.1,1595.5L1097.8,1594.0L1100.4,1592.6L1103.1,1591.1L1105.8,1589.7L1108.4,1588.3L1111.1,1587.0L1113.7,1585.6L1116.4,1584.3L1119.0,1583.1L1121.7,1581.9L1124.3,1580.7L1127.0,1579.5L1129.7,1578.4L1132.3,1577.4L1135.0,1576.4L1137.6,1575.4L1140.3,1574.5L1142.9,1573.7L1145.6,1572.9L1148.2,1572.2L1150.9,1571.5L1153.6,1570.9L1156.2,1570.4L1158.9,1569.9L1161.5,1569.5L1164.2,1569.2L1166.8,1569.0L1169.5,1568.8L1172.2,1568.7L1174.8,1568.7L1177.5,1568.7L1180.1,1568.9L1182.8,1569.2L1185.4,1569.5L1188.1,1570.0L1190.7,1570.5L1193.4,1571.1L1196.1,1571.7L1198.7,1572.5L1201.4,1573.3L1204.0,1574.2L1206.7,1575.1L1209.3,1576.1L1212.0,1577.2L1214.6,1578.2L1217.3,1579.4L1220.0,1580.6L1222.6,1581.8L1225.3,1583.0L1227.9,1584.3L1230.6,1585.6L1233.2,1586.9L1235.9,1588.3L1238.6,1589.6L1241.2,1591.0L1243.9,1592.4L1246.5,1593.8L1249.2,1595.2L1251.8,1596.5L1254.5,1597.9L1257.1,1599.3L1259.8,1600.7L1262.5,1602.1L1265.1,1603.4L1267.8,1604.8L1270.4,1606.1L1273.1,1607.4L1275.7,1608.7L1278.4,1610.0L1281.0,1611.3L1283.7,1612.5L1286.4,1613.7L1289.0,1614.9L1291.7,1616.1L1294.3,1617.3L1297.0,1618.4L1299.6,1619.5L1302.3,1620.6L1305.0,1621.7L1307.6,1622.7L1310.3,1623.7L1312.9,1624.7L1315.6,1625.7L1318.2,1626.6L1320.9,1627.6L1323.5,1628.4L1326.2,1629.3L1328.9,1630.1L1331.5,1631.0L1334.2,1631.7L1336.8,1632.5L1339.5,1633.2L1342.1,1634.0L1344.8,1634.6L1347.4,1635.3L1350.1,1635.9L1352.8,1636.6L1355.4,1637.2L1358.1,1637.7L1360.7,1638.3L1363.4,1638.8L1366.0,1639.3L1368.7,1639.8L1371.4,1640.2L1374.0,1640.7L1376.7,1641.1L1379.3,1641.5L1382.0,1641.9L1384.6,1642.3L1387.3,1642.6L1389.9,1642.9L1392.6,1643.2L1395.3,1643.5L1397.9,1643.8L1400.6,1644.1L1403.2,1644.3L1405.9,1644.5L1408.5,1644.8L1411.2,1645.0L1413.8,1645.2L1416.5,1645.3L1419.2,1645.5L1421.8,1645.6L1424.5,1645.8L1427.1,1645.9L1429.8,1646.0L1432.4,1646.1L1435.1,1646.2L1437.8,1646.3L1440.4,1646.4L1443.1,1646.5L1445.7,1646.5L1448.4,1646.6L1451.0,1646.6L1453.7,1646.7L1456.3,1646.7L1459.0,1646.7" stroke="#0000ff" stroke-width="6.4" fill="none" stroke-linejoin="round"/><path d="M131.0,1736.7L133.7,1736.5L136.3,1736.3L139.0,1736.2L141.6,1736.0L144.3,1735.8L146.9,1735.6L149.6,1735.4L152.2,1735.3L154.9,1735.1L157.6,1734.9L160.2,1734.7L162.9,1734.6L165.5,1734.4L168.2,1734.2L170.8,1734.0L173.5,1733.8L176.2,1733.7L178.8,1733.5L181.5,1733.3L184.1,1733.1L186.8,1732.9L189.4,1732.8L192.1,1732.6L194.7,1732.4L197.4,1732.2L200.1,1732.0L202.7,1731.9L205.4,1731.7L208.0,1731.5L210.7,1731.3L213.3,1731.1L216.0,1731.0L218.6,1730.8L221.3,1730.6L224.0,1730.4L226.6,1730.2L229.3,1730.1L231.9,1729.9L234.6,1729.7L237.2,1729.5L239.9,1729.3L242.6,1729.2L245.2,1729.0L247.9,1728.8L250.5,1728.6L253.2,1728.4L255.8,1728.3L258.5,1728.1L261.1,1727.9L263.8,1727.7L266.5,1727.5L269.1,1727.4L271.8,1727.2L274.4,1727.0L277.1,1726.8L279.7,1726.6L282.4,1726.4L285.0,1726.3L287.7,1726.1L290.4,1725.9L293.0,1725.7L295.7,1725.5L298.3,1725.3L301.0,1725.2L303.6,1725.0L306.3,1724.8L309.0,1724.6L311.6,1724.4L314.3,1724.2L316.9,1724.1L319.6,1723.9L322.2,1723.7L324.9,1723.5L327.5,1723.3L330.2,1723.1L332.9,1723.0L335.5,1722.8L338.2,1722.6L340.8,1722.4L343.5,1722.2L346.1,1722.0L348.8,1721.9L351.4,1721.7L354.1,1721.5L356.8,1721.3L359.4,1721.1L362.1,1720.9L364.7,1720.7L367.4,1720.6L370.0,1720.4L372.7,1720.2L375.4,1720.0L378.0,1719.8L380.7,1719.6L383.3,1719.4L386.0,1719.2L388.6,1719.1L391.3,1718.9L393.9,1718.7L396.6,1718.5L399.3,1718.3L401.9,1718.1L404.6,1717.9L407.2,1717.7L409.9,1717.5L412.5,1717.4L415.2,1717.2L417.8,1717.0L420.5,1716.9L423.2,1716.7L425.8,1716.6L428.5,1716.4L431.1,1716.3L433.8,1716.1L436.4,1716.0L439.1,1715.8L441.8,1715.7L444.4,1715.5L447.1,1715.4L449.7,1715.2L452.4,1715.0L455.0,1714.9L457.7,1714.7L460.3,1714.6L463.0,1714.4L465.7,1714.3L468.3,1714.1L471.0,1714.0L473.6,1713.8L476.3,1713.7L478.9,1713.5L481.6,1713.3L484.2,1713.2L486.9,1713.0L489.6,1712.9L492.2,1712.7L494.9,1712.5L497.5,1712.4L500.2,1712.2L502.8,1712.1L505.5,1711.9L508.2,1711.7L510.8,1711.6L513.5,1711.4L516.1,1711.3L518.8,1711.1L521.4,1710.9L524.1,1710.8L526.7,1710.6L529.4,1710.4L532.1,1710.3L534.7,1710.1L537.4,1709.9L540.0,1709.8L542.7,1709.6L545.3,1709.4L548.0,1709.2L550.6,1709.1L553.3,1708.9L556.0,1708.7L558.6,1708.6L561.3,1708.4L563.9,1708.2L566.6,1708.0L569.2,1707.9L571.9,1707.7L574.6,1707.5L577.2,1707.3L579.9,1707.1L582.5,1707.0L585.2,1706.8L587.8,1706.6L590.5,1706.4L593.1,1706.2L595.8,1706.0L598.5,1705.8L601.1,1705.6L603.8,1705.5L606.4,1705.3L609.1,1705.1L611.7,1704.9L614.4,1704.7L617.0,1704.5L619.7,1704.3L622.4,1704.1L625.0,1703.9L627.7,1703.7L630.3,1703.5L633.0,1703.3L635.6,1703.1L638.3,1702.8L641.0,1702.6L643.6,1702.4L646.3,1702.2L648.9,1702.0L651.6,1701.7L654.2,1701.5L656.9,1701.3L659.5,1701.1L662.2,1700.8L664.9,1700.6L667.5,1700.3L670.2,1700.1L672.8,1699.9L675.5,1699.6L678.1,1699.3L680.8,1699.1L683.4,1698.8L686.1,1698.5L688.8,1698.3L691.4,1698.0L694.1,1697.7L696.7,1697.4L699.4,1697.1L702.0,1696.8L704.7,1696.5L707.4,1696.1L710.0,1695.8L712.7,1695.4L715.3,1695.1L718.0,1694.7L720.6,1694.3L723.3,1693.9L725.9,1693.5L728.6,1693.1L731.3,1692.7L733.9,1692.2L736.6,1691.7L739.2,1691.3L741.9,1690.8L744.5,1690.2L747.2,1689.7L749.8,1689.1L752.5,1688.5L755.2,1687.9L757.8,1687.3L760.5,1686.6L763.1,1685.9L765.8,1685.2L768.4,1684.4L771.1,1683.6L773.8,1682.8L776.4,1681.9L779.1,1681.0L781.7,1680.1L784.4,1679.1L787.0,1678.1L789.7,1677.0L792.3,1675.9L795.0,1674.8L797.7,1673.5L800.3,1672.3L803.0,1671.0L805.6,1669.6L808.3,1668.2L810.9,1666.8L813.6,1665.2L816.2,1663.7L818.9,1662.0L821.6,1660.4L824.2,1658.6L826.9,1656.8L829.5,1654.9L832.2,1653.0L834.8,1651.0L837.5,1649.0L840.2,1646.9L842.8,1644.8L845.5,1642.6L848.1,1640.3L850.8,1638.0L853.4,1635.6L856.1,1633.2L858.7,1630.8L861.4,1628.3L864.1,1625.7L866.7,1623.2L869.4,1620.5L872.0,1617.9L874.7,1615.3L877.3,1612.6L880.0,1609.9L882.6,1607.2L885.3,1604.5L888.0,1601.8L890.6,1599.1L893.3,1596.5L895.9,1593.8L898.6,1591.3L901.2,1588.7L903.9,1586.3L906.6,1583.9L909.2,1581.5L911.9,1579.3L914.5,1577.2L917.2,1575.2L919.8,1573.3L922.5,1571.5L925.1,1569.9L927.8,1568.5L930.5,1567.2L933.1,1566.1L935.8,1565.2L938.4,1564.5L941.1,1564.0L943.7,1563.6L946.4,1563.5L949.0,1563.6L951.7,1563.9L954.4,1564.5L957.0,1565.4L959.7,1566.5L962.3,1567.7L965.0,1569.2L967.6,1570.9L970.3,1572.8L973.0,1574.8L975.6,1576.9L978.3,1579.2L980.9,1581.6L983.6,1584.0L986.2,1586.6L988.9,1589.2L991.5,1591.9L994.2,1594.6L996.9,1597.3L999.5,1600.1L1002.2,1602.8L1004.8,1605.6L1007.5,1608.3L1010.1,1610.9L1012.8,1613.5L1015.4,1616.1L1018.1,1618.7L1020.8,1621.2L1023.4,1623.6L1026.1,1626.0L1028.7,1628.3L1031.4,1630.6L1034.0,1632.8L1036.7,1634.9L1039.4,1637.0L1042.0,1638.9L1044.7,1640.8L1047.3,1642.7L1050.0,1644.4L1052.6,1646.1L1055.3,1647.7L1057.9,1649.3L1060.6,1650.7L1063.3,1652.1L1065.9,1653.5L1068.6,1654.7L1071.2,1655.9L1073.9,1657.0L1076.5,1658.1L1079.2,1659.1L1081.8,1660.0L1084.5,1660.9L1087.2,1661.7L1089.8,1662.5L1092.5,1663.2L1095.1,1663.9L1097.8,1664.5L1100.4,1665.1L1103.1,1665.6L1105.8,1666.1L1108.4,1666.5L1111.1,1667.0L1113.7,1667.3L1116.4,1667.7L1119.0,1668.0L1121.7,1668.3L1124.3,1668.5L1127.0,1668.8L1129.7,1669.0L1132.3,1669.2L1135.0,1669.3L1137.6,1669.5L1140.3,1669.6L1142.9,1669.7L1145.6,1669.8L1148.2,1669.9L1150.9,1670.0L1153.6,1670.0L1156.2,1670.1L1158.9,1670.1L1161.5,1670.1L1164.2,1670.1L1166.8,1670.1L1169.5,1670.1L1172.2,1670.1L1174.8,1670.1L1177.5,1670.1L1180.1,1670.0L1182.8,1670.0L1185.4,1669.9L1188.1,1669.9L1190.7,1669.8L1193.4,1669.8L1196.1,1669.7L1198.7,1669.6L1201.4,1669.5L1204.0,1669.5L1206.7,1669.4L1209.3,1669.3L1212.0,1669.2L1214.6,1669.1L1217.3,1669.0L1220.0,1668.9L1222.6,1668.8L1225.3,1668.7L1227.9,1668.6L1230.6,1668.5L1233.2,1668.4L1235.9,1668.3L1238.6,1668.2L1241.2,1668.0L1243.9,1667.9L1246.5,1667.8L1249.2,1667.7L1251.8,1667.6L1254.5,1667.4L1257.1,1667.3L1259.8,1667.2L1262.5,1667.1L1265.1,1666.9L1267.8,1666.8L1270.4,1666.7L1273.1,1666.5L1275.7,1666.4L1278.4,1666.3L1281.0,1666.1L1283.7,1666.0L1286.4,1665.9L1289.0,1665.7L1291.7,1665.6L1294.3,1665.4L1297.0,1665.3L1299.6,1665.2L1302.3,1665.0L1305.0,1664.9L1307.6,1664.7L1310.3,1664.6L1312.9,1664.4L1315.6,1664.3L1318.2,1664.1L1320.9,1664.0L1323.5,1663.8L1326.2,1663.7L1328.9,1663.5L1331.5,1663.4L1334.2,1663.2L1336.8,1663.1L1339.5,1662.9L1342.1,1662.7L1344.8,1662.6L1347.4,1662.4L1350.1,1662.3L1352.8,1662.1L1355.4,1662.0L1358.1,1661.8L1360.7,1661.6L1363.4,1661.5L1366.0,1661.3L1368.7,1661.2L1371.4,1661.0L1374.0,1660.8L1376.7,1660.7L1379.3,1660.5L1382.0,1660.4L1384.6,1660.2L1387.3,1660.0L1389.9,1659.9L1392.6,1659.7L1395.3,1659.5L1397.9,1659.4L1400.6,1659.2L1403.2,1659.0L1405.9,1658.9L1408.5,1658.7L1411.2,1658.5L1413.8,1658.4L1416.5,1658.2L1419.2,1658.0L1421.8,1657.9L1424.5,1657.7L1427.1,1657.5L1429.8,1657.4L1432.4,1657.2L1435.1,1657.0L1437.8,1656.9L1440.4,1656.7L1443.1,1656.5L1445.7,1656.3L1448.4,1656.2L1451.0,1656.0L1453.7,1655.8L1456.3,1655.7L1459.0,1655.5" stroke="#ff00ff" stroke-width="6.4" fill="none" stroke-linejoin="round"/><path d="M131.0,1720.4L133.7,1718.7L136.3,1717.2L139.0,1715.9L141.6,1714.8L144.3,1713.7L146.9,1712.7L149.6,1711.8L152.2,1710.9L154.9,1709.9L157.6,1708.9L160.2,1707.9L162.9,1706.7L165.5,1705.3L168.2,1703.8L170.8,1702.1L173.5,1700.1L176.2,1697.8L178.8,1695.2L181.5,1692.4L184.1,1689.3L186.8,1686.0L189.4,1682.7L192.1,1679.3L194.7,1675.8L197.4,1672.5L200.1,1669.3L202.7,1666.2L205.4,1663.4L208.0,1660.9L210.7,1658.7L213.3,1657.0L216.0,1655.7L218.6,1654.8L221.3,1654.4L224.0,1654.2L226.6,1654.4L229.3,1654.9L231.9,1655.6L234.6,1656.5L237.2,1657.7L239.9,1659.0L242.6,1660.4L245.2,1661.9L247.9,1663.5L250.5,1665.1L253.2,1666.7L255.8,1668.3L258.5,1669.8L261.1,1671.2L263.8,1672.6L266.5,1673.8L269.1,1674.8L271.8,1675.6L274.4,1676.2L277.1,1676.6L279.7,1676.7L282.4,1676.7L285.0,1676.4L287.7,1675.9L290.4,1675.2L293.0,1674.3L295.7,1673.2L298.3,1671.8L301.0,1670.3L303.6,1668.6L306.3,1666.7L309.0,1664.6L311.6,1662.3L314.3,1659.9L316.9,1657.2L319.6,1654.4L322.2,1651.5L324.9,1648.5L327.5,1645.4L330.2,1642.3L332.9,1639.2L335.5,1636.0L338.2,1632.9L340.8,1629.8L343.5,1626.8L346.1,1623.9L348.8,1621.1L351.4,1618.5L354.1,1616.0L356.8,1613.7L359.4,1611.7L362.1,1609.8L364.7,1608.2L367.4,1606.8L370.0,1605.6L372.7,1604.7L375.4,1604.0L378.0,1603.6L380.7,1603.4L383.3,1603.5L386.0,1603.9L388.6,1604.6L391.3,1605.5L393.9,1606.7L396.6,1608.2L399.3,1609.9L401.9,1611.7L404.6,1613.6L407.2,1615.5L409.9,1617.3L412.5,1619.0L415.2,1620.6L417.8,1622.1L420.5,1623.4L423.2,1624.5L425.8,1625.4L428.5,1626.2L431.1,1626.7L433.8,1626.9L436.4,1626.9L439.1,1626.7L441.8,1626.2L444.4,1625.4L447.1,1624.4L449.7,1623.2L452.4,1621.8L455.0,1620.2L457.7,1618.5L460.3,1616.6L463.0,1614.6L465.7,1612.4L468.3,1610.2L471.0,1607.8L473.6,1605.4L476.3,1602.9L478.9,1600.4L481.6,1597.8L484.2,1595.3L486.9,1592.8L489.6,1590.4L492.2,1588.2L494.9,1586.1L497.5,1584.3L500.2,1582.7L502.8,1581.4L505.5,1580.4L508.2,1579.8L510.8,1579.6L513.5,1579.8L516.1,1580.5L518.8,1581.6L521.4,1583.0L524.1,1584.7L526.7,1586.6L529.4,1588.8L532.1,1591.3L534.7,1593.8L537.4,1596.5L540.0,1599.3L542.7,1602.1L545.3,1605.0L548.0,1607.8L550.6,1610.6L553.3,1613.3L556.0,1615.9L558.6,1618.4L561.3,1620.8L563.9,1623.1L566.6,1625.3L569.2,1627.4L571.9,1629.4L574.6,1631.3L577.2,1633.2L579.9,1634.9L582.5,1636.5L585.2,1638.1L587.8,1639.6L590.5,1640.9L593.1,1642.2L595.8,1643.4L598.5,1644.5L601.1,1645.5L603.8,1646.5L606.4,1647.3L609.1,1648.1L611.7,1648.7L614.4,1649.3L617.0,1649.8L619.7,1650.2L622.4,1650.5L625.0,1650.7L627.7,1650.9L630.3,1650.9L633.0,1650.9L635.6,1650.8L638.3,1650.6L641.0,1650.3L643.6,1650.0L646.3,1649.6L648.9,1649.1L651.6,1648.6L654.2,1648.0L656.9,1647.4L659.5,1646.7L662.2,1646.0L664.9,1645.2L667.5,1644.4L670.2,1643.6L672.8,1642.8L675.5,1641.9L678.1,1641.1L680.8,1640.2L683.4,1639.4L686.1,1638.5L688.8,1637.6L691.4,1636.8L694.1,1636.0L696.7,1635.2L699.4,1634.4L702.0,1633.6L704.7,1632.9L707.4,1632.2L710.0,1631.5L712.7,1630.8L715.3,1630.2L718.0,1629.5L720.6,1628.9L723.3,1628.3L725.9,1627.7L728.6,1627.1L731.3,1626.6L733.9,1626.0L736.6,1625.5L739.2,1624.9L741.9,1624.4L744.5,1623.8L747.2,1623.3L749.8,1622.7L752.5,1622.2L755.2,1621.6L757.8,1621.1L760.5,1620.5L763.1,1620.0L765.8,1619.4L768.4,1618.8L771.1,1618.2L773.8,1617.6L776.4,1617.0L779.1,1616.4L781.7,1615.7L784.4,1615.1L787.0,1614.4L789.7,1613.7L792.3,1613.0L795.0,1612.2L797.7,1611.5L800.3,1610.7L803.0,1609.8L805.6,1609.0L808.3,1608.1L810.9,1607.2L813.6,1606.2L816.2,1605.2L818.9,1604.2L821.6,1603.2L824.2,1602.1L826.9,1600.9L829.5,1599.8L832.2,1598.6L834.8,1597.3L837.5,1596.0L840.2,1594.6L842.8,1593.3L845.5,1591.8L848.1,1590.3L850.8,1588.8L853.4,1587.2L856.1,1585.5L858.7,1583.8L861.4,1582.0L864.1,1580.2L866.7,1578.3L869.4,1576.4L872.0,1574.4L874.7,1572.4L877.3,1570.3L880.0,1568.2L882.6,1566.0L885.3,1563.8L888.0,1561.5L890.6,1559.1L893.3,1556.7L895.9,1554.3L898.6,1551.8L901.2,1549.3L903.9,1546.8L906.6,1544.4L909.2,1542.0L911.9,1539.7L914.5,1537.5L917.2,1535.4L919.8,1533.4L922.5,1531.7L925.1,1530.0L927.8,1528.6L930.5,1527.4L933.1,1526.5L935.8,1525.8L938.4,1525.3L941.1,1525.0L943.7,1525.0L946.4,1525.1L949.0,1525.4L951.7,1525.8L954.4,1526.5L957.0,1527.3L959.7,1528.2L962.3,1529.2L965.0,1530.4L967.6,1531.6L970.3,1533.0L973.0,1534.4L975.6,1535.9L978.3,1537.5L980.9,1539.1L983.6,1540.8L986.2,1542.5L988.9,1544.2L991.5,1545.9L994.2,1547.6L996.9,1549.3L999.5,1551.0L1002.2,1552.7L1004.8,1554.4L1007.5,1556.0L1010.1,1557.5L1012.8,1559.1L1015.4,1560.5L1018.1,1561.9L1020.8,1563.3L1023.4,1564.5L1026.1,1565.7L1028.7,1566.8L1031.4,1567.7L1034.0,1568.6L1036.7,1569.4L1039.4,1570.1L1042.0,1570.7L1044.7,1571.2L1047.3,1571.6L1050.0,1572.0L1052.6,1572.3L1055.3,1572.5L1057.9,1572.6L1060.6,1572.7L1063.3,1572.7L1065.9,1572.6L1068.6,1572.5L1071.2,1572.3L1073.9,1572.1L1076.5,1571.8L1079.2,1571.5L1081.8,1571.1L1084.5,1570.6L1087.2,1570.2L1089.8,1569.7L1092.5,1569.1L1095.1,1568.5L1097.8,1567.9L1100.4,1567.3L1103.1,1566.6L1105.8,1566.0L1108.4,1565.3L1111.1,1564.6L1113.7,1563.9L1116.4,1563.2L1119.0,1562.5L1121.7,1561.9L1124.3,1561.2L1127.0,1560.6L1129.7,1560.0L1132.3,1559.4L1135.0,1558.8L1137.6,1558.3L1140.3,1557.8L1142.9,1557.4L1145.6,1557.0L1148.2,1556.7L1150.9,1556.4L1153.6,1556.2L1156.2,1556.0L1158.9,1556.0L1161.5,1556.0L1164.2,1556.0L1166.8,1556.2L1169.5,1556.4L1172.2,1556.7L1174.8,1557.0L1177.5,1557.4L1180.1,1557.9L1182.8,1558.4L1185.4,1559.0L1188.1,1559.6L1190.7,1560.3L1193.4,1561.0L1196.1,1561.8L1198.7,1562.6L1201.4,1563.5L1204.0,1564.4L1206.7,1565.3L1209.3,1566.3L1212.0,1567.3L1214.6,1568.3L1217.3,1569.3L1220.0,1570.4L1222.6,1571.5L1225.3,1572.6L1227.9,1573.8L1230.6,1574.9L1233.2,1576.1L1235.9,1577.3L1238.6,1578.5L1241.2,1579.7L1243.9,1581.0L1246.5,1582.2L1249.2,1583.5L1251.8,1584.7L1254.5,1586.0L1257.1,1587.3L1259.8,1588.5L1262.5,1589.8L1265.1,1591.1L1267.8,1592.4L1270.4,1593.7L1273.1,1595.0L1275.7,1596.2L1278.4,1597.5L1281.0,1598.8L1283.7,1600.1L1286.4,1601.3L1289.0,1602.6L1291.7,1603.8L1294.3,1605.1L1297.0,1606.3L1299.6,1607.5L1302.3,1608.7L1305.0,1609.9L1307.6,1611.1L1310.3,1612.3L1312.9,1613.4L1315.6,1614.5L1318.2,1615.6L1320.9,1616.7L1323.5,1617.8L1326.2,1618.8L1328.9,1619.8L1331.5,1620.8L1334.2,1621.8L1336.8,1622.7L1339.5,1623.6L1342.1,1624.5L1344.8,1625.3L1347.4,1626.1L1350.1,1626.9L1352.8,1627.6L1355.4,1628.3L1358.1,1629.0L1360.7,1629.6L1363.4,1630.2L1366.0,1630.8L1368.7,1631.3L1371.4,1631.8L1374.0,1632.3L1376.7,1632.7L1379.3,1633.2L1382.0,1633.6L1384.6,1633.9L1387.3,1634.3L1389.9,1634.6L1392.6,1634.9L1395.3,1635.2L1397.9,1635.4L1400.6,1635.7L1403.2,1635.9L1405.9,1636.1L1408.5,1636.3L1411.2,1636.5L1413.8,1636.7L1416.5,1636.9L1419.2,1637.0L1421.8,1637.2L1424.5,1637.3L1427.1,1637.4L1429.8,1637.6L1432.4,1637.7L1435.1,1637.8L1437.8,1637.9L1440.4,1638.1L1443.1,1638.2L1445.7,1638.3L1448.4,1638.5L1451.0,1638.6L1453.7,1638.7L1456.3,1638.9L1459.0,1639.0" stroke="#ff0000" stroke-width="7.3" fill="none" stroke-linejoin="round"/><clipPath id="cpe"><rect x="135" y="2038" width="1322" height="463"/></clipPath><g fill="none" stroke="#808080" stroke-width="1.8" clip-path="url(#cpe)"><circle cx="152.0" cy="2438.8" r="9.5"/><circle cx="155.4" cy="2437.1" r="9.5"/><circle cx="158.8" cy="2436.6" r="9.5"/><circle cx="162.2" cy="2432.5" r="9.5"/><circle cx="165.6" cy="2437.4" r="9.5"/><circle cx="169.0" cy="2435.6" r="9.5"/><circle cx="172.4" cy="2442.6" r="9.5"/><circle cx="175.8" cy="2428.1" r="9.5"/><circle cx="179.2" cy="2451.1" r="9.5"/><circle cx="182.6" cy="2413.5" r="9.5"/><circle cx="186.0" cy="2433.8" r="9.5"/><circle cx="189.4" cy="2438.4" r="9.5"/><circle cx="192.8" cy="2431.1" r="9.5"/><circle cx="196.2" cy="2427.3" r="9.5"/><circle cx="199.6" cy="2430.9" r="9.5"/><circle cx="203.0" cy="2434.5" r="9.5"/><circle cx="206.4" cy="2436.7" r="9.5"/><circle cx="209.8" cy="2420.9" r="9.5"/><circle cx="213.2" cy="2429.4" r="9.5"/><circle cx="216.6" cy="2424.3" r="9.5"/><circle cx="220.0" cy="2431.6" r="9.5"/><circle cx="223.4" cy="2423.4" r="9.5"/><circle cx="226.8" cy="2425.3" r="9.5"/><circle cx="230.2" cy="2428.1" r="9.5"/><circle cx="233.6" cy="2421.4" r="9.5"/><circle cx="237.0" cy="2422.2" r="9.5"/><circle cx="240.4" cy="2417.6" r="9.5"/><circle cx="243.8" cy="2417.9" r="9.5"/><circle cx="247.2" cy="2411.5" r="9.5"/><circle cx="250.6" cy="2413.4" r="9.5"/><circle cx="254.0" cy="2413.0" r="9.5"/><circle cx="257.4" cy="2410.8" r="9.5"/><circle cx="260.8" cy="2417.9" r="9.5"/><circle cx="264.2" cy="2402.1" r="9.5"/><circle cx="267.6" cy="2400.1" r="9.5"/><circle cx="271.0" cy="2405.4" r="9.5"/><circle cx="274.4" cy="2404.0" r="9.5"/><circle cx="277.8" cy="2399.7" r="9.5"/><circle cx="281.2" cy="2399.6" r="9.5"/><circle cx="284.6" cy="2399.1" r="9.5"/><circle cx="288.0" cy="2387.3" r="9.5"/><circle cx="291.4" cy="2380.5" r="9.5"/><circle cx="294.8" cy="2379.6" r="9.5"/><circle cx="298.2" cy="2379.0" r="9.5"/><circle cx="301.6" cy="2371.5" r="9.5"/><circle cx="305.0" cy="2364.0" r="9.5"/><circle cx="308.4" cy="2359.7" r="9.5"/><circle cx="311.8" cy="2353.4" r="9.5"/><circle cx="315.2" cy="2340.5" r="9.5"/><circle cx="318.6" cy="2340.3" r="9.5"/><circle cx="322.0" cy="2329.0" r="9.5"/><circle cx="325.4" cy="2323.1" r="9.5"/><circle cx="328.8" cy="2314.1" r="9.5"/><circle cx="332.2" cy="2307.5" r="9.5"/><circle cx="335.6" cy="2301.7" r="9.5"/><circle cx="339.0" cy="2289.7" r="9.5"/><circle cx="342.4" cy="2282.8" r="9.5"/><circle cx="345.8" cy="2277.5" r="9.5"/><circle cx="349.2" cy="2269.3" r="9.5"/><circle cx="352.6" cy="2259.9" r="9.5"/><circle cx="356.0" cy="2259.2" r="9.5"/><circle cx="359.4" cy="2250.7" r="9.5"/><circle cx="362.8" cy="2246.7" r="9.5"/><circle cx="366.2" cy="2243.9" r="9.5"/><circle cx="369.6" cy="2243.5" r="9.5"/><circle cx="373.0" cy="2231.4" r="9.5"/><circle cx="376.4" cy="2228.1" r="9.5"/><circle cx="379.8" cy="2225.2" r="9.5"/><circle cx="383.2" cy="2217.8" r="9.5"/><circle cx="386.6" cy="2217.2" r="9.5"/><circle cx="390.0" cy="2217.9" r="9.5"/><circle cx="393.4" cy="2206.6" r="9.5"/><circle cx="396.8" cy="2211.7" r="9.5"/><circle cx="400.2" cy="2209.5" r="9.5"/><circle cx="403.6" cy="2218.3" r="9.5"/><circle cx="407.0" cy="2213.5" r="9.5"/><circle cx="410.4" cy="2214.4" r="9.5"/><circle cx="413.8" cy="2214.1" r="9.5"/><circle cx="417.2" cy="2214.1" r="9.5"/><circle cx="420.6" cy="2220.8" r="9.5"/><circle cx="424.0" cy="2225.0" r="9.5"/><circle cx="427.4" cy="2227.5" r="9.5"/><circle cx="430.8" cy="2236.7" r="9.5"/><circle cx="434.2" cy="2237.5" r="9.5"/><circle cx="437.6" cy="2236.7" r="9.5"/><circle cx="441.0" cy="2243.1" r="9.5"/><circle cx="444.4" cy="2250.6" r="9.5"/><circle cx="447.8" cy="2251.9" r="9.5"/><circle cx="451.2" cy="2261.7" r="9.5"/><circle cx="454.6" cy="2267.5" r="9.5"/><circle cx="458.0" cy="2277.6" r="9.5"/><circle cx="461.4" cy="2285.4" r="9.5"/><circle cx="464.8" cy="2291.1" r="9.5"/><circle cx="468.2" cy="2305.2" r="9.5"/><circle cx="471.6" cy="2307.7" r="9.5"/><circle cx="475.0" cy="2319.7" r="9.5"/><circle cx="478.4" cy="2322.4" r="9.5"/><circle cx="481.8" cy="2330.7" r="9.5"/><circle cx="485.2" cy="2339.6" r="9.5"/><circle cx="488.6" cy="2347.9" r="9.5"/><circle cx="492.0" cy="2359.2" r="9.5"/><circle cx="495.4" cy="2359.3" r="9.5"/><circle cx="498.8" cy="2376.1" r="9.5"/><circle cx="502.2" cy="2374.0" r="9.5"/><circle cx="505.6" cy="2388.8" r="9.5"/><circle cx="509.0" cy="2390.9" r="9.5"/><circle cx="512.4" cy="2394.5" r="9.5"/><circle cx="515.8" cy="2404.0" r="9.5"/><circle cx="519.2" cy="2404.9" r="9.5"/><circle cx="522.6" cy="2410.8" r="9.5"/><circle cx="526.0" cy="2415.0" r="9.5"/><circle cx="529.4" cy="2427.6" r="9.5"/><circle cx="532.8" cy="2417.6" r="9.5"/><circle cx="536.2" cy="2432.2" r="9.5"/><circle cx="539.6" cy="2424.6" r="9.5"/><circle cx="543.0" cy="2424.0" r="9.5"/><circle cx="546.4" cy="2426.4" r="9.5"/><circle cx="549.8" cy="2437.3" r="9.5"/><circle cx="553.2" cy="2430.0" r="9.5"/><circle cx="556.6" cy="2427.4" r="9.5"/><circle cx="560.0" cy="2436.7" r="9.5"/><circle cx="563.4" cy="2435.4" r="9.5"/><circle cx="566.8" cy="2441.1" r="9.5"/><circle cx="570.2" cy="2427.1" r="9.5"/><circle cx="573.6" cy="2445.1" r="9.5"/><circle cx="577.0" cy="2443.7" r="9.5"/><circle cx="580.4" cy="2430.8" r="9.5"/><circle cx="583.8" cy="2433.6" r="9.5"/><circle cx="587.2" cy="2439.2" r="9.5"/><circle cx="590.6" cy="2434.4" r="9.5"/><circle cx="594.0" cy="2441.7" r="9.5"/><circle cx="597.4" cy="2440.2" r="9.5"/><circle cx="600.8" cy="2436.0" r="9.5"/><circle cx="604.2" cy="2428.3" r="9.5"/><circle cx="607.6" cy="2422.2" r="9.5"/><circle cx="611.0" cy="2438.0" r="9.5"/><circle cx="614.4" cy="2427.4" r="9.5"/><circle cx="617.8" cy="2443.8" r="9.5"/><circle cx="621.2" cy="2448.2" r="9.5"/><circle cx="624.6" cy="2436.9" r="9.5"/><circle cx="628.0" cy="2442.0" r="9.5"/><circle cx="631.4" cy="2444.7" r="9.5"/><circle cx="634.8" cy="2441.8" r="9.5"/><circle cx="638.2" cy="2428.4" r="9.5"/><circle cx="641.6" cy="2429.3" r="9.5"/><circle cx="645.0" cy="2432.8" r="9.5"/><circle cx="648.4" cy="2436.9" r="9.5"/><circle cx="651.8" cy="2430.4" r="9.5"/><circle cx="655.2" cy="2437.8" r="9.5"/><circle cx="658.6" cy="2445.5" r="9.5"/><circle cx="662.0" cy="2433.7" r="9.5"/><circle cx="665.4" cy="2436.7" r="9.5"/><circle cx="668.8" cy="2429.7" r="9.5"/><circle cx="672.2" cy="2435.8" r="9.5"/><circle cx="675.6" cy="2443.2" r="9.5"/><circle cx="679.0" cy="2446.3" r="9.5"/><circle cx="682.4" cy="2438.6" r="9.5"/><circle cx="685.8" cy="2431.4" r="9.5"/><circle cx="689.2" cy="2451.2" r="9.5"/><circle cx="692.6" cy="2422.5" r="9.5"/><circle cx="696.0" cy="2434.1" r="9.5"/><circle cx="699.4" cy="2431.9" r="9.5"/><circle cx="702.8" cy="2437.5" r="9.5"/><circle cx="706.2" cy="2441.8" r="9.5"/><circle cx="709.6" cy="2434.5" r="9.5"/><circle cx="713.0" cy="2463.9" r="9.5"/><circle cx="716.4" cy="2453.0" r="9.5"/><circle cx="719.8" cy="2444.3" r="9.5"/><circle cx="723.2" cy="2434.5" r="9.5"/><circle cx="726.6" cy="2426.7" r="9.5"/><circle cx="730.0" cy="2446.5" r="9.5"/><circle cx="733.4" cy="2444.0" r="9.5"/><circle cx="736.8" cy="2440.8" r="9.5"/><circle cx="740.2" cy="2447.6" r="9.5"/><circle cx="743.6" cy="2440.2" r="9.5"/><circle cx="747.0" cy="2426.4" r="9.5"/><circle cx="750.4" cy="2422.8" r="9.5"/><circle cx="753.8" cy="2432.7" r="9.5"/><circle cx="757.2" cy="2435.5" r="9.5"/><circle cx="760.6" cy="2437.9" r="9.5"/><circle cx="764.0" cy="2434.8" r="9.5"/><circle cx="767.4" cy="2431.0" r="9.5"/><circle cx="770.8" cy="2426.3" r="9.5"/><circle cx="774.2" cy="2433.0" r="9.5"/><circle cx="777.6" cy="2432.4" r="9.5"/><circle cx="781.0" cy="2424.4" r="9.5"/><circle cx="784.4" cy="2421.3" r="9.5"/><circle cx="787.8" cy="2422.3" r="9.5"/><circle cx="791.2" cy="2418.5" r="9.5"/><circle cx="794.6" cy="2421.0" r="9.5"/><circle cx="798.0" cy="2414.4" r="9.5"/><circle cx="801.4" cy="2416.7" r="9.5"/><circle cx="804.8" cy="2410.4" r="9.5"/><circle cx="808.2" cy="2411.6" r="9.5"/><circle cx="811.6" cy="2414.2" r="9.5"/><circle cx="815.0" cy="2399.4" r="9.5"/><circle cx="818.4" cy="2399.1" r="9.5"/><circle cx="821.8" cy="2401.7" r="9.5"/><circle cx="825.2" cy="2392.0" r="9.5"/><circle cx="828.6" cy="2384.1" r="9.5"/><circle cx="832.0" cy="2379.0" r="9.5"/><circle cx="835.4" cy="2369.7" r="9.5"/><circle cx="838.8" cy="2358.7" r="9.5"/><circle cx="842.2" cy="2347.0" r="9.5"/><circle cx="845.6" cy="2344.1" r="9.5"/><circle cx="849.0" cy="2335.1" r="9.5"/><circle cx="852.4" cy="2330.6" r="9.5"/><circle cx="855.8" cy="2317.6" r="9.5"/><circle cx="859.2" cy="2301.1" r="9.5"/><circle cx="862.6" cy="2296.5" r="9.5"/><circle cx="866.0" cy="2279.9" r="9.5"/><circle cx="869.4" cy="2276.2" r="9.5"/><circle cx="872.8" cy="2258.0" r="9.5"/><circle cx="876.2" cy="2253.0" r="9.5"/><circle cx="879.6" cy="2240.9" r="9.5"/><circle cx="883.0" cy="2230.7" r="9.5"/><circle cx="886.4" cy="2228.9" r="9.5"/><circle cx="889.8" cy="2219.0" r="9.5"/><circle cx="893.2" cy="2206.6" r="9.5"/><circle cx="896.6" cy="2209.9" r="9.5"/><circle cx="900.0" cy="2199.2" r="9.5"/><circle cx="903.4" cy="2193.8" r="9.5"/><circle cx="906.8" cy="2188.0" r="9.5"/><circle cx="910.2" cy="2181.1" r="9.5"/><circle cx="913.6" cy="2170.1" r="9.5"/><circle cx="917.0" cy="2156.6" r="9.5"/><circle cx="920.4" cy="2147.4" r="9.5"/><circle cx="923.8" cy="2135.6" r="9.5"/><circle cx="927.2" cy="2128.2" r="9.5"/><circle cx="930.6" cy="2117.7" r="9.5"/><circle cx="934.0" cy="2115.1" r="9.5"/><circle cx="937.4" cy="2106.2" r="9.5"/><circle cx="940.8" cy="2110.6" r="9.5"/><circle cx="944.2" cy="2113.2" r="9.5"/><circle cx="947.6" cy="2109.8" r="9.5"/><circle cx="951.0" cy="2107.1" r="9.5"/><circle cx="954.4" cy="2114.0" r="9.5"/><circle cx="957.8" cy="2112.3" r="9.5"/><circle cx="961.2" cy="2121.2" r="9.5"/><circle cx="964.6" cy="2132.8" r="9.5"/><circle cx="968.0" cy="2138.0" r="9.5"/><circle cx="971.4" cy="2143.3" r="9.5"/><circle cx="974.8" cy="2149.9" r="9.5"/><circle cx="978.2" cy="2155.5" r="9.5"/><circle cx="981.6" cy="2167.5" r="9.5"/><circle cx="985.0" cy="2174.6" r="9.5"/><circle cx="988.4" cy="2178.6" r="9.5"/><circle cx="991.8" cy="2179.9" r="9.5"/><circle cx="995.2" cy="2187.3" r="9.5"/><circle cx="998.6" cy="2190.9" r="9.5"/><circle cx="1002.0" cy="2198.6" r="9.5"/><circle cx="1005.4" cy="2214.0" r="9.5"/><circle cx="1008.8" cy="2225.2" r="9.5"/><circle cx="1012.2" cy="2231.5" r="9.5"/><circle cx="1015.6" cy="2244.7" r="9.5"/><circle cx="1019.0" cy="2262.8" r="9.5"/><circle cx="1022.4" cy="2270.6" r="9.5"/><circle cx="1025.8" cy="2290.9" r="9.5"/><circle cx="1029.2" cy="2303.5" r="9.5"/><circle cx="1032.6" cy="2307.8" r="9.5"/><circle cx="1036.0" cy="2321.4" r="9.5"/><circle cx="1039.4" cy="2335.5" r="9.5"/><circle cx="1042.8" cy="2345.0" r="9.5"/><circle cx="1046.2" cy="2350.1" r="9.5"/><circle cx="1049.6" cy="2357.5" r="9.5"/><circle cx="1053.0" cy="2364.1" r="9.5"/><circle cx="1056.4" cy="2373.6" r="9.5"/><circle cx="1059.8" cy="2380.3" r="9.5"/><circle cx="1063.2" cy="2384.1" r="9.5"/><circle cx="1066.6" cy="2389.4" r="9.5"/><circle cx="1070.0" cy="2396.6" r="9.5"/><circle cx="1073.4" cy="2401.8" r="9.5"/><circle cx="1076.8" cy="2406.3" r="9.5"/><circle cx="1080.2" cy="2408.4" r="9.5"/><circle cx="1083.6" cy="2417.0" r="9.5"/><circle cx="1087.0" cy="2423.8" r="9.5"/><circle cx="1090.4" cy="2424.6" r="9.5"/><circle cx="1093.8" cy="2433.2" r="9.5"/><circle cx="1097.2" cy="2431.4" r="9.5"/><circle cx="1100.6" cy="2435.5" r="9.5"/><circle cx="1104.0" cy="2437.8" r="9.5"/><circle cx="1107.4" cy="2420.8" r="9.5"/><circle cx="1110.8" cy="2439.2" r="9.5"/><circle cx="1114.2" cy="2442.4" r="9.5"/><circle cx="1117.6" cy="2427.8" r="9.5"/><circle cx="1121.0" cy="2423.3" r="9.5"/><circle cx="1124.4" cy="2429.7" r="9.5"/><circle cx="1127.8" cy="2434.8" r="9.5"/><circle cx="1131.2" cy="2440.0" r="9.5"/><circle cx="1134.6" cy="2426.4" r="9.5"/><circle cx="1138.0" cy="2436.9" r="9.5"/><circle cx="1141.4" cy="2429.8" r="9.5"/><circle cx="1144.8" cy="2440.9" r="9.5"/><circle cx="1148.2" cy="2438.5" r="9.5"/><circle cx="1151.6" cy="2441.5" r="9.5"/><circle cx="1155.0" cy="2435.9" r="9.5"/><circle cx="1158.4" cy="2437.0" r="9.5"/><circle cx="1161.8" cy="2448.3" r="9.5"/><circle cx="1165.2" cy="2431.9" r="9.5"/><circle cx="1168.6" cy="2441.4" r="9.5"/><circle cx="1172.0" cy="2437.0" r="9.5"/><circle cx="1175.4" cy="2439.7" r="9.5"/><circle cx="1178.8" cy="2435.9" r="9.5"/><circle cx="1182.2" cy="2453.3" r="9.5"/><circle cx="1185.6" cy="2451.7" r="9.5"/><circle cx="1189.0" cy="2441.0" r="9.5"/><circle cx="1192.4" cy="2461.4" r="9.5"/><circle cx="1195.8" cy="2445.8" r="9.5"/><circle cx="1199.2" cy="2457.7" r="9.5"/><circle cx="1202.6" cy="2434.6" r="9.5"/><circle cx="1206.0" cy="2439.7" r="9.5"/><circle cx="1209.4" cy="2438.9" r="9.5"/><circle cx="1212.8" cy="2464.1" r="9.5"/><circle cx="1216.2" cy="2454.1" r="9.5"/><circle cx="1219.6" cy="2442.1" r="9.5"/><circle cx="1223.0" cy="2448.2" r="9.5"/><circle cx="1226.4" cy="2444.7" r="9.5"/><circle cx="1229.8" cy="2444.8" r="9.5"/><circle cx="1233.2" cy="2437.5" r="9.5"/><circle cx="1236.6" cy="2454.8" r="9.5"/><circle cx="1240.0" cy="2449.8" r="9.5"/><circle cx="1243.4" cy="2439.1" r="9.5"/><circle cx="1246.8" cy="2450.0" r="9.5"/><circle cx="1250.2" cy="2455.2" r="9.5"/><circle cx="1253.6" cy="2449.1" r="9.5"/><circle cx="1257.0" cy="2443.9" r="9.5"/><circle cx="1260.4" cy="2452.9" r="9.5"/><circle cx="1263.8" cy="2454.0" r="9.5"/><circle cx="1267.2" cy="2465.7" r="9.5"/><circle cx="1270.6" cy="2442.1" r="9.5"/><circle cx="1274.0" cy="2450.5" r="9.5"/><circle cx="1277.4" cy="2447.2" r="9.5"/><circle cx="1280.8" cy="2442.6" r="9.5"/><circle cx="1284.2" cy="2447.8" r="9.5"/><circle cx="1287.6" cy="2433.9" r="9.5"/><circle cx="1291.0" cy="2439.5" r="9.5"/><circle cx="1294.4" cy="2433.9" r="9.5"/><circle cx="1297.8" cy="2449.4" r="9.5"/><circle cx="1301.2" cy="2443.3" r="9.5"/><circle cx="1304.6" cy="2438.0" r="9.5"/><circle cx="1308.0" cy="2442.6" r="9.5"/><circle cx="1311.4" cy="2452.1" r="9.5"/><circle cx="1314.8" cy="2443.0" r="9.5"/><circle cx="1318.2" cy="2422.4" r="9.5"/><circle cx="1321.6" cy="2468.0" r="9.5"/><circle cx="1325.0" cy="2443.6" r="9.5"/><circle cx="1328.4" cy="2455.4" r="9.5"/><circle cx="1331.8" cy="2436.8" r="9.5"/><circle cx="1335.2" cy="2443.1" r="9.5"/><circle cx="1338.6" cy="2447.8" r="9.5"/><circle cx="1342.0" cy="2449.4" r="9.5"/><circle cx="1345.4" cy="2442.1" r="9.5"/><circle cx="1348.8" cy="2463.9" r="9.5"/><circle cx="1352.2" cy="2440.0" r="9.5"/><circle cx="1355.6" cy="2443.5" r="9.5"/><circle cx="1359.0" cy="2466.9" r="9.5"/><circle cx="1362.4" cy="2448.2" r="9.5"/><circle cx="1365.8" cy="2431.1" r="9.5"/><circle cx="1369.2" cy="2453.2" r="9.5"/><circle cx="1372.6" cy="2452.1" r="9.5"/><circle cx="1376.0" cy="2459.7" r="9.5"/><circle cx="1379.4" cy="2465.4" r="9.5"/><circle cx="1382.8" cy="2448.0" r="9.5"/><circle cx="1386.2" cy="2457.4" r="9.5"/><circle cx="1389.6" cy="2447.7" r="9.5"/><circle cx="1393.0" cy="2438.5" r="9.5"/><circle cx="1396.4" cy="2439.1" r="9.5"/><circle cx="1399.8" cy="2438.3" r="9.5"/><circle cx="1403.2" cy="2432.6" r="9.5"/><circle cx="1406.6" cy="2462.0" r="9.5"/><circle cx="1410.0" cy="2440.5" r="9.5"/><circle cx="1413.4" cy="2434.8" r="9.5"/><circle cx="1416.8" cy="2446.4" r="9.5"/><circle cx="1420.2" cy="2435.3" r="9.5"/><circle cx="1423.6" cy="2457.8" r="9.5"/><circle cx="1427.0" cy="2465.8" r="9.5"/><circle cx="1430.4" cy="2452.1" r="9.5"/><circle cx="1433.8" cy="2446.7" r="9.5"/><circle cx="1437.2" cy="2444.3" r="9.5"/><circle cx="1440.6" cy="2452.8" r="9.5"/><circle cx="1444.0" cy="2456.8" r="9.5"/><circle cx="1447.4" cy="2457.7" r="9.5"/><circle cx="1450.8" cy="2444.2" r="9.5"/><circle cx="1454.2" cy="2450.9" r="9.5"/><circle cx="1457.6" cy="2434.6" r="9.5"/></g><path d="M157.0,2449.0L159.6,2449.0L162.2,2449.0L164.8,2449.0L167.4,2449.0L170.0,2449.0L172.7,2449.0L175.3,2449.0L177.9,2449.0L180.5,2449.0L183.1,2449.0L185.7,2449.1L188.3,2449.1L190.9,2449.1L193.5,2449.1L196.1,2449.1L198.7,2449.1L201.4,2449.1L204.0,2449.1L206.6,2449.1L209.2,2449.1L211.8,2449.1L214.4,2449.1L217.0,2449.1L219.6,2449.1L222.2,2449.1L224.8,2449.1L227.4,2449.1L230.1,2449.1L232.7,2449.1L235.3,2449.1L237.9,2449.2L240.5,2449.2L243.1,2449.2L245.7,2449.2L248.3,2449.2L250.9,2449.2L253.5,2449.2L256.1,2449.2L258.8,2449.2L261.4,2449.2L264.0,2449.2L266.6,2449.2L269.2,2449.2L271.8,2449.2L274.4,2449.2L277.0,2449.2L279.6,2449.2L282.2,2449.2L284.8,2449.2L287.4,2449.2L290.1,2449.3L292.7,2449.3L295.3,2449.3L297.9,2449.3L300.5,2449.3L303.1,2449.3L305.7,2449.3L308.3,2449.3L310.9,2449.3L313.5,2449.3L316.1,2449.3L318.8,2449.3L321.4,2449.3L324.0,2449.3L326.6,2449.3L329.2,2449.3L331.8,2449.3L334.4,2449.3L337.0,2449.3L339.6,2449.3L342.2,2449.4L344.8,2449.4L347.5,2449.4L350.1,2449.4L352.7,2449.4L355.3,2449.4L357.9,2449.4L360.5,2449.4L363.1,2449.4L365.7,2449.4L368.3,2449.4L370.9,2449.4L373.5,2449.4L376.2,2449.4L378.8,2449.4L381.4,2449.4L384.0,2449.4L386.6,2449.4L389.2,2449.4L391.8,2449.4L394.4,2449.5L397.0,2449.5L399.6,2449.5L402.2,2449.5L404.9,2449.5L407.5,2449.5L410.1,2449.5L412.7,2449.5L415.3,2449.5L417.9,2449.5L420.5,2449.5L423.1,2449.5L425.7,2449.5L428.3,2449.5L430.9,2449.5L433.6,2449.5L436.2,2449.5L438.8,2449.5L441.4,2449.5L444.0,2449.5L446.6,2449.6L449.2,2449.6L451.8,2449.6L454.4,2449.6L457.0,2449.6L459.6,2449.6L462.3,2449.6L464.9,2449.6L467.5,2449.6L470.1,2449.6L472.7,2449.6L475.3,2449.6L477.9,2449.6L480.5,2449.6L483.1,2449.6L485.7,2449.6L488.3,2449.6L491.0,2449.6L493.6,2449.6L496.2,2449.6L498.8,2449.7L501.4,2449.7L504.0,2449.7L506.6,2449.7L509.2,2449.7L511.8,2449.7L514.4,2449.7L517.0,2449.7L519.7,2449.7L522.3,2449.7L524.9,2449.7L527.5,2449.7L530.1,2449.7L532.7,2449.7L535.3,2449.7L537.9,2449.7L540.5,2449.7L543.1,2449.7L545.7,2449.7L548.4,2449.7L551.0,2449.8L553.6,2449.8L556.2,2449.8L558.8,2449.8L561.4,2449.8L564.0,2449.8L566.6,2449.8L569.2,2449.8L571.8,2449.8L574.4,2449.8L577.0,2449.8L579.7,2449.8L582.3,2449.8L584.9,2449.8L587.5,2449.8L590.1,2449.8L592.7,2449.8L595.3,2449.8L597.9,2449.8L600.5,2449.8L603.1,2449.9L605.7,2449.9L608.4,2449.9L611.0,2449.9L613.6,2449.9L616.2,2449.9L618.8,2449.9L621.4,2449.9L624.0,2449.9L626.6,2449.9L629.2,2449.9L631.8,2449.9L634.4,2449.9L637.1,2449.9L639.7,2449.9L642.3,2449.9L644.9,2449.9L647.5,2449.9L650.1,2449.9L652.7,2449.9L655.3,2450.0L657.9,2450.0L660.5,2450.0L663.1,2450.0L665.8,2450.0L668.4,2450.0L671.0,2450.0L673.6,2450.0L676.2,2450.0L678.8,2450.0L681.4,2450.0L684.0,2450.0L686.6,2450.0L689.2,2450.0L691.8,2450.0L694.5,2450.0L697.1,2450.0L699.7,2450.0L702.3,2450.0L704.9,2450.0L707.5,2450.1L710.1,2450.1L712.7,2450.1L715.3,2450.1L717.9,2450.1L720.5,2450.1L723.2,2450.1L725.8,2450.1L728.4,2450.1L731.0,2450.1L733.6,2450.1L736.2,2450.1L738.8,2450.1L741.4,2450.1L744.0,2450.1L746.6,2450.1L749.2,2450.1L751.9,2450.1L754.5,2450.1L757.1,2450.1L759.7,2450.2L762.3,2450.2L764.9,2450.2L767.5,2450.2L770.1,2450.2L772.7,2450.2L775.3,2450.2L777.9,2450.2L780.6,2450.2L783.2,2450.2L785.8,2450.2L788.4,2450.2L791.0,2450.2L793.6,2450.2L796.2,2450.2L798.8,2450.2L801.4,2450.2L804.0,2450.2L806.6,2450.2L809.2,2450.2L811.9,2450.3L814.5,2450.3L817.1,2450.3L819.7,2450.3L822.3,2450.3L824.9,2450.3L827.5,2450.3L830.1,2450.3L832.7,2450.3L835.3,2450.3L837.9,2450.3L840.6,2450.3L843.2,2450.3L845.8,2450.3L848.4,2450.3L851.0,2450.3L853.6,2450.3L856.2,2450.3L858.8,2450.3L861.4,2450.3L864.0,2450.4L866.6,2450.4L869.3,2450.4L871.9,2450.4L874.5,2450.4L877.1,2450.4L879.7,2450.4L882.3,2450.4L884.9,2450.4L887.5,2450.4L890.1,2450.4L892.7,2450.4L895.3,2450.4L898.0,2450.4L900.6,2450.4L903.2,2450.4L905.8,2450.4L908.4,2450.4L911.0,2450.4L913.6,2450.4L916.2,2450.5L918.8,2450.5L921.4,2450.5L924.0,2450.5L926.7,2450.5L929.3,2450.5L931.9,2450.5L934.5,2450.5L937.1,2450.5L939.7,2450.5L942.3,2450.5L944.9,2450.5L947.5,2450.5L950.1,2450.5L952.7,2450.5L955.4,2450.5L958.0,2450.5L960.6,2450.5L963.2,2450.5L965.8,2450.5L968.4,2450.6L971.0,2450.6L973.6,2450.6L976.2,2450.6L978.8,2450.6L981.4,2450.6L984.1,2450.6L986.7,2450.6L989.3,2450.6L991.9,2450.6L994.5,2450.6L997.1,2450.6L999.7,2450.6L1002.3,2450.6L1004.9,2450.6L1007.5,2450.6L1010.1,2450.6L1012.8,2450.6L1015.4,2450.6L1018.0,2450.6L1020.6,2450.7L1023.2,2450.7L1025.8,2450.7L1028.4,2450.7L1031.0,2450.7L1033.6,2450.7L1036.2,2450.7L1038.8,2450.7L1041.5,2450.7L1044.1,2450.7L1046.7,2450.7L1049.3,2450.7L1051.9,2450.7L1054.5,2450.7L1057.1,2450.7L1059.7,2450.7L1062.3,2450.7L1064.9,2450.7L1067.5,2450.7L1070.2,2450.7L1072.8,2450.8L1075.4,2450.8L1078.0,2450.8L1080.6,2450.8L1083.2,2450.8L1085.8,2450.8L1088.4,2450.8L1091.0,2450.8L1093.6,2450.8L1096.2,2450.8L1098.8,2450.8L1101.5,2450.8L1104.1,2450.8L1106.7,2450.8L1109.3,2450.8L1111.9,2450.8L1114.5,2450.8L1117.1,2450.8L1119.7,2450.8L1122.3,2450.8L1124.9,2450.9L1127.5,2450.9L1130.2,2450.9L1132.8,2450.9L1135.4,2450.9L1138.0,2450.9L1140.6,2450.9L1143.2,2450.9L1145.8,2450.9L1148.4,2450.9L1151.0,2450.9L1153.6,2450.9L1156.2,2450.9L1158.9,2450.9L1161.5,2450.9L1164.1,2450.9L1166.7,2450.9L1169.3,2450.9L1171.9,2450.9L1174.5,2450.9L1177.1,2451.0L1179.7,2451.0L1182.3,2451.0L1184.9,2451.0L1187.6,2451.0L1190.2,2451.0L1192.8,2451.0L1195.4,2451.0L1198.0,2451.0L1200.6,2451.0L1203.2,2451.0L1205.8,2451.0L1208.4,2451.0L1211.0,2451.0L1213.6,2451.0L1216.3,2451.0L1218.9,2451.0L1221.5,2451.0L1224.1,2451.0L1226.7,2451.0L1229.3,2451.1L1231.9,2451.1L1234.5,2451.1L1237.1,2451.1L1239.7,2451.1L1242.3,2451.1L1245.0,2451.1L1247.6,2451.1L1250.2,2451.1L1252.8,2451.1L1255.4,2451.1L1258.0,2451.1L1260.6,2451.1L1263.2,2451.1L1265.8,2451.1L1268.4,2451.1L1271.0,2451.1L1273.7,2451.1L1276.3,2451.1L1278.9,2451.1L1281.5,2451.2L1284.1,2451.2L1286.7,2451.2L1289.3,2451.2L1291.9,2451.2L1294.5,2451.2L1297.1,2451.2L1299.7,2451.2L1302.4,2451.2L1305.0,2451.2L1307.6,2451.2L1310.2,2451.2L1312.8,2451.2L1315.4,2451.2L1318.0,2451.2L1320.6,2451.2L1323.2,2451.2L1325.8,2451.2L1328.4,2451.2L1331.0,2451.2L1333.7,2451.3L1336.3,2451.3L1338.9,2451.3L1341.5,2451.3L1344.1,2451.3L1346.7,2451.3L1349.3,2451.3L1351.9,2451.3L1354.5,2451.3L1357.1,2451.3L1359.7,2451.3L1362.4,2451.3L1365.0,2451.3L1367.6,2451.3L1370.2,2451.3L1372.8,2451.3L1375.4,2451.3L1378.0,2451.3L1380.6,2451.3L1383.2,2451.3L1385.8,2451.4L1388.4,2451.4L1391.1,2451.4L1393.7,2451.4L1396.3,2451.4L1398.9,2451.4L1401.5,2451.4L1404.1,2451.4L1406.7,2451.4L1409.3,2451.4L1411.9,2451.4L1414.5,2451.4L1417.1,2451.4L1419.8,2451.4L1422.4,2451.4L1425.0,2451.4L1427.6,2451.4L1430.2,2451.4L1432.8,2451.4L1435.4,2451.4L1438.0,2451.5L1440.6,2451.5L1443.2,2451.5L1445.8,2451.5L1448.5,2451.5L1451.1,2451.5L1453.7,2451.5L1456.3,2451.5L1458.9,2451.5L1461.5,2451.5" stroke="#ff0000" stroke-width="7.4" fill="none"/><path d="M157.0,2443.4L159.6,2443.3L162.2,2443.2L164.8,2443.0L167.4,2442.9L170.0,2442.7L172.7,2442.5L175.3,2442.4L177.9,2442.2L180.5,2442.0L183.1,2441.8L185.7,2441.6L188.3,2441.4L190.9,2441.1L193.5,2440.9L196.1,2440.6L198.7,2440.4L201.4,2440.1L204.0,2439.8L206.6,2439.5L209.2,2439.2L211.8,2438.8L214.4,2438.4L217.0,2438.0L219.6,2437.6L222.2,2437.1L224.8,2436.6L227.4,2436.1L230.1,2435.6L232.7,2435.0L235.3,2434.3L237.9,2433.6L240.5,2432.9L243.1,2432.0L245.7,2431.2L248.3,2430.2L250.9,2429.2L253.5,2428.1L256.1,2427.0L258.8,2425.7L261.4,2424.4L264.0,2422.9L266.6,2421.3L269.2,2419.7L271.8,2417.9L274.4,2416.0L277.0,2413.9L279.6,2411.8L282.2,2409.5L284.8,2407.0L287.4,2404.5L290.1,2401.7L292.7,2398.9L295.3,2395.9L297.9,2392.7L300.5,2389.4L303.1,2386.0L305.7,2382.5L308.3,2378.8L310.9,2375.1L313.5,2371.3L316.1,2367.4L318.8,2363.5L321.4,2359.5L324.0,2355.7L326.6,2351.9L329.2,2348.2L331.8,2344.7L334.4,2341.4L337.0,2338.4L339.6,2335.7L342.2,2333.4L344.8,2331.6L347.5,2330.3L350.1,2329.4L352.7,2329.2L355.3,2329.6L357.9,2330.7L360.5,2332.6L363.1,2335.2L365.7,2338.3L368.3,2341.9L370.9,2345.9L373.5,2350.2L376.2,2354.8L378.8,2359.4L381.4,2364.1L384.0,2368.8L386.6,2373.4L389.2,2377.9L391.8,2382.3L394.4,2386.6L397.0,2390.6L399.6,2394.5L402.2,2398.2L404.9,2401.6L407.5,2404.9L410.1,2408.0L412.7,2410.8L415.3,2413.5L417.9,2416.0L420.5,2418.3L423.1,2420.4L425.7,2422.4L428.3,2424.2L430.9,2425.8L433.6,2427.4L436.2,2428.8L438.8,2430.0L441.4,2431.2L444.0,2432.3L446.6,2433.3L449.2,2434.2L451.8,2435.0L454.4,2435.7L457.0,2436.4L459.6,2437.1L462.3,2437.7L464.9,2438.2L467.5,2438.7L470.1,2439.2L472.7,2439.6L475.3,2440.1L477.9,2440.4L480.5,2440.8L483.1,2441.1L485.7,2441.4L488.3,2441.7L491.0,2442.0L493.6,2442.3L496.2,2442.5L498.8,2442.8L501.4,2443.0L504.0,2443.2L506.6,2443.4L509.2,2443.6L511.8,2443.8L514.4,2444.0L517.0,2444.2L519.7,2444.3L522.3,2444.5L524.9,2444.7L527.5,2444.8L530.1,2444.9L532.7,2445.1L535.3,2445.2L537.9,2445.3L540.5,2445.5L543.1,2445.6L545.7,2445.7L548.4,2445.8L551.0,2445.9L553.6,2446.0L556.2,2446.1L558.8,2446.2L561.4,2446.3L564.0,2446.4L566.6,2446.4L569.2,2446.5L571.8,2446.6L574.4,2446.7L577.0,2446.8L579.7,2446.8L582.3,2446.9L584.9,2447.0L587.5,2447.0L590.1,2447.1L592.7,2447.2L595.3,2447.2L597.9,2447.3L600.5,2447.3L603.1,2447.4L605.7,2447.4L608.4,2447.5L611.0,2447.5L613.6,2447.6L616.2,2447.6L618.8,2447.7L621.4,2447.7L624.0,2447.8L626.6,2447.8L629.2,2447.9L631.8,2447.9L634.4,2448.0L637.1,2448.0L639.7,2448.0L642.3,2448.1L644.9,2448.1L647.5,2448.1L650.1,2448.2L652.7,2448.2L655.3,2448.3L657.9,2448.3L660.5,2448.3L663.1,2448.3L665.8,2448.4L668.4,2448.4L671.0,2448.4L673.6,2448.5L676.2,2448.5L678.8,2448.5L681.4,2448.6L684.0,2448.6L686.6,2448.6L689.2,2448.6L691.8,2448.7L694.5,2448.7L697.1,2448.7L699.7,2448.7L702.3,2448.8L704.9,2448.8L707.5,2448.8L710.1,2448.8L712.7,2448.9L715.3,2448.9L717.9,2448.9L720.5,2448.9L723.2,2448.9L725.8,2449.0L728.4,2449.0L731.0,2449.0L733.6,2449.0L736.2,2449.0L738.8,2449.1L741.4,2449.1L744.0,2449.1L746.6,2449.1L749.2,2449.1L751.9,2449.2L754.5,2449.2L757.1,2449.2L759.7,2449.2L762.3,2449.2L764.9,2449.2L767.5,2449.3L770.1,2449.3L772.7,2449.3L775.3,2449.3L777.9,2449.3L780.6,2449.3L783.2,2449.3L785.8,2449.4L788.4,2449.4L791.0,2449.4L793.6,2449.4L796.2,2449.4L798.8,2449.4L801.4,2449.5L804.0,2449.5L806.6,2449.5L809.2,2449.5L811.9,2449.5L814.5,2449.5L817.1,2449.5L819.7,2449.5L822.3,2449.6L824.9,2449.6L827.5,2449.6L830.1,2449.6L832.7,2449.6L835.3,2449.6L837.9,2449.6L840.6,2449.6L843.2,2449.7L845.8,2449.7L848.4,2449.7L851.0,2449.7L853.6,2449.7L856.2,2449.7L858.8,2449.7L861.4,2449.7L864.0,2449.7L866.6,2449.8L869.3,2449.8L871.9,2449.8L874.5,2449.8L877.1,2449.8L879.7,2449.8L882.3,2449.8L884.9,2449.8L887.5,2449.8L890.1,2449.9L892.7,2449.9L895.3,2449.9L898.0,2449.9L900.6,2449.9L903.2,2449.9L905.8,2449.9L908.4,2449.9L911.0,2449.9L913.6,2449.9L916.2,2450.0L918.8,2450.0L921.4,2450.0L924.0,2450.0L926.7,2450.0L929.3,2450.0L931.9,2450.0L934.5,2450.0L937.1,2450.0L939.7,2450.0L942.3,2450.0L944.9,2450.1L947.5,2450.1L950.1,2450.1L952.7,2450.1L955.4,2450.1L958.0,2450.1L960.6,2450.1L963.2,2450.1L965.8,2450.1L968.4,2450.1L971.0,2450.1L973.6,2450.2L976.2,2450.2L978.8,2450.2L981.4,2450.2L984.1,2450.2L986.7,2450.2L989.3,2450.2L991.9,2450.2L994.5,2450.2L997.1,2450.2L999.7,2450.2L1002.3,2450.2L1004.9,2450.3L1007.5,2450.3L1010.1,2450.3L1012.8,2450.3L1015.4,2450.3L1018.0,2450.3L1020.6,2450.3L1023.2,2450.3L1025.8,2450.3L1028.4,2450.3L1031.0,2450.3L1033.6,2450.3L1036.2,2450.3L1038.8,2450.4L1041.5,2450.4L1044.1,2450.4L1046.7,2450.4L1049.3,2450.4L1051.9,2450.4L1054.5,2450.4L1057.1,2450.4L1059.7,2450.4L1062.3,2450.4L1064.9,2450.4L1067.5,2450.4L1070.2,2450.4L1072.8,2450.4L1075.4,2450.5L1078.0,2450.5L1080.6,2450.5L1083.2,2450.5L1085.8,2450.5L1088.4,2450.5L1091.0,2450.5L1093.6,2450.5L1096.2,2450.5L1098.8,2450.5L1101.5,2450.5L1104.1,2450.5L1106.7,2450.5L1109.3,2450.5L1111.9,2450.6L1114.5,2450.6L1117.1,2450.6L1119.7,2450.6L1122.3,2450.6L1124.9,2450.6L1127.5,2450.6L1130.2,2450.6L1132.8,2450.6L1135.4,2450.6L1138.0,2450.6L1140.6,2450.6L1143.2,2450.6L1145.8,2450.6L1148.4,2450.6L1151.0,2450.7L1153.6,2450.7L1156.2,2450.7L1158.9,2450.7L1161.5,2450.7L1164.1,2450.7L1166.7,2450.7L1169.3,2450.7L1171.9,2450.7L1174.5,2450.7L1177.1,2450.7L1179.7,2450.7L1182.3,2450.7L1184.9,2450.7L1187.6,2450.7L1190.2,2450.8L1192.8,2450.8L1195.4,2450.8L1198.0,2450.8L1200.6,2450.8L1203.2,2450.8L1205.8,2450.8L1208.4,2450.8L1211.0,2450.8L1213.6,2450.8L1216.3,2450.8L1218.9,2450.8L1221.5,2450.8L1224.1,2450.8L1226.7,2450.8L1229.3,2450.8L1231.9,2450.9L1234.5,2450.9L1237.1,2450.9L1239.7,2450.9L1242.3,2450.9L1245.0,2450.9L1247.6,2450.9L1250.2,2450.9L1252.8,2450.9L1255.4,2450.9L1258.0,2450.9L1260.6,2450.9L1263.2,2450.9L1265.8,2450.9L1268.4,2450.9L1271.0,2450.9L1273.7,2451.0L1276.3,2451.0L1278.9,2451.0L1281.5,2451.0L1284.1,2451.0L1286.7,2451.0L1289.3,2451.0L1291.9,2451.0L1294.5,2451.0L1297.1,2451.0L1299.7,2451.0L1302.4,2451.0L1305.0,2451.0L1307.6,2451.0L1310.2,2451.0L1312.8,2451.0L1315.4,2451.0L1318.0,2451.1L1320.6,2451.1L1323.2,2451.1L1325.8,2451.1L1328.4,2451.1L1331.0,2451.1L1333.7,2451.1L1336.3,2451.1L1338.9,2451.1L1341.5,2451.1L1344.1,2451.1L1346.7,2451.1L1349.3,2451.1L1351.9,2451.1L1354.5,2451.1L1357.1,2451.1L1359.7,2451.1L1362.4,2451.2L1365.0,2451.2L1367.6,2451.2L1370.2,2451.2L1372.8,2451.2L1375.4,2451.2L1378.0,2451.2L1380.6,2451.2L1383.2,2451.2L1385.8,2451.2L1388.4,2451.2L1391.1,2451.2L1393.7,2451.2L1396.3,2451.2L1398.9,2451.2L1401.5,2451.2L1404.1,2451.2L1406.7,2451.3L1409.3,2451.3L1411.9,2451.3L1414.5,2451.3L1417.1,2451.3L1419.8,2451.3L1422.4,2451.3L1425.0,2451.3L1427.6,2451.3L1430.2,2451.3L1432.8,2451.3L1435.4,2451.3L1438.0,2451.3L1440.6,2451.3L1443.2,2451.3L1445.8,2451.3L1448.5,2451.3L1451.1,2451.3L1453.7,2451.4L1456.3,2451.4L1458.9,2451.4L1461.5,2451.4" stroke="#8000ff" stroke-width="7.4" fill="none" stroke-linejoin="round"/><path d="M157.0,2447.0L159.6,2447.0L162.2,2446.9L164.8,2446.9L167.4,2446.9L170.0,2446.8L172.7,2446.8L175.3,2446.7L177.9,2446.7L180.5,2446.6L183.1,2446.6L185.7,2446.5L188.3,2446.5L190.9,2446.4L193.5,2446.3L196.1,2446.3L198.7,2446.2L201.4,2446.1L204.0,2446.1L206.6,2446.0L209.2,2445.9L211.8,2445.8L214.4,2445.8L217.0,2445.7L219.6,2445.6L222.2,2445.5L224.8,2445.4L227.4,2445.3L230.1,2445.2L232.7,2445.1L235.3,2444.9L237.9,2444.8L240.5,2444.7L243.1,2444.6L245.7,2444.4L248.3,2444.3L250.9,2444.1L253.5,2443.9L256.1,2443.8L258.8,2443.6L261.4,2443.4L264.0,2443.2L266.6,2443.0L269.2,2442.7L271.8,2442.5L274.4,2442.2L277.0,2441.9L279.6,2441.6L282.2,2441.3L284.8,2440.9L287.4,2440.6L290.1,2440.1L292.7,2439.7L295.3,2439.2L297.9,2438.6L300.5,2438.0L303.1,2437.4L305.7,2436.7L308.3,2435.8L310.9,2434.9L313.5,2433.9L316.1,2432.8L318.8,2431.6L321.4,2430.2L324.0,2428.7L326.6,2427.0L329.2,2425.2L331.8,2423.1L334.4,2420.9L337.0,2418.4L339.6,2415.7L342.2,2412.8L344.8,2409.6L347.5,2406.2L350.1,2402.5L352.7,2398.5L355.3,2394.3L357.9,2389.9L360.5,2385.2L363.1,2380.3L365.7,2375.3L368.3,2370.1L370.9,2364.8L373.5,2359.4L376.2,2354.1L378.8,2348.9L381.4,2343.9L384.0,2339.2L386.6,2334.9L389.2,2331.2L391.8,2328.2L394.4,2325.9L397.0,2324.5L399.6,2324.1L402.2,2324.5L404.9,2325.9L407.5,2328.1L410.1,2331.1L412.7,2334.8L415.3,2339.0L417.9,2343.7L420.5,2348.7L423.1,2353.9L425.7,2359.3L428.3,2364.6L430.9,2369.9L433.6,2375.2L436.2,2380.2L438.8,2385.1L441.4,2389.8L444.0,2394.3L446.6,2398.5L449.2,2402.5L451.8,2406.2L454.4,2409.7L457.0,2412.9L459.6,2415.8L462.3,2418.5L464.9,2421.0L467.5,2423.3L470.1,2425.4L472.7,2427.2L475.3,2428.9L477.9,2430.5L480.5,2431.9L483.1,2433.1L485.7,2434.2L488.3,2435.2L491.0,2436.2L493.6,2437.0L496.2,2437.7L498.8,2438.4L501.4,2439.0L504.0,2439.6L506.6,2440.1L509.2,2440.5L511.8,2441.0L514.4,2441.4L517.0,2441.7L519.7,2442.1L522.3,2442.4L524.9,2442.7L527.5,2443.0L530.1,2443.2L532.7,2443.5L535.3,2443.7L537.9,2443.9L540.5,2444.1L543.1,2444.3L545.7,2444.5L548.4,2444.7L551.0,2444.8L553.6,2445.0L556.2,2445.1L558.8,2445.3L561.4,2445.4L564.0,2445.6L566.6,2445.7L569.2,2445.8L571.8,2445.9L574.4,2446.1L577.0,2446.2L579.7,2446.3L582.3,2446.4L584.9,2446.5L587.5,2446.6L590.1,2446.6L592.7,2446.7L595.3,2446.8L597.9,2446.9L600.5,2447.0L603.1,2447.1L605.7,2447.1L608.4,2447.2L611.0,2447.3L613.6,2447.3L616.2,2447.4L618.8,2447.5L621.4,2447.5L624.0,2447.6L626.6,2447.6L629.2,2447.7L631.8,2447.7L634.4,2447.8L637.1,2447.8L639.7,2447.9L642.3,2447.9L644.9,2448.0L647.5,2448.0L650.1,2448.1L652.7,2448.1L655.3,2448.2L657.9,2448.2L660.5,2448.2L663.1,2448.3L665.8,2448.3L668.4,2448.3L671.0,2448.4L673.6,2448.4L676.2,2448.5L678.8,2448.5L681.4,2448.5L684.0,2448.5L686.6,2448.6L689.2,2448.6L691.8,2448.6L694.5,2448.7L697.1,2448.7L699.7,2448.7L702.3,2448.8L704.9,2448.8L707.5,2448.8L710.1,2448.8L712.7,2448.9L715.3,2448.9L717.9,2448.9L720.5,2448.9L723.2,2449.0L725.8,2449.0L728.4,2449.0L731.0,2449.0L733.6,2449.0L736.2,2449.1L738.8,2449.1L741.4,2449.1L744.0,2449.1L746.6,2449.1L749.2,2449.2L751.9,2449.2L754.5,2449.2L757.1,2449.2L759.7,2449.2L762.3,2449.3L764.9,2449.3L767.5,2449.3L770.1,2449.3L772.7,2449.3L775.3,2449.3L777.9,2449.4L780.6,2449.4L783.2,2449.4L785.8,2449.4L788.4,2449.4L791.0,2449.4L793.6,2449.5L796.2,2449.5L798.8,2449.5L801.4,2449.5L804.0,2449.5L806.6,2449.5L809.2,2449.5L811.9,2449.6L814.5,2449.6L817.1,2449.6L819.7,2449.6L822.3,2449.6L824.9,2449.6L827.5,2449.6L830.1,2449.6L832.7,2449.7L835.3,2449.7L837.9,2449.7L840.6,2449.7L843.2,2449.7L845.8,2449.7L848.4,2449.7L851.0,2449.7L853.6,2449.8L856.2,2449.8L858.8,2449.8L861.4,2449.8L864.0,2449.8L866.6,2449.8L869.3,2449.8L871.9,2449.8L874.5,2449.8L877.1,2449.9L879.7,2449.9L882.3,2449.9L884.9,2449.9L887.5,2449.9L890.1,2449.9L892.7,2449.9L895.3,2449.9L898.0,2449.9L900.6,2449.9L903.2,2450.0L905.8,2450.0L908.4,2450.0L911.0,2450.0L913.6,2450.0L916.2,2450.0L918.8,2450.0L921.4,2450.0L924.0,2450.0L926.7,2450.0L929.3,2450.1L931.9,2450.1L934.5,2450.1L937.1,2450.1L939.7,2450.1L942.3,2450.1L944.9,2450.1L947.5,2450.1L950.1,2450.1L952.7,2450.1L955.4,2450.1L958.0,2450.2L960.6,2450.2L963.2,2450.2L965.8,2450.2L968.4,2450.2L971.0,2450.2L973.6,2450.2L976.2,2450.2L978.8,2450.2L981.4,2450.2L984.1,2450.2L986.7,2450.2L989.3,2450.2L991.9,2450.3L994.5,2450.3L997.1,2450.3L999.7,2450.3L1002.3,2450.3L1004.9,2450.3L1007.5,2450.3L1010.1,2450.3L1012.8,2450.3L1015.4,2450.3L1018.0,2450.3L1020.6,2450.3L1023.2,2450.4L1025.8,2450.4L1028.4,2450.4L1031.0,2450.4L1033.6,2450.4L1036.2,2450.4L1038.8,2450.4L1041.5,2450.4L1044.1,2450.4L1046.7,2450.4L1049.3,2450.4L1051.9,2450.4L1054.5,2450.4L1057.1,2450.4L1059.7,2450.5L1062.3,2450.5L1064.9,2450.5L1067.5,2450.5L1070.2,2450.5L1072.8,2450.5L1075.4,2450.5L1078.0,2450.5L1080.6,2450.5L1083.2,2450.5L1085.8,2450.5L1088.4,2450.5L1091.0,2450.5L1093.6,2450.5L1096.2,2450.6L1098.8,2450.6L1101.5,2450.6L1104.1,2450.6L1106.7,2450.6L1109.3,2450.6L1111.9,2450.6L1114.5,2450.6L1117.1,2450.6L1119.7,2450.6L1122.3,2450.6L1124.9,2450.6L1127.5,2450.6L1130.2,2450.6L1132.8,2450.6L1135.4,2450.7L1138.0,2450.7L1140.6,2450.7L1143.2,2450.7L1145.8,2450.7L1148.4,2450.7L1151.0,2450.7L1153.6,2450.7L1156.2,2450.7L1158.9,2450.7L1161.5,2450.7L1164.1,2450.7L1166.7,2450.7L1169.3,2450.7L1171.9,2450.7L1174.5,2450.7L1177.1,2450.8L1179.7,2450.8L1182.3,2450.8L1184.9,2450.8L1187.6,2450.8L1190.2,2450.8L1192.8,2450.8L1195.4,2450.8L1198.0,2450.8L1200.6,2450.8L1203.2,2450.8L1205.8,2450.8L1208.4,2450.8L1211.0,2450.8L1213.6,2450.8L1216.3,2450.8L1218.9,2450.9L1221.5,2450.9L1224.1,2450.9L1226.7,2450.9L1229.3,2450.9L1231.9,2450.9L1234.5,2450.9L1237.1,2450.9L1239.7,2450.9L1242.3,2450.9L1245.0,2450.9L1247.6,2450.9L1250.2,2450.9L1252.8,2450.9L1255.4,2450.9L1258.0,2450.9L1260.6,2451.0L1263.2,2451.0L1265.8,2451.0L1268.4,2451.0L1271.0,2451.0L1273.7,2451.0L1276.3,2451.0L1278.9,2451.0L1281.5,2451.0L1284.1,2451.0L1286.7,2451.0L1289.3,2451.0L1291.9,2451.0L1294.5,2451.0L1297.1,2451.0L1299.7,2451.0L1302.4,2451.0L1305.0,2451.1L1307.6,2451.1L1310.2,2451.1L1312.8,2451.1L1315.4,2451.1L1318.0,2451.1L1320.6,2451.1L1323.2,2451.1L1325.8,2451.1L1328.4,2451.1L1331.0,2451.1L1333.7,2451.1L1336.3,2451.1L1338.9,2451.1L1341.5,2451.1L1344.1,2451.1L1346.7,2451.1L1349.3,2451.2L1351.9,2451.2L1354.5,2451.2L1357.1,2451.2L1359.7,2451.2L1362.4,2451.2L1365.0,2451.2L1367.6,2451.2L1370.2,2451.2L1372.8,2451.2L1375.4,2451.2L1378.0,2451.2L1380.6,2451.2L1383.2,2451.2L1385.8,2451.2L1388.4,2451.2L1391.1,2451.2L1393.7,2451.2L1396.3,2451.3L1398.9,2451.3L1401.5,2451.3L1404.1,2451.3L1406.7,2451.3L1409.3,2451.3L1411.9,2451.3L1414.5,2451.3L1417.1,2451.3L1419.8,2451.3L1422.4,2451.3L1425.0,2451.3L1427.6,2451.3L1430.2,2451.3L1432.8,2451.3L1435.4,2451.3L1438.0,2451.3L1440.6,2451.3L1443.2,2451.4L1445.8,2451.4L1448.5,2451.4L1451.1,2451.4L1453.7,2451.4L1456.3,2451.4L1458.9,2451.4L1461.5,2451.4" stroke="#000080" stroke-width="7.4" fill="none" stroke-linejoin="round"/><path d="M157.0,2448.9L159.6,2448.9L162.2,2448.9L164.8,2448.9L167.4,2448.9L170.0,2448.9L172.7,2448.9L175.3,2448.9L177.9,2448.9L180.5,2448.9L183.1,2448.9L185.7,2448.9L188.3,2448.9L190.9,2448.9L193.5,2448.9L196.1,2449.0L198.7,2449.0L201.4,2449.0L204.0,2449.0L206.6,2449.0L209.2,2449.0L211.8,2449.0L214.4,2449.0L217.0,2449.0L219.6,2449.0L222.2,2449.0L224.8,2449.0L227.4,2449.0L230.1,2449.0L232.7,2449.0L235.3,2449.0L237.9,2449.0L240.5,2449.0L243.1,2449.0L245.7,2449.0L248.3,2449.0L250.9,2449.0L253.5,2449.0L256.1,2449.0L258.8,2449.0L261.4,2449.0L264.0,2449.0L266.6,2449.0L269.2,2449.0L271.8,2449.0L274.4,2449.0L277.0,2449.0L279.6,2449.0L282.2,2449.0L284.8,2449.0L287.4,2449.0L290.1,2448.9L292.7,2448.9L295.3,2448.9L297.9,2448.9L300.5,2448.9L303.1,2448.9L305.7,2448.9L308.3,2448.9L310.9,2448.9L313.5,2448.8L316.1,2448.8L318.8,2448.8L321.4,2448.8L324.0,2448.7L326.6,2448.6L329.2,2448.6L331.8,2448.5L334.4,2448.4L337.0,2448.3L339.6,2448.1L342.2,2447.9L344.8,2447.7L347.5,2447.4L350.1,2447.0L352.7,2446.6L355.3,2446.1L357.9,2445.5L360.5,2444.8L363.1,2443.9L365.7,2443.0L368.3,2441.8L370.9,2440.6L373.5,2439.1L376.2,2437.4L378.8,2435.5L381.4,2433.3L384.0,2430.9L386.6,2428.3L389.2,2425.4L391.8,2422.3L394.4,2418.9L397.0,2415.2L399.6,2411.3L402.2,2407.2L404.9,2403.0L407.5,2398.5L410.1,2394.0L412.7,2389.4L415.3,2384.8L417.9,2380.2L420.5,2375.7L423.1,2371.4L425.7,2367.3L428.3,2363.5L430.9,2360.0L433.6,2356.9L436.2,2354.3L438.8,2352.2L441.4,2350.6L444.0,2349.7L446.6,2349.3L449.2,2349.5L451.8,2350.2L454.4,2351.5L457.0,2353.2L459.6,2355.5L462.3,2358.2L464.9,2361.3L467.5,2364.7L470.1,2368.5L472.7,2372.4L475.3,2376.6L477.9,2380.9L480.5,2385.3L483.1,2389.7L485.7,2394.1L488.3,2398.4L491.0,2402.6L493.6,2406.7L496.2,2410.7L498.8,2414.4L501.4,2418.0L504.0,2421.3L506.6,2424.4L509.2,2427.3L511.8,2429.9L514.4,2432.3L517.0,2434.5L519.7,2436.5L522.3,2438.2L524.9,2439.8L527.5,2441.2L530.1,2442.4L532.7,2443.4L535.3,2444.3L537.9,2445.1L540.5,2445.8L543.1,2446.4L545.7,2446.9L548.4,2447.3L551.0,2447.7L553.6,2448.0L556.2,2448.2L558.8,2448.4L561.4,2448.6L564.0,2448.8L566.6,2448.9L569.2,2449.0L571.8,2449.1L574.4,2449.1L577.0,2449.2L579.7,2449.3L582.3,2449.3L584.9,2449.3L587.5,2449.4L590.1,2449.4L592.7,2449.4L595.3,2449.5L597.9,2449.5L600.5,2449.5L603.1,2449.5L605.7,2449.5L608.4,2449.5L611.0,2449.6L613.6,2449.6L616.2,2449.6L618.8,2449.6L621.4,2449.6L624.0,2449.6L626.6,2449.6L629.2,2449.7L631.8,2449.7L634.4,2449.7L637.1,2449.7L639.7,2449.7L642.3,2449.7L644.9,2449.7L647.5,2449.7L650.1,2449.7L652.7,2449.7L655.3,2449.8L657.9,2449.8L660.5,2449.8L663.1,2449.8L665.8,2449.8L668.4,2449.8L671.0,2449.8L673.6,2449.8L676.2,2449.8L678.8,2449.8L681.4,2449.8L684.0,2449.9L686.6,2449.9L689.2,2449.9L691.8,2449.9L694.5,2449.9L697.1,2449.9L699.7,2449.9L702.3,2449.9L704.9,2449.9L707.5,2449.9L710.1,2449.9L712.7,2449.9L715.3,2449.9L717.9,2450.0L720.5,2450.0L723.2,2450.0L725.8,2450.0L728.4,2450.0L731.0,2450.0L733.6,2450.0L736.2,2450.0L738.8,2450.0L741.4,2450.0L744.0,2450.0L746.6,2450.0L749.2,2450.0L751.9,2450.0L754.5,2450.1L757.1,2450.1L759.7,2450.1L762.3,2450.1L764.9,2450.1L767.5,2450.1L770.1,2450.1L772.7,2450.1L775.3,2450.1L777.9,2450.1L780.6,2450.1L783.2,2450.1L785.8,2450.1L788.4,2450.1L791.0,2450.1L793.6,2450.1L796.2,2450.2L798.8,2450.2L801.4,2450.2L804.0,2450.2L806.6,2450.2L809.2,2450.2L811.9,2450.2L814.5,2450.2L817.1,2450.2L819.7,2450.2L822.3,2450.2L824.9,2450.2L827.5,2450.2L830.1,2450.2L832.7,2450.2L835.3,2450.2L837.9,2450.2L840.6,2450.3L843.2,2450.3L845.8,2450.3L848.4,2450.3L851.0,2450.3L853.6,2450.3L856.2,2450.3L858.8,2450.3L861.4,2450.3L864.0,2450.3L866.6,2450.3L869.3,2450.3L871.9,2450.3L874.5,2450.3L877.1,2450.3L879.7,2450.3L882.3,2450.3L884.9,2450.3L887.5,2450.4L890.1,2450.4L892.7,2450.4L895.3,2450.4L898.0,2450.4L900.6,2450.4L903.2,2450.4L905.8,2450.4L908.4,2450.4L911.0,2450.4L913.6,2450.4L916.2,2450.4L918.8,2450.4L921.4,2450.4L924.0,2450.4L926.7,2450.4L929.3,2450.4L931.9,2450.4L934.5,2450.5L937.1,2450.5L939.7,2450.5L942.3,2450.5L944.9,2450.5L947.5,2450.5L950.1,2450.5L952.7,2450.5L955.4,2450.5L958.0,2450.5L960.6,2450.5L963.2,2450.5L965.8,2450.5L968.4,2450.5L971.0,2450.5L973.6,2450.5L976.2,2450.5L978.8,2450.5L981.4,2450.5L984.1,2450.6L986.7,2450.6L989.3,2450.6L991.9,2450.6L994.5,2450.6L997.1,2450.6L999.7,2450.6L1002.3,2450.6L1004.9,2450.6L1007.5,2450.6L1010.1,2450.6L1012.8,2450.6L1015.4,2450.6L1018.0,2450.6L1020.6,2450.6L1023.2,2450.6L1025.8,2450.6L1028.4,2450.6L1031.0,2450.6L1033.6,2450.7L1036.2,2450.7L1038.8,2450.7L1041.5,2450.7L1044.1,2450.7L1046.7,2450.7L1049.3,2450.7L1051.9,2450.7L1054.5,2450.7L1057.1,2450.7L1059.7,2450.7L1062.3,2450.7L1064.9,2450.7L1067.5,2450.7L1070.2,2450.7L1072.8,2450.7L1075.4,2450.7L1078.0,2450.7L1080.6,2450.7L1083.2,2450.8L1085.8,2450.8L1088.4,2450.8L1091.0,2450.8L1093.6,2450.8L1096.2,2450.8L1098.8,2450.8L1101.5,2450.8L1104.1,2450.8L1106.7,2450.8L1109.3,2450.8L1111.9,2450.8L1114.5,2450.8L1117.1,2450.8L1119.7,2450.8L1122.3,2450.8L1124.9,2450.8L1127.5,2450.8L1130.2,2450.8L1132.8,2450.9L1135.4,2450.9L1138.0,2450.9L1140.6,2450.9L1143.2,2450.9L1145.8,2450.9L1148.4,2450.9L1151.0,2450.9L1153.6,2450.9L1156.2,2450.9L1158.9,2450.9L1161.5,2450.9L1164.1,2450.9L1166.7,2450.9L1169.3,2450.9L1171.9,2450.9L1174.5,2450.9L1177.1,2450.9L1179.7,2450.9L1182.3,2450.9L1184.9,2451.0L1187.6,2451.0L1190.2,2451.0L1192.8,2451.0L1195.4,2451.0L1198.0,2451.0L1200.6,2451.0L1203.2,2451.0L1205.8,2451.0L1208.4,2451.0L1211.0,2451.0L1213.6,2451.0L1216.3,2451.0L1218.9,2451.0L1221.5,2451.0L1224.1,2451.0L1226.7,2451.0L1229.3,2451.0L1231.9,2451.0L1234.5,2451.0L1237.1,2451.1L1239.7,2451.1L1242.3,2451.1L1245.0,2451.1L1247.6,2451.1L1250.2,2451.1L1252.8,2451.1L1255.4,2451.1L1258.0,2451.1L1260.6,2451.1L1263.2,2451.1L1265.8,2451.1L1268.4,2451.1L1271.0,2451.1L1273.7,2451.1L1276.3,2451.1L1278.9,2451.1L1281.5,2451.1L1284.1,2451.1L1286.7,2451.2L1289.3,2451.2L1291.9,2451.2L1294.5,2451.2L1297.1,2451.2L1299.7,2451.2L1302.4,2451.2L1305.0,2451.2L1307.6,2451.2L1310.2,2451.2L1312.8,2451.2L1315.4,2451.2L1318.0,2451.2L1320.6,2451.2L1323.2,2451.2L1325.8,2451.2L1328.4,2451.2L1331.0,2451.2L1333.7,2451.2L1336.3,2451.2L1338.9,2451.3L1341.5,2451.3L1344.1,2451.3L1346.7,2451.3L1349.3,2451.3L1351.9,2451.3L1354.5,2451.3L1357.1,2451.3L1359.7,2451.3L1362.4,2451.3L1365.0,2451.3L1367.6,2451.3L1370.2,2451.3L1372.8,2451.3L1375.4,2451.3L1378.0,2451.3L1380.6,2451.3L1383.2,2451.3L1385.8,2451.3L1388.4,2451.3L1391.1,2451.4L1393.7,2451.4L1396.3,2451.4L1398.9,2451.4L1401.5,2451.4L1404.1,2451.4L1406.7,2451.4L1409.3,2451.4L1411.9,2451.4L1414.5,2451.4L1417.1,2451.4L1419.8,2451.4L1422.4,2451.4L1425.0,2451.4L1427.6,2451.4L1430.2,2451.4L1432.8,2451.4L1435.4,2451.4L1438.0,2451.4L1440.6,2451.5L1443.2,2451.5L1445.8,2451.5L1448.5,2451.5L1451.1,2451.5L1453.7,2451.5L1456.3,2451.5L1458.9,2451.5L1461.5,2451.5" stroke="#800080" stroke-width="7.4" fill="none" stroke-linejoin="round"/><path d="M157.0,2448.8L159.6,2448.8L162.2,2448.8L164.8,2448.8L167.4,2448.8L170.0,2448.8L172.7,2448.8L175.3,2448.8L177.9,2448.8L180.5,2448.8L183.1,2448.8L185.7,2448.8L188.3,2448.8L190.9,2448.8L193.5,2448.8L196.1,2448.8L198.7,2448.8L201.4,2448.8L204.0,2448.8L206.6,2448.8L209.2,2448.8L211.8,2448.8L214.4,2448.8L217.0,2448.8L219.6,2448.8L222.2,2448.8L224.8,2448.9L227.4,2448.9L230.1,2448.9L232.7,2448.9L235.3,2448.9L237.9,2448.9L240.5,2448.9L243.1,2448.9L245.7,2448.9L248.3,2448.9L250.9,2448.9L253.5,2448.9L256.1,2448.9L258.8,2448.9L261.4,2448.9L264.0,2448.9L266.6,2448.9L269.2,2448.9L271.8,2448.9L274.4,2448.9L277.0,2448.9L279.6,2448.9L282.2,2448.9L284.8,2448.9L287.4,2448.9L290.1,2448.9L292.7,2448.9L295.3,2448.9L297.9,2448.9L300.5,2448.9L303.1,2448.9L305.7,2448.9L308.3,2448.9L310.9,2448.9L313.5,2448.9L316.1,2448.9L318.8,2448.9L321.4,2448.9L324.0,2448.9L326.6,2448.9L329.2,2449.0L331.8,2449.0L334.4,2449.0L337.0,2449.0L339.6,2449.0L342.2,2449.0L344.8,2449.0L347.5,2449.0L350.1,2449.0L352.7,2449.0L355.3,2449.0L357.9,2449.0L360.5,2449.0L363.1,2449.0L365.7,2449.0L368.3,2449.0L370.9,2449.0L373.5,2449.0L376.2,2449.0L378.8,2449.0L381.4,2449.0L384.0,2449.0L386.6,2449.0L389.2,2449.0L391.8,2449.0L394.4,2449.0L397.0,2449.0L399.6,2449.0L402.2,2449.0L404.9,2449.0L407.5,2449.0L410.1,2449.0L412.7,2449.0L415.3,2449.0L417.9,2449.0L420.5,2449.0L423.1,2449.0L425.7,2449.0L428.3,2449.0L430.9,2449.0L433.6,2449.0L436.2,2449.0L438.8,2449.0L441.4,2449.0L444.0,2449.0L446.6,2449.0L449.2,2449.0L451.8,2449.0L454.4,2449.0L457.0,2449.0L459.6,2449.0L462.3,2449.0L464.9,2449.0L467.5,2449.0L470.1,2449.0L472.7,2449.0L475.3,2449.0L477.9,2449.0L480.5,2449.0L483.1,2449.0L485.7,2448.9L488.3,2448.9L491.0,2448.9L493.6,2448.9L496.2,2448.9L498.8,2448.9L501.4,2448.9L504.0,2448.9L506.6,2448.9L509.2,2448.9L511.8,2448.9L514.4,2448.9L517.0,2448.9L519.7,2448.9L522.3,2448.9L524.9,2448.9L527.5,2448.9L530.1,2448.9L532.7,2448.9L535.3,2448.9L537.9,2448.9L540.5,2448.9L543.1,2448.9L545.7,2448.8L548.4,2448.8L551.0,2448.8L553.6,2448.8L556.2,2448.8L558.8,2448.8L561.4,2448.8L564.0,2448.8L566.6,2448.8L569.2,2448.8L571.8,2448.8L574.4,2448.8L577.0,2448.7L579.7,2448.7L582.3,2448.7L584.9,2448.7L587.5,2448.7L590.1,2448.7L592.7,2448.7L595.3,2448.7L597.9,2448.7L600.5,2448.6L603.1,2448.6L605.7,2448.6L608.4,2448.6L611.0,2448.6L613.6,2448.6L616.2,2448.6L618.8,2448.5L621.4,2448.5L624.0,2448.5L626.6,2448.5L629.2,2448.5L631.8,2448.5L634.4,2448.4L637.1,2448.4L639.7,2448.4L642.3,2448.4L644.9,2448.3L647.5,2448.3L650.1,2448.3L652.7,2448.3L655.3,2448.3L657.9,2448.2L660.5,2448.2L663.1,2448.2L665.8,2448.1L668.4,2448.1L671.0,2448.1L673.6,2448.1L676.2,2448.0L678.8,2448.0L681.4,2448.0L684.0,2447.9L686.6,2447.9L689.2,2447.8L691.8,2447.8L694.5,2447.8L697.1,2447.7L699.7,2447.7L702.3,2447.6L704.9,2447.6L707.5,2447.5L710.1,2447.5L712.7,2447.4L715.3,2447.4L717.9,2447.3L720.5,2447.3L723.2,2447.2L725.8,2447.1L728.4,2447.1L731.0,2447.0L733.6,2446.9L736.2,2446.9L738.8,2446.8L741.4,2446.7L744.0,2446.6L746.6,2446.6L749.2,2446.5L751.9,2446.4L754.5,2446.3L757.1,2446.2L759.7,2446.1L762.3,2446.0L764.9,2445.8L767.5,2445.7L770.1,2445.6L772.7,2445.5L775.3,2445.3L777.9,2445.2L780.6,2445.0L783.2,2444.9L785.8,2444.7L788.4,2444.6L791.0,2444.4L793.6,2444.2L796.2,2444.0L798.8,2443.8L801.4,2443.6L804.0,2443.3L806.6,2443.1L809.2,2442.8L811.9,2442.6L814.5,2442.3L817.1,2442.0L819.7,2441.6L822.3,2441.3L824.9,2440.9L827.5,2440.5L830.1,2440.1L832.7,2439.7L835.3,2439.2L837.9,2438.7L840.6,2438.1L843.2,2437.5L845.8,2436.9L848.4,2436.2L851.0,2435.4L853.6,2434.6L856.2,2433.6L858.8,2432.6L861.4,2431.4L864.0,2430.1L866.6,2428.7L869.3,2427.0L871.9,2425.2L874.5,2423.1L877.1,2420.8L879.7,2418.2L882.3,2415.2L884.9,2411.9L887.5,2408.1L890.1,2403.9L892.7,2399.3L895.3,2394.2L898.0,2388.5L900.6,2382.2L903.2,2375.5L905.8,2368.1L908.4,2360.2L911.0,2351.7L913.6,2342.7L916.2,2333.3L918.8,2323.6L921.4,2313.6L924.0,2303.6L926.7,2293.7L929.3,2284.2L931.9,2275.4L934.5,2267.7L937.1,2261.3L939.7,2256.6L942.3,2253.8L944.9,2253.0L947.5,2254.7L950.1,2258.7L952.7,2264.8L955.4,2272.7L958.0,2281.9L960.6,2292.0L963.2,2302.6L965.8,2313.5L968.4,2324.3L971.0,2334.8L973.6,2344.9L976.2,2354.4L978.8,2363.4L981.4,2371.7L984.1,2379.4L986.7,2386.4L989.3,2392.7L991.9,2398.4L994.5,2403.5L997.1,2408.1L999.7,2412.2L1002.3,2415.8L1004.9,2418.9L1007.5,2421.7L1010.1,2424.1L1012.8,2426.3L1015.4,2428.2L1018.0,2429.8L1020.6,2431.3L1023.2,2432.6L1025.8,2433.8L1028.4,2434.8L1031.0,2435.8L1033.6,2436.6L1036.2,2437.4L1038.8,2438.1L1041.5,2438.7L1044.1,2439.3L1046.7,2439.8L1049.3,2440.4L1051.9,2440.8L1054.5,2441.3L1057.1,2441.7L1059.7,2442.1L1062.3,2442.4L1064.9,2442.8L1067.5,2443.1L1070.2,2443.4L1072.8,2443.7L1075.4,2443.9L1078.0,2444.2L1080.6,2444.4L1083.2,2444.7L1085.8,2444.9L1088.4,2445.1L1091.0,2445.3L1093.6,2445.5L1096.2,2445.7L1098.8,2445.8L1101.5,2446.0L1104.1,2446.1L1106.7,2446.3L1109.3,2446.4L1111.9,2446.6L1114.5,2446.7L1117.1,2446.8L1119.7,2446.9L1122.3,2447.1L1124.9,2447.2L1127.5,2447.3L1130.2,2447.4L1132.8,2447.5L1135.4,2447.6L1138.0,2447.7L1140.6,2447.8L1143.2,2447.8L1145.8,2447.9L1148.4,2448.0L1151.0,2448.1L1153.6,2448.1L1156.2,2448.2L1158.9,2448.3L1161.5,2448.4L1164.1,2448.4L1166.7,2448.5L1169.3,2448.5L1171.9,2448.6L1174.5,2448.7L1177.1,2448.7L1179.7,2448.8L1182.3,2448.8L1184.9,2448.9L1187.6,2448.9L1190.2,2449.0L1192.8,2449.0L1195.4,2449.1L1198.0,2449.1L1200.6,2449.1L1203.2,2449.2L1205.8,2449.2L1208.4,2449.3L1211.0,2449.3L1213.6,2449.3L1216.3,2449.4L1218.9,2449.4L1221.5,2449.5L1224.1,2449.5L1226.7,2449.5L1229.3,2449.6L1231.9,2449.6L1234.5,2449.6L1237.1,2449.6L1239.7,2449.7L1242.3,2449.7L1245.0,2449.7L1247.6,2449.8L1250.2,2449.8L1252.8,2449.8L1255.4,2449.8L1258.0,2449.9L1260.6,2449.9L1263.2,2449.9L1265.8,2449.9L1268.4,2450.0L1271.0,2450.0L1273.7,2450.0L1276.3,2450.0L1278.9,2450.1L1281.5,2450.1L1284.1,2450.1L1286.7,2450.1L1289.3,2450.1L1291.9,2450.2L1294.5,2450.2L1297.1,2450.2L1299.7,2450.2L1302.4,2450.2L1305.0,2450.3L1307.6,2450.3L1310.2,2450.3L1312.8,2450.3L1315.4,2450.3L1318.0,2450.3L1320.6,2450.4L1323.2,2450.4L1325.8,2450.4L1328.4,2450.4L1331.0,2450.4L1333.7,2450.4L1336.3,2450.5L1338.9,2450.5L1341.5,2450.5L1344.1,2450.5L1346.7,2450.5L1349.3,2450.5L1351.9,2450.6L1354.5,2450.6L1357.1,2450.6L1359.7,2450.6L1362.4,2450.6L1365.0,2450.6L1367.6,2450.6L1370.2,2450.6L1372.8,2450.7L1375.4,2450.7L1378.0,2450.7L1380.6,2450.7L1383.2,2450.7L1385.8,2450.7L1388.4,2450.7L1391.1,2450.7L1393.7,2450.8L1396.3,2450.8L1398.9,2450.8L1401.5,2450.8L1404.1,2450.8L1406.7,2450.8L1409.3,2450.8L1411.9,2450.8L1414.5,2450.9L1417.1,2450.9L1419.8,2450.9L1422.4,2450.9L1425.0,2450.9L1427.6,2450.9L1430.2,2450.9L1432.8,2450.9L1435.4,2450.9L1438.0,2450.9L1440.6,2451.0L1443.2,2451.0L1445.8,2451.0L1448.5,2451.0L1451.1,2451.0L1453.7,2451.0L1456.3,2451.0L1458.9,2451.0L1461.5,2451.0" stroke="#ff00ff" stroke-width="7.4" fill="none" stroke-linejoin="round"/><path d="M157.0,2448.9L159.6,2448.9L162.2,2448.9L164.8,2448.9L167.4,2448.9L170.0,2448.9L172.7,2448.9L175.3,2448.9L177.9,2448.9L180.5,2448.9L183.1,2448.9L185.7,2448.9L188.3,2448.9L190.9,2448.9L193.5,2448.9L196.1,2449.0L198.7,2449.0L201.4,2449.0L204.0,2449.0L206.6,2449.0L209.2,2449.0L211.8,2449.0L214.4,2449.0L217.0,2449.0L219.6,2449.0L222.2,2449.0L224.8,2449.0L227.4,2449.0L230.1,2449.0L232.7,2449.0L235.3,2449.0L237.9,2449.0L240.5,2449.0L243.1,2449.0L245.7,2449.0L248.3,2449.0L250.9,2449.0L253.5,2449.0L256.1,2449.0L258.8,2449.0L261.4,2449.1L264.0,2449.1L266.6,2449.1L269.2,2449.1L271.8,2449.1L274.4,2449.1L277.0,2449.1L279.6,2449.1L282.2,2449.1L284.8,2449.1L287.4,2449.1L290.1,2449.1L292.7,2449.1L295.3,2449.1L297.9,2449.1L300.5,2449.1L303.1,2449.1L305.7,2449.1L308.3,2449.1L310.9,2449.1L313.5,2449.1L316.1,2449.1L318.8,2449.1L321.4,2449.1L324.0,2449.1L326.6,2449.1L329.2,2449.2L331.8,2449.2L334.4,2449.2L337.0,2449.2L339.6,2449.2L342.2,2449.2L344.8,2449.2L347.5,2449.2L350.1,2449.2L352.7,2449.2L355.3,2449.2L357.9,2449.2L360.5,2449.2L363.1,2449.2L365.7,2449.2L368.3,2449.2L370.9,2449.2L373.5,2449.2L376.2,2449.2L378.8,2449.2L381.4,2449.2L384.0,2449.2L386.6,2449.2L389.2,2449.2L391.8,2449.2L394.4,2449.2L397.0,2449.2L399.6,2449.2L402.2,2449.2L404.9,2449.2L407.5,2449.3L410.1,2449.3L412.7,2449.3L415.3,2449.3L417.9,2449.3L420.5,2449.3L423.1,2449.3L425.7,2449.3L428.3,2449.3L430.9,2449.3L433.6,2449.3L436.2,2449.3L438.8,2449.3L441.4,2449.3L444.0,2449.3L446.6,2449.3L449.2,2449.3L451.8,2449.3L454.4,2449.3L457.0,2449.3L459.6,2449.3L462.3,2449.3L464.9,2449.3L467.5,2449.3L470.1,2449.3L472.7,2449.3L475.3,2449.3L477.9,2449.3L480.5,2449.3L483.1,2449.3L485.7,2449.3L488.3,2449.3L491.0,2449.3L493.6,2449.3L496.2,2449.3L498.8,2449.3L501.4,2449.3L504.0,2449.3L506.6,2449.3L509.2,2449.3L511.8,2449.3L514.4,2449.3L517.0,2449.3L519.7,2449.3L522.3,2449.3L524.9,2449.3L527.5,2449.3L530.1,2449.3L532.7,2449.3L535.3,2449.3L537.9,2449.4L540.5,2449.4L543.1,2449.4L545.7,2449.4L548.4,2449.4L551.0,2449.4L553.6,2449.4L556.2,2449.4L558.8,2449.4L561.4,2449.4L564.0,2449.4L566.6,2449.4L569.2,2449.4L571.8,2449.4L574.4,2449.4L577.0,2449.4L579.7,2449.4L582.3,2449.3L584.9,2449.3L587.5,2449.3L590.1,2449.3L592.7,2449.3L595.3,2449.3L597.9,2449.3L600.5,2449.3L603.1,2449.3L605.7,2449.3L608.4,2449.3L611.0,2449.3L613.6,2449.3L616.2,2449.3L618.8,2449.3L621.4,2449.3L624.0,2449.3L626.6,2449.3L629.2,2449.3L631.8,2449.3L634.4,2449.3L637.1,2449.3L639.7,2449.3L642.3,2449.3L644.9,2449.3L647.5,2449.3L650.1,2449.3L652.7,2449.3L655.3,2449.3L657.9,2449.3L660.5,2449.3L663.1,2449.3L665.8,2449.2L668.4,2449.2L671.0,2449.2L673.6,2449.2L676.2,2449.2L678.8,2449.2L681.4,2449.2L684.0,2449.2L686.6,2449.2L689.2,2449.2L691.8,2449.2L694.5,2449.2L697.1,2449.1L699.7,2449.1L702.3,2449.1L704.9,2449.1L707.5,2449.1L710.1,2449.1L712.7,2449.1L715.3,2449.1L717.9,2449.0L720.5,2449.0L723.2,2449.0L725.8,2449.0L728.4,2449.0L731.0,2449.0L733.6,2448.9L736.2,2448.9L738.8,2448.9L741.4,2448.9L744.0,2448.9L746.6,2448.9L749.2,2448.8L751.9,2448.8L754.5,2448.8L757.1,2448.8L759.7,2448.7L762.3,2448.7L764.9,2448.7L767.5,2448.6L770.1,2448.6L772.7,2448.6L775.3,2448.6L777.9,2448.5L780.6,2448.5L783.2,2448.4L785.8,2448.4L788.4,2448.4L791.0,2448.3L793.6,2448.3L796.2,2448.2L798.8,2448.2L801.4,2448.1L804.0,2448.1L806.6,2448.0L809.2,2448.0L811.9,2447.9L814.5,2447.9L817.1,2447.8L819.7,2447.7L822.3,2447.7L824.9,2447.6L827.5,2447.5L830.1,2447.4L832.7,2447.4L835.3,2447.3L837.9,2447.2L840.6,2447.1L843.2,2447.0L845.8,2446.9L848.4,2446.7L851.0,2446.6L853.6,2446.5L856.2,2446.3L858.8,2446.2L861.4,2446.0L864.0,2445.9L866.6,2445.7L869.3,2445.5L871.9,2445.2L874.5,2445.0L877.1,2444.7L879.7,2444.4L882.3,2444.0L884.9,2443.6L887.5,2443.1L890.1,2442.6L892.7,2442.0L895.3,2441.3L898.0,2440.5L900.6,2439.6L903.2,2438.5L905.8,2437.3L908.4,2435.9L911.0,2434.3L913.6,2432.5L916.2,2430.4L918.8,2428.0L921.4,2425.3L924.0,2422.3L926.7,2419.0L929.3,2415.2L931.9,2411.1L934.5,2406.6L937.1,2401.6L939.7,2396.3L942.3,2390.5L944.9,2384.3L947.5,2377.7L950.1,2370.8L952.7,2363.6L955.4,2356.2L958.0,2348.5L960.6,2340.7L963.2,2332.9L965.8,2325.2L968.4,2317.6L971.0,2310.4L973.6,2303.5L976.2,2297.2L978.8,2291.6L981.4,2286.8L984.1,2283.0L986.7,2280.3L989.3,2278.6L991.9,2278.2L994.5,2278.9L997.1,2280.5L999.7,2283.0L1002.3,2286.5L1004.9,2290.7L1007.5,2295.6L1010.1,2301.2L1012.8,2307.2L1015.4,2313.6L1018.0,2320.3L1020.6,2327.3L1023.2,2334.3L1025.8,2341.4L1028.4,2348.5L1031.0,2355.4L1033.6,2362.2L1036.2,2368.8L1038.8,2375.2L1041.5,2381.3L1044.1,2387.1L1046.7,2392.6L1049.3,2397.7L1051.9,2402.6L1054.5,2407.0L1057.1,2411.1L1059.7,2414.9L1062.3,2418.4L1064.9,2421.5L1067.5,2424.4L1070.2,2427.0L1072.8,2429.3L1075.4,2431.4L1078.0,2433.2L1080.6,2434.8L1083.2,2436.3L1085.8,2437.6L1088.4,2438.7L1091.0,2439.7L1093.6,2440.6L1096.2,2441.4L1098.8,2442.0L1101.5,2442.7L1104.1,2443.2L1106.7,2443.7L1109.3,2444.1L1111.9,2444.5L1114.5,2444.8L1117.1,2445.1L1119.7,2445.4L1122.3,2445.6L1124.9,2445.8L1127.5,2446.0L1130.2,2446.2L1132.8,2446.4L1135.4,2446.6L1138.0,2446.7L1140.6,2446.9L1143.2,2447.0L1145.8,2447.2L1148.4,2447.3L1151.0,2447.4L1153.6,2447.5L1156.2,2447.6L1158.9,2447.7L1161.5,2447.8L1164.1,2447.9L1166.7,2448.0L1169.3,2448.1L1171.9,2448.2L1174.5,2448.2L1177.1,2448.3L1179.7,2448.4L1182.3,2448.5L1184.9,2448.5L1187.6,2448.6L1190.2,2448.7L1192.8,2448.7L1195.4,2448.8L1198.0,2448.8L1200.6,2448.9L1203.2,2449.0L1205.8,2449.0L1208.4,2449.1L1211.0,2449.1L1213.6,2449.2L1216.3,2449.2L1218.9,2449.2L1221.5,2449.3L1224.1,2449.3L1226.7,2449.4L1229.3,2449.4L1231.9,2449.5L1234.5,2449.5L1237.1,2449.5L1239.7,2449.6L1242.3,2449.6L1245.0,2449.6L1247.6,2449.7L1250.2,2449.7L1252.8,2449.7L1255.4,2449.8L1258.0,2449.8L1260.6,2449.8L1263.2,2449.9L1265.8,2449.9L1268.4,2449.9L1271.0,2449.9L1273.7,2450.0L1276.3,2450.0L1278.9,2450.0L1281.5,2450.0L1284.1,2450.1L1286.7,2450.1L1289.3,2450.1L1291.9,2450.1L1294.5,2450.2L1297.1,2450.2L1299.7,2450.2L1302.4,2450.2L1305.0,2450.2L1307.6,2450.3L1310.2,2450.3L1312.8,2450.3L1315.4,2450.3L1318.0,2450.3L1320.6,2450.4L1323.2,2450.4L1325.8,2450.4L1328.4,2450.4L1331.0,2450.4L1333.7,2450.4L1336.3,2450.5L1338.9,2450.5L1341.5,2450.5L1344.1,2450.5L1346.7,2450.5L1349.3,2450.5L1351.9,2450.6L1354.5,2450.6L1357.1,2450.6L1359.7,2450.6L1362.4,2450.6L1365.0,2450.6L1367.6,2450.7L1370.2,2450.7L1372.8,2450.7L1375.4,2450.7L1378.0,2450.7L1380.6,2450.7L1383.2,2450.7L1385.8,2450.7L1388.4,2450.8L1391.1,2450.8L1393.7,2450.8L1396.3,2450.8L1398.9,2450.8L1401.5,2450.8L1404.1,2450.8L1406.7,2450.8L1409.3,2450.9L1411.9,2450.9L1414.5,2450.9L1417.1,2450.9L1419.8,2450.9L1422.4,2450.9L1425.0,2450.9L1427.6,2450.9L1430.2,2450.9L1432.8,2451.0L1435.4,2451.0L1438.0,2451.0L1440.6,2451.0L1443.2,2451.0L1445.8,2451.0L1448.5,2451.0L1451.1,2451.0L1453.7,2451.0L1456.3,2451.1L1458.9,2451.1L1461.5,2451.1" stroke="#0000ff" stroke-width="7.4" fill="none" stroke-linejoin="round"/><path d="M157.0,2448.9L159.6,2448.9L162.2,2448.9L164.8,2448.9L167.4,2448.9L170.0,2448.9L172.7,2448.9L175.3,2448.9L177.9,2449.0L180.5,2449.0L183.1,2449.0L185.7,2449.0L188.3,2449.0L190.9,2449.0L193.5,2449.0L196.1,2449.0L198.7,2449.0L201.4,2449.0L204.0,2449.0L206.6,2449.0L209.2,2449.0L211.8,2449.0L214.4,2449.0L217.0,2449.0L219.6,2449.0L222.2,2449.0L224.8,2449.0L227.4,2449.0L230.1,2449.0L232.7,2449.0L235.3,2449.0L237.9,2449.1L240.5,2449.1L243.1,2449.1L245.7,2449.1L248.3,2449.1L250.9,2449.1L253.5,2449.1L256.1,2449.1L258.8,2449.1L261.4,2449.1L264.0,2449.1L266.6,2449.1L269.2,2449.1L271.8,2449.1L274.4,2449.1L277.0,2449.1L279.6,2449.1L282.2,2449.1L284.8,2449.1L287.4,2449.1L290.1,2449.1L292.7,2449.1L295.3,2449.1L297.9,2449.1L300.5,2449.1L303.1,2449.2L305.7,2449.2L308.3,2449.2L310.9,2449.2L313.5,2449.2L316.1,2449.2L318.8,2449.2L321.4,2449.2L324.0,2449.2L326.6,2449.2L329.2,2449.2L331.8,2449.2L334.4,2449.2L337.0,2449.2L339.6,2449.2L342.2,2449.2L344.8,2449.2L347.5,2449.2L350.1,2449.2L352.7,2449.2L355.3,2449.2L357.9,2449.2L360.5,2449.2L363.1,2449.2L365.7,2449.2L368.3,2449.2L370.9,2449.2L373.5,2449.3L376.2,2449.3L378.8,2449.3L381.4,2449.3L384.0,2449.3L386.6,2449.3L389.2,2449.3L391.8,2449.3L394.4,2449.3L397.0,2449.3L399.6,2449.3L402.2,2449.3L404.9,2449.3L407.5,2449.3L410.1,2449.3L412.7,2449.3L415.3,2449.3L417.9,2449.3L420.5,2449.3L423.1,2449.3L425.7,2449.3L428.3,2449.3L430.9,2449.3L433.6,2449.3L436.2,2449.3L438.8,2449.3L441.4,2449.3L444.0,2449.3L446.6,2449.3L449.2,2449.3L451.8,2449.3L454.4,2449.3L457.0,2449.3L459.6,2449.3L462.3,2449.3L464.9,2449.3L467.5,2449.4L470.1,2449.4L472.7,2449.4L475.3,2449.4L477.9,2449.4L480.5,2449.4L483.1,2449.4L485.7,2449.4L488.3,2449.4L491.0,2449.4L493.6,2449.4L496.2,2449.4L498.8,2449.4L501.4,2449.4L504.0,2449.4L506.6,2449.4L509.2,2449.4L511.8,2449.4L514.4,2449.4L517.0,2449.4L519.7,2449.4L522.3,2449.4L524.9,2449.4L527.5,2449.4L530.1,2449.4L532.7,2449.4L535.3,2449.4L537.9,2449.4L540.5,2449.4L543.1,2449.4L545.7,2449.4L548.4,2449.4L551.0,2449.4L553.6,2449.4L556.2,2449.4L558.8,2449.4L561.4,2449.4L564.0,2449.4L566.6,2449.4L569.2,2449.4L571.8,2449.4L574.4,2449.4L577.0,2449.4L579.7,2449.4L582.3,2449.4L584.9,2449.4L587.5,2449.4L590.1,2449.4L592.7,2449.4L595.3,2449.3L597.9,2449.3L600.5,2449.3L603.1,2449.3L605.7,2449.3L608.4,2449.3L611.0,2449.3L613.6,2449.3L616.2,2449.3L618.8,2449.3L621.4,2449.3L624.0,2449.3L626.6,2449.3L629.2,2449.3L631.8,2449.3L634.4,2449.3L637.1,2449.3L639.7,2449.2L642.3,2449.2L644.9,2449.2L647.5,2449.2L650.1,2449.2L652.7,2449.2L655.3,2449.2L657.9,2449.2L660.5,2449.2L663.1,2449.2L665.8,2449.1L668.4,2449.1L671.0,2449.1L673.6,2449.1L676.2,2449.1L678.8,2449.1L681.4,2449.0L684.0,2449.0L686.6,2449.0L689.2,2449.0L691.8,2449.0L694.5,2448.9L697.1,2448.9L699.7,2448.9L702.3,2448.9L704.9,2448.8L707.5,2448.8L710.1,2448.8L712.7,2448.8L715.3,2448.7L717.9,2448.7L720.5,2448.7L723.2,2448.6L725.8,2448.6L728.4,2448.5L731.0,2448.5L733.6,2448.5L736.2,2448.4L738.8,2448.3L741.4,2448.3L744.0,2448.2L746.6,2448.2L749.2,2448.1L751.9,2448.0L754.5,2447.9L757.1,2447.8L759.7,2447.7L762.3,2447.6L764.9,2447.4L767.5,2447.2L770.1,2447.0L772.7,2446.8L775.3,2446.5L777.9,2446.2L780.6,2445.8L783.2,2445.4L785.8,2444.9L788.4,2444.3L791.0,2443.7L793.6,2442.9L796.2,2442.0L798.8,2440.9L801.4,2439.7L804.0,2438.3L806.6,2436.7L809.2,2434.9L811.9,2432.9L814.5,2430.6L817.1,2428.1L819.7,2425.2L822.3,2422.1L824.9,2418.6L827.5,2414.8L830.1,2410.6L832.7,2406.1L835.3,2401.3L837.9,2396.2L840.6,2390.7L843.2,2384.9L845.8,2378.9L848.4,2372.6L851.0,2366.2L853.6,2359.6L856.2,2352.9L858.8,2346.1L861.4,2339.4L864.0,2332.9L866.6,2326.5L869.3,2320.3L871.9,2314.6L874.5,2309.3L877.1,2304.4L879.7,2300.2L882.3,2296.7L884.9,2293.9L887.5,2292.0L890.1,2290.8L892.7,2290.5L895.3,2291.1L898.0,2292.6L900.6,2295.0L903.2,2298.2L905.8,2302.1L908.4,2306.8L911.0,2312.0L913.6,2317.7L916.2,2323.8L918.8,2330.2L921.4,2336.9L924.0,2343.7L926.7,2350.6L929.3,2357.5L931.9,2364.3L934.5,2371.0L937.1,2377.5L939.7,2383.7L942.3,2389.7L944.9,2395.4L947.5,2400.7L950.1,2405.7L952.7,2410.4L955.4,2414.7L958.0,2418.6L960.6,2422.2L963.2,2425.4L965.8,2428.4L968.4,2431.0L971.0,2433.3L973.6,2435.4L976.2,2437.2L978.8,2438.8L981.4,2440.2L984.1,2441.5L986.7,2442.5L989.3,2443.4L991.9,2444.2L994.5,2444.9L997.1,2445.5L999.7,2446.0L1002.3,2446.4L1004.9,2446.8L1007.5,2447.1L1010.1,2447.4L1012.8,2447.6L1015.4,2447.8L1018.0,2448.0L1020.6,2448.1L1023.2,2448.3L1025.8,2448.4L1028.4,2448.5L1031.0,2448.6L1033.6,2448.7L1036.2,2448.8L1038.8,2448.8L1041.5,2448.9L1044.1,2449.0L1046.7,2449.0L1049.3,2449.1L1051.9,2449.2L1054.5,2449.2L1057.1,2449.3L1059.7,2449.3L1062.3,2449.4L1064.9,2449.4L1067.5,2449.4L1070.2,2449.5L1072.8,2449.5L1075.4,2449.6L1078.0,2449.6L1080.6,2449.6L1083.2,2449.7L1085.8,2449.7L1088.4,2449.7L1091.0,2449.8L1093.6,2449.8L1096.2,2449.8L1098.8,2449.9L1101.5,2449.9L1104.1,2449.9L1106.7,2449.9L1109.3,2450.0L1111.9,2450.0L1114.5,2450.0L1117.1,2450.0L1119.7,2450.1L1122.3,2450.1L1124.9,2450.1L1127.5,2450.1L1130.2,2450.1L1132.8,2450.2L1135.4,2450.2L1138.0,2450.2L1140.6,2450.2L1143.2,2450.2L1145.8,2450.3L1148.4,2450.3L1151.0,2450.3L1153.6,2450.3L1156.2,2450.3L1158.9,2450.3L1161.5,2450.4L1164.1,2450.4L1166.7,2450.4L1169.3,2450.4L1171.9,2450.4L1174.5,2450.4L1177.1,2450.4L1179.7,2450.5L1182.3,2450.5L1184.9,2450.5L1187.6,2450.5L1190.2,2450.5L1192.8,2450.5L1195.4,2450.5L1198.0,2450.5L1200.6,2450.6L1203.2,2450.6L1205.8,2450.6L1208.4,2450.6L1211.0,2450.6L1213.6,2450.6L1216.3,2450.6L1218.9,2450.6L1221.5,2450.7L1224.1,2450.7L1226.7,2450.7L1229.3,2450.7L1231.9,2450.7L1234.5,2450.7L1237.1,2450.7L1239.7,2450.7L1242.3,2450.7L1245.0,2450.7L1247.6,2450.8L1250.2,2450.8L1252.8,2450.8L1255.4,2450.8L1258.0,2450.8L1260.6,2450.8L1263.2,2450.8L1265.8,2450.8L1268.4,2450.8L1271.0,2450.8L1273.7,2450.9L1276.3,2450.9L1278.9,2450.9L1281.5,2450.9L1284.1,2450.9L1286.7,2450.9L1289.3,2450.9L1291.9,2450.9L1294.5,2450.9L1297.1,2450.9L1299.7,2450.9L1302.4,2450.9L1305.0,2451.0L1307.6,2451.0L1310.2,2451.0L1312.8,2451.0L1315.4,2451.0L1318.0,2451.0L1320.6,2451.0L1323.2,2451.0L1325.8,2451.0L1328.4,2451.0L1331.0,2451.0L1333.7,2451.0L1336.3,2451.0L1338.9,2451.1L1341.5,2451.1L1344.1,2451.1L1346.7,2451.1L1349.3,2451.1L1351.9,2451.1L1354.5,2451.1L1357.1,2451.1L1359.7,2451.1L1362.4,2451.1L1365.0,2451.1L1367.6,2451.1L1370.2,2451.1L1372.8,2451.1L1375.4,2451.2L1378.0,2451.2L1380.6,2451.2L1383.2,2451.2L1385.8,2451.2L1388.4,2451.2L1391.1,2451.2L1393.7,2451.2L1396.3,2451.2L1398.9,2451.2L1401.5,2451.2L1404.1,2451.2L1406.7,2451.2L1409.3,2451.2L1411.9,2451.2L1414.5,2451.3L1417.1,2451.3L1419.8,2451.3L1422.4,2451.3L1425.0,2451.3L1427.6,2451.3L1430.2,2451.3L1432.8,2451.3L1435.4,2451.3L1438.0,2451.3L1440.6,2451.3L1443.2,2451.3L1445.8,2451.3L1448.5,2451.3L1451.1,2451.3L1453.7,2451.4L1456.3,2451.4L1458.9,2451.4L1461.5,2451.4" stroke="#008000" stroke-width="7.4" fill="none" stroke-linejoin="round"/><path d="M157.0,2438.8L159.6,2438.5L162.2,2438.2L164.8,2437.9L167.4,2437.6L170.0,2437.4L172.7,2437.1L175.3,2436.8L177.9,2436.5L180.5,2436.2L183.1,2435.8L185.7,2435.5L188.3,2435.2L190.9,2434.8L193.5,2434.5L196.1,2434.1L198.7,2433.7L201.4,2433.3L204.0,2432.9L206.6,2432.4L209.2,2432.0L211.8,2431.5L214.4,2431.0L217.0,2430.5L219.6,2429.9L222.2,2429.3L224.8,2428.7L227.4,2428.1L230.1,2427.4L232.7,2426.7L235.3,2426.0L237.9,2425.2L240.5,2424.4L243.1,2423.6L245.7,2422.7L248.3,2421.8L250.9,2420.9L253.5,2419.9L256.1,2418.9L258.8,2417.7L261.4,2416.6L264.0,2415.3L266.6,2413.9L269.2,2412.5L271.8,2410.9L274.4,2409.2L277.0,2407.4L279.6,2405.4L282.2,2403.3L284.8,2401.0L287.4,2398.6L290.1,2396.0L292.7,2393.2L295.3,2390.2L297.9,2387.0L300.5,2383.6L303.1,2380.0L305.7,2376.2L308.3,2372.3L310.9,2368.1L313.5,2363.7L316.1,2359.1L318.8,2354.3L321.4,2349.3L324.0,2344.1L326.6,2338.7L329.2,2333.0L331.8,2327.2L334.4,2321.1L337.0,2314.9L339.6,2308.6L342.2,2302.3L344.8,2296.2L347.5,2290.3L350.1,2284.6L352.7,2279.4L355.3,2274.6L357.9,2270.4L360.5,2266.5L363.1,2262.9L365.7,2259.6L368.3,2256.3L370.9,2253.1L373.5,2249.9L376.2,2246.5L378.8,2243.0L381.4,2239.5L384.0,2236.1L386.6,2232.9L389.2,2229.9L391.8,2227.3L394.4,2225.1L397.0,2223.6L399.6,2222.6L402.2,2222.5L404.9,2223.1L407.5,2224.3L410.1,2226.1L412.7,2228.3L415.3,2230.7L417.9,2233.2L420.5,2235.8L423.1,2238.4L425.7,2241.1L428.3,2244.0L430.9,2247.1L433.6,2250.5L436.2,2254.1L438.8,2258.0L441.4,2262.3L444.0,2266.9L446.6,2271.9L449.2,2277.2L451.8,2282.7L454.4,2288.5L457.0,2294.4L459.6,2300.4L462.3,2306.4L464.9,2312.5L467.5,2318.5L470.1,2324.5L472.7,2330.5L475.3,2336.4L477.9,2342.2L480.5,2348.0L483.1,2353.6L485.7,2359.2L488.3,2364.7L491.0,2370.0L493.6,2375.2L496.2,2380.2L498.8,2385.0L501.4,2389.7L504.0,2394.2L506.6,2398.5L509.2,2402.5L511.8,2406.4L514.4,2409.9L517.0,2413.3L519.7,2416.3L522.3,2419.1L524.9,2421.5L527.5,2423.7L530.1,2425.6L532.7,2427.2L535.3,2428.6L537.9,2429.8L540.5,2430.8L543.1,2431.7L545.7,2432.5L548.4,2433.2L551.0,2433.8L553.6,2434.4L556.2,2435.0L558.8,2435.4L561.4,2435.9L564.0,2436.2L566.6,2436.6L569.2,2436.8L571.8,2437.1L574.4,2437.3L577.0,2437.5L579.7,2437.6L582.3,2437.7L584.9,2437.8L587.5,2437.8L590.1,2437.9L592.7,2437.9L595.3,2437.9L597.9,2437.9L600.5,2437.9L603.1,2437.9L605.7,2437.9L608.4,2437.9L611.0,2437.8L613.6,2437.8L616.2,2437.8L618.8,2437.8L621.4,2437.8L624.0,2437.8L626.6,2437.8L629.2,2437.9L631.8,2437.9L634.4,2437.9L637.1,2437.9L639.7,2437.9L642.3,2438.0L644.9,2438.0L647.5,2438.0L650.1,2438.1L652.7,2438.1L655.3,2438.2L657.9,2438.2L660.5,2438.3L663.1,2438.3L665.8,2438.4L668.4,2438.4L671.0,2438.5L673.6,2438.5L676.2,2438.6L678.8,2438.7L681.4,2438.7L684.0,2438.8L686.6,2438.8L689.2,2438.9L691.8,2439.0L694.5,2439.1L697.1,2439.1L699.7,2439.2L702.3,2439.3L704.9,2439.3L707.5,2439.4L710.1,2439.5L712.7,2439.5L715.3,2439.5L717.9,2439.6L720.5,2439.6L723.2,2439.6L725.8,2439.6L728.4,2439.5L731.0,2439.5L733.6,2439.4L736.2,2439.3L738.8,2439.2L741.4,2439.0L744.0,2438.8L746.6,2438.6L749.2,2438.3L751.9,2438.0L754.5,2437.6L757.1,2437.3L759.7,2436.8L762.3,2436.3L764.9,2435.8L767.5,2435.2L770.1,2434.6L772.7,2433.9L775.3,2433.2L777.9,2432.4L780.6,2431.5L783.2,2430.6L785.8,2429.6L788.4,2428.5L791.0,2427.4L793.6,2426.2L796.2,2424.9L798.8,2423.5L801.4,2422.0L804.0,2420.3L806.6,2418.5L809.2,2416.6L811.9,2414.4L814.5,2412.1L817.1,2409.5L819.7,2406.8L822.3,2403.8L824.9,2400.5L827.5,2397.0L830.1,2393.2L832.7,2389.1L835.3,2384.7L837.9,2380.0L840.6,2375.0L843.2,2369.5L845.8,2363.8L848.4,2357.6L851.0,2351.1L853.6,2344.2L856.2,2336.9L858.8,2329.4L861.4,2321.7L864.0,2313.8L866.6,2305.7L869.3,2297.4L871.9,2289.1L874.5,2280.8L877.1,2272.5L879.7,2264.3L882.3,2256.6L884.9,2249.5L887.5,2243.4L890.1,2238.2L892.7,2233.6L895.3,2229.4L898.0,2225.4L900.6,2221.3L903.2,2216.8L905.8,2211.9L908.4,2206.6L911.0,2200.9L913.6,2194.8L916.2,2188.3L918.8,2181.5L921.4,2174.3L924.0,2166.8L926.7,2159.2L929.3,2151.5L931.9,2144.0L934.5,2137.0L937.1,2130.9L939.7,2126.3L942.3,2123.4L944.9,2122.4L947.5,2123.3L950.1,2125.9L952.7,2129.6L955.4,2134.2L958.0,2139.3L960.6,2144.8L963.2,2150.4L965.8,2156.0L968.4,2161.4L971.0,2166.3L973.6,2170.8L976.2,2175.0L978.8,2179.1L981.4,2183.2L984.1,2187.3L986.7,2191.7L989.3,2196.4L991.9,2201.5L994.5,2207.2L997.1,2213.6L999.7,2220.7L1002.3,2228.7L1004.9,2237.4L1007.5,2246.7L1010.1,2256.4L1012.8,2266.1L1015.4,2275.8L1018.0,2285.3L1020.6,2294.6L1023.2,2303.7L1025.8,2312.5L1028.4,2321.0L1031.0,2329.1L1033.6,2336.7L1036.2,2343.7L1038.8,2350.3L1041.5,2356.4L1044.1,2362.0L1046.7,2367.4L1049.3,2372.5L1051.9,2377.5L1054.5,2382.4L1057.1,2387.2L1059.7,2391.8L1062.3,2396.3L1064.9,2400.6L1067.5,2404.7L1070.2,2408.7L1072.8,2412.4L1075.4,2415.9L1078.0,2419.1L1080.6,2422.1L1083.2,2424.7L1085.8,2427.1L1088.4,2429.2L1091.0,2430.9L1093.6,2432.4L1096.2,2433.6L1098.8,2434.7L1101.5,2435.5L1104.1,2436.2L1106.7,2436.7L1109.3,2437.2L1111.9,2437.6L1114.5,2437.9L1117.1,2438.3L1119.7,2438.6L1122.3,2439.0L1124.9,2439.3L1127.5,2439.6L1130.2,2439.9L1132.8,2440.2L1135.4,2440.5L1138.0,2440.8L1140.6,2441.1L1143.2,2441.4L1145.8,2441.7L1148.4,2442.0L1151.0,2442.3L1153.6,2442.5L1156.2,2442.8L1158.9,2443.0L1161.5,2443.3L1164.1,2443.5L1166.7,2443.7L1169.3,2444.0L1171.9,2444.2L1174.5,2444.4L1177.1,2444.6L1179.7,2444.8L1182.3,2444.9L1184.9,2445.1L1187.6,2445.3L1190.2,2445.5L1192.8,2445.6L1195.4,2445.8L1198.0,2445.9L1200.6,2446.1L1203.2,2446.2L1205.8,2446.3L1208.4,2446.4L1211.0,2446.6L1213.6,2446.7L1216.3,2446.8L1218.9,2446.9L1221.5,2447.0L1224.1,2447.1L1226.7,2447.2L1229.3,2447.3L1231.9,2447.3L1234.5,2447.4L1237.1,2447.5L1239.7,2447.5L1242.3,2447.6L1245.0,2447.7L1247.6,2447.7L1250.2,2447.8L1252.8,2447.8L1255.4,2447.9L1258.0,2447.9L1260.6,2447.9L1263.2,2448.0L1265.8,2448.0L1268.4,2448.0L1271.0,2448.0L1273.7,2448.1L1276.3,2448.1L1278.9,2448.1L1281.5,2448.1L1284.1,2448.1L1286.7,2448.1L1289.3,2448.1L1291.9,2448.1L1294.5,2448.1L1297.1,2448.1L1299.7,2448.1L1302.4,2448.1L1305.0,2448.1L1307.6,2448.1L1310.2,2448.1L1312.8,2448.1L1315.4,2448.1L1318.0,2448.1L1320.6,2448.1L1323.2,2448.1L1325.8,2448.1L1328.4,2448.1L1331.0,2448.1L1333.7,2448.0L1336.3,2448.0L1338.9,2448.0L1341.5,2448.0L1344.1,2448.0L1346.7,2448.0L1349.3,2448.0L1351.9,2448.0L1354.5,2448.0L1357.1,2447.9L1359.7,2447.9L1362.4,2447.9L1365.0,2447.9L1367.6,2447.9L1370.2,2447.9L1372.8,2447.9L1375.4,2447.9L1378.0,2447.9L1380.6,2447.9L1383.2,2447.9L1385.8,2447.9L1388.4,2448.0L1391.1,2448.0L1393.7,2448.0L1396.3,2448.0L1398.9,2448.0L1401.5,2448.1L1404.1,2448.1L1406.7,2448.1L1409.3,2448.1L1411.9,2448.2L1414.5,2448.2L1417.1,2448.3L1419.8,2448.3L1422.4,2448.4L1425.0,2448.4L1427.6,2448.5L1430.2,2448.5L1432.8,2448.6L1435.4,2448.7L1438.0,2448.7L1440.6,2448.8L1443.2,2448.9L1445.8,2449.0L1448.5,2449.1L1451.1,2449.2L1453.7,2449.3L1456.3,2449.4L1458.9,2449.5L1461.5,2449.6" stroke="#ff0000" stroke-width="8.8" fill="none" stroke-linejoin="round"/>
<g stroke="#000" fill="none">
<rect x="132" y="26" width="1328" height="1766.5" stroke-width="7.6"/>
<line x1="128" y1="466.5" x2="1464" y2="466.5" stroke-width="7.2"/>
<line x1="128" y1="910" x2="1464" y2="910" stroke-width="7.2"/>
<line x1="128" y1="1352" x2="1464" y2="1352" stroke-width="7.2"/>
<rect x="129.5" y="2036" width="1331.5" height="467.5" stroke-width="5.6"/>
</g>
<g stroke="#000"><line x1="197.3" y1="1768.5" x2="197.3" y2="1792" stroke-width="6"/><line x1="345.6" y1="1779.5" x2="345.6" y2="1792" stroke-width="6"/><line x1="493.8" y1="1768.5" x2="493.8" y2="1792" stroke-width="6"/><line x1="642.0" y1="1779.5" x2="642.0" y2="1792" stroke-width="6"/><line x1="790.3" y1="1768.5" x2="790.3" y2="1792" stroke-width="6"/><line x1="938.5" y1="1779.5" x2="938.5" y2="1792" stroke-width="6"/><line x1="1086.8" y1="1768.5" x2="1086.8" y2="1792" stroke-width="6"/><line x1="1235.0" y1="1779.5" x2="1235.0" y2="1792" stroke-width="6"/><line x1="1383.3" y1="1768.5" x2="1383.3" y2="1792" stroke-width="6"/><line x1="128.5" y1="2478.5" x2="128.5" y2="2503" stroke-width="4.6"/><line x1="291.2" y1="2490" x2="291.2" y2="2503" stroke-width="4.6"/><line x1="454.0" y1="2478.5" x2="454.0" y2="2503" stroke-width="4.6"/><line x1="616.8" y1="2490" x2="616.8" y2="2503" stroke-width="4.6"/><line x1="779.5" y1="2478.5" x2="779.5" y2="2503" stroke-width="4.6"/><line x1="942.2" y1="2490" x2="942.2" y2="2503" stroke-width="4.6"/><line x1="1105.0" y1="2478.5" x2="1105.0" y2="2503" stroke-width="4.6"/><line x1="1267.8" y1="2490" x2="1267.8" y2="2503" stroke-width="4.6"/><line x1="1430.5" y1="2478.5" x2="1430.5" y2="2503" stroke-width="4.6"/></g>
<g font-family="Liberation Serif" font-weight="bold" fill="#000"><text x="196.3" y="1866" text-anchor="middle" font-size="66">340</text><text x="492.8" y="1866" text-anchor="middle" font-size="66">330</text><text x="789.3" y="1866" text-anchor="middle" font-size="66">320</text><text x="1085.8" y="1866" text-anchor="middle" font-size="66">310</text><text x="1382.3" y="1866" text-anchor="middle" font-size="66">300</text><text x="126.5" y="2578" text-anchor="middle" font-size="60">500</text><text x="452.0" y="2578" text-anchor="middle" font-size="60">495</text><text x="777.5" y="2578" text-anchor="middle" font-size="60">490</text><text x="1103.0" y="2578" text-anchor="middle" font-size="60">485</text><text x="1428.5" y="2578" text-anchor="middle" font-size="60">480</text><text x="286.8" y="124.4" font-size="50">Pt 4d<tspan font-size="35" dx="2">3/2</tspan></text><text x="891.8" y="91.8" font-size="50">Pt 4d<tspan font-size="35" dx="2">5/2</tspan></text><text x="289.8" y="571" font-size="50">Pt 4d<tspan font-size="35" dx="2">3/2</tspan></text><text x="884.1" y="527.6" font-size="50">Pt 4d<tspan font-size="35" dx="2">5/2</tspan></text><text x="298.1" y="1016.9" font-size="50">Pt 4d<tspan font-size="35" dx="2">3/2</tspan></text><text x="910.6" y="970.2" font-size="50">Pt 4d<tspan font-size="35" dx="2">5/2</tspan></text><text x="310.8" y="1455.2" font-size="50">Pt 4d<tspan font-size="35" dx="2">3/2</tspan></text><text x="924.1" y="1417.9" font-size="50">Pt 4d<tspan font-size="35" dx="2">5/2</tspan></text><text x="321.6" y="2167.3" font-size="50">Sn 3d<tspan font-size="35" dx="2">3/2</tspan></text><text x="882.2" y="2096.3" font-size="50">Sn 3d<tspan font-size="35" dx="2">5/2</tspan></text><text transform="translate(1352.6,123.8) scale(0.835,1)" font-size="91">a</text><text transform="translate(1336.7,565.5) scale(0.98,1)" font-size="85">b</text><text transform="translate(1350.6,1007.7) scale(0.89,1)" font-size="91">c</text><text transform="translate(1344.2,1452.3) scale(0.974,1)" font-size="83.5">d</text><text transform="translate(1332.0,2154.4) scale(1.0,1)" font-size="98">e</text><text x="642.5" y="1955.6" font-size="84">B.E.(eV)</text><text x="650.4" y="2642" font-size="66">B.E.(eV)</text><text transform="translate(81.5,1224.9) rotate(-90)" font-size="85.5">Intensity(a.u.)</text><text transform="translate(69.8,2456.3) rotate(-90)" font-size="68.4">Intensity(a.u.)</text></g>
</g>
</svg></body></html>
